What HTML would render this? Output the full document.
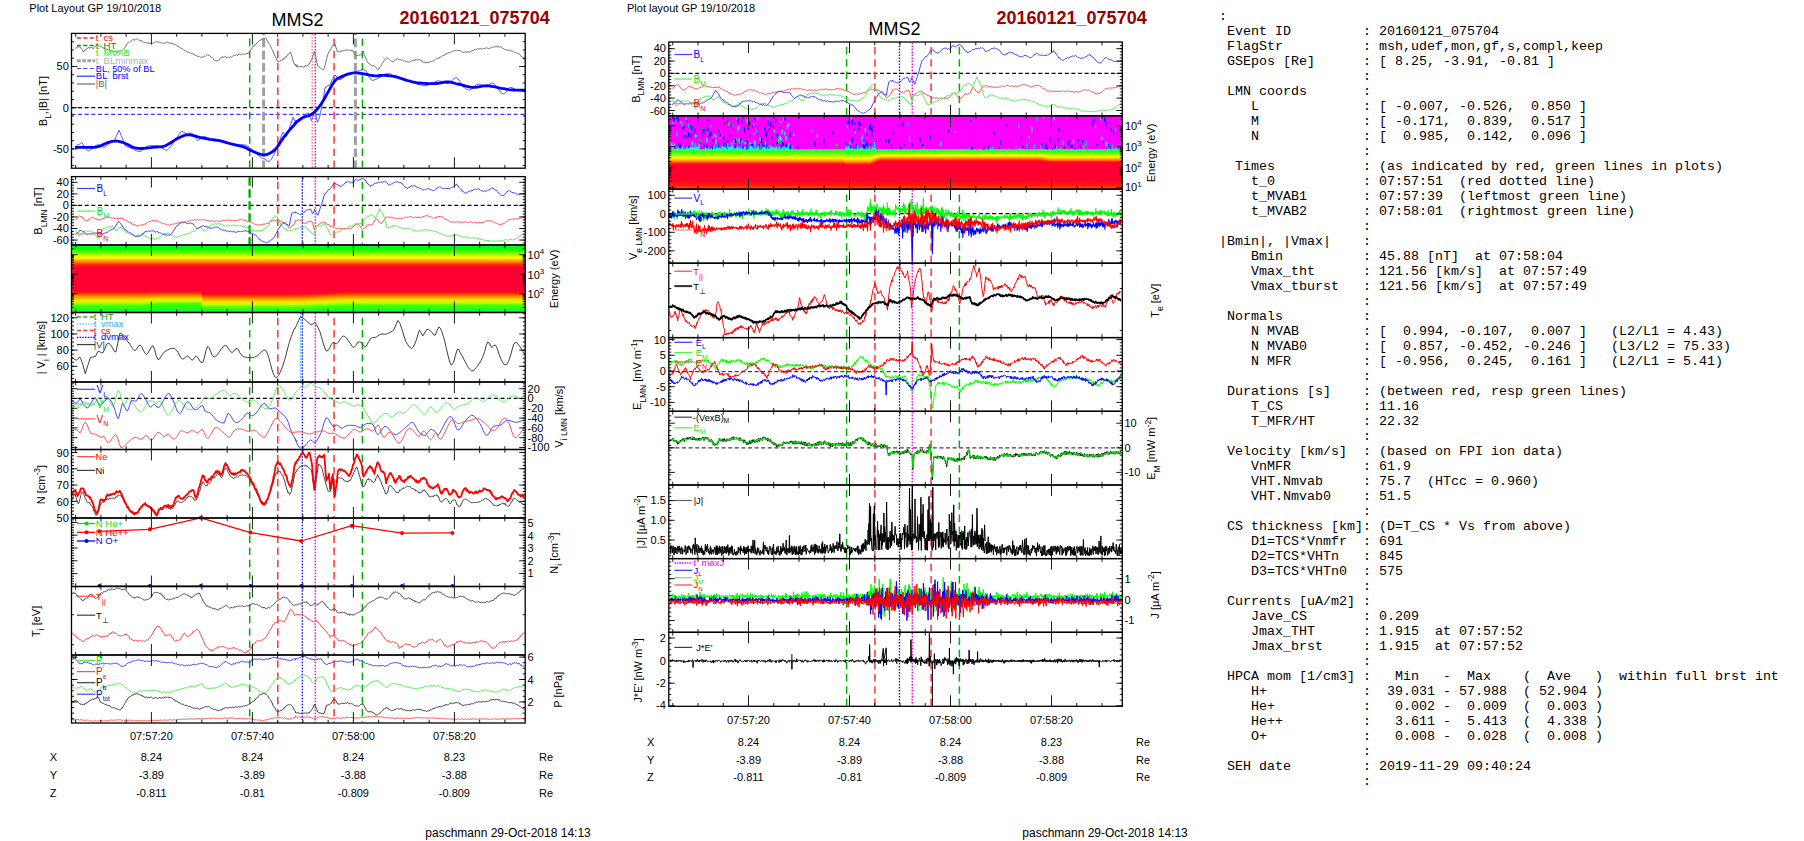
<!DOCTYPE html><html><head><meta charset="utf-8"><style>html,body{margin:0;padding:0;background:#fff;overflow:hidden}svg{display:block}</style></head><body><svg width="1804" height="841" viewBox="0 0 1804 841" font-family='"Liberation Sans", sans-serif'>
<rect width="1804" height="841" fill="#fff"/>
<text x="29.3" y="11.8" font-size="11" text-anchor="start" fill="#000" font-weight="normal">Plot Layout GP 19/10/2018</text>
<text x="271.5" y="26.2" font-size="18" text-anchor="start" fill="#000" font-weight="normal">MMS2</text>
<text x="399.5" y="24" font-size="18" text-anchor="start" fill="#990000" font-weight="bold">20160121_075704</text>
<text x="627" y="11.8" font-size="11" text-anchor="start" fill="#000" font-weight="normal">Plot layout GP 19/10/2018</text>
<text x="868.5" y="35" font-size="18" text-anchor="start" fill="#000" font-weight="normal">MMS2</text>
<text x="996.5" y="24" font-size="18" text-anchor="start" fill="#990000" font-weight="bold">20160121_075704</text>
<text x="425.3" y="837.3" font-size="12" text-anchor="start" fill="#000" font-weight="normal">paschmann 29-Oct-2018 14:13</text>
<text x="1022.3" y="837.3" font-size="12" text-anchor="start" fill="#000" font-weight="normal">paschmann 29-Oct-2018 14:13</text>
<defs>
<linearGradient id="sg0" x1="0" y1="0" x2="0" y2="1"><stop offset="0" stop-color="#00ff60"/><stop offset="0.04" stop-color="#00ff00"/><stop offset="0.10" stop-color="#40ff00"/><stop offset="0.15" stop-color="#c0ff00"/><stop offset="0.19" stop-color="#ffff00"/><stop offset="0.235" stop-color="#ffa000"/><stop offset="0.28" stop-color="#ff4000"/><stop offset="0.31" stop-color="#ff1020"/><stop offset="0.33" stop-color="#ff0033"/><stop offset="0.685" stop-color="#ff0033"/><stop offset="0.715" stop-color="#ff3000"/><stop offset="0.760" stop-color="#ff9000"/><stop offset="0.815" stop-color="#ffe000"/><stop offset="0.855" stop-color="#c0ff00"/><stop offset="0.900" stop-color="#40ff00"/><stop offset="1" stop-color="#00ff30"/></linearGradient><linearGradient id="sg1" x1="0" y1="0" x2="0" y2="1"><stop offset="0" stop-color="#00ff60"/><stop offset="0.04" stop-color="#00ff00"/><stop offset="0.10" stop-color="#40ff00"/><stop offset="0.15" stop-color="#c0ff00"/><stop offset="0.19" stop-color="#ffff00"/><stop offset="0.235" stop-color="#ffa000"/><stop offset="0.28" stop-color="#ff4000"/><stop offset="0.31" stop-color="#ff1020"/><stop offset="0.33" stop-color="#ff0033"/><stop offset="0.685" stop-color="#ff0033"/><stop offset="0.715" stop-color="#ff3000"/><stop offset="0.759" stop-color="#ff9000"/><stop offset="0.813" stop-color="#ffe000"/><stop offset="0.853" stop-color="#c0ff00"/><stop offset="0.897" stop-color="#40ff00"/><stop offset="1" stop-color="#00ff30"/></linearGradient><linearGradient id="sg2" x1="0" y1="0" x2="0" y2="1"><stop offset="0" stop-color="#00ff60"/><stop offset="0.04" stop-color="#00ff00"/><stop offset="0.10" stop-color="#40ff00"/><stop offset="0.15" stop-color="#c0ff00"/><stop offset="0.19" stop-color="#ffff00"/><stop offset="0.235" stop-color="#ffa000"/><stop offset="0.28" stop-color="#ff4000"/><stop offset="0.31" stop-color="#ff1020"/><stop offset="0.33" stop-color="#ff0033"/><stop offset="0.684" stop-color="#ff0033"/><stop offset="0.714" stop-color="#ff3000"/><stop offset="0.757" stop-color="#ff9000"/><stop offset="0.809" stop-color="#ffe000"/><stop offset="0.847" stop-color="#c0ff00"/><stop offset="0.889" stop-color="#40ff00"/><stop offset="1" stop-color="#00ff30"/></linearGradient><linearGradient id="sg3" x1="0" y1="0" x2="0" y2="1"><stop offset="0" stop-color="#00ff60"/><stop offset="0.04" stop-color="#00ff00"/><stop offset="0.10" stop-color="#40ff00"/><stop offset="0.15" stop-color="#c0ff00"/><stop offset="0.19" stop-color="#ffff00"/><stop offset="0.235" stop-color="#ffa000"/><stop offset="0.28" stop-color="#ff4000"/><stop offset="0.31" stop-color="#ff1020"/><stop offset="0.33" stop-color="#ff0033"/><stop offset="0.684" stop-color="#ff0033"/><stop offset="0.713" stop-color="#ff3000"/><stop offset="0.755" stop-color="#ff9000"/><stop offset="0.806" stop-color="#ffe000"/><stop offset="0.843" stop-color="#c0ff00"/><stop offset="0.883" stop-color="#40ff00"/><stop offset="1" stop-color="#00ff30"/></linearGradient><linearGradient id="sg4" x1="0" y1="0" x2="0" y2="1"><stop offset="0" stop-color="#00ff60"/><stop offset="0.04" stop-color="#00ff00"/><stop offset="0.10" stop-color="#40ff00"/><stop offset="0.15" stop-color="#c0ff00"/><stop offset="0.19" stop-color="#ffff00"/><stop offset="0.235" stop-color="#ffa000"/><stop offset="0.28" stop-color="#ff4000"/><stop offset="0.31" stop-color="#ff1020"/><stop offset="0.33" stop-color="#ff0033"/><stop offset="0.683" stop-color="#ff0033"/><stop offset="0.712" stop-color="#ff3000"/><stop offset="0.753" stop-color="#ff9000"/><stop offset="0.802" stop-color="#ffe000"/><stop offset="0.837" stop-color="#c0ff00"/><stop offset="0.875" stop-color="#40ff00"/><stop offset="1" stop-color="#00ff30"/></linearGradient><linearGradient id="sg5" x1="0" y1="0" x2="0" y2="1"><stop offset="0" stop-color="#00ff60"/><stop offset="0.04" stop-color="#00ff00"/><stop offset="0.10" stop-color="#40ff00"/><stop offset="0.15" stop-color="#c0ff00"/><stop offset="0.19" stop-color="#ffff00"/><stop offset="0.235" stop-color="#ffa000"/><stop offset="0.28" stop-color="#ff4000"/><stop offset="0.31" stop-color="#ff1020"/><stop offset="0.33" stop-color="#ff0033"/><stop offset="0.683" stop-color="#ff0033"/><stop offset="0.712" stop-color="#ff3000"/><stop offset="0.752" stop-color="#ff9000"/><stop offset="0.800" stop-color="#ffe000"/><stop offset="0.835" stop-color="#c0ff00"/><stop offset="0.872" stop-color="#40ff00"/><stop offset="1" stop-color="#00ff30"/></linearGradient><linearGradient id="sg6" x1="0" y1="0" x2="0" y2="1"><stop offset="0" stop-color="#00ff60"/><stop offset="0.04" stop-color="#00ff00"/><stop offset="0.10" stop-color="#40ff00"/><stop offset="0.15" stop-color="#c0ff00"/><stop offset="0.19" stop-color="#ffff00"/><stop offset="0.235" stop-color="#ffa000"/><stop offset="0.28" stop-color="#ff4000"/><stop offset="0.31" stop-color="#ff1020"/><stop offset="0.33" stop-color="#ff0033"/><stop offset="0.719" stop-color="#ff0033"/><stop offset="0.748" stop-color="#ff3000"/><stop offset="0.793" stop-color="#ff9000"/><stop offset="0.844" stop-color="#ffe000"/><stop offset="0.881" stop-color="#c0ff00"/><stop offset="0.926" stop-color="#40ff00"/><stop offset="1" stop-color="#00ff30"/></linearGradient><linearGradient id="sg7" x1="0" y1="0" x2="0" y2="1"><stop offset="0" stop-color="#00ff60"/><stop offset="0.04" stop-color="#00ff00"/><stop offset="0.10" stop-color="#40ff00"/><stop offset="0.15" stop-color="#c0ff00"/><stop offset="0.19" stop-color="#ffff00"/><stop offset="0.235" stop-color="#ffa000"/><stop offset="0.28" stop-color="#ff4000"/><stop offset="0.31" stop-color="#ff1020"/><stop offset="0.33" stop-color="#ff0033"/><stop offset="0.716" stop-color="#ff0033"/><stop offset="0.745" stop-color="#ff3000"/><stop offset="0.790" stop-color="#ff9000"/><stop offset="0.841" stop-color="#ffe000"/><stop offset="0.878" stop-color="#c0ff00"/><stop offset="0.923" stop-color="#40ff00"/><stop offset="1" stop-color="#00ff30"/></linearGradient><linearGradient id="sg8" x1="0" y1="0" x2="0" y2="1"><stop offset="0" stop-color="#00ff60"/><stop offset="0.04" stop-color="#00ff00"/><stop offset="0.10" stop-color="#40ff00"/><stop offset="0.15" stop-color="#c0ff00"/><stop offset="0.19" stop-color="#ffff00"/><stop offset="0.235" stop-color="#ffa000"/><stop offset="0.28" stop-color="#ff4000"/><stop offset="0.31" stop-color="#ff1020"/><stop offset="0.33" stop-color="#ff0033"/><stop offset="0.710" stop-color="#ff0033"/><stop offset="0.739" stop-color="#ff3000"/><stop offset="0.784" stop-color="#ff9000"/><stop offset="0.835" stop-color="#ffe000"/><stop offset="0.872" stop-color="#c0ff00"/><stop offset="0.917" stop-color="#40ff00"/><stop offset="1" stop-color="#00ff30"/></linearGradient><linearGradient id="sg9" x1="0" y1="0" x2="0" y2="1"><stop offset="0" stop-color="#00ff60"/><stop offset="0.04" stop-color="#00ff00"/><stop offset="0.10" stop-color="#40ff00"/><stop offset="0.15" stop-color="#c0ff00"/><stop offset="0.19" stop-color="#ffff00"/><stop offset="0.235" stop-color="#ffa000"/><stop offset="0.28" stop-color="#ff4000"/><stop offset="0.31" stop-color="#ff1020"/><stop offset="0.33" stop-color="#ff0033"/><stop offset="0.704" stop-color="#ff0033"/><stop offset="0.734" stop-color="#ff3000"/><stop offset="0.778" stop-color="#ff9000"/><stop offset="0.829" stop-color="#ffe000"/><stop offset="0.867" stop-color="#c0ff00"/><stop offset="0.911" stop-color="#40ff00"/><stop offset="1" stop-color="#00ff30"/></linearGradient><linearGradient id="sg10" x1="0" y1="0" x2="0" y2="1"><stop offset="0" stop-color="#00ff60"/><stop offset="0.04" stop-color="#00ff00"/><stop offset="0.10" stop-color="#40ff00"/><stop offset="0.15" stop-color="#c0ff00"/><stop offset="0.19" stop-color="#ffff00"/><stop offset="0.235" stop-color="#ffa000"/><stop offset="0.28" stop-color="#ff4000"/><stop offset="0.31" stop-color="#ff1020"/><stop offset="0.33" stop-color="#ff0033"/><stop offset="0.698" stop-color="#ff0033"/><stop offset="0.728" stop-color="#ff3000"/><stop offset="0.772" stop-color="#ff9000"/><stop offset="0.824" stop-color="#ffe000"/><stop offset="0.861" stop-color="#c0ff00"/><stop offset="0.905" stop-color="#40ff00"/><stop offset="1" stop-color="#00ff30"/></linearGradient><linearGradient id="sg11" x1="0" y1="0" x2="0" y2="1"><stop offset="0" stop-color="#00ff60"/><stop offset="0.04" stop-color="#00ff00"/><stop offset="0.10" stop-color="#40ff00"/><stop offset="0.15" stop-color="#c0ff00"/><stop offset="0.19" stop-color="#ffff00"/><stop offset="0.235" stop-color="#ffa000"/><stop offset="0.28" stop-color="#ff4000"/><stop offset="0.31" stop-color="#ff1020"/><stop offset="0.33" stop-color="#ff0033"/><stop offset="0.692" stop-color="#ff0033"/><stop offset="0.722" stop-color="#ff3000"/><stop offset="0.766" stop-color="#ff9000"/><stop offset="0.818" stop-color="#ffe000"/><stop offset="0.855" stop-color="#c0ff00"/><stop offset="0.899" stop-color="#40ff00"/><stop offset="1" stop-color="#00ff30"/></linearGradient><linearGradient id="sg12" x1="0" y1="0" x2="0" y2="1"><stop offset="0" stop-color="#00ff60"/><stop offset="0.04" stop-color="#00ff00"/><stop offset="0.10" stop-color="#40ff00"/><stop offset="0.15" stop-color="#c0ff00"/><stop offset="0.19" stop-color="#ffff00"/><stop offset="0.235" stop-color="#ffa000"/><stop offset="0.28" stop-color="#ff4000"/><stop offset="0.31" stop-color="#ff1020"/><stop offset="0.33" stop-color="#ff0033"/><stop offset="0.689" stop-color="#ff0033"/><stop offset="0.719" stop-color="#ff3000"/><stop offset="0.763" stop-color="#ff9000"/><stop offset="0.815" stop-color="#ffe000"/><stop offset="0.852" stop-color="#c0ff00"/><stop offset="0.896" stop-color="#40ff00"/><stop offset="1" stop-color="#00ff30"/></linearGradient>
<linearGradient id="specM" x1="0" y1="0" x2="0" y2="1">
<stop offset="0" stop-color="#ff00ff"/><stop offset="0.452" stop-color="#ff00ff"/>
<stop offset="0.457" stop-color="#00f0f0"/><stop offset="0.465" stop-color="#00ff80"/>
<stop offset="0.475" stop-color="#00ff40"/><stop offset="0.51" stop-color="#60ff00"/>
<stop offset="0.548" stop-color="#c0ff00"/><stop offset="0.575" stop-color="#ffff00"/>
<stop offset="0.602" stop-color="#ffc000"/><stop offset="0.629" stop-color="#ff8000"/>
<stop offset="0.663" stop-color="#ff3000"/><stop offset="0.69" stop-color="#ff0030"/>
<stop offset="0.888" stop-color="#ff0030"/><stop offset="0.943" stop-color="#ff2000"/>
<stop offset="1" stop-color="#ff4800"/></linearGradient>

</defs>
<rect x="71.5" y="245" width="69.5" height="67.5" fill="url(#sg0)"/>
<rect x="140" y="245" width="6" height="67.5" fill="url(#sg1)"/>
<rect x="145" y="245" width="6" height="67.5" fill="url(#sg2)"/>
<rect x="150" y="245" width="6" height="67.5" fill="url(#sg3)"/>
<rect x="155" y="245" width="6" height="67.5" fill="url(#sg4)"/>
<rect x="160" y="245" width="43" height="67.5" fill="url(#sg5)"/>
<rect x="202" y="245" width="99" height="67.5" fill="url(#sg6)"/>
<rect x="300" y="245" width="10" height="67.5" fill="url(#sg7)"/>
<rect x="309" y="245" width="10" height="67.5" fill="url(#sg8)"/>
<rect x="318" y="245" width="10" height="67.5" fill="url(#sg9)"/>
<rect x="327" y="245" width="10" height="67.5" fill="url(#sg10)"/>
<rect x="336" y="245" width="10" height="67.5" fill="url(#sg11)"/>
<rect x="345" y="245" width="180.2" height="67.5" fill="url(#sg12)"/>
<line x1="71.5" y1="107.7" x2="525.2" y2="107.7" stroke="#000" stroke-width="1.3" stroke-dasharray="4 2.6"/>
<line x1="71.5" y1="114.4" x2="525.2" y2="114.4" stroke="#3a3aff" stroke-width="1.2" stroke-dasharray="4 2.6"/>
<line x1="71.5" y1="205.4" x2="525.2" y2="205.4" stroke="#000" stroke-width="1.3" stroke-dasharray="4 2.6"/>
<line x1="71.5" y1="398.4" x2="525.2" y2="398.4" stroke="#000" stroke-width="1.3" stroke-dasharray="4 2.6"/>
<line x1="263.6" y1="34.1" x2="263.6" y2="167.5" stroke="#a0a0a0" stroke-width="3" stroke-dasharray="8.7 3.5" stroke-dashoffset="-4.5"/>
<line x1="355.4" y1="34.1" x2="355.4" y2="167.5" stroke="#a0a0a0" stroke-width="3" stroke-dasharray="8.7 3.5" stroke-dashoffset="-4.5"/>
<line x1="312.2" y1="34.1" x2="312.2" y2="167.5" stroke="#ff6060" stroke-width="1.2" stroke-dasharray="1.5 1.5" stroke-dashoffset="0"/>
<line x1="249.7" y1="34.1" x2="249.7" y2="167.5" stroke="#00b000" stroke-width="1.5" stroke-dasharray="7.5 4.7" stroke-dashoffset="-4.5"/>
<line x1="277.8" y1="34.1" x2="277.8" y2="167.5" stroke="#ff4040" stroke-width="1.6" stroke-dasharray="7.5 4.7" stroke-dashoffset="-4.5"/>
<line x1="315.3" y1="34.1" x2="315.3" y2="167.5" stroke="#ff00ff" stroke-width="1.5" stroke-dasharray="1.5 1.5" stroke-dashoffset="0"/>
<line x1="334.1" y1="34.1" x2="334.1" y2="167.5" stroke="#ff4040" stroke-width="1.6" stroke-dasharray="7.5 4.7" stroke-dashoffset="-4.5"/>
<line x1="362.4" y1="34.1" x2="362.4" y2="167.5" stroke="#00b000" stroke-width="1.5" stroke-dasharray="7.5 4.7" stroke-dashoffset="-4.5"/>
<line x1="249.6" y1="177.3" x2="249.6" y2="244.3" stroke="#00b000" stroke-width="2.4" stroke-dasharray="8.5 3.5" stroke-dashoffset="0"/>
<line x1="277.8" y1="177.3" x2="277.8" y2="244.3" stroke="#ff4040" stroke-width="1.6" stroke-dasharray="7.5 4.7" stroke-dashoffset="-4.5"/>
<line x1="302.3" y1="177.3" x2="302.3" y2="244.3" stroke="#0000ff" stroke-width="1.3" stroke-dasharray="1.5 1.5" stroke-dashoffset="0"/>
<line x1="315.3" y1="177.3" x2="315.3" y2="244.3" stroke="#ff00ff" stroke-width="1.5" stroke-dasharray="1.5 1.5" stroke-dashoffset="0"/>
<line x1="334.1" y1="177.3" x2="334.1" y2="244.3" stroke="#ff4040" stroke-width="1.6" stroke-dasharray="7.5 4.7" stroke-dashoffset="-4.5"/>
<line x1="362.4" y1="177.3" x2="362.4" y2="244.3" stroke="#00b000" stroke-width="1.5" stroke-dasharray="7.5 4.7" stroke-dashoffset="-4.5"/>
<line x1="249.7" y1="313.2" x2="249.7" y2="381.3" stroke="#00b000" stroke-width="1.5" stroke-dasharray="7.5 4.7" stroke-dashoffset="-4.5"/>
<line x1="277.8" y1="313.2" x2="277.8" y2="381.3" stroke="#ff4040" stroke-width="1.6" stroke-dasharray="7.5 4.7" stroke-dashoffset="-4.5"/>
<line x1="302.3" y1="313.2" x2="302.3" y2="381.3" stroke="#0000ff" stroke-width="1.3" stroke-dasharray="1.5 1.5" stroke-dashoffset="0"/>
<line x1="300.5" y1="313.2" x2="300.5" y2="381.3" stroke="#20c0ff" stroke-width="1.3" stroke-dasharray="1.5 1.5" stroke-dashoffset="0"/>
<line x1="315.3" y1="313.2" x2="315.3" y2="381.3" stroke="#ff00ff" stroke-width="1.5" stroke-dasharray="1.5 1.5" stroke-dashoffset="0"/>
<line x1="334.1" y1="313.2" x2="334.1" y2="381.3" stroke="#ff4040" stroke-width="1.6" stroke-dasharray="7.5 4.7" stroke-dashoffset="-4.5"/>
<line x1="362.4" y1="313.2" x2="362.4" y2="381.3" stroke="#00b000" stroke-width="1.5" stroke-dasharray="7.5 4.7" stroke-dashoffset="-4.5"/>
<line x1="249.7" y1="382.7" x2="249.7" y2="448.8" stroke="#00b000" stroke-width="1.5" stroke-dasharray="7.5 4.7" stroke-dashoffset="-4.5"/>
<line x1="277.8" y1="382.7" x2="277.8" y2="448.8" stroke="#ff4040" stroke-width="1.6" stroke-dasharray="7.5 4.7" stroke-dashoffset="-4.5"/>
<line x1="302.3" y1="382.7" x2="302.3" y2="448.8" stroke="#0000ff" stroke-width="1.3" stroke-dasharray="1.5 1.5" stroke-dashoffset="0"/>
<line x1="315.3" y1="382.7" x2="315.3" y2="448.8" stroke="#ff00ff" stroke-width="1.5" stroke-dasharray="1.5 1.5" stroke-dashoffset="0"/>
<line x1="334.1" y1="382.7" x2="334.1" y2="448.8" stroke="#ff4040" stroke-width="1.6" stroke-dasharray="7.5 4.7" stroke-dashoffset="-4.5"/>
<line x1="362.4" y1="382.7" x2="362.4" y2="448.8" stroke="#00b000" stroke-width="1.5" stroke-dasharray="7.5 4.7" stroke-dashoffset="-4.5"/>
<line x1="249.7" y1="450.2" x2="249.7" y2="517.3" stroke="#00b000" stroke-width="1.5" stroke-dasharray="7.5 4.7" stroke-dashoffset="-4.5"/>
<line x1="277.8" y1="450.2" x2="277.8" y2="517.3" stroke="#ff4040" stroke-width="1.6" stroke-dasharray="7.5 4.7" stroke-dashoffset="-4.5"/>
<line x1="302.3" y1="450.2" x2="302.3" y2="517.3" stroke="#0000ff" stroke-width="1.3" stroke-dasharray="1.5 1.5" stroke-dashoffset="0"/>
<line x1="315.3" y1="450.2" x2="315.3" y2="517.3" stroke="#ff00ff" stroke-width="1.5" stroke-dasharray="1.5 1.5" stroke-dashoffset="0"/>
<line x1="334.1" y1="450.2" x2="334.1" y2="517.3" stroke="#ff4040" stroke-width="1.6" stroke-dasharray="7.5 4.7" stroke-dashoffset="-4.5"/>
<line x1="362.4" y1="450.2" x2="362.4" y2="517.3" stroke="#00b000" stroke-width="1.5" stroke-dasharray="7.5 4.7" stroke-dashoffset="-4.5"/>
<line x1="249.7" y1="518.7" x2="249.7" y2="585.8" stroke="#00b000" stroke-width="1.5" stroke-dasharray="7.5 4.7" stroke-dashoffset="-4.5"/>
<line x1="277.8" y1="518.7" x2="277.8" y2="585.8" stroke="#ff4040" stroke-width="1.6" stroke-dasharray="7.5 4.7" stroke-dashoffset="-4.5"/>
<line x1="302.3" y1="518.7" x2="302.3" y2="585.8" stroke="#0000ff" stroke-width="1.3" stroke-dasharray="1.5 1.5" stroke-dashoffset="0"/>
<line x1="315.3" y1="518.7" x2="315.3" y2="585.8" stroke="#ff00ff" stroke-width="1.5" stroke-dasharray="1.5 1.5" stroke-dashoffset="0"/>
<line x1="334.1" y1="518.7" x2="334.1" y2="585.8" stroke="#ff4040" stroke-width="1.6" stroke-dasharray="7.5 4.7" stroke-dashoffset="-4.5"/>
<line x1="362.4" y1="518.7" x2="362.4" y2="585.8" stroke="#00b000" stroke-width="1.5" stroke-dasharray="7.5 4.7" stroke-dashoffset="-4.5"/>
<line x1="249.7" y1="587.2" x2="249.7" y2="654.3" stroke="#00b000" stroke-width="1.5" stroke-dasharray="7.5 4.7" stroke-dashoffset="-4.5"/>
<line x1="277.8" y1="587.2" x2="277.8" y2="654.3" stroke="#ff4040" stroke-width="1.6" stroke-dasharray="7.5 4.7" stroke-dashoffset="-4.5"/>
<line x1="302.3" y1="587.2" x2="302.3" y2="654.3" stroke="#0000ff" stroke-width="1.3" stroke-dasharray="1.5 1.5" stroke-dashoffset="0"/>
<line x1="315.3" y1="587.2" x2="315.3" y2="654.3" stroke="#ff00ff" stroke-width="1.5" stroke-dasharray="1.5 1.5" stroke-dashoffset="0"/>
<line x1="334.1" y1="587.2" x2="334.1" y2="654.3" stroke="#ff4040" stroke-width="1.6" stroke-dasharray="7.5 4.7" stroke-dashoffset="-4.5"/>
<line x1="362.4" y1="587.2" x2="362.4" y2="654.3" stroke="#00b000" stroke-width="1.5" stroke-dasharray="7.5 4.7" stroke-dashoffset="-4.5"/>
<line x1="249.7" y1="655.7" x2="249.7" y2="722.3" stroke="#00b000" stroke-width="1.5" stroke-dasharray="7.5 4.7" stroke-dashoffset="-4.5"/>
<line x1="277.8" y1="655.7" x2="277.8" y2="722.3" stroke="#ff4040" stroke-width="1.6" stroke-dasharray="7.5 4.7" stroke-dashoffset="-4.5"/>
<line x1="302.3" y1="655.7" x2="302.3" y2="722.3" stroke="#0000ff" stroke-width="1.3" stroke-dasharray="1.5 1.5" stroke-dashoffset="0"/>
<line x1="315.3" y1="655.7" x2="315.3" y2="722.3" stroke="#ff00ff" stroke-width="1.5" stroke-dasharray="1.5 1.5" stroke-dashoffset="0"/>
<line x1="334.1" y1="655.7" x2="334.1" y2="722.3" stroke="#ff4040" stroke-width="1.6" stroke-dasharray="7.5 4.7" stroke-dashoffset="-4.5"/>
<line x1="362.4" y1="655.7" x2="362.4" y2="722.3" stroke="#00b000" stroke-width="1.5" stroke-dasharray="7.5 4.7" stroke-dashoffset="-4.5"/>
<path transform="scale(.1)" d="M750 478l8 6 7-5 8-11 9 2 9-3 9 2 8 14 9 3 8 11 8 24 8-12 8-1 8-17 9-1 8-4 9-15 9 11 8 1 9-11 8 1 8 9 8 7 10-17 10-11 7-2 8-11 7-2 9 7 9 6 9 1 8 5 8 4 7 9 8 2 7-1 7 13 8-1 7 3 8-5 7 13 8 0 7-9 8 4 7 8 7 2 8 6 7-5 8 8 7 0 7-4 8 5 7 5 8-1 8-5 7 0 8-9 8 1 7 6 11-10 10-9 9-10 10-14 7-12 8-16 7-11 10-6 10-3 8-8 8-6 7-3 9-10 8-3 8 6 8 2 8-7 8-4 7-2 7 6 8 8 7 0 7 0 7 8 10-3 11 10 9 10 10-1 8 0 8-1 8 6 8 7 7-13 7 12 11 1 10 1 8-5 8-2 9-7 8-2 8-5 9-8 10 14 11-2 7-3 8 7 7 2 8 0 8 1 7 5 7 0 8-1 7-3 7-8 7 1 7-3 8 6 8 4 8-1 10 3 9 4 11-3 10 14 8 2 7-5 7 4 7 4 7 14 7-3 10 4 11 14 10 2 11 3 10 8 10 11 11 1 10 7 7 10 7-1 7 2 8 5 7-4 7 8 10 4 11 1 10 3 10 14 7-2 8 0 8 9 7 6 7-8 8 4 7 3 7 9 7-6 7 5 7-3 8-4 7-9 7 6 7-7 8-5 8-6 8 5 10 2 10 8 7 3 7 10 7-1 8 9 7 16 7 5 10-3 10 12 8-10 8 6 7-6 8-11 7-9 7-10 7 8 7-16 8 6 7 2 7-5 8-6 7 12 8 3 7-2 7-2 8-1 7 1 7-5 8 5 7-6 8-6 7-5 7 4 8-8 7 0 8-5 7 7 8-1 7-14 8 2 7 1 8 9 7-4 7-7 7-3 8 6 8 1 7 0 8-10 9 4 9-7 10-6 9-6 9-23 8-4 7-20 8-10 8 3 7-17 7 0 9-10 9-6 10-15 9-8 9-8 9 1 8-9 7 1 8-5 7-10 7 8 7-5 7 0 7 10 8 20 7 9 8 16 9 8 8 19 9 21 8 12 8 20 10 22 11 24 10 22 11 28 8-3 8 6 9-5 8-6 8 3 8-4 8-16 7 4 7-13 10-9 10 2 7-22 7-7 7 1 11-14 10-11 8 28 8 28 9 34 8 18 8 20 9 1 8 16 8 4 9-5-8-4-8-1-7-10-8 4 9-4 9 5 8 16 8-7 8 6 8 1 10-3 10-4 7 10 8 0 8-1 7-15 8 0 7 3 9 1 9-10 8-10 9-13 8-18 8-9 8-24 7-22 8-23 7-18 8 43 7 26 7 36 7 34 10 17 10 6 9 5 8 6 8 6 7 6 7 0 7-10 9-34 8-33 8-35 9-35 8-19 8-18 9-12 8-17 7-4 7-18 7-11 10 0 11-13 8 32 8 20 8 30 8-9 7 5 7 4 9-13 9 8 9-14 9 6 8 1 9-5 9-7 9-3 9 6 9 6 9-8 8 9 8-8 7 13 7-10 9 14 8 19 8 9 9 11 7 1 8-1 7 1 8-6 7 2 7-5 7 7 7-2 8-22 9-20 7 31 7 16 7 14 7 16 7 20 7 10 7 14 8 5 7 5 8 3 8 11 8-1 8 5 10-3 10 8 8 8 9 11 8 13 10-1 9-15 8-11 7-7 8-16 8-18 8-7 8-15 9-8 8-14 9-7 8 7 8-1 8 9 8 8 9 4 9 11 9 0 10 2 7-4 8-14 7 1 8-10 9-2 8 3 8 7 7-9 8 10 8 4 9-5 8 8 9 5 8-4 9 8 9 2 8-1 9 5 8 0 9 0 8-7 9-8 8-1 9-3 8 3 9 0 8-12 8 8 8-1 8-6 7 4 7-3 7 10 10-5 9 19 10 2 10 2 8-4 8 10 7 2 7-13 7 8 8 0 7-5 8-2 8-6 8 3 8-3 9-11 8 2 8-8 8-8 7-1 8-6 8 8 8-4 9-16 9 3 8-7 8-8 9-2 8-5 8 2 8-14 8-2 8 0 9-10 8 5 9-4 8 0 9-12 9-3 9 0 8-6 8 2 9-8 7 5 8 0 7-1 8 4 7-3 8 1 9 11 9 5 9 0 8-1 9 1 9-4 10 9 7-12 7 7 8-4 8 3 8-5 7 1 9-14 8 2 8-1 8-6 7 0 8-4 7 1 7-9 7 5 9-1 10-4 9 0 8 5 9-2 8-3 8 2 8-4 8-3 8-3 7 3 8 3 7 3 8-3 7-6 10 3 11-11 10 3 10-9 10 4 10 2 7-8 7-1 7 8 8 1 7 0 7-2 10 10 11 5 10 3 10 10 7-1 8 4 8 4 7 0 7-2 8 5 7 0 7 2 7 2 7-1 8 5 7 2 8 7 7 0 7 3 8 3 7 5 8 1 8 3 9 6 8 14 9 11 9 4 8 3 9 19 10 5" fill="none" stroke="#707070" stroke-width="10.0" stroke-linejoin="round"/>
<path transform="scale(.1)" d="M750 1468l11-5 11-12 11-5 11-3 11-9 12-9 11 14 11 19 11 16 11 13 11 10 11 14 12-7 12-6 13-9 13-12 13-11 12-9 13-6 12-6 12 7 12 10 13 5 13 6 11-1 11-7 11-9 12-10 11-9 11-6 13-8 13-4 12-7 11-12 11-32 11-24 20-43 11 27 11 29 11 27 13 33 12 31 17 17 11 5 11 0 12 9 12 4 10 3 11 4 11 6 12 10 11 2 11 7 10-2 11 5 11-6 11-10 11-9 12-8 11-10 11-10 11-5 11-2 11 1 11-4 11 5 11-5 11 5 12-4 11 6 11-1 11 2 11 2 11 8 11 7 11 7 11 7 11 5 12 6 10-9 11-11 11-7 11-14 11-14 12-20 10-11 11-19 11-14 11-20 11-16 10-12 19-25 14 5 13 6 12 5 11 9 12 1 12-6 13 1 13-5 11 14 11 10 12 20 11 12 11 15 11 4 11-4 12-15 13-10 14-7 10-3 11 2 13 8 13 3 13 3 13 12 14-1 13 3 12 5 13 4 12 3 13-3 12 4 13-1 12 6 13 4 12 4 12 5 12 4 12 6 13 3 12 3 13 2 13 6 12-2 11-1 12 2 12 2 13-6 12 2 12-2 11 1 11-1 11 7 12 0 11 8 11 6 11 5 19 20 19 13 12 10 12 10 11 12 11 9 11 13 10 7 13 11 13 7 12 5 12 0 10 11 10 9 11 5 10 3 14-12 13-14 10-22 11-18 11-18 10-28 10-24 11-29 12-34 11-25 11-33 18-38 11 14 11 15 11 13 11-25 11-28 12-41 13-38 20-59 19 38 17-5 11-7 12-8 11-6 12-6 20-16 14-9 14-11 11-7 11-6 11 30 11 22 11 26 12-33 11-38 11-38 12 67 13 58 10-28 10-20 11-50 10-44 11-63 12-68 11-71 12-8 12-12 13-5 13-7 12-25 13-31 12-21 13-21 11 14 12 5 13 19 13 10 20-7 11-12 11-10 12-7 13-12 12-7 11-5 13-5 13 1 13-5 13-2 13-5 12-8 11 0 11-3 11-5 11-5 10-4 10-1 19 7 12 10 12 17 10 20 11 25 11 13 11 15 11 2 10-2 11-5 11-2 12-8 11-5 20-9 10-6 11-9 11-5 10-12 11-2 11 1 10-6 10 2 11 0 10 3 11 9 10 5 10 2 11 0 10 6 11 4 10 9 10 6 11 4 10 6 11 2 10 8 20 8 19 2 10-4 10 5 12 4 12-1 20 11 10 2 11 6 11 3 12 8 11 3 12 3 12 0 12 5 11-2 11 5 12 0 11-6 12-3 11-4 12-6 11-4 11-4 12-7 11-7 10-1 10-7 11 0 13 1 14 2 13 6 13 1 12 7 11 4 12 3 12 3 11-8 11-11 11-7 10-9 10-8 10-12 20-4 11 5 12 17 11 18 11 18 11 18 10 16 11 4 11 14 11 6 10 2 12 5 12 0 20-13 10-5 10-14 11-6 11-11 11-6 10-4 11 1 10-1 11 10 11-2 10 4 11 9 19 6 11-7 12-5 10-11 10-8 12-4 12-2 12 12 11 8 14 17 13 23 13 13 13 21 12 9 12 6 12-4 12-6 10-16 10-21 11-10 11-10 20 3 11 4 11 3 10 10 11 10 10 0 11 5 14 0 14 2 14 2 13-4 20 0" fill="none" stroke="#5050ff" stroke-width="10.0" stroke-linejoin="round"/>
<path transform="scale(.1)" d="M750 1474l16 0 23 0 26 0 27 0 24 0 27 0 27-1 24 0 22-3 25-6 21-9 21-10 22-9 22-10 23-7 24-5 25-2 25 0 25 4 25 7 25 9 21 10 21 11 22 12 20 9 22 6 21 4 23 1 20 0 21-2 21-2 21-2 22-2 21-3 21-2 20-2 23-1 22 0 21-4 22-8 23-12 22-13 21-13 22-15 23-14 20-10 22-11 22-10 20-7 22-4 21 1 23 3 19 4 21 6 21 6 22 6 24 5 25 5 26 5 25 5 25 3 25 3 25 3 25 4 26 6 26 8 25 8 23 6 24 7 20 4 23 6 19 5 21 4 22 6 21 7 20 9 20 11 21 11 22 10 25 10 26 11 26 8 23 5 25-1 21-6 21-10 22-12 22-16 22-22 22-30 23-36 22-34 22-29 22-28 22-26 26-29 25-28 16-18-14 8 14-11 23-16 24-17 22-14 24-9 22-6 21-7 25-14 25-22 21-23 23-29 22-32 23-36 22-41 22-39 22-39 22-38 23-31 21-20 22-11 23-11 20-9 22-8 21-7 20-6 23-4 21-3 23 0 19 2 20 3 22 3 22 4 24 4 25 6 26 4 25 3 25 0 25-3 25-2 25 0 25 2 26 3 25 4 24 4 21 5 19 6 20 7 23 7 21 7 22 7 24 7 25 7 25 5 21 4 23 2 23 2 23 2 22 1 21 1 27 0 25 0 23-1 25-2 25-4 25-5 25-4 25-1 24 3 25 6 25 7 25 6 26 6 26 7 26 7 22 5 24 5 19 3 24 0 23-3 27-5 26-5 24-3 23-1 20 2 23 4 23 4 25 5 26 6 26 5 24 4 24 5 24 4 28 3 19 1 23 1 23 1 24 0 21 0 18 0 14 1" fill="none" stroke="#0000ff" stroke-width="28.0" stroke-linejoin="round"/>
<path transform="scale(.1)" d="M751 2201l7-4 7-11 8-6 7-4 7-12 8-5 7 5 10 0 11 6 7 17 8 2 7 12 10 3 11 9 8-12 9 0 8-3 9-11 8-5 9-7 9-5 10 11 10 5 11 3 8-1 8 12 7-2 11 1 10 0 8-5 8 0 7-9 8 2 8-7 8 3 7-3 7-11 8-1 9 2 9 10 9-6 8 4 9-1 8 4 8 0 8 1 8 4 8 0 7 3 7-4 11 1 10-3 11 2 10-4 10-2 10 12 10 7 11 5 7 0 8 6 8-2 10 14 11 2 7 1 8 2 8 14 7 6 8-7 8 13 7-3 8 0 7 4 8 6 9 2 8-10 8 5 9-9 8 7 9-8 8 4 9-2 10-9 10 3 7-12 7-6 7 3 7-10 7-1 7-1 7 0 7-8 7-4 10 8 9-9 10 9 9 1 9-5 8 5 8 4 8 5 9 3 8 3 8 4 8 7 9-2 8 1 9 6 8-3 9 3 8 10 9-5 8 2 9-8 8 4 8 0 8-9 8 4 9-2 9-9 9 4 9-4 10 1 10-6 7 4 7-1 7-9 8-1 7 7 8 3 10-10 10 1 9 1 9-5 8-2 9-3 8-3 9 1 8-6 9-2 9 4 8-10 11 6 10 2 8-6 7-1 8 7 7-7 7-1 7 3 10 3 10-7 9 4 9 1 9 8 9-3 8 6 8-6 8 3 8 5 8 4 9-4 8-3 8 0 8 4 8-4 9 8 9 0 9-9 9 1 10 6 9-3 7 1 7-6 7-3 7 1 8 5 7-7 7 1 7 0 7-1 9-1 10 6 7-9 7-2 7 11 7 0 9 2 8-6 9 6 7 0 8-8 7 6 9 0 8-3 9-3 8-4 9 0 8-2 9-1 8 7 8-3 9 8 9-8 9 12 9-1 8 5 8 2 9 4 9 0 9-2 8 13 8-3 8 6 8 7 8 1 8 2 9 8 9-3 9-2 8-1 8 6 8-5 10 2 9-7 9-3 8 2 8 1 8-10 9 3 9-2 10-6 7-4 8-14 8 3 8 1 8-12 8 1 9 0 9 3 9-1 8 2 8 5 8-7 9 3 9 4 9 3 9 3 8 15 9 2 7-2 8 11 8 4 7 8 7 8 7 11 10 4 10 1 7-10 8-6 7-11 8-2 7-11 7-17 7-16-7 5 8-1 8-2 7-1 8-9 8 1 10 3 10 4 7 5 8 7 8 9 7 0 8 6 7 1 8-5 8 1 7-1 8-13 8 0 8-5 9 4 9-1 9 21 9 35 8 27 8-17 8-8 8-15 8-2 7-12 9-2 8-6 9-7 9-1 9-3 9-7 8 10 8-2 8 6 9 14 9-3 10 7 7 4 8 12 8-5 9 1 8 13 9-5 7 10 7 0 8 3 7 4 10-4 10 4 7-8 8 9 7-2 8 3 7-7 8 8 7 2 7-10 7 3 9 3 9 4 7-7 8-1 7 1 7 4 8 0 8-7 7-2 9-9 9-10 8-8 9-10 9-1 8-1 9 3 9 14 8 3 9 16 9 10 8 9 9-8 9-7 8-4 9-6 9-18 8-9 10 7 9 1 9-6 8-2 8 2 9-8 8-18 9-21 9-15 8 6 8 8 8 14 9 12 10 0 9 14 8-12 9-4 9-11 8-15 9-12 9-13 8 4 8-2 8-4 10 4 9 0 9 7 8-7 7 11 8-5 9 3 8-1 9 5 7 1 8-3 7-1 7 3 10 1 9-6 11 2 10 1 7-7 7-4 7-1 8 5 7-2 7 3 7-2 7-8 7-1 7 1 8-1 7 6 7 3 7 1 7-7 7 8 8-6 7 2 10 5 10-7 10 0 10 9 7-8 7-1 7 1 8 0 8-11 9 1 9-2 7-1 8-5 8 3 8 9 9-2 9 6 8-1 9 6 9 9 8-8 8 7 7-1 9-14 9 7 9-11 9 4 10-1 9-7 7 8 8 3 7 5 7-2 8 11 8 8 8 2 7 4 8 0 8 8 7 2 8 9 8 1 7 0 8-3 7 6 8 1 7-5 8 8 7-3 8-6 8 10 7-10 8 3 10 4 10-1 11-1 10 1 7-2 7-2 7-2 7-1 7 8 8 0 7-2 7 2 7-4 10-1 10 2 11 7 10-9 11 7 10-2 11 7 10-4 10-1 11 1 10 0 11 1 10-8 10 3 11-11 10-1 11-5 10-2 11 8 10-1 7-4 7 1 7 5 7 7 8 5 7 2 7 2 7-1 7 6 11 3 10 8 10 2 9-3 10-4 9 3 9-13 9 1 8-6 8-7 9-12 8-4 8-6 9-1 9 3 8-6 9-4 9 6 8-4 9 1 9 1 9-9 7 8 7-2 7-3 7-1 8-2 7-5 7 3 7-7 11 4 10-2" fill="none" stroke="#ff5050" stroke-width="10.0" stroke-linejoin="round"/>
<path transform="scale(.1)" d="M751 2303l8 9 7 14 8 7 8 9 7 14 10 2 9-7 7-7 8-13 7-3 8-8 7-6 8-6 8 0 9 7 8-2 9 0 9 1 9-7 8 4 8 7 8 4 10 14 9 13 9 4 8 14 8 10 7 6 8-18 7-11 8-19 7-3 7-14 7-17 7-16 10 2 9-8 7 1 8-2 7-6 8-3 8 1 8-3 7-3 7 1 7 6 8-9 8 1 9 19 8 9 9 16 8-6 8-8 8 3 9-15 9-2 9-8 7 12 8 3 7 8 7 12 8 3 7 10 7 11 9-5 9 4 7 4 7 9 7 1 7-2 8 3 7 1 8 5 7-3 7 10 10 4 9 2 8-4 8 2 8-12 10-1 10 4 10-3 10-5 10 11 10 1 11 11 10 1 8 3 7 7 7 1 8 5 8 9 8-5 8-3 9 2 8 2 9 6 10-6 9-2 9-7 10 6 10-14 11-9 7-7 7-5 7-4 7 2 7-11 7-5 10 2 10-6 8 10 7-9 8 7 8 7 7 0 7 11 8-2 7 2 7 7 8-2 7 7 7 0 8 7 7-1 7-4 7-8 8 0 7-2 7-3 8-3 7 5 8-12 8-4 7 8 11-8 10 2 7-10 7 4 8-6 7-1 7-3 8-6 10-9 10-2 9 4 8-4 8-6 7-13 7-2 7-4 8-7 7-2 7-8 9 9 8 8 9 3 8 15 9 7 8-3 8 2 8-8 8-12 9-18 9-1 9-20 8 7 8-8 8-10 9-1 9 3 8-3 9 2 9 1 9-9 8-1 8 12 8-9 9 13 8-6 8 11 9 2 9 3 9-2 10 5 9-8 10 5 10-4 7 7 7-2 7-4 7 1 8-7 7 0 10 7 10-1 7 5 8-2 7-5 7 3 7 5 8-2 7-5 7 10 7 1 10-7 10 7 9 0 8 7 9-1 8 5 9 8 8 11 9-5 8 5 9 8 9 5 7-3 7 0 7 6 8 0 7-8 8 10 7-8 7 1 8 7 9-6 9 3 9-10 8 5 8-11 11-7 10-2 9-10 9-6 8-10 7-16 8-23 8-10 7-11 9-11 8-7 8-13 9-7 9-1 8 4 9 8 8 20 9 17 8 13 9 18 8 17 9 4 8 16 9 2 8 10 9-2 8 11 9 2 9 2 9 1 8-3 8 9 8-4 8 0 8-11 7-4 8-3 8 4-7-2 10 6 11-9 7 0 8-5 7 1 8-8 9 2 9 5 9-11 7 6 7-3 8 0 7-3 8 4 7 15 8 2 8 8 8 10 8 10 8 0 7 14 9 4 9 5 8 9 13-87 9 1 8-11 8 5 9 1 9 2 10 0 7-3 8-11 8 2 8-11 8-3 8 21 9 16 9 13 8 18 9 20 9 23 8 3 7-3 8-7 8-1 8 4 8-11 8-2 7-8 8-2 7 1 7-2 7-5 8-6 9 3 8-7 9-10 10-5 9 7 8-3 9-4 8-8 9-8 10-7 9-3 8-4 8 4 8-4 9-5 9-11 8-3 9-2 9 5 8-12 9 7 9-2 9-2 9 3 8-10 8 1 8-14 8-12 8-11 8-7 7-13 9-8 9 4 9-15 8 3 9-6 9-3 7 6 8 10 8 5 8 5 8 5 7-16 8-16 8-19 8-18 8-21 8 21 7 9 8 8 8 14 8 22 8 17 7 27 8 28 8 27 8 18 10 1 9 1 8-10 7 4 7-15 8 8 8-14 8-3 8 10 9 2 8-6 9 8 9 3 9 7 8-4 9 11 9 5 9-2 9 3 8 1 9-6 9 6 8 0 9-2 9-5 8 7 9 7 9-5 8 7 9 7 9 0 8-3 9 9 9-2 9 9 8-4 8-6 9 6 8-7 8-7 9 3 9-1 9-2 10-1 9-2 9 2 10 1 10 1 11 8 10-5 7-1 8 10 7 0 8 3 7 3 8-2 10 3 11 2 7 12 8 4 8 1 8-4 8 13 7 2 8-1 8-3 8 13 7 0 7 2 7-5 9 11 9-7 9 4 8-5 9 2 9 1 9-7 7-1 7-8 7-1 10 4 10-5 7 7 8 10 7-1 8 4 7-4 8 8 9 3 9 2 8-1 10-2 11-1 7 12 7 1 8-7 8 6 8-3 7 3 8 3 8-6 8 4 7-3 7 3 8-5 9 4 10 2 7 9 7-8 7 9 8-6 7 13 8-7 8 1 9 4 8 10 9-1 9 4 10-4 10-3 9 3 11 3 10 7 8-10 7 1 7 8 8-9 7 10 8-8 11 3 10 0 7 3 8-11 8 9 7-9 8 6 8-10 8 8 7-7 8-1 7-3 7 3 7-1 10 6 9-5 8-4 7 7 8-11 7 0 8 8 8-1 8-4 8 1 8-14 9 8 7-6 7-5 7-2 7-13 8-4 7-6 7-1 7-4 11-8 10-8" fill="none" stroke="#50f050" stroke-width="10.0" stroke-linejoin="round"/>
<path transform="scale(.1)" d="M751 2346l8-6 9-7 8-4 8-9 8-5 8-14 7 2 8 2 8 4 9 9 8-2 9 12 8 6 9 11 9 0 10-7 10-1 11-3 8 6 8-3 7-9 8 8 7-8 7 6 7-5 8 0 8 11 8-7 8 1 8 10 7-1 7-7 7 8 7-7 8 0 8-8 10 4 10-8 10-1 10-6 8-10 7-3 8-5 7-3 7-4 8-1 10-3 9-14 8-6 8-18 7-14 8-8 7-18 8 7 8 11 8 11 9 7 9 25 9 3 8 16 8 8 8-3 9 16 9 2 9 9 8-1 9 5 9 8 8 13 9-4 8 11 9 6 8 3 9-4 8 1 9 3 8 3 9-12 8 3 8-4 8-7 8-17 9 4 9-16 9-2 9-2 9 2 9-8 10 7 10-4 10-2 10 1 7-1 7 0 8 2 7 8 7 5 8-9 10 1 10 14 8-2 7 1 7 1 8 7 8 5 7-1 8 2 7-2 8 13 7-9 7 6 7 6 9-9 9 6 8-4 8-10 7-4 8-14 8-9 8-17 8-5 7-17 8-8 7-5 8-9 9-6 8-14 9-2 8-1 9-6 8-1 9 2 8-3 8 4 7 9 7 2 7-3 7 0 8 0 7-2 9 0 8 4 9-1 8 4 8 16 8 10 9 8 9 8 9 10 8-9 8 0 8-10 9-4 9-2 9-7 8-3 8 10 8-2 9 3 9-3 9 11 8-1 9 7 8 1 8 3 7-3 8 0 10-9 10 0 11 0 10 0 11-2 10 10 10 7 11 4 7 8 8 3 7-2 8 2 9-2 8 10 9 3 9-5 9 4 8 1 8 2 8-6 8 9 8-1 8 2 9-2 9 3 9 3 9-3 9 1 8-9 7 1 7 3 8 1 7-5 8 4 7-1 7-7 7 4 9-3 9-2 8 3 7 4 7 1 7 2 8 2 7 9 7 3 9 6 8 3 9 0 8 12 9-5 8 9 9 8 8 10 8 5 9 17 9 3 8 4 11 12 10-2 7 7 7-1 7 5 8 4 7-2 7-6 7 1 8-5 7-7 7-9 7 0 8-7 10-6 10-11 9-19 8-18 9-8 8-26 9-14 8-9 8-12 9-18 8-6 9-4 8-13 9-6 9 4 9 8 9 15 8-4 8 11 8 3 8-46 9-46 8-34 8-7 8-3 7-2 8 7 8-7-7-1 9 6 8-1 9 9 8 1 9 2 7 7 8 1 7-8 8-1 8-9 8 1 7-8 8-13 9-5 9-6 9 5 9-10 8 2 8-3 10 25 10 22 10-18 9-27 9 23 8 9 8 17 8 12 8-24 8-22 8-25 9-26 7-20 8-27 8-31 8-22 8-23 8-3 9-9 9-13 8-13 9 3 9-11 8-9 7-11 8-12 8-14 8-6 10-3 10 3 7 12 8-3 7 7 8 10 7-7 8 12 7-5 8-7 7-6 8-1 7-5 7-16 11-3 10-6 7 1 7 0 7-1 8 6 7 6 8-7 8 4 9-3 9-11 8-13 9-8 9 8 8 3 9 1 9-4 8-7 9 3 9-14 8-2 8 12 8 6 8 1 7 11 7 17 7 0 7 14 9 6 9 4 9 14 8-11 8-2 8 0 9-11 9-8 10-1 9-1 9 0 8-11 8 3 7-3 8 2 8-2 8 4 8-7 7-5 7 7 9-6 8 6 9 10 8 15 9 7 8-2 7-7 8 1 7-7 8 2 7-7 7-8 9-2 8-2 9 2 9-6 10 9 9 0 8-2 8 12 8-2 9 9 8 14 8 5 9 14 9 2 9 5 10 2 10-12 10 2 10-16 9 0 8 7 8-5 10-3 10 2 7 14 8-1 7 6 8-4 8 10 8 1 7 2 7 5 7 7 9 0 9 3 7-7 8 5 8-7 8-2 8-8 10 9 10 0 8 5 8 4 8 6 10-1 11-1 8-9 7-5 8-10 8 2 8-12 8 4 7-8 8 7 9 8 9 1 10 1 9 2 9-2 9 2 9-1 10 2 9-1 9 3 10-11 9-2 7-2 8-4 7-2 9-9 9-6 8-14 8 19 8 1 7 15 8 6 7 8 7 7 7 15 9-2 9 15 8 4 9 5 9 0 9-6 8-4 9-7 9-2 8-5 8 1 8 3 9-11 9-4 9-2 9-4 9 4 9-2 8-4 9 3 9 7 8 8 9 1 9 1 9 9 8-10 9 3 8 5 9-8 8-8 9 1 9-1 8-11 9-4 9-4 9-2 8 15 7 0 8 10 8-2 7 11 8 6 8 12 8 4 8 11 7 6 7 3 7 2 8-4 8 7 7-13 11-8 10-14 7-4 7-11 7-2 9-1 8 7 8 7 9 1 9 8 9-2 9 1 9 10 9 3 7 1 7-2 7 3 7 2 8 1 7-8 7 0 7 4 11-9 10 2" fill="none" stroke="#4040ff" stroke-width="10.0" stroke-linejoin="round"/>
<path transform="scale(.1)" d="M719 3571l20 18 25 14 16-19 16-13 16 27 15 43 26 96 25-83 26-77 16-7 19-1 16-5 25-51 16 4 18 10 17-1 20-44 19-45 18-4 20 17 17 28 17 35 17 7 19-91 19-94 16-3 18 23 17 25 17 19 17 22 17 22 17 26 17 26 17 12 17-16 16-29 18-12 15 17 16 33 17 31 16 14 16-14 17-33 16-31 15-11 17 38 16 63 18 39 14-5 14-22 17-28 18-21 16-10 17-10 18-9 18-6 17-2 16 2 18 15 16 24 15 27 15 25 13 14 19-3 16-19 16-10 17 13 18 21 16 11 18-24 20-21 15 15 16 28 17 24 16 3 17-48 16-74 18-44 14 14 15 37 16 40 19 18 15-8 18-19 19-25 19-27 17-22 14-14 23 3 15 23 18 26 20 18 16-13 18-22 17-9 16 18 15 32 20 26 16 8 18 6 20 3 19 2 16 0 18-1 16-4 15-6 15-8 17-14 17-18 16-17 14-8 18 1 20 37 13 40 15 57 16 61 17 50 16 28 15 0 16-18 15-30 16-36 14-37 17-52 17-62 15-62 15-54 20-58 18-49 13-33 6 4 15-34 20-48 17-35 26 7 16 13 19 17 17 15 21 18 18 8 26-26 15 18 18 31 20 42 15 49 16 60 17 55 17 32 17-4 17-27 16-33 15-21 19 6 20 7 15-16 17-25 17-24 16-13 18 5 17 19 17 22 18 26 18 30 16 15 21-21 18-31 20-6 19 6 19 28 20 18 17-21 18-36 18-28 17-9 17-1 18-3 17-11 17-12 18-9 16-1 17 3 19-2 14-6 17-7 17-9 16-11 14-13 22-54 17-37 20 29 19 55 19 63 20 61 19 33 21 28 19 11 17-14 15-31 13-33 18-61 15-44 16 27 17 32 19-30 20-35 19 0 20 13 15 18 15 21 15 7 20-46 19-39 14 12 14 32 18 54 14 52 16 70 17 72 16 60 15 32 22-26 20-76 17-54 14-4 18 36 13 22 15 29 17 33 17 32 16 28 14 19 19 17 15-2 18-15 14-15 16-21 17-26 16-27 15-28 20-57 16-62 16-37 20 21 19 37 19-18 20-8 17 37 18 54 17 46 21 40 18 19 19-2 20-31 18-54 19-70 15-52 27-17 13 17 18 25 19 29 16 26 12 18" fill="none" stroke="#404040" stroke-width="10.0" stroke-linejoin="round"/>
<path transform="scale(.1)" d="M719 4137l14-54 18-48 19 20 19 25 19-31 19-33 17 0 17 10 17 9 17 10 17 9 17 0 17-21 17-30 17-19 17 7 17 20 17 11 17-9 17-17 17-6 17 27 17 38 17 12 17-49 17-76 17-41 17 34 17 68 17 45 17-11 17-33 17-20 17 12 16 25 18 27 14 16 15 20 16 18 16 13 16 3 15-13 16-24 15-29 15-27 15-16 16-2 17 5 16 10 15 9 13 4 19-20 19-6 13 23 14 35 15 39 17 31 18 13 15-11 17-26 18-33 18-35 17-28 17-14 18 5 18 19 17 27 17 24 19 14 17 4 17-1 18-4 17-6 17-9 16-9 17-17 17-22 15-23 14-20 13-14 19-1 15 10 17 4 15-7 16-12 16-14 17-12 15-9 16-11 16-10 16-6 14-2 19 15 16 26 16 16 17-4 17-14 17-7 16 5 16 12 19 15 14 11 15 14 16 14 16 12 15 6 17-2 17-10 15-10 15-3 16 9 16 18 19 17 16 12 18 14 19 14 19 7 17-2 18-20 17-35 15-38 14-35 20-61 18-41 16 0 17 16 18 23 15 26 17 34 17 31 15 17 20-6 18-24 13-21 6-22 14-17 19-20 19-15 17-5 18 1 17-3 18-13 17-17 17-9 18 8 17 17 17 14 17 4 16 0 20 9 14 14 16 20 17 22 16 20 15 15 19 14 15 6 18 6 16 9 17 11 17 8 15 5 18-11 21-9 13 5 15 8 17 10 17 10 16 8 13 5 21-1 16-8 15-4 20 7 19 19 17 24 18 31 17 30 18 31 17 31 18 16 16-8 16-22 20-22 14-12 16-13 17-13 16-10 15-4 18 9 16 20 18 10 14-6 17-12 16-14 17-13 14-7 18 3 15 10 19 0 13-10 16-17 16-18 17-19 15-14 14-7 19 5 16 17 16 20 15 17 18 18 17 17 17 4 17-23 16-35 19-20 15 8 17 20 17 21 16 9 18-14 17-27 17-24 17-17 17-13 18-2 16 11 17 21 17 21 15 12 17-4 16-15 19-14 13-4 15-4 16-3 17-4 16-5 15-6 16-11 16-15 15-15 15-12 16-6 15 4 15 10 16 13 15 10 17 2 14-6 15-13 15-15 15-15 16-12 16-4 17 6 18 13 18 17 18 17 17 13 16 6 18-5 15-13 15-16 15-15 15-10 16-2 17 1 16 3 16 6 14 5 21 15 18 18 13 13" fill="none" stroke="#60ee60" stroke-width="10.0" stroke-linejoin="round"/>
<path transform="scale(.1)" d="M719 3997l20 22 25 16 19-24 19-21 19 28 19 36 19 21 19 5 23-32 22-39 16-25 16-6 18 38 20 38 17-4 18-17 16-17 19-26 19-12 17 14 17 28 17 34 18 51 17 57 16 26 20-73 19-80 16 15 18 41 17 20 19-46 19-56 16-4 17 6 18-2 17-25 17-34 17-17 17 15 18 31 16 30 20 39 18 25 19-14 19-18 15 13 16 19 20 0 16-20 19-34 20-37 19-32 16-17 19 8 15 31 17 37 14 35 16 42 16 35 17 16 15-12 15-28 16-35 15-31 16-15 15 5 16 19 15 25 15 22 15 12 17-3 16-11 17-14 15-12 12-5 25 57 15 8 18 3 18 9 15 15 16 19 16 20 17 16 15 10 17 9 16 7 16 3 13-4 19-52 19-43 13 9 15 22 16 27 17 24 15 13 16-1 17-9 16-14 15-15 13-12 20-27 18-17 13 4 15 13 17 10 19-2 15-14 18-22 19-26 18-26 17-21 15-12 20 6 15 26 16 19 16 2 17-4 16-4 15 0 18 10 20 21 13 12 16 13 17 15 16 17 14 20 19 44 16 51 16 45 20 38 20 33 11 18-19-31 16 40 23 44 20 11 19-4 20-17 19-22 19-24 20-15 15 8 15 16 16 2 19-22 20-35 20-41 17-55 17-60 18-35 16 7 17 27 17 31 15 20 20-3 19-10 16 10 18 14 18 9 16-6 17-12 19-9 14-2 17 0 17 0 16 1 14 1 19 8 16 9 17 3 16-7 16-12 17-13 16-7 17-2 17 0 17 5 15 10 15 33 14 42 16 23 16-12 19-28 19-30 18-15 17 5 17 17 16 21 15 16 16 15 15 11 21 0 15-9 18-13 19-17 19-17 18-16 15-13 23-21 18-17 18-1 19 25 20 40 20 33 16 14 17 12 16 6 16 0 18-16 17-26 17-16 18 2 18 11 16 13 26 32 12-18 16-29 18-35 19-37 19-33 18-25 15-12 19 10 16 32 15 40 14 36 14 19 18-5 17-22 15-28 15-23 19-23 18-21 16-15 18-12 21 6 14 12 17 19 17 23 17 24 16 31 16 38 17 32 16 16 16-8 16-26 16-29 17-22 15-7 16-4 16-1 16-3 15-4 17-11 15-14 16-13 17-8 14 0 15 4 16 5 16 5 16 5 15 1 17-3 18-5 18-7 14-7 11-4" fill="none" stroke="#4848ff" stroke-width="10.0" stroke-linejoin="round"/>
<path transform="scale(.1)" d="M719 4315l20-15 25-10 18 24 20 14 16-33 18-50 17-25 17 23 17 48 17 37 17 11 17 0 17 2 17 11 18 12 16 9 20-5 18-2 17 37 21 27 14-10 16-22 16-26 17-19 14-6 18 34 15 57 18 37 14 0 15-10 17-17 16-17 14-14 17-13 16-14 16-11 15-6 16 1 17 8 16 8 15 2 18-12 16-18 17-8 16 15 17 25 18 11 15-15 16-26 16-27 17-15 16 4 17 15 16 16 14 9 20-13 19-12 14 10 16 19 17 17 16 5 16-14 16-25 16-27 16-17 16-1 17 7 16 9 15 4 18-7 16-12 17-6 17 7 17 12 17 6 17-11 17-17 17-4 16 28 16 42 19 20 14-12 15-25 16-30 16-27 15-15 16-1 16 8 15 12 15 14 15 12 17 15 16 18 16 13 15 5 17-17 16-30 18-23 14-8 16-5 16-1 17 1 15 3 16 6 16 7 15 6 15 3 16-2 15-7 15-5 18 2 16 11 19 18 20 19 18 15 16 7 19-11 15-27 17-32 15-29 17-35 16-31 16-20 17-4 16 12 18 17 15 17 17 21 16 21 15 18 19 17 17 13 15 8 15-1 17-6 13-1 16-1 18 0 16 0 15 2 19 6 16 8 17 5 15-1 16-3 17-4 17-5 15-4 16-5 17-6 16-3 15-1 17 3 17 8 16 9 15 6 16 0 15-3 21 3 14 6 17 10 18 12 19 10 19 7 17 0 16-8 16-14 16-19 15-19 15-15 13-9 18 0 16 9 16 12 15 5 17-6 16-10 16-11 16-6 17 3 17 8 16 8 16 1 18-21 17-29 17-9 17 34 16 55 19 35 15-5 15-21 17-21 18-5 14 11 15 22 16 27 16 25 15 19 15 6 17-12 17-28 16-35 15-33 13-22 19-14 16-1 17 9 16 15 17 24 17 22 16 10 17-15 17-30 18-13 15 16 17 30 17 30 16 15 18-17 17-35 17-20 15 21 16 36 21 8 15-19 17-33 19-40 19-41 18-34 16-22 19-6 16 12 15 17 15 10 17-1 16-6 16-7 16-6 17-3 16-3 16-3 17-4 16-5 16-8 16-5 17-1 15 4 15 9 16 12 19 14 15 14 17 18 18 20 19 18 18 12 17 3 16-11 17-21 16-27 15-28 14-24 13-13 20-4 15 15 17 28 15 37 15 50 17 46 18 23 15-3 17-16 18-23 17-25 14-23 11-14" fill="none" stroke="#ff5050" stroke-width="10.0" stroke-linejoin="round"/>
<path transform="scale(.1)" d="M719 5000l7-15 7-21 9-14 9-14 8 37 8 23 8 27 8 15 6-10 6-24 6-19 7-30 6-21 7-14 7 10 8 0 7 26 8 23 7 9 8 25 7 5 7 10 7-4 8 0 7 19 8 8 7 8 7 8 8 20 7 25 8 11 7 26 7 1 7 0 6-5 7-17 11-40 7-21 7-27 11-12 6-4 6-3 7-2 6-19 7 2 7 1 7-8 7 2 6-10 6 11 7-7 6-8 7 9 7-7 6-2 7 4 6-6 7 0 11 8 8-7 7-16 7 7 6-18 12-4 11 6 7 0 6 0 12 20 7 12 6 7 12 34 12 9 6 18 7 18 7 4 7 20 12 1 6 18 6 5 7 2 6 10 7-3 7 11 6 2 7-2 6-1 7 3 6-9 7-11 6 2 6-17 7-8 6-7 7-21 6-14 6-7 7-2 6-8 6-7 7 3 7 8 6-7 7 6 7 13 6 2 7 1 6 10 7 7 6 1 11 16 8 7 7 16 7 2 7 14 12 21 10 6 11-29 7-12 7-20 11-5 6-1 6 2 7 0 7-13 7-6 7 5 7-8 7-2 12 10 7-10 8 10 6-3 6 11 12 2 6-14 6 1 6 5 7-13 6-13 6-5 7-10 6-16 7-7 6-13 6 4 6-4 12 15 6 3 6-4 8 8 7-9 11-8 7 2 6-9 7-1 6-12 7-7 7-16 7 5 6-18 6 5 6 2 7 2 7 2 6-1 7 11 6 9 6-3 6 18 7 4 6-9 6 3 7-17 6-15 7-13 7-30 7-10 6-20 7-31 6-9 11-38 12 13 9 14 8 15 9-5 10 1 6-20 6-5 7 4 7-10 7-9 7-17 8-6 7-5 7-13 8 7 6-11 7-4 6-10 6-11 10-11 6 12 6-7 6 9 10 22 10 9 12-36 12-44 7-4 7-19 11 16 11 16 6 16 6 11 7 19 7 9 8 4 8 7 11 7 6 5 6-8 7-6 7 0 7-4 7 3 7 0 8-6 7-9 7-1 6-2 7-2 12-4 10 8 9-6 8 3 6 4 6 2 11 12 11 7 12 21 11 24 6-1 6 20 8 10 8 10 11 22 6 25 7 3 7 25 6 5 8 19 7 10 6 21 7 18 7 2 6 16 11 20 8-7 8 6 6 0 6-2 11-30 12-16 7-24 6-16 7-6 6-35 6-7 7-25 6-20 6-19 8-26 7-31 7-22 7-28 8-4 8-16 7-2 7-11 7 9 8-2 7 17 8 7 7 14 6 6 7 21 7 23 6 16 6 35 6 13 6 26 7 10 6 28 7-7 6 23 6-3 7-11 7-16 7-36 7-32 7-36 10-52 6-33 11-4 7-21 7-2 7-13 7-10 6-2 7-10 6 8 6-14 7 1 7-3 6 1 7-2 6-3 7-1 7 14 7-9 6 8 6 9 8 2 7 12 6 6 7 4 11 24 7 63 6 54 7 42 6 30 6-30 6-31 7-63 7-52 7-39 6-52 7 8 7-6 6 12 7 5 6 17 7 16 6 28 7 31 6 22 7 24 6 30 7 21 6 26 7 20 7 15 7 0 6 6 6-2 7-21 7-35 12-61 6 61 7 48 6 58 12-88 7-35 7-23 7-35 10-10 6 6 7-2 7 7 7-8 7 7 8 5 7 13 7 8 7-5 7 10 11-4 8 6 8-1 6-17 7 8 12-21 11-27 8-15 7-22 8-12 7-18 8-18 8-5 7 24 7 20 7 28 8 25 7 25 8 38 7 15 7 24 7-5 7 2 6-9 6-17 6-10 7-25 7-12 6 5 7-13 6 17 7-5 7-1 7 9 7 13 7-1 6 8 12-7 7-10 8-30 8-6 9-25 10 24 12 23 7 15 6 11 7 26 7 22 7 5 6 22 7 6 6 28 10 14 8-12 7-10 11-51 6-12 7-4 12 8 6 11 7 6 7 4 7 7 7 14 6 6 7 8 6 11 7-8 6 8 12-14 6-17 7 5 7-6 7-5 11-15 12 9 7-9 6-2 7-8 6-4 7-1 8 2 7 2 7-1 6 0 7 13 6 3 7 7 7-7 7 13 8 3 7-4 7 18 7-4 7 2 6 4 12 19 11-8 8 0 8 0 10-18 6 2 7-12 11 14 6 10 7 8 7 9 6 3 7 14 7 13 7-4 7 7 6 3 7-9 7-3 7 8 7-14 7-2 6-4 7 7 11-7 7 16 7-1 12 33 6 16 7 4 6 4 6-3 7-13 7-6 7-1 7-5 6-8 6-1 7 2 7 10 6 12 7 12 6 9 6 10 6-8 7-5 6-17 6-7 7 0 7-2 6-3 6 3 7 13 6 19 7 18 7 0 7 15 6 3 7-2 6-4 7-24 6-1 7-22 6-13 7-2 6-6 7-7 6 4 6 2 6 3 6 5 7 4 7 7 8 5 11 5 6 5 7 0 6-1 7-1 7 5 7-6 7-1 6-1 7 8 7-9 6-1 7 0 7-1 7-2 7-5 6-5 7-10 7 7 6-6 6-9 12-3 7 4 8-7 6 11 7 8 6-4 6 6 6 1 6 15 6-2 6 5 6 13 6 2 7 15 6-2 8 6 7-1 12 4 7-4 6-8 7 9 7-15 7 3 7-2 7-6 6-4 12-1 8 12 7-13 7 19 6 1 6 2 6 8 6 0 6 4 7-5 6-14 7-14 6-11 7-2 6-18 7-14 6 2 7-8 6 4 7 8 7 3 6 4 7 10 6 1 7 10 7 2 7-5 7 13 8-2 7 14 6-1 10 4" fill="none" stroke="#404040" stroke-width="10.0" stroke-linejoin="round"/>
<path transform="scale(.1)" d="M719 4953l7-20 7-5 6-21 6 2 6-12 6 10 6 27 7 4 6 24 7-20 7-12 5-7 5-5 6-29 5-6 5 2 5-1 8 0 7 5 7 31 8-3 7 33 8 3 7 1 7 5 7 6 8 14 5-8 5 14 5 7 7 12 7 21 5 6 5 16 5 20 8 32 7 16 7 7 7 16 7-19 7-19 6-20 6-34 6-33 6-16 7-3 6 5 7 3 6-4 6 18 6-16 7-6 6-4 6-27 7-6 6-13 6 10 6 1 7-6 6 5 7-14 6 7 6-4 6-3 7-5 6 7 7 0 6-14 6 1 7-18 7 10 6-4 7 4 6-2 6-11 7 12 6 16 6 2 6 25 7 9 6 15 6 10 6 27 6-2 6 15 6 14 7 22 7-7 7 18 6 8 6 14 6 5 6 7 7-7 6 9 7 3 7 16 6 5 7-16 6 1 7 1 6-5 7 1 6-6 6-16 7-16 6-2 7-12 6-6 6 0 7-15 6-8 6-2 7 1 7-14 6 22 7 0 7 7 6 4 7-3 6 6 7 0 6 17 5-7 6 6 5 8 5 5 5 9 7 3 7 8 6 11 6 7 5 9 5-4 6 9 5-16 7-26 7-13 6-2 5-3 6-9 6 12 7-1 7-15 7-3 7-12 7-2 7 2 6-3 6 10 7-14 8-2 6 23 6-6 6-6 6 11 6-14 6 8 6 0 7-13 6-19 6-25 7-13 6-20 7 3 6-15 6 4 7-11 7 1 6 17 7 9 6 2 6 1 6 3 7-3 7-12 6 3 6-7 6-12 6-6 7-4 6-9 6-2 7-6 6-19 6 3 7-1 7-3 6-12 7-2 6 4 6 4 5 21 6 31 7 13 7 6 6-22 5-11 7-21 6-40 7-15 7-22 7-27 7-25 6-20 6-21 7 15 7-9 6 27 5 20 7-2 6 11 6 10 6-7 6-17 6-7 7-7 6 9 7-9 7-22 6 8 7-3 6-15 7-15 7-3 7-17 6-9 7 15 5-11 6-6 7 14 8-5 5 20 6 10 6-10 6 3 6-15 6-18 6-17 6-32 7-9 7-20 6 22 6-8 6 13 7 14 7 21 6 4 7 24 7 4 6 9 6 8 7-8 7 13 6-7 6-4 6 14 6-16 7 3 6 3 6-7 6-8 7 0 6-4 7 1 7-19 6 6 7-10 6 0 6 10 7-3 7 5 6 10 6 9 6-2 6 11 7 7 6 9 6 12 6 3 5 12 6 8 6 21 6 6 6 15 5 11 5-5 5 19 6 20 6 13 7 0 7 16 6 24 8 8 7 21 6 11 7 28 7 15 6 15 6-9 5 20 5 2 5-9 6 18 6-3 6-22 6 6 5-23 6-11 6-2 7-20 6-31 7-15 6-19 6-27 7-26 6-20 6-14 8-51 7-24 7-40 7-46 5-8 6-9 5-18 7-11 7 19 5 1 5 10 5-13 7 16 8 8 7 28 6 0 7 10 7 20 6 24 6 12 6 2 6 13 7 38 6 13 7 25 6 8 6 4 7 19 7-32 7-34 7-24 7-49 5-30 5-48 6-5 5-26 5 10 8-20 7-14 5-3 5 1 5-22 6-11 6 0 7-17 7-13 6-1 6-6 6 9 7 8 7 9 7 20 6-6 6 9 7-20 7-10 6-17 6-4 7 14 6 34 7 33 6 29 7 81 6 84 7 31 6 65 7-75 7-64 6-77 6-93 7-11 6-9 7-6 5-10 6 14 5 2 6 3 5-1 6 4 6-13 7-5 6-8 7 100 6 74 7 82 6-18 7-1 6-21 7-27 6 76 7 84 6-39 6-37 7-44 7-32 6 66 7 85 6 69 6-43 5-41 5-19 6-58 5-43 6-51 5-5 6-11 5 2 5-4 5 9 6-9 5 7 7 0 7 10 7-4 8 3 7 11 7 2 5 11 6 2 5 11 5 4 5 7 6 5 5-10 5-15 5 0 6-32 5-6 6-21 6-32 6-3 6-20 6-27 7-19 7-8 7-25 6 14 7 5 7 21 7 13 7 18 7 11 6 23 5 11 6 59 7 49 6-14 7-7 5-8 6-20 6 3 5-17 5-9 5-11 7-4 7-10 7-11 7 17 6 2 6-3 6 19 7 21 6-2 7 26 5-31 5-24 5-16 6-9 6-30 5-7 5 16 6 0 5 8 6 20 5 22 6 19 7 5 6 9 7-7 7 8 6 11 6 19 6 33 7 48 5-26 5-13 7-20 7-16 7-13 8-14 6-2 6 11 7 14 7 15 7 8 7 33 6-7 6 26 7-8 7-26 6-5 7-7 6-5 6-20 6 4 6 6 6 30 6-2 8 16 7-2 6 6 5 7 7-24 6 8 6-14 7 0 7-10 7-17 7 12 7-12 7-8 6 1 6 15 7 4 7 3 6 2 7 11 7 6 7 16 6-13 6 18 7 5 6-18 7 15 7-10 6-2 7-20 6-4 7-5 6 9 6-10 7-5 6 8 6 3 7 6 6 13 6 29 7 0 6 26 7-3 7 7 7 12 6-6 7 5 7 10 7-4 7-6 7-8 7 1 7-3 7-12 6 1 5-14 5 15 7 16 8 28 5 18 6 13 6-9 5 17 7-28 7-1 7-13 7-11 7 6 6 2 7-6 7 18 6 9 7 22 6 6 6 5 6-8 7-7 6 1 6-24 7-13 7 8 6 10 6-4 7 7 6 16 7 12 7 19 7 1 6 9 7-6 6 0 7-7 6-18 7-23 6-15 7-6 6-13 7-1 6-6 6 10 6 21 6-12 7 15 7 7 8 9 5-13 6 3 6 0 7 4 6 1 7 12 7-3 7 0 7-19 6-1 7 14 7 3 6-11 7 0 7-16 7 5 7 9 6-6 7-3 7-1 6-19 6-5 6-1 6 7 7 5 8 6 6-2 7 1 6 6 6-2 6 8 6-6 6 25 6-4 6 26 6 5 7 2 6 7 8 9 7 15 6 2 6-13 7-2 6 8 7-1 7-8 7-6 7 5 7-15 6 4 6 3 6 10 8-2 7 9 7-1 6 3 6 6 6 23 6-5 6-8 7-15 6 1 7-11 6-21 7-19 6-7 7-3 6-25 7-3 6 7 7 7 7 12 6-3 7 21 6 4 7 1 7-4 7 19 5-13 5 12 5-11 7 0 6 14 10-4" fill="none" stroke="#ff0000" stroke-width="18.0" stroke-linejoin="round"/>
<path transform="scale(.1)" d="M719 5930l10 9 9-17 9 16 8-4 7 9 7 19 7-6 9 15 8 5 9 9 9 9 8 1 8 15 10-14 10 1 9-11 10-4 7-6 7-1 8-17 7-11 8-4 7 6 8-8 8 17 7 3 7 12 8 3 7 13 9-10 9-5 10-8 10-17 14-17 8-7 8 9 8-12 9-9 8 7 9-9 7-1 7 0 8-12 8-1 7 6 8-13 8 8 8-12 8 8 7-1 8 4 8-3 8-6 8-5 8-1 8 6 8 0 7-6 14 15 9-5 9 5 8-5 8 3 8 1 9 11 7 6 8 9 8 9 8 17 8 10 8-3 9 10 8 3 8 9 7 7 8-13 8 8 8-9 8-6 8 13 8-7 8 1 7 7 8 1 7 8 8 5 8 5 8 6 7-2 8-3 8 0 8-4 8 3 8-11 8 0 8-14 8-6 7-4 8-23 13-12 9-3 9-1 8 2 8 2 8-4 9 13 14-6 8 20 7-2 8 18 8-5 8 22 8 4 8 8 8-2 7-4 8 14 7-8 7-5 8 7 7-3 8-2 8-7 8-3 8 5 8-5 8-8 9 0 9 0 9-5 9-8 9-6 9-5 9-6 8-4 8 2 7-7 10 12 9 2 8 4 9-4 7 11 7 7 7-3 7 16 9-6 10-8 8-4 9-15 7-5 8 0 10-1 9-6 10-6 9 14 8 19 8 12 9 24 9 21 9 4 8 17 8 11 8 14 9-7 8 12 9 1 9-2 14 8 8 9 7 0 8-4 8 12 8-8 8 5 8 10 8-1 8-11 8-3 8 1 8-1 8-8 8-1 7-8 8-3 13-8 9-2 9 4 8 7 7 7 9 9 9-5 14-5 7 9 7-9 8-1 7-7 8 9 9-12 8-1 9 6 8-5 8-5 9 9 9-8 9-1 10 10 9-3 9-1 8-9 9 9 7-5 7 3 10-12 11 2 7-5 8-12 7 2 8-1 8 6 8 1 7 3 8-5 10 12 10 7 8-7 8 9 9 11 9 4 10 4 9-10 10 10 9 7 9-3 8-6 9-7 9 11 8-7 8-10 8-11 7 0 8-6 7-8 9-9 8-11 8-7 8-5 9-6 9-3 7-11 8 5 8-11 8-8 8-2 8-1 9 1 8 6 8-5 8 8 9 11 9 9 8 20 8 1 13 14 9 12 8 7 7 0 8-6 8-5 7 7 9-5 9-6 10-2 9 4 8-1 8-3 9-16 8 1 9-1 8-5 8 9 7-11 7 19 7 1 7 6 9 4 9 16 10-11 11-1 9-7 9-11 9 12 9-2 8 5 8 3 8-10 10-11 9-2 9-7 9-10 10 19 10 2 9 20 10 5 9 19 10 3 10 9 10 14 9 1 10-2 10-6 10-12 9 14 9 3 7 12 7 16 7-2 7 6 8 0 8-8 9 8 8-10 9 1 8 6 8-7 9 17 8-6 8 8 8 9 10-11 9 17 7-16 7 9 9 0 8 5 8-12 9 8 8-6 8-5 7-7 7-2 10-3 10-5 8-7 8 0 8-14 8-3 9-18 8-7 8 1 8-6 10-19 9-13 8-2 7-4 8-5 8-3 9-10 8 0 8-3 8-5 7-5 8-6 9-11 9 4 8-12 8 6 9-8 9 2 7 0 8 5 8-1 8 8 8 6 8-2 9 3 9-2 7-5 7-7 8-7 8-6 7-18 8-11 8 3 8-20 9 8 8-4 7-7 8 9 8-1 8 15 8-4 8 6 8 6 8 18 8-1 7 8 13 19 10-2 10 2 7-5 7 0 9-10 9 13 14-1 8 13 8-2 8 13 8-9 8 19 8-9 8 8 9 2 8 7 8-5 8 1 8-4 8-11 8-9 8-4 8 4 14-4 9-12 9-13 8-4 7-8 10-13 9 0 7-12 7-6 8-3 8 3 9 1 8-11 8 1 9 2 7-7 7 3 9 4 9-1 8 2 8 13 9 5 9-2 14 16 7 2 7 7 8 3 8-1 8 7 8-3 9 7 9-7 8 4 8 2 9 5 9-5 9 2 9-3 9 0 10-8 8-1 9-4 8-3 8 9 9-1 8-4 8 5 7 4 7 12 8 3 7-1 8 12 8 2 9-1 8 5 8 11 9-12 8 4 10 8 9 5 9 3 9-7 9 8 9-10 8 5 8 9 9-3 8-3 9 2 8-3 8 0 8 5 7 0 7-13 14 6 9 3 9-7 7-3 8-3 9-3 10-2 13-8 7-14 8 8 7-18 8-2 8-12 8 0 8-14 9-2 7-3 8-5 8 1 8-7 8 4 9 5 8-3 8 6 8 0 8-6 7 0 7 6 12 3 10 1 10 7 10 2 9-3 14-8 8-9 8-6 9-7 10-3 8-19 9-8 8 5 7-13 11-10" fill="none" stroke="#505050" stroke-width="10.0" stroke-linejoin="round"/>
<path transform="scale(.1)" d="M719 6329l9 7 9 5 9 18 9-6 9 15 7 13 8-7 8 15 8 8 9-3 8 11 8 8 7-1 9 2 8-12 8-5 8-9 9 0 9 0 14-12 8 0 7-9 8 2 8-13 8 1 8 4 8-1 8-6 8-5 8 3 8 1 8 3 8 10 8-8 7 13 8 2 13-12 10 4 10 1 8-9 8 4 8 4 7-16 9-2 8-17 7 3 8 1 7-15 7-1 8 3 9 12 10-4 10 6 10 12 9 12 10-4 8 3 8 6 10-11 9 5 8-12 7 1 9 4 8-15 7 13 8 6 8 1 8 10 8 21 8 9 9-8 8 15 8 7 7-9 8 7 8-8 8 5 8 4 8-1 8 3 8-11 7 5 8 9 8-3 8-2 9 0 7 9 8-7 14-12 9 6 9-13 8-7 8-12 8-7 9-13 7-17 8-4 7-24 8-5 8-26 9-1 8-5 9-11 7 8 8-4 8 19 8 5 8 10 9 25 7 3 8 12 13 23 10-10 9 2 10-12 9 7 13 2 8 6 7 23 8-3 9 23 8 8 8 2 8-7 8 4 8-2 8-1 9-5 8-3 8-20 9-15 7-2 7-17 12-11 9 18 8 13 9 0 7 2 8-1 9-7 10-14 10-2 10-21 10 1 10-7 7-3 8-11 7-5 8 1 7 9 8 8 8 21 8 10 8 29 9 14 8 20 9 22 9 23 8 12 8 7 8 4 8 12 9 13 8-1 8 9 7-11 9 13 9-3 8-11 8-7 8-5 9 1 8-16 8 7 8-4 8-6 8 5 9-1 7-10 8 9 9 0 9 4 8 8 8-4 9 12 8 0 8 7 8-12 8 6 8-5 9-3 10 3 7-12 7 11 8 3 8 5 8-1 8-1 8 5 8 11 7-4 7 2 10 9 9 7 8 5 8-4 8 13 8-7 9 1 8-18 9 6 8-16 9-4 8-10 8-12 8-21 8-6 8-12 10 0 9-19 8-3 8-6 9-3 10 11 9-3 10-12 9 2 10-8 8-5 9-8 9-7 9-17 8-14 9-10 7-19 8-11 13-15 10-30 10-14 9 1 10-22 7-1 8 6 9-7 8-9 9-4 9 2 13-2 9 10 8 5 9-1 14-24 8-18 9-20 9-18 9-18 7-24 8-7 7 6 8 13 7 5 8 16 8 26 6-6 12-6 9 0 9 1 9 2 9-2 9-2 8-3 9 7 9 3 8 3 8 12 9 1 9 15 8 4 9-3 9 14 9 1 8 7 9 8 13 8 10-7 10-12 8-2 9 12 7 4 7 3 7 16 10 10 11 17 9 1 9 19 9 4 8 4 9 19 8 3 10 19 10 7 9 10 10 26 9-16 9 1 11-2 10-3 8 18 8 9 9 4 9 5 9 15 9 1 8-4 9 11 8-5 9-2 9 2 9 3 8 1 7 11 9 10 8 1 8-3 9 16 8-7 8 11 8 8 9-2 8 3 9-3 8-9 8-4 8 3 7 1 9-11 10-2 8 2 8-12 9-3 8-9 9-5 9-25 8-11 9-4 9-13 8-20 10-8 9-6 9-1 10 0 7-17 8-6 9-8 10-21 12 15 8 10 7 8 9 7 10 7 13 9 8 22 7 4 8 12 8 13 9 15 8 3 8 13 9 8 7-11 8 8 8 10 9 0 8 4 9-12 8 6 8 7 7-5 7 3 12 9 9 5 8 15 9 31 13-8 7-11 8 6 9-15 8-8 9-3 9-9 7 4 8 3 9-3 8 11 9-9 8 8 8 5 7 13 8-4 8 10 9-5 8-2 8-1 9-7 8-4 8-19 8-1 8 5 9-11 9-4 8 3 9-4 8 9 9-5 8-14 9 8 9-14 8-11 9 2 9 1 8-6 9-3 9 10 9 4 8 11 9 0 9 6 8-14 9-8 9 1 8-6 9 2 8 8 8 8 9 21 8 19 9 0 10 14 7-4 7 10 9-7 8-10 8 9 9-12 8-6 8-3 7 10 7-5 9-12 9-3 7-4 7-17 10 7 10-4 8 4 7-14 8 10 8 1 9 8 9-6 10 8 9 6 9-7 10 5 9 7 9-13 8 14 9-11 9 0 9-4 9 6 9-7 9 2 9-13 8 10 9-2 8-3 8-9 9 1 9 3 8-6 9 15 8-8 8 10 7-10 7 9 13 9 9 14 10 13 10 6 10 19 12-4 8 4 7-4 8-6 8-6 9-19 8-9 8-2 8-11 8-2 7 3 8-9 9 4 8-5 7-3 8 10 8-13 7 10 8-6 8 1 7-9 8 9 8 1 8-11 8 4 7 3 8-4 8 3 8-3 8-9 8 3 8-5 8-12 9-6 10-8 8-13 9-15 8-4 7-2 11-16" fill="none" stroke="#ff4040" stroke-width="10.0" stroke-linejoin="round"/>
<path transform="scale(.1)" d="M719 6596l13-11 9 0 10-6 8 16 8 9 9 10 9 6 9 12 8 6 9-4 9 5 10-6 10-17 7 10 8-3 8-1 8 1 9 7 8-1 8 5 8 2 8-4 9 10 8 5 8 3 9-3 9-6 7-1 7 1 8 8 8-9 8-1 8 5 8-9 8 1 7-2 7-5 9 6 9 4 8-6 8 2 9 3 8-3 14 4 8 3 7-3 8-3 8 3 8-10 8 5 8-2 8 3 8-3 8 10 8-4 8 5 8 12 8 7 7-3 8 3 13 1 9-4 8 0 8-13 7-9 10-3 9-11 8 4 7-1 8-3 9-7 9-4 9-1 9-8 9 7 9-6 9-2 8-4 8 3 9 2 8-2 8 7 8-1 7-3 8 5 7 7 7-3 8 2 7-6 8 5 7 0 8-2 8 0 7 1 8-2 8-2 7-4 8 3 7 6 8-6 7-4 8 1 7 8 7-4 8 2 7 1 8 6 8 8 9-5 8 0 8 1 8 1 9 0 9 3 9 3 9-2 9-3 9 3 8 4 8-9 8 2 8 7 8 2 8 1 7 2 7 5 7-2 8 6 7 4 8-5 8 7 8-1 8 3 9-9 9 11 8-1 9 3 9 1 9-8 9 5 9-6 8 5 7 4 9-9 9 1 8-5 8 0 8-1 7-3 8 9 7-3 13-7 8 1 9-3 7-4 7-2 10 3 10 0 7-2 7 4 9 6 9 3 9-1 9 9 10 8 9 3 9 1 9-3 7 6 8-2 9 1 10 4 7 2 8 4 7-3 8-6 7 2 8-5 8-6 8-8 8-6 8-10 8-3 8-10 8-5 7-4 9 3 8 4 8 7 8 7 9 0 9 9 7 2 8 0 7-4 8-9 9 7 8-2 8-11 8 2 7-2 7 3 9-4 9-6 8-4 8-2 8-3 9 7 8 3 8-8 8 7 9 5 8-8 8 6 7-2 8 6 8-9 8-19 8-3 7 3 7-9 13-1 8 4 8 0 9 3 9-6 9-3 10 9 9-7 9 7 9 4 9-6 9 2 8-6 9-2 9 3 9 1 9 0 8-14 9 9 8-7 8-4 8 0 8 1 8-2 9-2 8 10 7-1 8 0 7 3 7 5 8-8 7 10 7 1 8-4 8 4 8 0 8-1 7 4 8-1 8 10 7-8 8 6 7 0 9 4 9-3 10-8 9-2 8-6 8-2 11 1-7 16 11-15 8-3 7 2 10-8 9-6 9 5 9-14 7 4 8-4 10 0 9-2 8 3 8 6 9 7 8 0 8 6 8 4 8-6 8 12 8-1 9 1 8 2 8 6 9-6 8-4 8 8 9-12 8-2 8 6 8-4 8 1 8 12 9 11 8 4 8 18 9 4 10 7 14-2 7-9 8-1 8 3 8-4 9-11 8 3 8-4 8-2 8-3 7-4 8 1 8 6 8-10 8 7 8-4 7-6 8 9 8-9 8 11 8-5 8 9 8-1 8-2 8 5 8 6 7-9 8 1 7 1 9 4 8-9 8-4 8 0 8-5 8-6 8-1 8-8 8 0 8 1 7 3 7 11 8 5 8-7 10 7 9-1 8 8 7 6 8 3 8 7 9 0 8-2 9 7 9 5 10 2 9-1 10 10 10 0 7 4 8-3 9-3 8 3 9-1 9 4 9-4 9-1 9 5 9-4 8-1 8 0 8 6 7 1 13-2 7-5 8-2 7-1 14-15 8-3 8-1 7-2 7-2 8 0 9-2 8-4 8 1 9 6 8-3 7 6 7-4 9 8 9-2 8 9 8 13 9-3 9 10 14-5 8 7 8-2 8 5 8-2 8-1 8-5 8 4 8-6 8 5 8 0 7 2 8-1 8 1 7 6 8 3 8 0 8 6 9-4 7-5 7 6 8-4 8 7 8-10 8 3 8 2 8 3 7-6 8-3 14 3 9-3 9-1 8-5 9-11 7 8 8-4 7-7 8 2 9 5 9 3 9 3 8-3 9 2 8 6 9-4 8-6 9-2 9-7 8-9 9-1 8-4 8 11 7-4 8 4 7 5 7 8 7-2 8 2 7 1 8-6 9 7 9-1 10-7 9 2 10 0 9-4 9-6 8 7 8-3 9 7 8-7 8 0 7 5 7 3 8 5 7 0 8 4 8 4 9-5 7 3 8-2 9-6 8 6 9-5 9 1 9-2 9-13 9 6 9-6 9 3 9-11 8 7 9-7 9-5 9 3 8 4 9-11 9 3 8-4 9-2 9 9 8-4 9-1 9 3 9-10 9 9 9-3 9 0 9-1 9-6 8-5 9 11 8-4 8 1 8 0 9-3 9 5 7 0 8 0 8 6 7 2 8 0 7 8 8 3 7-3 8-7 8 5 8 0 8 0 7-9 8-3 8 0 8-4 8 8 8-9 8 9 8 5 9-5 10 6 8 15 9-3 8 10 7-4 11 11" fill="none" stroke="#4040ff" stroke-width="10.0" stroke-linejoin="round"/>
<path transform="scale(.1)" d="M719 6869l9 5 9 8 9-4 9 3 9 3 7-7 8 3 8-1 9-1 8-11 9 1 7-3 7 8 11 9 10 2 9 20 9 10 9-9 9-5 10-10 10-7 8 12 8 0 9 11 9 9 8 2 9 10 8-5 8 0 8-13 8-8 10-10 9-7 14-9 8-5 7 6 8-2 9-5 8-3 8-7 7-3 7-2 9-4 9 6 8-6 8 4 8-7 7 6 8-3 7-12 9 0 9 5 8-8 9 3 8-8 8-4 8 11 8 6 8 1 7 4 10 11 10 16 8 4 8-1 9 9 9 6 9 7 10 17 9-1 10 11 9 2 8 1 8 6 8-7 14 1 13-14 8 0 8-7 9-1 9 6 14-4 8-6 7 7 9-9 8 2 9 6 9-3 8-6 9 11 9-9 8 1 8 6 8-5 13 1 10-2 9 1 8 7 8-2 7 6 7-2 13 4 8 7 7-4 7 1 8 4 7-7 7 0 8 9 7-1 8-7 8-1 8 6 8 1 8-10 8 7 8-2 9-6 8-4 9-6 9-3 9 8 8-11 9 3 9-7 8 4 9-5 9-6 9-4 9 4 9-10 10 0 8 1 9 2 8-5 8-6 7 6 7-10 11-2 10 2 7 3 7-3 8 1 8 1 8-1 8-9 8-3 8 1 9-4 8-9 8-1 7-3 8 0 8 5 7 9 7 21 7 2 7 8 7-7 14 9 8-2 7 3 9-6 9 7 9-12 9 5 9 0 9 1 9-4 8-2 7-1 8 0 9-11 9 1 8-3 9-5 7-10 8-1 13-7 13-7 8 6 8 2 14 20 7 4 7-3 7 10 13 4 8-2 8-4 8-6 9 2 9-4 9-4 9 2 9-11 9 6 9-11 7 5 8-3 13-4 7 8 8-1 8 3 7 10 7-3 7 2 7 7 8 5 8-6 8-2 8 8 9-2 10-1 7 9 7-3 8 10 8 0 8 9 8 11 8 7 8 6 7-3 7 7 9 0 9 2 8 5 7 5 9-4 9-7 8-4 7-16 8-12 8-7 8-14 9-13 8-9 8-9 13-20 10-17 11-9 8-6 9-13 8-5 8 0 8 14 9-6 9 13 9 4 8 3 7 13 8-1 8 10 8 11 9 2 8 13 8-4 9-5 8-4 10-1 9-10 8-7 9-8 11-9-7 8 11-10 8-11 7-2 10-9 9-8 9 0 9-2 7-10 8-2 10 0 9 3 8 0 8 4 9 7 8 1 8 13 9 10 9 2 8 22 9 8 9 3 13 14 9-17 9-16 8-26 14-6 9 1 8-4 9 2 9-6 8 6 9-2 9 21 9 15 8 19 9 21 8 11 9 26 8 11 9 10 9 2 8 10 9-4 9 10 8-6 8-10 8-13 8-4 10-5 10-3 13-3 7-3 7 11 8-6 8 12 8-5 8 4 8 8 8-6 8 0 8 5 8 0 8-1 8-6 8-1 8-11 8 0 8-15 8-3 7-1 7-7 13 1 10 2 10 2 8 11 7 3 9 0 8 4 8 3 7-2 8-13 8 2 9-5 8-11 9-5 9-10 7 0 7-5 8-3 7-12 8 7 8-10 8-4 8 2 8-3 9-1 7 6 8-5 8 12 8 4 8 14 8 7 8-1 8 10 7 2 8 9 13 11 10-1 9-8 8-10 7-9 9-1 9-2 7-10 7 7 8-9 9 2 8 2 8 6 9-3 8 2 7 4 7-5 8 11 9-5 13 12 7-1 8 2 7 6 13 2 8 1 8 2 8 3 9-3 9 2 9 7 9 1 9 0 9 5 9-2 8 4 8-6 7 6 8 1 9 0 9-8 7-2 7 6 13-14 7 7 8-4 9-11 9 0 7 5 7-7 8-3 8 8 9-5 9 3 9-8 9 2 9 3 10-8 8 2 9 5 7 3 8 1 13-9 7 7 8 5 7-1 14 13 8-2 8 3 14 3 8-1 7 7 9 0 8 1 8-5 8 1 8 1 8 9 8 4 8 2 8-7 9 3 8 14 8-2 8 6 7-2 14 3 9-2 8-5 13-10 8-10 7 6 7 0 13-7 8 5 8 5 8-2 9-1 9 2 9 7 9-4 9 13 9 1 9 1 8 3 8-1 8-2 7 3 9-2 9 5 8-5 7-9 14 2 7-5 7-2 9 0 8-6 8 7 8 1 9 1 9 3 9 3 9-1 9 7 9-5 9 6 9 4 8-5 8 5 9 1 9-2 8-8 8 5 8-8 7-9 8 0 7-5 7-3 7-4 9 8 8-3 9 3 8 3 8 6 7-9 8 8 8 2 8-9 8-1 8-9 8-2 8-3 8-9 9-2 9 4 8-6 8-3 9 4 9-6 9 4 8-6 8 1 8-9 11 3" fill="none" stroke="#50ee50" stroke-width="10.0" stroke-linejoin="round"/>
<path transform="scale(.1)" d="M719 7016l9-1 9-2 9-7 9-2 9 4 7 3 7 11 8 5 8 6 8 5 8 7 9-3 8 6 8-6 7 7 8-15 8 5 9-15 8 2 7-10 8-5 14-3 10-14 10-4 8 7 9-7 7-8 7 8 8-4 9-15 8 0 9 13 8 19 9 21 12 2 8 10 8-4 8 4 8 11 9-2 8 3 8 5 7 1 9 3 8-1 8 12 8 6 8 3 8 0 7-1 8 2 8 8 8 3 8-2 7 5 8 3 8 4 9 1 8-7 7-14 7 2 8-17 7-11 8-18 7-11 8-14 8-9 8-18 8-4 9-12 9 0 9-13 9-3 9-3 9 0 9-9 9 2 9-4 9 0 8 4 8 7 7-3 8 9 7-5 7 14 8-3 7 2 8 10 8 5 9-10 8 5 10 7 9-4 9-1 9-3 9 1 9 7 9 5 8 0 9-6 8-5 7 4 8 5 7 1 8-2 7-6 8 4 7-1 8 2 8-6 7 8 8-2 8-10 7 0 8 5 8-7 7 7 8-4 7 3 8 3 8-3 7 5 8 5 8 10 7 5 8-1 8 14 7-1 8 2 8 6 7 10 8-1 8 4 7 6 8 4 8 1 7-2 8 5 7 7 8 2 8 0 7 0 8 3 8 7 7 1 8-5 8 11 7 4 8 1 8 3 7 3 8-3 8 5 7-4 8-2 7 4 8 1 8 8 7-3 8-3 7-1 8-8 7 2 7-1 8-7 7-4 8 0 8-1 9 4 8-5 8 1 8 6 9 9 9 5 9 3 9 7 9-2 8-1 9 9 8 1 8-1 8 5 9-5 8-3 7-2 8 4 7-15 7 1 8-5 7-3 7 0 8-3 7 7 8-6 7 2 7-7 7 3 8 2 8 2 8-8 9 2 8 4 8-1 9-8 9 2 9 2 10-6 9 3 9-2 8 3 9-6 7 0 7-5 10 3 11-6 7 0 8-3 7-4 8-5 8-4 8-1 8-10 8-8 9 1 10-15 14-5 8-13 7-10 8-3 9-8 8-14 8-10 7 2 7-2 9-5 8 0 7-4 7 2 8 0 8 5 8 8 9 8 9 12 8 16 9 9 10 17 10 19 9 26 9 11 10 11 8 20 7 11 10 5 10-1 8 1 8-8 8-7 7 4 9-6 9-14 9 1 8-18 8-2 8-10 10-5 10-6 9 7 10-5 9 8 9 10 10 16 9 21 14 19-7 1 10 8 8-1 8 0 9 2 9 2 9 2 9-3 8 2 8-2 9 2 9-3 9 0 9 1 8 2 8-7 13 4 9-16 9-6 8-13 9-14 9-21 8-20 14 34 10 24 9 24 7 6 8-2 9 3 9 5 9 1 9 1 14-4 10-36 10-40 7-1 8-7 10-1 10-4 8-8 9-2 8-24 9-10 8 2 7-13 13 21 10 21 10 10 12 2 13-5 8-3 8-4 8 4 9 2 8-1 8-4 9 2 8-7 9 1 8 9 10-1 9 4 9-4 10 6 9 7 9 6 8 4 9 2 7-3 7 2 8 4 7-1 7-8 8-9 8-1 7-2 7-3 10 13 9 17 10 21 10 11 8 9 8 9 8 0 9-4 9 3 9-2 7 10 8 1 9 4 9 14 7 3 7 2 7 0 12-8 8-6 8 1 8-16 8-5 9-9 8-11 8-4 8-8 14-6 10 2 9 1 8 14 7-1 9 5 9 9 14-5 8-1 7-1 8-10 9 4 8-9 8-1 8 6 8 1 8-3 7-5 14 8 7 1 7 9 8-4 8 2 10 6 9 1 7 0 8-2 8 5 8-6 9 4 9-7 9-1 9-2 9 3 9-1 9-8 8 3 8 1 8-3 13 2 10 2 10 5 11 5 11 1 10-1 12 8 7-3 8-7 8 5 8-3 8-12 9 5 9-8 9-4 9-4 9-1 8-7 9-3 9-2 8 0 8-4 9-3 8 5 9-8 9-1 9-2 8 2 9-13 9-1 8 5 8-2 8-2 8-7 7-4 13-6 11 7 10-4 8-4 8 1 14-7 7 4 7 5 8-6 7 9 14 3 8 12 8 5 10-1 10-1 14-7 8 5 8-4 8-1 9-7 9 8 9-7 9-3 9 1 9-2 8-7 8-2 8 1 8-7 7 5 9-12 9 8 7-4 8 1 13 4 7-10 8 2 8 4 9-1 7-4 8 1 9-2 8 0 9-4 9-6 9-2 9-5 9-1 9-2 9 10 8-11 7 5 7-6 10 11 9-4 7-2 8 10 13 7 9 4 9-6 8 4 7 4 9-3 8 4 9 3 9 2 9 2 9 1 9-4 10 8 9-1 8-1 10 2 9 12 10 2 10 2 10 11 10 5 9 4 10 9 8 4 7 5 12 7" fill="none" stroke="#404040" stroke-width="10.0" stroke-linejoin="round"/>
<path transform="scale(.1)" d="M719 7192l9 5 11 1 12 2 14-5 7 1 8-1 8 2 8 5 8-5 8 4 9-2 9 1 9 2 9 5 9-2 9-6 9 4 10-1 9 7 9 0 9 0 9 1 8-1 9 3 9-2 8-5 8 6 7-3 8 2 8-2 8-1 8-1 8 1 7-2 8-2 8 7 8-1 8 2 8-3 8-2 8 2 8-7 8 5 8-2 8-3 9 0 8 2 8-3 8 2 8 1 8-2 8-3 8 4 8-3 8 0 8-1 8 2 8-3 8 6 8 3 8-6 8 4 8 2 8-9 8 1 8 7 8 1 8-2 8-4 8 2 8 5 8 1 8-1 7-5 8 6 8-4 8 4 8-6 8 9 8-4 8 2 8-5 8 4 8 0 8 0 8-2 8 4 8-4 8 0 8-2 8 5 8-5 8 1 8-2 8 5 8-1 8 0 8-5 8 4 8-2 8-2 8-2 8 10 8-9 7 2 8-1 8 3 8-6 8 4 8-2 8 5 8-9 8 3 8 1 8 5 8-5 8-1 8 2 8-4 8-3 8 4 8 4 8-2 8-5 8 4 8 1 8-6 8 3 8-3 8-1 8 0 8-2 8 2 8-4 8 3 8-3 7 6 8-2 8-6 8 7 8-6 8 3 8 0 8-2 8-1 8 1 8-3 8 7 8-8 8 7 8-7 8 1 8 1 8-4 8 0 8 3 8 0 8 4 8 1 8-10 8 5 8-4 8 6 8-5 8 5 8-3 8-5 8-1 7 2 8 6 8-7 8 3 8-2 8 0 8 4 8-6 8 5 8-1 8 3 8-4 8 4 8-5 8 1 8 0 8 3 8 0 8-8 8 0 8 5 9 2 8-2 8-3 9 7 8-6 9-2 8-1 9 0 8 7 9-6 8 7 8 1 9 2 8-2 8-3 9 2 8 2 8-1 8-4 8 5 7-6 8 2 7 8 8-5 7-2 14 6 13-3 10-4 9 1 9 3 9 2 9 7 8-6 8 7 8 2 7-4 7 7 7-1 7-2 14 0 14 3 13 5 14-4 8-4 9 1 8-1 9-4 8 1 8-7 7 5 8-8 8-3 8 2 7-5 8 4 8-6 8-1 8 2 7-7 9 5 8-1 8-2 9 6 8-8 9 10 9-6 8 8 8-6 9 1 8 5 8 6 7-6 7 3 13 2 7-5 8 2 7-6 9 1 9 0 14-10 10-5-7-1 10 7 7-3 7 5 9-2 9-7 9 8 10 0 9-1 10 0 10-1 9 0 9 0 8-1 7-3 7-1 11 8 10 0 8-3 8 8 14 4 7-1 7 4 9-1 8-7 8 1 8-6 8-2 8-5 8 3 9-6 8 5 8-5 8 5 8 4 8 0 8 0 9-2 8 6 7 1 7 5 14 2 8 2 8-4 10 0 11 2 13 1 7-7 8 1 8-1 8 1 8 0 9 6 9-8 8 6 9-7 9-1 9 7 8-9 9 0 8 0 8-1 8 3 8-2 9 0 8-1 8 6 8-6 8 2 8 4 8 3 9-2 8 0 8 0 8 1 8 0 8-7 8-2 9 5 8-1 8-1 8 1 8-7 8 4 8-4 9-1 8-3 8 0 8 2 8-1 8 3 8-7 9 5 8-6 8 5 8-4 8 8 8 1 8-6 9 7 8-5 8 2 8-1 8 4 8-2 8 7 9 0 8-1 8 3 8-4 7 2 7 1 7-3 14 10 14-7 7 0 8 8 8 0 8-3 10 0 10-3 7-1 8 5 7-3 12-1 13 8 13-10 7 4 7 3 8 0 7-7 8 6 7-2 8 1 8 3 8-2 8-2 8 1 8-3 9 0 8 2 8-2 8-2 9-4 8 7 8-5 9 1 8-1 8 2 8-2 8 5 8-3 8 0 8 2 8-3 7 1 8 2 8 0 7 1 8 1 8-3 7 1 8-4 8 1 7 3 8 1 8 4 7-8 8 4 8 4 7-2 8 4 8-6 7 6 8-3 8 2 7-4 8 3 8 5 7 0 8-2 8-1 7-3 8 7 8-2 7 3 8-1 8-2 7 5 8-7 8 8 7-8 8 9 8-4 7-1 8 5 7-5 8 0 8-4 7 7 8-1 8-4 7-2 8 4 8 5 7-1 8-4 8-5 7 8 8-6 8 5 7-2 8 4 8-8 7 7 8-1 8-7 7 5 8-3 8 4 7 3 8-3 8-2 7 1 8-3 8 2 8-3 8 6 7-7 8 5 8-4 8 4 8-5 8 0 8 6 8 1 8 2 7-2 8 3 8-9 8 5 8 0 8-4 7-1 8 1 8 3 7 3 8-1 8-1 7-5 7 6 8-2 7-4 7 5 7-4 14 0 9 2 10 3 9-7 9 3 10-2 9 4 10 1 9-6 9 5 10-3 9-3 9 0 9 3 8 2 9-2 8-7 8 8 8-3 7-1 7-3 13 2 11 2 9-2" fill="none" stroke="#ff5050" stroke-width="10.0" stroke-linejoin="round"/>
<path transform="scale(.1)" d="M993 5313l505-20 510-115 497 148 508 84 505-153 502 74 505-2" fill="none" stroke="#ff0000" stroke-width="13.0" stroke-linejoin="round"/>
<circle cx="99.3" cy="531.3" r="2" fill="#ff0000"/>
<circle cx="149.8" cy="529.3" r="2" fill="#ff0000"/>
<circle cx="200.8" cy="517.8" r="2" fill="#ff0000"/>
<circle cx="250.5" cy="532.6" r="2" fill="#ff0000"/>
<circle cx="301.3" cy="541" r="2" fill="#ff0000"/>
<circle cx="351.8" cy="525.7" r="2" fill="#ff0000"/>
<circle cx="402" cy="533.1" r="2" fill="#ff0000"/>
<circle cx="452.5" cy="532.9" r="2" fill="#ff0000"/>
<line x1="99.3" y1="586.0" x2="452.5" y2="586.0" stroke="#0000ff" stroke-width="1.0"/>
<circle cx="99.3" cy="585.8" r="1.8" fill="#0000ff"/>
<circle cx="149.8" cy="585.8" r="1.8" fill="#0000ff"/>
<circle cx="200.8" cy="585.8" r="1.8" fill="#0000ff"/>
<circle cx="250.5" cy="585.8" r="1.8" fill="#0000ff"/>
<circle cx="301.3" cy="585.8" r="1.8" fill="#0000ff"/>
<circle cx="351.8" cy="585.8" r="1.8" fill="#0000ff"/>
<circle cx="402" cy="585.8" r="1.8" fill="#0000ff"/>
<circle cx="452.5" cy="585.8" r="1.8" fill="#0000ff"/>
<text x="68.8" y="70.1" font-size="11" text-anchor="end" fill="#000">50</text>
<text x="68.8" y="111.6" font-size="11" text-anchor="end" fill="#000">0</text>
<text x="68.8" y="152.7" font-size="11" text-anchor="end" fill="#000">-50</text>
<text x="68.8" y="186.2" font-size="11" text-anchor="end" fill="#000">40</text>
<text x="68.8" y="197.7" font-size="11" text-anchor="end" fill="#000">20</text>
<text x="68.8" y="209.3" font-size="11" text-anchor="end" fill="#000">0</text>
<text x="68.8" y="220.8" font-size="11" text-anchor="end" fill="#000">-20</text>
<text x="68.8" y="232.3" font-size="11" text-anchor="end" fill="#000">-40</text>
<text x="68.8" y="243.9" font-size="11" text-anchor="end" fill="#000">-60</text>
<text x="68.8" y="321.7" font-size="11" text-anchor="end" fill="#000">120</text>
<text x="68.8" y="337.9" font-size="11" text-anchor="end" fill="#000">100</text>
<text x="68.8" y="354.1" font-size="11" text-anchor="end" fill="#000">80</text>
<text x="68.8" y="370.2" font-size="11" text-anchor="end" fill="#000">60</text>
<text x="68.8" y="456.6" font-size="11" text-anchor="end" fill="#000">90</text>
<text x="68.8" y="472.9" font-size="11" text-anchor="end" fill="#000">80</text>
<text x="68.8" y="489.2" font-size="11" text-anchor="end" fill="#000">70</text>
<text x="68.8" y="505.5" font-size="11" text-anchor="end" fill="#000">60</text>
<text x="68.8" y="521.5" font-size="11" text-anchor="end" fill="#000">50</text>
<text x="527.6" y="392.5" font-size="11" text-anchor="start" fill="#000">20</text>
<text x="527.6" y="402.4" font-size="11" text-anchor="start" fill="#000">0</text>
<text x="527.6" y="412.3" font-size="11" text-anchor="start" fill="#000">-20</text>
<text x="527.6" y="421.9" font-size="11" text-anchor="start" fill="#000">-40</text>
<text x="527.6" y="431.9" font-size="11" text-anchor="start" fill="#000">-60</text>
<text x="527.6" y="441.8" font-size="11" text-anchor="start" fill="#000">-80</text>
<text x="527.6" y="451.4" font-size="11" text-anchor="start" fill="#000">-100</text>
<text x="527.6" y="526.9" font-size="11" text-anchor="start" fill="#000">5</text>
<text x="527.6" y="539.7" font-size="11" text-anchor="start" fill="#000">4</text>
<text x="527.6" y="551.6" font-size="11" text-anchor="start" fill="#000">3</text>
<text x="527.6" y="564.5" font-size="11" text-anchor="start" fill="#000">2</text>
<text x="527.6" y="577.3" font-size="11" text-anchor="start" fill="#000">1</text>
<text x="527.6" y="660.7" font-size="11" text-anchor="start" fill="#000">6</text>
<text x="527.6" y="683.8" font-size="11" text-anchor="start" fill="#000">4</text>
<text x="527.6" y="705.7" font-size="11" text-anchor="start" fill="#000">2</text>
<text x="527.6" y="258.6" font-size="11" text-anchor="start" fill="#000">10<tspan font-size="8" dy="-4.5">4</tspan></text>
<text x="527.6" y="278.5" font-size="11" text-anchor="start" fill="#000">10<tspan font-size="8" dy="-4.5">3</tspan></text>
<text x="527.6" y="297.6" font-size="11" text-anchor="start" fill="#000">10<tspan font-size="8" dy="-4.5">2</tspan></text>
<text x="46.9" y="101.1" font-size="11" text-anchor="middle" fill="#000" transform="rotate(-90 46.9 101.1)">B<tspan font-size="8.5" dy="4.3">L</tspan><tspan font-size="11" dy="-4.3">,|B| [nT]</tspan></text>
<text x="42.3" y="211" font-size="11" text-anchor="middle" fill="#000" transform="rotate(-90 42.3 211)">B<tspan font-size="8.5" dy="4.3">LMN</tspan><tspan font-size="11" dy="-4.3"> [nT]</tspan></text>
<text x="44.6" y="347.6" font-size="11" text-anchor="middle" fill="#000" transform="rotate(-90 44.6 347.6)">| V<tspan font-size="8.5" dy="4.3">i</tspan><tspan font-size="11" dy="-4.3"> | [km/s]</tspan></text>
<text x="44.6" y="484.5" font-size="11" text-anchor="middle" fill="#000" transform="rotate(-90 44.6 484.5)">N [cm<tspan font-size="8.5" dy="-4.5">-3</tspan><tspan font-size="11" dy="4.5">]</tspan></text>
<text x="40" y="621.4" font-size="11" text-anchor="middle" fill="#000" transform="rotate(-90 40 621.4)">T<tspan font-size="8.5" dy="4.3">i</tspan><tspan font-size="11" dy="-4.3"> [eV]</tspan></text>
<text x="558.5" y="278.8" font-size="11" text-anchor="middle" fill="#000" transform="rotate(-90 558.5 278.8)">Energy (eV)</text>
<text x="562.8" y="416.7" font-size="11" text-anchor="middle" fill="#000" transform="rotate(-90 562.8 416.7)">V<tspan font-size="8.5" dy="4.3">i LMN</tspan><tspan font-size="11" dy="-4.3"> [km/s]</tspan></text>
<text x="558" y="553" font-size="11" text-anchor="middle" fill="#000" transform="rotate(-90 558 553)">N<tspan font-size="8.5" dy="4.3">i</tspan><tspan font-size="11" dy="-4.3"> [cm<tspan font-size="8.5" dy="-4.5">-3</tspan><tspan font-size="11" dy="4.5">]</tspan></tspan></text>
<text x="561.9" y="689.7" font-size="11" text-anchor="middle" fill="#000" transform="rotate(-90 561.9 689.7)">P [nPa]</text>
<line x1="76.9" y1="37.9" x2="95.2" y2="37.9" stroke="#ff2020" stroke-width="1.5" stroke-dasharray="4 2.4"/>
<text x="95.8" y="40.9" font-size="9.5" text-anchor="start" fill="#ff0000">t</text>
<text x="103.6" y="40.9" font-size="9.5" text-anchor="start" fill="#ff0000">cs</text>
<line x1="76.9" y1="45.5" x2="95.2" y2="45.5" stroke="#00a000" stroke-width="1.5" stroke-dasharray="4 2.4"/>
<text x="95.8" y="48.5" font-size="9.5" text-anchor="start" fill="#008800">t</text>
<text x="103.6" y="48.5" font-size="9.5" text-anchor="start" fill="#008800">HT</text>
<text x="95.8" y="56.2" font-size="9.5" text-anchor="start" fill="#00ff00">t</text>
<text x="103.6" y="56.2" font-size="9.5" text-anchor="start" fill="#00ff00">MVAB</text>
<line x1="76.9" y1="60.8" x2="95.2" y2="60.8" stroke="#a8a8a8" stroke-width="3" stroke-dasharray="4 1.2"/>
<text x="95.8" y="63.8" font-size="9.5" text-anchor="start" fill="#b0b0b0">t</text>
<text x="103.6" y="63.8" font-size="9.5" text-anchor="start" fill="#b0b0b0">BLminmax</text>
<line x1="76.9" y1="68.5" x2="95.2" y2="68.5" stroke="#4040ff" stroke-width="1.2" stroke-dasharray="4 2.4"/>
<text x="95.8" y="71.5" font-size="9.2" text-anchor="start" fill="#0000ff">BL, 50% of BL</text>
<line x1="76.9" y1="76.2" x2="95.2" y2="76.2" stroke="#3030ff" stroke-width="1.2"/>
<text x="95.8" y="79.2" font-size="9.5" text-anchor="start" fill="#0000ff">BL</text>
<text x="112.5" y="79.2" font-size="9.5" text-anchor="start" fill="#0000ff">brst</text>
<line x1="76.9" y1="84" x2="95.2" y2="84" stroke="#a8a8a8" stroke-width="2"/>
<text x="95.8" y="87" font-size="9.5" text-anchor="start" fill="#606060">|B|</text>
<line x1="76.9" y1="188.5" x2="95.2" y2="188.5" stroke="#4040ff" stroke-width="1.2"/>
<text x="96.5" y="192" font-size="10" text-anchor="start" fill="#0000ff">B<tspan font-size="7" dy="3.8">L</tspan></text>
<line x1="76.9" y1="211.1" x2="95.2" y2="211.1" stroke="#50f050" stroke-width="1.2"/>
<text x="96.5" y="214.6" font-size="10" text-anchor="start" fill="#00ee00">B<tspan font-size="7" dy="3.8">M</tspan></text>
<line x1="76.9" y1="233.9" x2="95.2" y2="233.9" stroke="#ff8080" stroke-width="1.2"/>
<text x="96.5" y="237.4" font-size="10" text-anchor="start" fill="#ff0000">B<tspan font-size="7" dy="3.8">N</tspan></text>
<line x1="76.9" y1="317" x2="95.2" y2="317" stroke="#30b030" stroke-width="1.5" stroke-dasharray="4 2.4"/>
<text x="93.8" y="320" font-size="9.5" text-anchor="start" fill="#10a010">t</text>
<text x="100.9" y="320" font-size="9.5" text-anchor="start" fill="#10a010">HT</text>
<line x1="76.9" y1="323.9" x2="95.2" y2="323.9" stroke="#60d0ff" stroke-width="1.5" stroke-dasharray="1.5 1.2"/>
<text x="93.8" y="326.9" font-size="9.5" text-anchor="start" fill="#20b0ff">t</text>
<text x="100.9" y="326.9" font-size="9.5" text-anchor="start" fill="#20b0ff">vmax</text>
<line x1="76.9" y1="330.5" x2="95.2" y2="330.5" stroke="#ff3030" stroke-width="1.5" stroke-dasharray="4 2.4"/>
<text x="93.8" y="333.5" font-size="9.5" text-anchor="start" fill="#ff0000">t</text>
<text x="100.9" y="333.5" font-size="9.5" text-anchor="start" fill="#ff0000">cs</text>
<line x1="76.9" y1="337.4" x2="95.2" y2="337.4" stroke="#0000ff" stroke-width="1.3" stroke-dasharray="1.5 1.2"/>
<text x="93.8" y="340.4" font-size="9.5" text-anchor="start" fill="#0000ff">t</text>
<text x="100.9" y="340.4" font-size="9.5" text-anchor="start" fill="#0000ff">dvmax</text>
<line x1="76.9" y1="344.6" x2="95.2" y2="344.6" stroke="#404040" stroke-width="1.2"/>
<text x="93.8" y="347.6" font-size="9.5" text-anchor="start" fill="#404040">|V|</text>
<line x1="76.9" y1="389.3" x2="95.2" y2="389.3" stroke="#4040ff" stroke-width="1.2"/>
<text x="96.5" y="393" font-size="10" text-anchor="start" fill="#0000ff">V<tspan font-size="7" dy="3.8">L</tspan></text>
<line x1="76.9" y1="404" x2="95.2" y2="404" stroke="#60ee60" stroke-width="1.2"/>
<text x="96.5" y="407.7" font-size="10" text-anchor="start" fill="#00ee00">V<tspan font-size="7" dy="3.8">M</tspan></text>
<line x1="76.9" y1="418.8" x2="95.2" y2="418.8" stroke="#ff6060" stroke-width="1.2"/>
<text x="96.5" y="422.5" font-size="10" text-anchor="start" fill="#ff0000">V<tspan font-size="7" dy="3.8">N</tspan></text>
<line x1="76.9" y1="456.6" x2="95.2" y2="456.6" stroke="#ff5050" stroke-width="1.2"/>
<text x="95.6" y="460.2" font-size="9.3" text-anchor="start" fill="#ff0000">Ne</text>
<line x1="76.9" y1="470.4" x2="95.2" y2="470.4" stroke="#404040" stroke-width="1.2"/>
<text x="95.6" y="474" font-size="9.3" text-anchor="start" fill="#000">Ni</text>
<line x1="76.9" y1="523.5" x2="95.2" y2="523.5" stroke="#00e000" stroke-width="1.3"/>
<circle cx="86.5" cy="523.5" r="2" fill="#00e000"/>
<text x="95.8" y="526.8" font-size="9.5" text-anchor="start" fill="#00ee00">N  He+</text>
<line x1="76.9" y1="532.3" x2="95.2" y2="532.3" stroke="#ff0000" stroke-width="1.3"/>
<circle cx="86.5" cy="532.3" r="2" fill="#ff0000"/>
<text x="95.8" y="535.6" font-size="9.5" text-anchor="start" fill="#ff0000">N  He++</text>
<line x1="76.9" y1="541" x2="95.2" y2="541" stroke="#0000ff" stroke-width="1.3"/>
<circle cx="86.5" cy="541" r="2" fill="#0000ff"/>
<text x="95.8" y="544.3" font-size="9.5" text-anchor="start" fill="#0000ff">N  O+</text>
<line x1="76.9" y1="596.2" x2="95.2" y2="596.2" stroke="#ff4040" stroke-width="1.2"/>
<text x="96" y="599.8" font-size="9.3" text-anchor="start" fill="#ff0000">T<tspan font-size="7.5" dy="4">||</tspan></text>
<line x1="76.9" y1="615.2" x2="95.2" y2="615.2" stroke="#404040" stroke-width="1.2"/>
<text x="96" y="618.8" font-size="9.3" text-anchor="start" fill="#000">T<tspan font-size="7.5" dy="4">&#x22a5;</tspan></text>
<line x1="76.9" y1="660.4" x2="95.2" y2="660.4" stroke="#50ee50" stroke-width="1.2"/>
<text x="96" y="664" font-size="10" text-anchor="start" fill="#00ee00">P<tspan font-size="6.5" dy="3.5">i</tspan></text>
<line x1="76.9" y1="671.6" x2="95.2" y2="671.6" stroke="#ff5050" stroke-width="1.2"/>
<text x="96" y="675.2" font-size="10" text-anchor="start" fill="#ff0000">P<tspan font-size="6.5" dy="3.5">e</tspan></text>
<line x1="76.9" y1="682.7" x2="95.2" y2="682.7" stroke="#404040" stroke-width="1.2"/>
<text x="96" y="686.3" font-size="10" text-anchor="start" fill="#000">P<tspan font-size="6.5" dy="3.5">b</tspan></text>
<line x1="76.9" y1="694.2" x2="95.2" y2="694.2" stroke="#4040ff" stroke-width="1.2"/>
<text x="96" y="697.8" font-size="10" text-anchor="start" fill="#0000ff">P<tspan font-size="6.5" dy="3.5">tot</tspan></text>
<defs><linearGradient id="mg0" x1="0" y1="0" x2="0" y2="1"><stop offset="0" stop-color="#ff00ff"/><stop offset="0.4550" stop-color="#ff00ff"/><stop offset="0.4605" stop-color="#00f0f0"/><stop offset="0.4700" stop-color="#00ff40"/><stop offset="0.5136" stop-color="#60ff00"/><stop offset="0.5477" stop-color="#c0ff00"/><stop offset="0.5749" stop-color="#ffff00"/><stop offset="0.5995" stop-color="#ffc000"/><stop offset="0.6226" stop-color="#ff8000"/><stop offset="0.6431" stop-color="#ff3000"/><stop offset="0.6635" stop-color="#ff0030"/><stop offset="0.888" stop-color="#ff0030"/><stop offset="0.943" stop-color="#ff2000"/><stop offset="1" stop-color="#ff4800"/></linearGradient><linearGradient id="mg1" x1="0" y1="0" x2="0" y2="1"><stop offset="0" stop-color="#ff00ff"/><stop offset="0.4550" stop-color="#ff00ff"/><stop offset="0.4605" stop-color="#00f0f0"/><stop offset="0.4700" stop-color="#00ff40"/><stop offset="0.5204" stop-color="#60ff00"/><stop offset="0.5559" stop-color="#c0ff00"/><stop offset="0.5831" stop-color="#ffff00"/><stop offset="0.6076" stop-color="#ffc000"/><stop offset="0.6322" stop-color="#ff8000"/><stop offset="0.6526" stop-color="#ff3000"/><stop offset="0.6730" stop-color="#ff0030"/><stop offset="0.888" stop-color="#ff0030"/><stop offset="0.943" stop-color="#ff2000"/><stop offset="1" stop-color="#ff4800"/></linearGradient><linearGradient id="mg2" x1="0" y1="0" x2="0" y2="1"><stop offset="0" stop-color="#ff00ff"/><stop offset="0.4550" stop-color="#ff00ff"/><stop offset="0.4605" stop-color="#00f0f0"/><stop offset="0.4704" stop-color="#00ff40"/><stop offset="0.5184" stop-color="#60ff00"/><stop offset="0.5523" stop-color="#c0ff00"/><stop offset="0.5789" stop-color="#ffff00"/><stop offset="0.6030" stop-color="#ffc000"/><stop offset="0.6271" stop-color="#ff8000"/><stop offset="0.6475" stop-color="#ff3000"/><stop offset="0.6676" stop-color="#ff0030"/><stop offset="0.888" stop-color="#ff0030"/><stop offset="0.943" stop-color="#ff2000"/><stop offset="1" stop-color="#ff4800"/></linearGradient><linearGradient id="mg3" x1="0" y1="0" x2="0" y2="1"><stop offset="0" stop-color="#ff00ff"/><stop offset="0.4550" stop-color="#ff00ff"/><stop offset="0.4605" stop-color="#00f0f0"/><stop offset="0.4713" stop-color="#00ff40"/><stop offset="0.5143" stop-color="#60ff00"/><stop offset="0.5452" stop-color="#c0ff00"/><stop offset="0.5704" stop-color="#ffff00"/><stop offset="0.5937" stop-color="#ffc000"/><stop offset="0.6170" stop-color="#ff8000"/><stop offset="0.6375" stop-color="#ff3000"/><stop offset="0.6567" stop-color="#ff0030"/><stop offset="0.888" stop-color="#ff0030"/><stop offset="0.943" stop-color="#ff2000"/><stop offset="1" stop-color="#ff4800"/></linearGradient><linearGradient id="mg4" x1="0" y1="0" x2="0" y2="1"><stop offset="0" stop-color="#ff00ff"/><stop offset="0.4550" stop-color="#ff00ff"/><stop offset="0.4605" stop-color="#00f0f0"/><stop offset="0.4721" stop-color="#00ff40"/><stop offset="0.5102" stop-color="#60ff00"/><stop offset="0.5381" stop-color="#c0ff00"/><stop offset="0.5620" stop-color="#ffff00"/><stop offset="0.5845" stop-color="#ffc000"/><stop offset="0.6069" stop-color="#ff8000"/><stop offset="0.6274" stop-color="#ff3000"/><stop offset="0.6458" stop-color="#ff0030"/><stop offset="0.888" stop-color="#ff0030"/><stop offset="0.943" stop-color="#ff2000"/><stop offset="1" stop-color="#ff4800"/></linearGradient><linearGradient id="mg5" x1="0" y1="0" x2="0" y2="1"><stop offset="0" stop-color="#ff00ff"/><stop offset="0.4550" stop-color="#ff00ff"/><stop offset="0.4605" stop-color="#00f0f0"/><stop offset="0.4729" stop-color="#00ff40"/><stop offset="0.5061" stop-color="#60ff00"/><stop offset="0.5311" stop-color="#c0ff00"/><stop offset="0.5535" stop-color="#ffff00"/><stop offset="0.5752" stop-color="#ffc000"/><stop offset="0.5969" stop-color="#ff8000"/><stop offset="0.6173" stop-color="#ff3000"/><stop offset="0.6349" stop-color="#ff0030"/><stop offset="0.888" stop-color="#ff0030"/><stop offset="0.943" stop-color="#ff2000"/><stop offset="1" stop-color="#ff4800"/></linearGradient><linearGradient id="mg6" x1="0" y1="0" x2="0" y2="1"><stop offset="0" stop-color="#ff00ff"/><stop offset="0.4550" stop-color="#ff00ff"/><stop offset="0.4605" stop-color="#00f0f0"/><stop offset="0.4737" stop-color="#00ff40"/><stop offset="0.5020" stop-color="#60ff00"/><stop offset="0.5240" stop-color="#c0ff00"/><stop offset="0.5451" stop-color="#ffff00"/><stop offset="0.5659" stop-color="#ffc000"/><stop offset="0.5868" stop-color="#ff8000"/><stop offset="0.6072" stop-color="#ff3000"/><stop offset="0.6240" stop-color="#ff0030"/><stop offset="0.888" stop-color="#ff0030"/><stop offset="0.943" stop-color="#ff2000"/><stop offset="1" stop-color="#ff4800"/></linearGradient><linearGradient id="mg7" x1="0" y1="0" x2="0" y2="1"><stop offset="0" stop-color="#ff00ff"/><stop offset="0.4550" stop-color="#ff00ff"/><stop offset="0.4605" stop-color="#00f0f0"/><stop offset="0.4741" stop-color="#00ff40"/><stop offset="0.5000" stop-color="#60ff00"/><stop offset="0.5204" stop-color="#c0ff00"/><stop offset="0.5409" stop-color="#ffff00"/><stop offset="0.5613" stop-color="#ffc000"/><stop offset="0.5817" stop-color="#ff8000"/><stop offset="0.6022" stop-color="#ff3000"/><stop offset="0.6185" stop-color="#ff0030"/><stop offset="0.888" stop-color="#ff0030"/><stop offset="0.943" stop-color="#ff2000"/><stop offset="1" stop-color="#ff4800"/></linearGradient><linearGradient id="mg8" x1="0" y1="0" x2="0" y2="1"><stop offset="0" stop-color="#ff00ff"/><stop offset="0.4550" stop-color="#ff00ff"/><stop offset="0.4605" stop-color="#00f0f0"/><stop offset="0.4740" stop-color="#00ff40"/><stop offset="0.5011" stop-color="#60ff00"/><stop offset="0.5221" stop-color="#c0ff00"/><stop offset="0.5429" stop-color="#ffff00"/><stop offset="0.5634" stop-color="#ffc000"/><stop offset="0.5838" stop-color="#ff8000"/><stop offset="0.6041" stop-color="#ff3000"/><stop offset="0.6204" stop-color="#ff0030"/><stop offset="0.888" stop-color="#ff0030"/><stop offset="0.943" stop-color="#ff2000"/><stop offset="1" stop-color="#ff4800"/></linearGradient><linearGradient id="mg9" x1="0" y1="0" x2="0" y2="1"><stop offset="0" stop-color="#ff00ff"/><stop offset="0.4550" stop-color="#ff00ff"/><stop offset="0.4605" stop-color="#00f0f0"/><stop offset="0.4737" stop-color="#00ff40"/><stop offset="0.5033" stop-color="#60ff00"/><stop offset="0.5253" stop-color="#c0ff00"/><stop offset="0.5470" stop-color="#ffff00"/><stop offset="0.5674" stop-color="#ffc000"/><stop offset="0.5879" stop-color="#ff8000"/><stop offset="0.6079" stop-color="#ff3000"/><stop offset="0.6243" stop-color="#ff0030"/><stop offset="0.888" stop-color="#ff0030"/><stop offset="0.943" stop-color="#ff2000"/><stop offset="1" stop-color="#ff4800"/></linearGradient><linearGradient id="mg10" x1="0" y1="0" x2="0" y2="1"><stop offset="0" stop-color="#ff00ff"/><stop offset="0.4550" stop-color="#ff00ff"/><stop offset="0.4605" stop-color="#00f0f0"/><stop offset="0.4734" stop-color="#00ff40"/><stop offset="0.5054" stop-color="#60ff00"/><stop offset="0.5286" stop-color="#c0ff00"/><stop offset="0.5511" stop-color="#ffff00"/><stop offset="0.5715" stop-color="#ffc000"/><stop offset="0.5920" stop-color="#ff8000"/><stop offset="0.6117" stop-color="#ff3000"/><stop offset="0.6281" stop-color="#ff0030"/><stop offset="0.888" stop-color="#ff0030"/><stop offset="0.943" stop-color="#ff2000"/><stop offset="1" stop-color="#ff4800"/></linearGradient><linearGradient id="mg11" x1="0" y1="0" x2="0" y2="1"><stop offset="0" stop-color="#ff00ff"/><stop offset="0.4550" stop-color="#ff00ff"/><stop offset="0.4605" stop-color="#00f0f0"/><stop offset="0.4732" stop-color="#00ff40"/><stop offset="0.5076" stop-color="#60ff00"/><stop offset="0.5319" stop-color="#c0ff00"/><stop offset="0.5552" stop-color="#ffff00"/><stop offset="0.5756" stop-color="#ffc000"/><stop offset="0.5960" stop-color="#ff8000"/><stop offset="0.6155" stop-color="#ff3000"/><stop offset="0.6319" stop-color="#ff0030"/><stop offset="0.888" stop-color="#ff0030"/><stop offset="0.943" stop-color="#ff2000"/><stop offset="1" stop-color="#ff4800"/></linearGradient><linearGradient id="mg12" x1="0" y1="0" x2="0" y2="1"><stop offset="0" stop-color="#ff00ff"/><stop offset="0.4550" stop-color="#ff00ff"/><stop offset="0.4605" stop-color="#00f0f0"/><stop offset="0.4729" stop-color="#00ff40"/><stop offset="0.5098" stop-color="#60ff00"/><stop offset="0.5351" stop-color="#c0ff00"/><stop offset="0.5593" stop-color="#ffff00"/><stop offset="0.5797" stop-color="#ffc000"/><stop offset="0.6001" stop-color="#ff8000"/><stop offset="0.6193" stop-color="#ff3000"/><stop offset="0.6357" stop-color="#ff0030"/><stop offset="0.888" stop-color="#ff0030"/><stop offset="0.943" stop-color="#ff2000"/><stop offset="1" stop-color="#ff4800"/></linearGradient><linearGradient id="mg13" x1="0" y1="0" x2="0" y2="1"><stop offset="0" stop-color="#ff00ff"/><stop offset="0.4550" stop-color="#ff00ff"/><stop offset="0.4605" stop-color="#00f0f0"/><stop offset="0.4728" stop-color="#00ff40"/><stop offset="0.5109" stop-color="#60ff00"/><stop offset="0.5368" stop-color="#c0ff00"/><stop offset="0.5613" stop-color="#ffff00"/><stop offset="0.5817" stop-color="#ffc000"/><stop offset="0.6022" stop-color="#ff8000"/><stop offset="0.6213" stop-color="#ff3000"/><stop offset="0.6376" stop-color="#ff0030"/><stop offset="0.888" stop-color="#ff0030"/><stop offset="0.943" stop-color="#ff2000"/><stop offset="1" stop-color="#ff4800"/></linearGradient></defs>
<rect x="668.8" y="115.8" width="177.2" height="73.4" fill="url(#mg0)" shape-rendering="crispEdges"/>
<rect x="845" y="115.8" width="26" height="73.4" fill="url(#mg1)" shape-rendering="crispEdges"/>
<rect x="870" y="115.8" width="3" height="73.4" fill="url(#mg2)" shape-rendering="crispEdges"/>
<rect x="872" y="115.8" width="3" height="73.4" fill="url(#mg3)" shape-rendering="crispEdges"/>
<rect x="874" y="115.8" width="3" height="73.4" fill="url(#mg4)" shape-rendering="crispEdges"/>
<rect x="876" y="115.8" width="3" height="73.4" fill="url(#mg5)" shape-rendering="crispEdges"/>
<rect x="878" y="115.8" width="3" height="73.4" fill="url(#mg6)" shape-rendering="crispEdges"/>
<rect x="880" y="115.8" width="161" height="73.4" fill="url(#mg7)" shape-rendering="crispEdges"/>
<rect x="1040" y="115.8" width="3" height="73.4" fill="url(#mg8)" shape-rendering="crispEdges"/>
<rect x="1042" y="115.8" width="3" height="73.4" fill="url(#mg9)" shape-rendering="crispEdges"/>
<rect x="1044" y="115.8" width="3" height="73.4" fill="url(#mg10)" shape-rendering="crispEdges"/>
<rect x="1046" y="115.8" width="3" height="73.4" fill="url(#mg11)" shape-rendering="crispEdges"/>
<rect x="1048" y="115.8" width="3" height="73.4" fill="url(#mg12)" shape-rendering="crispEdges"/>
<rect x="1050" y="115.8" width="72.3" height="73.4" fill="url(#mg13)" shape-rendering="crispEdges"/>
<path d="M672.4 121.8h1.3v3h-1.3zM676.3 131.7h1.3v4.5h-1.3zM677.6 145.4h1.3v4.2h-1.3zM681.5 123.5h1.3v2.8h-1.3zM682.8 144.5h1.3v2.8h-1.3zM684.1 132.8h1.3v3.1h-1.3zM685.4 117.2h1.3v3.2h-1.3zM688 123.5h1.3v4h-1.3zM689.3 129.6h1.3v2.5h-1.3zM694.5 143.2h1.3v5h-1.3zM695.8 134.7h1.3v2.2h-1.3zM710.1 124.8h1.3v2.7h-1.3zM712.7 136h1.3v3.5h-1.3zM716.6 145h1.3v4.3h-1.3zM721.8 144.7h1.3v5.3h-1.3zM724.4 144.3h1.3v3.2h-1.3zM725.7 144.2h1.3v4.6h-1.3zM728.3 147.9h1.3v2h-1.3zM732.2 124.1h1.3v3.5h-1.3zM733.5 141.7h1.3v2.4h-1.3zM733.5 139.4h1.3v2.9h-1.3zM733.5 146.8h1.3v3.2h-1.3zM736.1 117.5h1.3v2.4h-1.3zM743.9 141.4h1.3v2.1h-1.3zM743.9 147.1h1.3v2.7h-1.3zM745.2 146.5h1.3v3.5h-1.3zM750.4 142.6h1.3v4.9h-1.3zM750.4 145.4h1.3v3.5h-1.3zM753 139.8h1.3v3.4h-1.3zM754.3 144.2h1.3v2.8h-1.3zM755.6 129.2h1.3v4.7h-1.3zM756.9 133.9h1.3v1.8h-1.3zM756.9 117.2h1.3v3.4h-1.3zM758.2 117.2h1.3v0.5h-1.3zM759.5 148.3h1.3v1.6h-1.3zM759.5 146.4h1.3v1.5h-1.3zM767.3 118.4h1.3v1.8h-1.3zM768.6 145.4h1.3v3h-1.3zM780.3 142h1.3v2h-1.3zM782.9 117.2h1.3v4h-1.3zM785.5 147h1.3v3h-1.3zM786.8 147h1.3v1.9h-1.3zM788.1 117.2h1.3v0.3h-1.3zM792 145.4h1.3v3h-1.3zM811.5 129.1h1.3v2.8h-1.3zM846.6 123.7h1.3v4.5h-1.3zM850.5 147.4h1.3v2.6h-1.3zM860.9 136.7h1.3v5.1h-1.3zM862.2 135h1.3v4.8h-1.3zM862.2 141.8h1.3v2.8h-1.3zM872.6 148.2h1.3v1.7h-1.3zM907.7 122.8h1.3v2.3h-1.3zM909 136.4h1.3v5.5h-1.3zM967.5 147.9h1.3v2h-1.3zM992.2 146.3h1.3v3.1h-1.3zM1015.6 146.6h1.3v1.6h-1.3zM1018.2 124.6h1.3v3.3h-1.3zM1026 143.5h1.3v3.2h-1.3zM1033.8 144.3h1.3v4.1h-1.3zM1036.4 117.2h1.3v4h-1.3zM1040.3 145.4h1.3v3h-1.3zM1062.4 140.8h1.3v4.8h-1.3zM1066.3 117.2h1.3v0.7h-1.3zM1085.8 141.5h1.3v4.5h-1.3zM1094.9 125.3h1.3v3h-1.3zM1106.6 142.1h1.3v4.7h-1.3zM1111.8 144.4h1.3v5.2h-1.3zM1114.4 128.4h1.3v3.8h-1.3z" fill="#00c8ff"/>
<path d="M677.6 144.6h1.3v1.8h-1.3zM681.5 126.7h1.3v2h-1.3zM684.1 125.7h1.3v2.4h-1.3zM685.4 145.5h1.3v3.5h-1.3zM686.7 120.2h1.3v2.5h-1.3zM686.7 134.9h1.3v3.9h-1.3zM689.3 124.9h1.3v2.4h-1.3zM690.6 125.9h1.3v5.2h-1.3zM691.9 125.7h1.3v3.9h-1.3zM691.9 148.1h1.3v1.9h-1.3zM698.4 147.3h1.3v1.5h-1.3zM699.7 140.5h1.3v3.7h-1.3zM701 147.1h1.3v2.6h-1.3zM702.3 130.8h1.3v2.2h-1.3zM703.6 129.9h1.3v3.9h-1.3zM704.9 127.7h1.3v3.2h-1.3zM708.8 147.8h1.3v2.2h-1.3zM711.4 144.5h1.3v5.3h-1.3zM717.9 143.2h1.3v5.2h-1.3zM719.2 133.7h1.3v2h-1.3zM724.4 122h1.3v2.6h-1.3zM724.4 146.3h1.3v1.9h-1.3zM727 118.3h1.3v5h-1.3zM727 145.6h1.3v3.9h-1.3zM729.6 146.8h1.3v3.2h-1.3zM729.6 145.2h1.3v4.6h-1.3zM729.6 145.3h1.3v1.9h-1.3zM730.9 124h1.3v4.4h-1.3zM732.2 146.8h1.3v2.2h-1.3zM734.8 145.5h1.3v4.4h-1.3zM736.1 145.9h1.3v4.1h-1.3zM737.4 143.1h1.3v2.2h-1.3zM740 144.4h1.3v4.2h-1.3zM742.6 117.2h1.3v1.8h-1.3zM745.2 140.6h1.3v2h-1.3zM749.1 133.8h1.3v3.8h-1.3zM750.4 144h1.3v3.1h-1.3zM751.7 124.9h1.3v2.7h-1.3zM756.9 132.9h1.3v2.5h-1.3zM763.4 126.9h1.3v2.9h-1.3zM764.7 127.1h1.3v4.6h-1.3zM764.7 133.2h1.3v3.4h-1.3zM766 143.8h1.3v3.9h-1.3zM767.3 120.1h1.3v5.2h-1.3zM767.3 138.7h1.3v2.4h-1.3zM767.3 147.6h1.3v2.3h-1.3zM769.9 147h1.3v2.7h-1.3zM769.9 147.3h1.3v2.7h-1.3zM771.2 121.2h1.3v1.7h-1.3zM771.2 135.5h1.3v4.2h-1.3zM772.5 142.8h1.3v3.5h-1.3zM773.8 147.6h1.3v2.4h-1.3zM775.1 118.7h1.3v4.7h-1.3zM776.4 133.3h1.3v4.1h-1.3zM782.9 146h1.3v3.5h-1.3zM797.2 146h1.3v3.8h-1.3zM846.6 121.6h1.3v2.8h-1.3zM849.2 145.1h1.3v4.6h-1.3zM853.1 146.3h1.3v3.6h-1.3zM854.4 122.5h1.3v3h-1.3zM855.7 144.1h1.3v2.8h-1.3zM857 145.8h1.3v4.1h-1.3zM863.5 138.8h1.3v2.9h-1.3zM867.4 144.3h1.3v4.9h-1.3zM867.4 144.4h1.3v4.8h-1.3zM870 122.7h1.3v3.1h-1.3zM870 142.9h1.3v3h-1.3zM871.3 133.3h1.3v3.7h-1.3zM871.3 131.7h1.3v3.7h-1.3zM872.6 125.2h1.3v2.9h-1.3zM892.1 132h1.3v1.6h-1.3zM898.6 124.4h1.3v2.3h-1.3zM929.8 135.5h1.3v4.1h-1.3zM968.8 135.5h1.3v2.3h-1.3zM988.3 145.3h1.3v4.7h-1.3zM1000 140.2h1.3v4.6h-1.3zM1013 126.4h1.3v2.3h-1.3zM1020.8 136.3h1.3v4.5h-1.3zM1041.6 143.2h1.3v3.4h-1.3zM1049.4 137.1h1.3v4.9h-1.3zM1079.3 144h1.3v4.7h-1.3zM1081.9 138.9h1.3v4.2h-1.3zM1092.3 120.8h1.3v5.3h-1.3zM1102.7 140.8h1.3v2.1h-1.3zM1105.3 121.8h1.3v5.2h-1.3zM1107.9 144h1.3v2.4h-1.3zM1109.2 146.1h1.3v3.5h-1.3zM1113.1 130.1h1.3v3.6h-1.3z" fill="#0040ff"/>
<path d="M689.3 146.5h1.3v3.5h-1.3zM699.7 140h1.3v1.7h-1.3zM702.3 127.9h1.3v2.1h-1.3zM712.7 145h1.3v4.6h-1.3zM728.3 122h1.3v4.1h-1.3zM736.1 138.2h1.3v2.4h-1.3zM738.7 125.1h1.3v3.6h-1.3zM738.7 139.4h1.3v2.1h-1.3zM753 123h1.3v3h-1.3zM764.7 141.6h1.3v3.5h-1.3zM777.7 138.4h1.3v4.5h-1.3zM836.2 143.6h1.3v3.1h-1.3zM860.9 148.3h1.3v1.6h-1.3zM868.7 146h1.3v3.9h-1.3zM923.3 147.5h1.3v2.5h-1.3zM1028.6 136.1h1.3v2.7h-1.3zM1059.8 147.5h1.3v2.5h-1.3zM1083.2 144.6h1.3v4.7h-1.3z" fill="#00ff00"/>
<path d="M671.1 147.1h1.3v2.5h-1.3zM673.7 117.8h1.3v3.6h-1.3zM675 147.4h1.3v1.5h-1.3zM676.3 117.2h1.3v1.8h-1.3zM677.6 117.5h1.3v4.1h-1.3zM678.9 146.7h1.3v3.1h-1.3zM678.9 142.3h1.3v3.7h-1.3zM680.2 144.5h1.3v5.3h-1.3zM680.2 147.6h1.3v2.2h-1.3zM682.8 127.1h1.3v3.6h-1.3zM684.1 134.8h1.3v2.8h-1.3zM688 145.8h1.3v2.3h-1.3zM688 131.9h1.3v5.4h-1.3zM690.6 133.8h1.3v4.5h-1.3zM693.2 132.6h1.3v3.8h-1.3zM694.5 128.8h1.3v3.1h-1.3zM697.1 119.6h1.3v4.2h-1.3zM697.1 117.2h1.3v0h-1.3zM701 134h1.3v3.2h-1.3zM702.3 128.8h1.3v1.8h-1.3zM703.6 144.4h1.3v2.9h-1.3zM704.9 147h1.3v3h-1.3zM706.2 145.2h1.3v4.8h-1.3zM706.2 144.7h1.3v2.8h-1.3zM707.5 119.2h1.3v2h-1.3zM707.5 128.3h1.3v2.7h-1.3zM708.8 133.9h1.3v4.7h-1.3zM708.8 146.5h1.3v2.4h-1.3zM710.1 131.6h1.3v4.6h-1.3zM711.4 145.3h1.3v4.1h-1.3zM711.4 148.4h1.3v1.5h-1.3zM712.7 138.8h1.3v2.9h-1.3zM715.3 145.4h1.3v4.5h-1.3zM717.9 130.3h1.3v1.6h-1.3zM719.2 133.5h1.3v3.6h-1.3zM723.1 148.3h1.3v1.6h-1.3zM723.1 135.9h1.3v4.5h-1.3zM723.1 142.1h1.3v4.1h-1.3zM724.4 146.4h1.3v2.5h-1.3zM725.7 142.8h1.3v3.3h-1.3zM725.7 144.4h1.3v4.6h-1.3zM727 139.3h1.3v5.5h-1.3zM728.3 147.1h1.3v2.8h-1.3zM729.6 134.8h1.3v1.9h-1.3zM730.9 146.1h1.3v3.9h-1.3zM734.8 144.3h1.3v5.2h-1.3zM734.8 138.8h1.3v4.1h-1.3zM737.4 118.7h1.3v5.3h-1.3zM740 138.6h1.3v4.3h-1.3zM740 138.2h1.3v1.7h-1.3zM741.3 120.7h1.3v2.5h-1.3zM741.3 146.1h1.3v1.8h-1.3zM742.6 145.9h1.3v2.4h-1.3zM742.6 145.7h1.3v4.2h-1.3zM743.9 127.6h1.3v4.9h-1.3zM745.2 145.1h1.3v4.7h-1.3zM746.5 148.4h1.3v1.6h-1.3zM746.5 140.3h1.3v4.4h-1.3zM747.8 145.7h1.3v4.1h-1.3zM747.8 127.8h1.3v1.6h-1.3zM749.1 121.3h1.3v4.3h-1.3zM751.7 147.8h1.3v2.2h-1.3zM751.7 144.1h1.3v5.1h-1.3zM754.3 118.2h1.3v2.3h-1.3zM755.6 147.6h1.3v1.8h-1.3zM755.6 146h1.3v3.1h-1.3zM758.2 143.9h1.3v4.4h-1.3zM758.2 146h1.3v3.8h-1.3zM760.8 147.7h1.3v2.3h-1.3zM760.8 137.8h1.3v5.3h-1.3zM760.8 139.4h1.3v2.3h-1.3zM762.1 142.5h1.3v5.4h-1.3zM762.1 144.9h1.3v4.5h-1.3zM763.4 146.7h1.3v3.3h-1.3zM763.4 145h1.3v5h-1.3zM766 148h1.3v1.9h-1.3zM766 131.2h1.3v5.2h-1.3zM768.6 146.9h1.3v2.5h-1.3zM768.6 128.3h1.3v3.1h-1.3zM769.9 122.7h1.3v3.8h-1.3zM772.5 117.2h1.3v0.1h-1.3zM772.5 125.2h1.3v2.3h-1.3zM773.8 148.4h1.3v1.6h-1.3zM775.1 148.2h1.3v1.8h-1.3zM775.1 148.1h1.3v1.8h-1.3zM776.4 145.5h1.3v1.7h-1.3zM776.4 141.4h1.3v2.8h-1.3zM777.7 135.2h1.3v3.9h-1.3zM779 145.4h1.3v4.5h-1.3zM779 126.2h1.3v1.8h-1.3zM781.6 147.9h1.3v2h-1.3zM781.6 144.2h1.3v5h-1.3zM781.6 142.4h1.3v4.1h-1.3zM782.9 142.5h1.3v5.1h-1.3zM784.2 117.7h1.3v2.9h-1.3zM785.5 143.8h1.3v5.3h-1.3zM789.4 144.7h1.3v2.9h-1.3zM789.4 144.7h1.3v5.3h-1.3zM789.4 131.6h1.3v5.1h-1.3zM814.1 141.4h1.3v4.5h-1.3zM823.2 139.4h1.3v4.2h-1.3zM824.5 145.2h1.3v1.6h-1.3zM832.3 131.6h1.3v2.9h-1.3zM845.3 142.5h1.3v4.6h-1.3zM847.9 120.4h1.3v3h-1.3zM847.9 144.7h1.3v2.3h-1.3zM850.5 146.9h1.3v2.4h-1.3zM851.8 137.6h1.3v4.9h-1.3zM851.8 119.5h1.3v5.2h-1.3zM853.1 128h1.3v2.8h-1.3zM855.7 147.9h1.3v1.9h-1.3zM858.3 121.3h1.3v3.3h-1.3zM858.3 127.5h1.3v2.9h-1.3zM859.6 122.8h1.3v3.2h-1.3zM859.6 117.2h1.3v0.3h-1.3zM862.2 144.6h1.3v3.3h-1.3zM863.5 144.2h1.3v4.4h-1.3zM864.8 145.3h1.3v4.4h-1.3zM866.1 134.1h1.3v1.5h-1.3zM866.1 141.6h1.3v4.3h-1.3zM868.7 126h1.3v3.1h-1.3zM870 125.8h1.3v4.4h-1.3zM871.3 128.3h1.3v3.9h-1.3zM873.9 141h1.3v4.9h-1.3zM879.1 139.4h1.3v1.6h-1.3zM885.6 138.9h1.3v3.1h-1.3zM888.2 138.8h1.3v4.1h-1.3zM890.8 143.9h1.3v5.5h-1.3zM899.9 146.8h1.3v3.1h-1.3zM902.5 121.7h1.3v4.8h-1.3zM903.8 143.7h1.3v1.8h-1.3zM911.6 143h1.3v3h-1.3zM919.4 137.3h1.3v4.1h-1.3zM922 144h1.3v2.4h-1.3zM948 129.3h1.3v3.3h-1.3zM970.1 119.7h1.3v2h-1.3zM971.4 146.3h1.3v3.7h-1.3zM983.1 147.5h1.3v2.4h-1.3zM993.5 131.6h1.3v3.2h-1.3zM998.7 147.1h1.3v2.1h-1.3zM1006.5 124.3h1.3v2.5h-1.3zM1009.1 141.6h1.3v2.1h-1.3zM1022.1 145.8h1.3v2.1h-1.3zM1044.2 147.9h1.3v1.6h-1.3zM1045.5 143.3h1.3v4.9h-1.3zM1046.8 147.4h1.3v2.6h-1.3zM1050.7 122.5h1.3v4.3h-1.3zM1052 148.2h1.3v1.7h-1.3zM1054.6 143.6h1.3v4.8h-1.3zM1057.2 137.7h1.3v4.4h-1.3zM1058.5 127.8h1.3v3.6h-1.3zM1061.1 130.9h1.3v1.6h-1.3zM1063.7 146.5h1.3v2.9h-1.3zM1067.6 141.2h1.3v4.1h-1.3zM1068.9 139.5h1.3v2.9h-1.3zM1070.2 144.7h1.3v3.2h-1.3zM1071.5 144.7h1.3v2.8h-1.3zM1074.1 148h1.3v1.7h-1.3zM1078 139.3h1.3v1.9h-1.3zM1093.6 118.9h1.3v2.3h-1.3zM1096.2 143.9h1.3v2h-1.3zM1104 117.2h1.3v4.9h-1.3zM1110.5 127.6h1.3v3.7h-1.3z" fill="#0000ff"/>
<path d="M671.1 143h1.3v4.2h-1.3zM672.4 145.1h1.3v4.4h-1.3zM673.7 143.4h1.3v2.2h-1.3zM675 120.6h1.3v1.8h-1.3zM680.2 121.2h1.3v2h-1.3zM681.5 147.3h1.3v2.7h-1.3zM691.9 141.8h1.3v3.6h-1.3zM693.2 147.3h1.3v2.7h-1.3zM694.5 134.1h1.3v3.1h-1.3zM695.8 146.5h1.3v2.6h-1.3zM698.4 143.6h1.3v4.4h-1.3zM704.9 146.4h1.3v3.5h-1.3zM706.2 138h1.3v4.4h-1.3zM714 145.4h1.3v2.1h-1.3zM714 134.3h1.3v1.9h-1.3zM715.3 135.4h1.3v2.2h-1.3zM715.3 139.4h1.3v5h-1.3zM716.6 147.5h1.3v2.5h-1.3zM719.2 136.7h1.3v1.5h-1.3zM720.5 147.6h1.3v2.4h-1.3zM727 142.8h1.3v5.5h-1.3zM730.9 142.1h1.3v5.1h-1.3zM732.2 146.2h1.3v2h-1.3zM737.4 126.8h1.3v4h-1.3zM738.7 138.2h1.3v5.3h-1.3zM741.3 140.2h1.3v3h-1.3zM745.2 141.9h1.3v2.7h-1.3zM746.5 119.2h1.3v3.3h-1.3zM747.8 117.2h1.3v2.3h-1.3zM749.1 142.6h1.3v2h-1.3zM753 133.2h1.3v2.2h-1.3zM754.3 140.7h1.3v3.7h-1.3zM759.5 137.8h1.3v3.6h-1.3zM762.1 147.6h1.3v2.4h-1.3zM771.2 146h1.3v3.9h-1.3zM773.8 130.1h1.3v2.3h-1.3zM777.7 136.6h1.3v1.7h-1.3zM779 135.4h1.3v4.9h-1.3zM780.3 121.2h1.3v1.6h-1.3zM780.3 137h1.3v4h-1.3zM781.6 129.8h1.3v4.5h-1.3zM784.2 146.4h1.3v2.4h-1.3zM784.2 131.9h1.3v3.4h-1.3zM785.5 135.9h1.3v4.5h-1.3zM786.8 124.7h1.3v3.9h-1.3zM786.8 148.1h1.3v1.6h-1.3zM788.1 123.6h1.3v2.7h-1.3zM788.1 143.1h1.3v3.8h-1.3zM793.3 133.7h1.3v2.2h-1.3zM816.7 134.3h1.3v2.9h-1.3zM845.3 145.2h1.3v4.8h-1.3zM847.9 145.5h1.3v3.4h-1.3zM849.2 141.2h1.3v3.3h-1.3zM850.5 117.8h1.3v1.7h-1.3zM854.4 131.6h1.3v1.8h-1.3zM857 145h1.3v5h-1.3zM864.8 128h1.3v3.8h-1.3zM873.9 141.7h1.3v5.4h-1.3zM940.2 142.1h1.3v3.8h-1.3zM954.5 130.9h1.3v1.7h-1.3zM989.6 147.7h1.3v2.2h-1.3zM1019.5 148.2h1.3v1.8h-1.3zM1031.2 126.5h1.3v5h-1.3zM1042.9 117.2h1.3v1.1h-1.3zM1048.1 117.2h1.3v-0.1h-1.3zM1053.3 117.2h1.3v3.1h-1.3zM1055.9 146.4h1.3v2.2h-1.3zM1072.8 138.9h1.3v4.5h-1.3zM1100.1 117.2h1.3v3h-1.3zM1101.4 136.7h1.3v3.4h-1.3zM1105.3 142.2h1.3v3.8h-1.3zM1115.7 147.4h1.3v2.1h-1.3z" fill="#00ffff"/>
<path d="M669.3 149.7h1.3v0.6h-1.3zM670.6 146.6h1.3v3.7h-1.3zM671.9 147.5h1.3v2.8h-1.3zM673.2 149.3h1.3v1h-1.3zM674.5 149.1h1.3v1.2h-1.3zM675.8 147.4h1.3v2.9h-1.3zM677.1 148.1h1.3v2.2h-1.3zM678.4 148.3h1.3v2h-1.3zM679.7 148.8h1.3v1.5h-1.3zM681 146.8h1.3v3.5h-1.3zM682.3 149.1h1.3v1.2h-1.3zM683.6 148.6h1.3v1.7h-1.3zM684.9 149.6h1.3v0.7h-1.3zM686.2 146.8h1.3v3.5h-1.3zM687.5 147.7h1.3v2.6h-1.3zM688.8 149.4h1.3v0.9h-1.3zM690.1 147.3h1.3v3h-1.3zM691.4 146.7h1.3v3.6h-1.3zM692.7 148.4h1.3v1.9h-1.3zM694 147.6h1.3v2.7h-1.3zM695.3 148.1h1.3v2.2h-1.3zM696.6 147.2h1.3v3.1h-1.3zM697.9 146.8h1.3v3.5h-1.3zM699.2 149.8h1.3v0.5h-1.3zM700.5 149.2h1.3v1.1h-1.3zM701.8 149.6h1.3v0.7h-1.3zM703.1 149.4h1.3v0.9h-1.3zM704.4 149.5h1.3v0.8h-1.3zM705.7 147.9h1.3v2.4h-1.3zM707 149.5h1.3v0.8h-1.3zM708.3 146.7h1.3v3.6h-1.3zM709.6 148.9h1.3v1.4h-1.3zM710.9 147.8h1.3v2.5h-1.3zM712.2 149.7h1.3v0.6h-1.3zM713.5 148h1.3v2.3h-1.3zM714.8 148.8h1.3v1.5h-1.3zM716.1 146.7h1.3v3.6h-1.3zM717.4 147.7h1.3v2.6h-1.3zM718.7 147.7h1.3v2.6h-1.3zM720 149.4h1.3v0.9h-1.3zM722.6 146.2h1.3v4.1h-1.3zM723.9 147.2h1.3v3.1h-1.3zM725.2 146.4h1.3v3.9h-1.3zM726.5 149.4h1.3v0.9h-1.3zM727.8 146.8h1.3v3.5h-1.3zM729.1 147h1.3v3.3h-1.3zM730.4 146.3h1.3v4h-1.3zM731.7 146.7h1.3v3.6h-1.3zM733 148.7h1.3v1.6h-1.3zM734.3 148.5h1.3v1.8h-1.3zM735.6 147.4h1.3v2.9h-1.3zM736.9 145.6h1.3v4.7h-1.3zM738.2 147.3h1.3v3h-1.3zM739.5 148.7h1.3v1.6h-1.3zM740.8 145.6h1.3v4.7h-1.3zM742.1 149.6h1.3v0.7h-1.3zM743.4 146.7h1.3v3.6h-1.3zM744.7 146.4h1.3v3.9h-1.3zM746 149.7h1.3v0.6h-1.3zM747.3 148.7h1.3v1.6h-1.3zM748.6 146.1h1.3v4.2h-1.3zM749.9 146h1.3v4.3h-1.3zM751.2 146.1h1.3v4.2h-1.3zM752.5 147.8h1.3v2.5h-1.3zM753.8 148.9h1.3v1.4h-1.3zM755.1 145.9h1.3v4.4h-1.3zM756.4 147.8h1.3v2.5h-1.3zM757.7 145.4h1.3v4.9h-1.3zM759 149.5h1.3v0.8h-1.3zM760.3 149.3h1.3v1h-1.3zM761.6 147.8h1.3v2.5h-1.3zM762.9 146h1.3v4.3h-1.3zM764.2 147.4h1.3v2.9h-1.3zM765.5 148.6h1.3v1.7h-1.3zM766.8 147.6h1.3v2.7h-1.3zM768.1 148.4h1.3v1.9h-1.3zM769.4 145.5h1.3v4.8h-1.3zM770.7 148h1.3v2.3h-1.3zM772 148.7h1.3v1.6h-1.3zM773.3 147h1.3v3.3h-1.3zM774.6 147.8h1.3v2.5h-1.3zM775.9 145.9h1.3v4.4h-1.3zM777.2 149.5h1.3v0.8h-1.3zM778.5 145.7h1.3v4.6h-1.3zM779.8 148.5h1.3v1.8h-1.3zM781.1 148h1.3v2.3h-1.3zM782.4 146h1.3v4.3h-1.3zM783.7 149.4h1.3v0.9h-1.3zM785 147.7h1.3v2.6h-1.3zM786.3 147.2h1.3v3.1h-1.3zM787.6 147.3h1.3v3h-1.3zM788.9 149.2h1.3v1.1h-1.3zM790.2 149.9h1.3v0.4h-1.3zM792.8 149.9h1.3v0.4h-1.3zM795.4 149.7h1.3v0.6h-1.3zM796.7 149.9h1.3v0.4h-1.3zM804.5 149.8h1.3v0.5h-1.3zM808.4 149.8h1.3v0.5h-1.3zM809.7 149.8h1.3v0.5h-1.3zM816.2 149.9h1.3v0.4h-1.3zM820.1 149.7h1.3v0.6h-1.3zM821.4 149.9h1.3v0.4h-1.3zM824 149.9h1.3v0.4h-1.3zM830.5 149.9h1.3v0.4h-1.3zM831.8 149.8h1.3v0.5h-1.3zM834.4 149.8h1.3v0.5h-1.3zM840.9 149.9h1.3v0.4h-1.3zM844.8 149.8h1.3v0.5h-1.3zM846.1 147.4h1.3v2.9h-1.3zM847.4 147.8h1.3v2.5h-1.3zM848.7 147.7h1.3v2.6h-1.3zM850 148.7h1.3v1.6h-1.3zM851.3 147.4h1.3v2.9h-1.3zM852.6 148.8h1.3v1.5h-1.3zM853.9 148.8h1.3v1.5h-1.3zM855.2 149.3h1.3v1h-1.3zM856.5 148.3h1.3v2h-1.3zM857.8 148.8h1.3v1.5h-1.3zM859.1 148.8h1.3v1.5h-1.3zM860.4 147.7h1.3v2.6h-1.3zM861.7 147.2h1.3v3.1h-1.3zM863 149h1.3v1.3h-1.3zM864.3 149.4h1.3v0.9h-1.3zM865.6 146.9h1.3v3.4h-1.3zM866.9 149.4h1.3v0.9h-1.3zM868.2 148h1.3v2.3h-1.3zM869.5 149.5h1.3v0.8h-1.3zM870.8 148.6h1.3v1.7h-1.3zM872.1 146.8h1.3v3.5h-1.3zM873.4 147.9h1.3v2.4h-1.3zM874.7 147.6h1.3v2.7h-1.3zM876 149.8h1.3v0.5h-1.3zM877.3 149.9h1.3v0.4h-1.3zM878.6 149.9h1.3v0.4h-1.3zM879.9 149.8h1.3v0.5h-1.3zM881.2 149.8h1.3v0.5h-1.3zM891.6 149.7h1.3v0.6h-1.3zM895.5 149.8h1.3v0.5h-1.3zM904.6 149.7h1.3v0.6h-1.3zM909.8 149.9h1.3v0.4h-1.3zM917.6 149.9h1.3v0.4h-1.3zM920.2 149.7h1.3v0.6h-1.3zM921.5 149.7h1.3v0.6h-1.3zM922.8 149.8h1.3v0.5h-1.3zM926.7 149.9h1.3v0.4h-1.3zM929.3 149.8h1.3v0.5h-1.3zM930.6 149.8h1.3v0.5h-1.3zM934.5 149.9h1.3v0.4h-1.3zM935.8 149.9h1.3v0.4h-1.3zM942.3 149.7h1.3v0.6h-1.3zM944.9 149.7h1.3v0.6h-1.3zM948.8 149.8h1.3v0.5h-1.3zM950.1 149.9h1.3v0.4h-1.3zM955.3 149.7h1.3v0.6h-1.3zM957.9 149.9h1.3v0.4h-1.3zM959.2 149.9h1.3v0.4h-1.3zM961.8 149.9h1.3v0.4h-1.3zM963.1 149.8h1.3v0.5h-1.3zM965.7 149.8h1.3v0.5h-1.3zM970.9 149.8h1.3v0.5h-1.3zM972.2 149.7h1.3v0.6h-1.3zM973.5 149.7h1.3v0.6h-1.3zM978.7 149.9h1.3v0.4h-1.3zM981.3 149.8h1.3v0.5h-1.3zM982.6 149.8h1.3v0.5h-1.3zM991.7 149.8h1.3v0.5h-1.3zM994.3 149.7h1.3v0.6h-1.3zM995.6 149.9h1.3v0.4h-1.3zM996.9 149.9h1.3v0.4h-1.3zM998.2 149.8h1.3v0.5h-1.3zM1002.1 149.9h1.3v0.4h-1.3zM1003.4 149.8h1.3v0.5h-1.3zM1004.7 149.8h1.3v0.5h-1.3zM1009.9 149.8h1.3v0.5h-1.3zM1015.1 149.9h1.3v0.4h-1.3zM1022.9 149.7h1.3v0.6h-1.3zM1029.4 149.7h1.3v0.6h-1.3zM1033.3 149.7h1.3v0.6h-1.3zM1034.6 149.9h1.3v0.4h-1.3zM1037.2 149.7h1.3v0.6h-1.3zM1039.8 149.8h1.3v0.5h-1.3zM1041.1 148.9h1.3v1.4h-1.3zM1042.4 149.4h1.3v0.9h-1.3zM1043.7 149h1.3v1.3h-1.3zM1045 149.2h1.3v1.1h-1.3zM1048.9 149.7h1.3v0.6h-1.3zM1050.2 149h1.3v1.3h-1.3zM1052.8 149h1.3v1.3h-1.3zM1054.1 149.7h1.3v0.6h-1.3zM1055.4 149.2h1.3v1.1h-1.3zM1056.7 149.2h1.3v1.1h-1.3zM1058 149.7h1.3v0.6h-1.3zM1059.3 149.1h1.3v1.2h-1.3zM1060.6 149.4h1.3v0.9h-1.3zM1061.9 149.5h1.3v0.8h-1.3zM1063.2 149h1.3v1.3h-1.3zM1064.5 149.2h1.3v1.1h-1.3zM1065.8 149h1.3v1.3h-1.3zM1067.1 149.8h1.3v0.5h-1.3zM1069.7 149.6h1.3v0.7h-1.3zM1071 149.2h1.3v1.1h-1.3zM1072.3 149.4h1.3v0.9h-1.3zM1074.9 149h1.3v1.3h-1.3zM1076.2 149.8h1.3v0.5h-1.3zM1077.5 149.7h1.3v0.6h-1.3zM1085.3 149.8h1.3v0.5h-1.3zM1090.5 149.7h1.3v0.6h-1.3zM1091.8 149.9h1.3v0.4h-1.3zM1094.4 149.7h1.3v0.6h-1.3zM1095.7 149.9h1.3v0.4h-1.3zM1097 149.7h1.3v0.6h-1.3zM1098.3 149.7h1.3v0.6h-1.3zM1099.6 149.8h1.3v0.5h-1.3zM1102.2 149.5h1.3v0.8h-1.3zM1103.5 149h1.3v1.3h-1.3zM1104.8 149.8h1.3v0.5h-1.3zM1107.4 148.7h1.3v1.6h-1.3zM1108.7 148.6h1.3v1.7h-1.3zM1110 149.9h1.3v0.4h-1.3zM1112.6 148.8h1.3v1.5h-1.3zM1113.9 149.3h1.3v1h-1.3zM1115.2 149.8h1.3v0.5h-1.3zM1116.5 149.8h1.3v0.5h-1.3zM1117.8 149.8h1.3v0.5h-1.3zM1120.4 149.7h1.3v0.6h-1.3zM1121.7 149.8h1.3v0.5h-1.3z" fill="#00ffff"/>
<path d="M669.3 149.8h1.3v1.5h-1.3zM670.6 150.6h1.3v0.7h-1.3zM671.9 149.2h1.3v2.1h-1.3zM673.2 149.2h1.3v2.1h-1.3zM674.5 148.9h1.3v2.4h-1.3zM675.8 149.5h1.3v1.8h-1.3zM677.1 149.9h1.3v1.4h-1.3zM678.4 150.3h1.3v1h-1.3zM679.7 149.8h1.3v1.5h-1.3zM681 150h1.3v1.3h-1.3zM682.3 149h1.3v2.3h-1.3zM683.6 150.3h1.3v1h-1.3zM684.9 149.8h1.3v1.5h-1.3zM686.2 149.4h1.3v1.9h-1.3zM687.5 148.9h1.3v2.4h-1.3zM688.8 150h1.3v1.3h-1.3zM690.1 150.8h1.3v0.5h-1.3zM691.4 148.8h1.3v2.5h-1.3zM692.7 149.8h1.3v1.5h-1.3zM694 150.9h1.3v0.4h-1.3zM695.3 149.9h1.3v1.4h-1.3zM696.6 149.4h1.3v1.9h-1.3zM697.9 149.5h1.3v1.8h-1.3zM699.2 150.1h1.3v1.2h-1.3zM700.5 150.9h1.3v0.4h-1.3zM701.8 149.7h1.3v1.6h-1.3zM703.1 150.7h1.3v0.6h-1.3zM704.4 150.4h1.3v0.9h-1.3zM705.7 149.1h1.3v2.2h-1.3zM707 149.1h1.3v2.2h-1.3zM708.3 149.1h1.3v2.2h-1.3zM709.6 150.2h1.3v1.1h-1.3zM710.9 149.1h1.3v2.2h-1.3zM712.2 150.2h1.3v1.1h-1.3zM713.5 149.8h1.3v1.5h-1.3zM714.8 149.6h1.3v1.7h-1.3zM716.1 150.3h1.3v1h-1.3zM717.4 150.5h1.3v0.8h-1.3zM718.7 149.2h1.3v2.1h-1.3zM720 149.3h1.3v2h-1.3zM721.3 150.3h1.3v1h-1.3zM722.6 150.4h1.3v0.9h-1.3zM723.9 148.8h1.3v2.5h-1.3zM725.2 150h1.3v1.3h-1.3zM726.5 149.2h1.3v2.1h-1.3zM727.8 150.2h1.3v1.1h-1.3zM729.1 150.3h1.3v1h-1.3zM730.4 150.6h1.3v0.7h-1.3zM731.7 148.9h1.3v2.4h-1.3zM733 149.3h1.3v2h-1.3zM734.3 150.2h1.3v1.1h-1.3zM735.6 149.7h1.3v1.6h-1.3zM736.9 150.9h1.3v0.4h-1.3zM738.2 150.1h1.3v1.2h-1.3zM739.5 150.1h1.3v1.2h-1.3zM740.8 150.3h1.3v1h-1.3zM742.1 149.1h1.3v2.2h-1.3zM743.4 149.4h1.3v1.9h-1.3zM744.7 149.7h1.3v1.6h-1.3zM746 150.4h1.3v0.9h-1.3zM747.3 149.5h1.3v1.8h-1.3zM748.6 150.7h1.3v0.6h-1.3zM749.9 150.7h1.3v0.6h-1.3zM751.2 150.5h1.3v0.8h-1.3zM752.5 149.3h1.3v2h-1.3zM753.8 149.7h1.3v1.6h-1.3zM755.1 150.1h1.3v1.2h-1.3zM756.4 149.3h1.3v2h-1.3zM757.7 150h1.3v1.3h-1.3zM759 150h1.3v1.3h-1.3zM760.3 150.2h1.3v1.1h-1.3zM761.6 149.9h1.3v1.4h-1.3zM762.9 149.9h1.3v1.4h-1.3zM764.2 150.5h1.3v0.8h-1.3zM765.5 149.5h1.3v1.8h-1.3zM766.8 149h1.3v2.3h-1.3zM768.1 151h1.3v0.3h-1.3zM769.4 148.8h1.3v2.5h-1.3zM770.7 149.2h1.3v2.1h-1.3zM772 148.9h1.3v2.4h-1.3zM773.3 150.1h1.3v1.2h-1.3zM774.6 150.6h1.3v0.7h-1.3zM775.9 149.9h1.3v1.4h-1.3zM777.2 149h1.3v2.3h-1.3zM778.5 150.6h1.3v0.7h-1.3zM779.8 149.2h1.3v2.1h-1.3zM781.1 149.3h1.3v2h-1.3zM782.4 149.7h1.3v1.6h-1.3zM783.7 149.5h1.3v1.8h-1.3zM785 148.9h1.3v2.4h-1.3zM786.3 149.7h1.3v1.6h-1.3zM787.6 149.1h1.3v2.2h-1.3zM788.9 149h1.3v2.3h-1.3zM790.2 149.5h1.3v1.8h-1.3zM791.5 149.8h1.3v1.5h-1.3zM792.8 149h1.3v2.3h-1.3zM794.1 150.6h1.3v0.7h-1.3zM795.4 149.5h1.3v1.8h-1.3zM796.7 150h1.3v1.3h-1.3zM798 149.3h1.3v2h-1.3zM799.3 150.5h1.3v0.8h-1.3zM800.6 150.5h1.3v0.8h-1.3zM801.9 150.1h1.3v1.2h-1.3zM803.2 150.8h1.3v0.5h-1.3zM804.5 148.9h1.3v2.4h-1.3zM805.8 150.8h1.3v0.5h-1.3zM807.1 149.5h1.3v1.8h-1.3zM808.4 149.6h1.3v1.7h-1.3zM809.7 150.1h1.3v1.2h-1.3zM811 148.8h1.3v2.5h-1.3zM812.3 148.9h1.3v2.4h-1.3zM813.6 149.7h1.3v1.6h-1.3zM814.9 150.2h1.3v1.1h-1.3zM816.2 150.4h1.3v0.9h-1.3zM817.5 150.4h1.3v0.9h-1.3zM818.8 149.2h1.3v2.1h-1.3zM820.1 149.1h1.3v2.2h-1.3zM821.4 149.4h1.3v1.9h-1.3zM822.7 150.3h1.3v1h-1.3zM824 149.4h1.3v1.9h-1.3zM825.3 149.8h1.3v1.5h-1.3zM826.6 150.6h1.3v0.7h-1.3zM827.9 150.4h1.3v0.9h-1.3zM829.2 149.3h1.3v2h-1.3zM830.5 150.1h1.3v1.2h-1.3zM831.8 149.4h1.3v1.9h-1.3zM833.1 149.6h1.3v1.7h-1.3zM834.4 149h1.3v2.3h-1.3zM835.7 149.8h1.3v1.5h-1.3zM837 149.8h1.3v1.5h-1.3zM838.3 149.7h1.3v1.6h-1.3zM839.6 149.4h1.3v1.9h-1.3zM840.9 150.6h1.3v0.7h-1.3zM842.2 148.9h1.3v2.4h-1.3zM843.5 149.7h1.3v1.6h-1.3zM844.8 149.9h1.3v1.4h-1.3zM846.1 150.5h1.3v0.8h-1.3zM847.4 150.4h1.3v0.9h-1.3zM848.7 149.5h1.3v1.8h-1.3zM850 151h1.3v0.3h-1.3zM851.3 150h1.3v1.3h-1.3zM852.6 150h1.3v1.3h-1.3zM853.9 148.8h1.3v2.5h-1.3zM855.2 150.2h1.3v1.1h-1.3zM856.5 148.8h1.3v2.5h-1.3zM857.8 150.2h1.3v1.1h-1.3zM859.1 150.6h1.3v0.7h-1.3zM860.4 149.7h1.3v1.6h-1.3zM861.7 150.5h1.3v0.8h-1.3zM863 150.3h1.3v1h-1.3zM864.3 149.5h1.3v1.8h-1.3zM865.6 149.5h1.3v1.8h-1.3zM866.9 149.6h1.3v1.7h-1.3zM868.2 150.4h1.3v0.9h-1.3zM869.5 150.6h1.3v0.7h-1.3zM870.8 150.7h1.3v0.6h-1.3zM872.1 150.8h1.3v0.5h-1.3zM873.4 148.9h1.3v2.4h-1.3zM874.7 150.2h1.3v1.1h-1.3zM876 150.1h1.3v1.2h-1.3zM877.3 150.7h1.3v0.6h-1.3zM878.6 149.1h1.3v2.2h-1.3zM879.9 150.7h1.3v0.6h-1.3zM881.2 149.6h1.3v1.7h-1.3zM882.5 150.7h1.3v0.6h-1.3zM883.8 149.3h1.3v2h-1.3zM885.1 148.9h1.3v2.4h-1.3zM886.4 149.6h1.3v1.7h-1.3zM887.7 150.7h1.3v0.6h-1.3zM889 150.4h1.3v0.9h-1.3zM890.3 148.9h1.3v2.4h-1.3zM891.6 150.4h1.3v0.9h-1.3zM892.9 150.8h1.3v0.5h-1.3zM894.2 149.6h1.3v1.7h-1.3zM895.5 150.4h1.3v0.9h-1.3zM896.8 148.9h1.3v2.4h-1.3zM898.1 149.5h1.3v1.8h-1.3zM899.4 148.9h1.3v2.4h-1.3zM900.7 150h1.3v1.3h-1.3zM902 148.9h1.3v2.4h-1.3zM903.3 150.3h1.3v1h-1.3zM904.6 150.4h1.3v0.9h-1.3zM905.9 149.9h1.3v1.4h-1.3zM907.2 149h1.3v2.3h-1.3zM908.5 149h1.3v2.3h-1.3zM909.8 150.4h1.3v0.9h-1.3zM911.1 149h1.3v2.3h-1.3zM912.4 150.7h1.3v0.6h-1.3zM913.7 150.2h1.3v1.1h-1.3zM915 149.8h1.3v1.5h-1.3zM916.3 151h1.3v0.3h-1.3zM917.6 149.2h1.3v2.1h-1.3zM918.9 149.3h1.3v2h-1.3zM920.2 149.3h1.3v2h-1.3zM921.5 149.3h1.3v2h-1.3zM922.8 149.3h1.3v2h-1.3zM924.1 149.8h1.3v1.5h-1.3zM925.4 148.9h1.3v2.4h-1.3zM926.7 149.2h1.3v2.1h-1.3zM928 150.4h1.3v0.9h-1.3zM929.3 150.3h1.3v1h-1.3zM930.6 150.8h1.3v0.5h-1.3zM931.9 149.1h1.3v2.2h-1.3zM933.2 150.7h1.3v0.6h-1.3zM934.5 150.7h1.3v0.6h-1.3zM935.8 149.6h1.3v1.7h-1.3zM937.1 149.6h1.3v1.7h-1.3zM938.4 149.9h1.3v1.4h-1.3zM939.7 150.2h1.3v1.1h-1.3zM941 150.6h1.3v0.7h-1.3zM942.3 150.6h1.3v0.7h-1.3zM943.6 149.7h1.3v1.6h-1.3zM944.9 149.7h1.3v1.6h-1.3zM946.2 150.1h1.3v1.2h-1.3zM947.5 150.8h1.3v0.5h-1.3zM948.8 149.8h1.3v1.5h-1.3zM950.1 149.7h1.3v1.6h-1.3zM951.4 149.7h1.3v1.6h-1.3zM952.7 149h1.3v2.3h-1.3zM954 149.7h1.3v1.6h-1.3zM955.3 150.2h1.3v1.1h-1.3zM956.6 149.7h1.3v1.6h-1.3zM957.9 149.4h1.3v1.9h-1.3zM959.2 150.1h1.3v1.2h-1.3zM960.5 149.2h1.3v2.1h-1.3zM961.8 149.4h1.3v1.9h-1.3zM963.1 149.3h1.3v2h-1.3zM964.4 150.9h1.3v0.4h-1.3zM965.7 149.6h1.3v1.7h-1.3zM967 150.2h1.3v1.1h-1.3zM968.3 149.7h1.3v1.6h-1.3zM969.6 150.9h1.3v0.4h-1.3zM970.9 150.1h1.3v1.2h-1.3zM972.2 149.9h1.3v1.4h-1.3zM973.5 149.7h1.3v1.6h-1.3zM974.8 150.3h1.3v1h-1.3zM976.1 150.9h1.3v0.4h-1.3zM977.4 150.9h1.3v0.4h-1.3zM978.7 149.4h1.3v1.9h-1.3zM980 149.2h1.3v2.1h-1.3zM981.3 149.2h1.3v2.1h-1.3zM982.6 150h1.3v1.3h-1.3zM983.9 150.2h1.3v1.1h-1.3zM985.2 149.1h1.3v2.2h-1.3zM986.5 150.1h1.3v1.2h-1.3zM987.8 149.5h1.3v1.8h-1.3zM989.1 149.6h1.3v1.7h-1.3zM990.4 149h1.3v2.3h-1.3zM991.7 149h1.3v2.3h-1.3zM993 149.2h1.3v2.1h-1.3zM994.3 149.8h1.3v1.5h-1.3zM995.6 150.2h1.3v1.1h-1.3zM996.9 150.1h1.3v1.2h-1.3zM998.2 150.7h1.3v0.6h-1.3zM999.5 149.2h1.3v2.1h-1.3zM1000.8 150.8h1.3v0.5h-1.3zM1002.1 149.7h1.3v1.6h-1.3zM1003.4 150.9h1.3v0.4h-1.3zM1004.7 148.9h1.3v2.4h-1.3zM1006 150h1.3v1.3h-1.3zM1007.3 150.3h1.3v1h-1.3zM1008.6 149.4h1.3v1.9h-1.3zM1009.9 150.2h1.3v1.1h-1.3zM1011.2 150.9h1.3v0.4h-1.3zM1012.5 150.5h1.3v0.8h-1.3zM1013.8 150.5h1.3v0.8h-1.3zM1015.1 150.9h1.3v0.4h-1.3zM1016.4 148.9h1.3v2.4h-1.3zM1017.7 149.2h1.3v2.1h-1.3zM1019 149h1.3v2.3h-1.3zM1020.3 149.1h1.3v2.2h-1.3zM1021.6 150h1.3v1.3h-1.3zM1022.9 150h1.3v1.3h-1.3zM1024.2 150.5h1.3v0.8h-1.3zM1025.5 149.2h1.3v2.1h-1.3zM1026.8 150.1h1.3v1.2h-1.3zM1028.1 150.4h1.3v0.9h-1.3zM1029.4 150h1.3v1.3h-1.3zM1030.7 149.2h1.3v2.1h-1.3zM1032 150.5h1.3v0.8h-1.3zM1033.3 148.9h1.3v2.4h-1.3zM1034.6 150.1h1.3v1.2h-1.3zM1035.9 149.9h1.3v1.4h-1.3zM1037.2 149.2h1.3v2.1h-1.3zM1038.5 150.8h1.3v0.5h-1.3zM1039.8 149.6h1.3v1.7h-1.3zM1041.1 150h1.3v1.3h-1.3zM1042.4 150.2h1.3v1.1h-1.3zM1043.7 150.4h1.3v0.9h-1.3zM1045 150.5h1.3v0.8h-1.3zM1046.3 149.6h1.3v1.7h-1.3zM1047.6 149.4h1.3v1.9h-1.3zM1048.9 150.5h1.3v0.8h-1.3zM1050.2 149.4h1.3v1.9h-1.3zM1051.5 150.1h1.3v1.2h-1.3zM1052.8 150.9h1.3v0.4h-1.3zM1054.1 150.1h1.3v1.2h-1.3zM1055.4 150.9h1.3v0.4h-1.3zM1056.7 150.6h1.3v0.7h-1.3zM1058 150.5h1.3v0.8h-1.3zM1059.3 150.2h1.3v1.1h-1.3zM1060.6 149.3h1.3v2h-1.3zM1061.9 150.1h1.3v1.2h-1.3zM1063.2 149.2h1.3v2.1h-1.3zM1064.5 149h1.3v2.3h-1.3zM1065.8 149.1h1.3v2.2h-1.3zM1067.1 149.2h1.3v2.1h-1.3zM1068.4 149.9h1.3v1.4h-1.3zM1069.7 150.1h1.3v1.2h-1.3zM1071 149.3h1.3v2h-1.3zM1072.3 150.9h1.3v0.4h-1.3zM1073.6 149.4h1.3v1.9h-1.3zM1074.9 149.1h1.3v2.2h-1.3zM1076.2 150.9h1.3v0.4h-1.3zM1077.5 150.7h1.3v0.6h-1.3zM1078.8 148.8h1.3v2.5h-1.3zM1080.1 149.7h1.3v1.6h-1.3zM1081.4 149.3h1.3v2h-1.3zM1082.7 150.3h1.3v1h-1.3zM1084 149h1.3v2.3h-1.3zM1085.3 150.9h1.3v0.4h-1.3zM1086.6 150.1h1.3v1.2h-1.3zM1087.9 150.5h1.3v0.8h-1.3zM1089.2 149h1.3v2.3h-1.3zM1090.5 149.7h1.3v1.6h-1.3zM1091.8 149.1h1.3v2.2h-1.3zM1093.1 150.9h1.3v0.4h-1.3zM1094.4 150.3h1.3v1h-1.3zM1095.7 150.5h1.3v0.8h-1.3zM1097 150.8h1.3v0.5h-1.3zM1098.3 150.7h1.3v0.6h-1.3zM1099.6 150.2h1.3v1.1h-1.3zM1100.9 150.4h1.3v0.9h-1.3zM1102.2 149.9h1.3v1.4h-1.3zM1103.5 150.4h1.3v0.9h-1.3zM1104.8 150.8h1.3v0.5h-1.3zM1106.1 149.5h1.3v1.8h-1.3zM1107.4 149.9h1.3v1.4h-1.3zM1108.7 148.8h1.3v2.5h-1.3zM1110 150.7h1.3v0.6h-1.3zM1111.3 149.3h1.3v2h-1.3zM1112.6 151h1.3v0.3h-1.3zM1113.9 149.5h1.3v1.8h-1.3zM1115.2 150.1h1.3v1.2h-1.3zM1116.5 150.6h1.3v0.7h-1.3zM1117.8 150.7h1.3v0.6h-1.3zM1119.1 150.8h1.3v0.5h-1.3zM1120.4 149.9h1.3v1.4h-1.3zM1121.7 149.6h1.3v1.7h-1.3z" fill="#30ff30"/>
<line x1="668.8" y1="73.4" x2="1122.3" y2="73.4" stroke="#000" stroke-width="1.3" stroke-dasharray="4 2.6"/>
<line x1="668.8" y1="213.6" x2="1122.3" y2="213.6" stroke="#000" stroke-width="1.3" stroke-dasharray="4 2.6"/>
<line x1="668.8" y1="371.6" x2="1122.3" y2="371.6" stroke="#404040" stroke-width="1.3" stroke-dasharray="4 2.6"/>
<line x1="668.8" y1="447.9" x2="1122.3" y2="447.9" stroke="#404040" stroke-width="1.3" stroke-dasharray="4 2.6"/>
<line x1="668.8" y1="600.3" x2="1122.3" y2="600.3" stroke="#000" stroke-width="1.3" stroke-dasharray="4 2.6"/>
<line x1="846.6" y1="42.5" x2="846.6" y2="115.1" stroke="#00b000" stroke-width="1.5" stroke-dasharray="7.5 4.7" stroke-dashoffset="-4.5"/>
<line x1="874.9" y1="42.5" x2="874.9" y2="115.1" stroke="#ff4040" stroke-width="1.6" stroke-dasharray="7.5 4.7" stroke-dashoffset="-4.5"/>
<line x1="899.5" y1="42.5" x2="899.5" y2="115.1" stroke="#0000ff" stroke-width="1.3" stroke-dasharray="1.5 1.5" stroke-dashoffset="0"/>
<line x1="912.3" y1="42.5" x2="912.3" y2="115.1" stroke="#ff00ff" stroke-width="1.5" stroke-dasharray="1.5 1.5" stroke-dashoffset="0"/>
<line x1="931.1" y1="42.5" x2="931.1" y2="115.1" stroke="#ff4040" stroke-width="1.6" stroke-dasharray="7.5 4.7" stroke-dashoffset="-4.5"/>
<line x1="959.4" y1="42.5" x2="959.4" y2="115.1" stroke="#00b000" stroke-width="1.5" stroke-dasharray="7.5 4.7" stroke-dashoffset="-4.5"/>
<line x1="846.6" y1="189.9" x2="846.6" y2="262.5" stroke="#00b000" stroke-width="1.5" stroke-dasharray="7.5 4.7" stroke-dashoffset="-4.5"/>
<line x1="874.9" y1="189.9" x2="874.9" y2="262.5" stroke="#ff4040" stroke-width="1.6" stroke-dasharray="7.5 4.7" stroke-dashoffset="-4.5"/>
<line x1="899.5" y1="189.9" x2="899.5" y2="262.5" stroke="#0000ff" stroke-width="1.3" stroke-dasharray="1.5 1.5" stroke-dashoffset="0"/>
<line x1="912.3" y1="189.9" x2="912.3" y2="262.5" stroke="#ff00ff" stroke-width="1.5" stroke-dasharray="1.5 1.5" stroke-dashoffset="0"/>
<line x1="931.1" y1="189.9" x2="931.1" y2="262.5" stroke="#ff4040" stroke-width="1.6" stroke-dasharray="7.5 4.7" stroke-dashoffset="-4.5"/>
<line x1="959.4" y1="189.9" x2="959.4" y2="262.5" stroke="#00b000" stroke-width="1.5" stroke-dasharray="7.5 4.7" stroke-dashoffset="-4.5"/>
<line x1="846.6" y1="263.9" x2="846.6" y2="336.8" stroke="#00b000" stroke-width="1.5" stroke-dasharray="7.5 4.7" stroke-dashoffset="-4.5"/>
<line x1="874.9" y1="263.9" x2="874.9" y2="336.8" stroke="#ff4040" stroke-width="1.6" stroke-dasharray="7.5 4.7" stroke-dashoffset="-4.5"/>
<line x1="899.5" y1="263.9" x2="899.5" y2="336.8" stroke="#0000ff" stroke-width="1.3" stroke-dasharray="1.5 1.5" stroke-dashoffset="0"/>
<line x1="912.3" y1="263.9" x2="912.3" y2="336.8" stroke="#ff00ff" stroke-width="1.5" stroke-dasharray="1.5 1.5" stroke-dashoffset="0"/>
<line x1="931.1" y1="263.9" x2="931.1" y2="336.8" stroke="#ff4040" stroke-width="1.6" stroke-dasharray="7.5 4.7" stroke-dashoffset="-4.5"/>
<line x1="959.4" y1="263.9" x2="959.4" y2="336.8" stroke="#00b000" stroke-width="1.5" stroke-dasharray="7.5 4.7" stroke-dashoffset="-4.5"/>
<line x1="846.6" y1="338.2" x2="846.6" y2="410.3" stroke="#00b000" stroke-width="1.5" stroke-dasharray="7.5 4.7" stroke-dashoffset="-4.5"/>
<line x1="874.9" y1="338.2" x2="874.9" y2="410.3" stroke="#ff4040" stroke-width="1.6" stroke-dasharray="7.5 4.7" stroke-dashoffset="-4.5"/>
<line x1="899.5" y1="338.2" x2="899.5" y2="410.3" stroke="#0000ff" stroke-width="1.3" stroke-dasharray="1.5 1.5" stroke-dashoffset="0"/>
<line x1="912.3" y1="338.2" x2="912.3" y2="410.3" stroke="#ff00ff" stroke-width="1.5" stroke-dasharray="1.5 1.5" stroke-dashoffset="0"/>
<line x1="931.1" y1="338.2" x2="931.1" y2="410.3" stroke="#ff4040" stroke-width="1.6" stroke-dasharray="7.5 4.7" stroke-dashoffset="-4.5"/>
<line x1="959.4" y1="338.2" x2="959.4" y2="410.3" stroke="#00b000" stroke-width="1.5" stroke-dasharray="7.5 4.7" stroke-dashoffset="-4.5"/>
<line x1="846.6" y1="411.7" x2="846.6" y2="484.1" stroke="#00b000" stroke-width="1.5" stroke-dasharray="7.5 4.7" stroke-dashoffset="-4.5"/>
<line x1="874.9" y1="411.7" x2="874.9" y2="484.1" stroke="#ff4040" stroke-width="1.6" stroke-dasharray="7.5 4.7" stroke-dashoffset="-4.5"/>
<line x1="899.5" y1="411.7" x2="899.5" y2="484.1" stroke="#0000ff" stroke-width="1.3" stroke-dasharray="1.5 1.5" stroke-dashoffset="0"/>
<line x1="912.3" y1="411.7" x2="912.3" y2="484.1" stroke="#ff00ff" stroke-width="1.5" stroke-dasharray="1.5 1.5" stroke-dashoffset="0"/>
<line x1="931.1" y1="411.7" x2="931.1" y2="484.1" stroke="#ff4040" stroke-width="1.6" stroke-dasharray="7.5 4.7" stroke-dashoffset="-4.5"/>
<line x1="959.4" y1="411.7" x2="959.4" y2="484.1" stroke="#00b000" stroke-width="1.5" stroke-dasharray="7.5 4.7" stroke-dashoffset="-4.5"/>
<line x1="846.6" y1="485.5" x2="846.6" y2="557.8" stroke="#00b000" stroke-width="1.5" stroke-dasharray="7.5 4.7" stroke-dashoffset="-4.5"/>
<line x1="874.9" y1="485.5" x2="874.9" y2="557.8" stroke="#ff4040" stroke-width="1.6" stroke-dasharray="7.5 4.7" stroke-dashoffset="-4.5"/>
<line x1="899.5" y1="485.5" x2="899.5" y2="557.8" stroke="#0000ff" stroke-width="1.3" stroke-dasharray="1.5 1.5" stroke-dashoffset="0"/>
<line x1="912.3" y1="485.5" x2="912.3" y2="557.8" stroke="#ff00ff" stroke-width="1.5" stroke-dasharray="1.5 1.5" stroke-dashoffset="0"/>
<line x1="931.1" y1="485.5" x2="931.1" y2="557.8" stroke="#ff4040" stroke-width="1.6" stroke-dasharray="7.5 4.7" stroke-dashoffset="-4.5"/>
<line x1="959.4" y1="485.5" x2="959.4" y2="557.8" stroke="#00b000" stroke-width="1.5" stroke-dasharray="7.5 4.7" stroke-dashoffset="-4.5"/>
<line x1="846.6" y1="559.2" x2="846.6" y2="631.6" stroke="#00b000" stroke-width="1.5" stroke-dasharray="7.5 4.7" stroke-dashoffset="-4.5"/>
<line x1="874.9" y1="559.2" x2="874.9" y2="631.6" stroke="#ff4040" stroke-width="1.6" stroke-dasharray="7.5 4.7" stroke-dashoffset="-4.5"/>
<line x1="899.5" y1="559.2" x2="899.5" y2="631.6" stroke="#0000ff" stroke-width="1.3" stroke-dasharray="1.5 1.5" stroke-dashoffset="0"/>
<line x1="912.3" y1="559.2" x2="912.3" y2="631.6" stroke="#ff00ff" stroke-width="1.5" stroke-dasharray="1.5 1.5" stroke-dashoffset="0"/>
<line x1="931.1" y1="559.2" x2="931.1" y2="631.6" stroke="#ff4040" stroke-width="1.6" stroke-dasharray="7.5 4.7" stroke-dashoffset="-4.5"/>
<line x1="959.4" y1="559.2" x2="959.4" y2="631.6" stroke="#00b000" stroke-width="1.5" stroke-dasharray="7.5 4.7" stroke-dashoffset="-4.5"/>
<line x1="846.6" y1="633" x2="846.6" y2="705.5" stroke="#00b000" stroke-width="1.5" stroke-dasharray="7.5 4.7" stroke-dashoffset="-4.5"/>
<line x1="874.9" y1="633" x2="874.9" y2="705.5" stroke="#ff4040" stroke-width="1.6" stroke-dasharray="7.5 4.7" stroke-dashoffset="-4.5"/>
<line x1="899.5" y1="633" x2="899.5" y2="705.5" stroke="#0000ff" stroke-width="1.3" stroke-dasharray="1.5 1.5" stroke-dashoffset="0"/>
<line x1="912.3" y1="633" x2="912.3" y2="705.5" stroke="#ff00ff" stroke-width="1.5" stroke-dasharray="1.5 1.5" stroke-dashoffset="0"/>
<line x1="931.1" y1="633" x2="931.1" y2="705.5" stroke="#ff4040" stroke-width="1.6" stroke-dasharray="7.5 4.7" stroke-dashoffset="-4.5"/>
<line x1="959.4" y1="633" x2="959.4" y2="705.5" stroke="#00b000" stroke-width="1.5" stroke-dasharray="7.5 4.7" stroke-dashoffset="-4.5"/>
<path transform="scale(.1)" d="M6722 892l7-6 7-11 8-6 7-5 7-12 8-5 7 4 10 0 11 7 7 18 8 2 7 13 10 3 11 10 8-13 9 0 8-4 9-11 8-5 9-8 9-4 10 11 10 5 11 3 8 0 8 12 7-2 11 1 10 0 8-5 8-1 7-9 8 2 8-7 8 2 7-2 7-11 8-1 9 1 9 10 9-6 8 5 9-2 8 5 8 0 8 1 8 5 8-1 7 3 7-4 11 1 10-3 11 2 10-4 10-2 10 12 10 7 11 6 7 0 8 7 8-2 10 14 11 3 7 1 8 3 8 14 7 6 8-7 8 13 7-2 8 0 7 4 8 6 9 2 8-10 8 5 9-9 8 6 9-7 8 3 9-1 10-10 10 2 7-11 7-6 7 2 7-10 7-1 7-1 7-1 7-8 7-4 10 8 9-9 10 9 9 1 9-5 8 5 8 4 8 6 9 3 8 3 8 5 8 7 9-3 8 2 9 6 8-3 9 4 8 9 9-4 8 1 9-7 8 3 8 1 8-10 8 4 9-2 9-10 9 4 9-4 10 1 10-6 7 4 7-1 7-9 8-1 7 7 8 3 10-10 10 1 9 0 9-5 8-2 9-3 8-3 9 0 8-6 9-1 9 4 8-10 11 5 10 2 8-6 7-1 8 7 7-7 7-1 7 3 10 3 10-7 9 4 9 2 9 7 9-3 8 7 8-6 8 3 8 5 8 4 9-4 8-3 8 0 8 5 8-5 9 8 9 0 9-9 9 1 10 6 9-3 7 1 7-6 7-3 7 1 8 5 7-7 7 0 7 0 7 0 9-1 10 5 7-9 7-1 7 11 7-1 9 2 8-6 9 7 7 0 8-9 7 7 9 0 8-4 9-3 8-4 9 0 8-2 9-1 8 7 8-3 9 8 9-8 9 12 9 0 8 5 8 2 9 4 9 1 9-2 8 13 8-2 8 6 8 7 8 2 8 1 9 8 9-2 9-2 8-2 8 7 8-6 10 2 9-6 9-4 8 2 8 1 8-10 9 3 9-3 10-6 7-4 8-15 8 3 8 1 8-12 8 0 9 0 9 3 9-1 8 3 8 5 8-7 9 3 9 4 9 3 9 4 8 15 9 3 7-3 8 12 8 5 7 8 7 8 7 12 10 4 10 2 7-10 8-7 7-11 8-4 7-11 7-18 7-17-7 5 8-1 8-2 7-2 8-9 8 1 10 4 10 3 7 6 8 8 8 9 7 0 8 7 7 1 8-6 8 1 7-1 8-13 8-1 8-5 9 3 9 0 9 23 9 36 8 29 8-17 8-9 8-15 8-3 7-13 9-3 8-6 9-7 9-1 9-3 9-8 8 11 8-2 8 6 9 15 9-2 10 7 7 4 8 13 8-5 9 1 8 13 9-5 7 10 7 0 8 4 7 3 10-3 10 5 7-9 8 9 7-2 8 3 7-7 8 8 7 3 7-11 7 4 9 3 9 3 7-7 8-1 7 1 7 4 8 0 8-7 7-3 9-9 9-10 8-9 9-10 9-2 8-1 9 4 9 14 8 3 9 17 9 12 8 9 9-9 9-7 8-4 9-7 9-18 8-11 10 7 9 1 9-5 8-3 8 2 9-8 8-20 9-21 9-17 8 7 8 8 8 15 9 12 10 1 9 15 8-13 9-4 9-13 8-15 9-12 9-14 8 4 8-3 8-4 10 4 9 1 9 7 8-7 7 11 8-5 9 2 8 0 9 5 7 1 8-3 7-1 7 3 10 1 9-7 11 3 10 1 7-7 7-4 7-2 8 5 7-2 7 3 7-2 7-8 7-1 7 1 8-1 7 6 7 3 7 1 7-7 7 8 8-5 7 2 10 4 10-6 10 0 10 8 7-8 7-1 7 1 8 0 8-11 9 0 9-2 7-1 8-4 8 3 8 9 9-2 9 6 8 0 9 6 9 9 8-8 8 7 7-2 9-13 9 6 9-11 9 4 10-1 9-7 7 8 8 3 7 5 7-1 8 11 8 8 8 3 7 4 8 0 8 9 7 2 8 9 8 1 7 1 8-3 7 6 8 0 7-5 8 9 7-3 8-6 8 9 7-9 8 2 10 5 10-1 11-1 10 1 7-2 7-2 7-2 7-1 7 8 8 0 7-2 7 2 7-4 10-1 10 2 11 7 10-9 11 7 10-2 11 7 10-4 10-1 11 1 10 0 11 1 10-8 10 3 11-12 10-1 11-5 10-2 11 8 10-1 7-4 7 2 7 4 7 8 8 4 7 3 7 2 7-1 7 7 11 3 10 8 10 2 9-2 10-4 9 2 9-14 9 2 8-7 8-8 9-13 8-4 8-6 9-1 9 2 8-5 9-5 9 7 8-5 9 1 9 1 9-9 7 8 7-2 7-3 7-1 8-2 7-5 7 3 7-7 11 3 10-2" fill="none" stroke="#ff5050" stroke-width="10.0" stroke-linejoin="round"/>
<path transform="scale(.1)" d="M6722 1001l8 9 7 15 8 8 8 10 7 15 10 1 9-7 7-8 8-13 7-4 8-8 7-7 8-6 8 0 9 7 8-2 9 0 9 1 9-7 8 5 8 6 8 5 10 15 9 14 9 4 8 15 8 10 7 7 8-19 7-12 8-20 7-4 7-15 7-18 7-17 10 2 9-9 7 2 8-3 7-6 8-3 8 1 8-3 7-3 7 1 7 6 8-9 8 1 9 20 8 10 9 17 8-7 8-8 8 2 9-15 9-3 9-8 7 13 8 4 7 8 7 13 8 3 7 10 7 12 9-5 9 4 7 5 7 9 7 1 7-2 8 4 7 1 8 5 7-3 7 10 10 4 9 2 8-3 8 1 8-12 10-1 10 4 10-3 10-6 10 12 10 1 11 11 10 2 8 4 7 7 7 1 8 5 8 9 8-5 8-2 9 1 8 3 9 6 10-6 9-3 9-7 10 6 10-14 11-10 7-7 7-6 7-4 7 1 7-10 7-6 10 2 10-7 8 11 7-9 8 6 8 8 7 0 7 12 8-2 7 3 7 6 8-1 7 7 7 0 8 7 7-1 7-4 7-8 8 0 7-2 7-4 8-3 7 5 8-12 8-4 7 7 11-8 10 2 7-10 7 3 8-5 7-2 7-3 8-6 10-9 10-3 9 4 8-4 8-6 7-14 7-2 7-5 8-7 7-3 7-8 9 9 8 9 9 4 8 15 9 8 8-3 8 2 8-9 8-12 9-20 9-1 9-21 8 6 8-7 8-11 9-1 9 3 8-3 9 2 9 1 9-9 8-1 8 12 8-9 9 13 8-6 8 11 9 2 9 4 9-2 10 5 9-8 10 6 10-5 7 7 7-2 7-4 7 1 8-6 7-1 10 7 10-1 7 5 8-2 7-5 7 3 7 6 8-3 7-5 7 11 7 1 10-8 10 7 9 1 8 7 9 0 8 5 9 9 8 11 9-5 8 6 9 8 9 5 7-4 7 0 7 7 8-1 7-8 8 11 7-8 7 1 8 6 9-6 9 4 9-11 8 6 8-12 11-7 10-3 9-11 9-6 8-11 7-17 8-24 8-11 7-12 9-11 8-8 8-14 9-8 9-1 8 4 9 10 8 20 9 18 8 15 9 19 8 18 9 5 8 16 9 3 8 10 9-2 8 12 9 3 9 1 9 1 8-2 8 8 8-4 8 0 8-10 7-5 8-3 8 3-7-1 10 6 11-10 7 0 8-5 7 1 8-8 9 1 9 5 9-11 7 7 7-4 8 1 7-3 8 4 7 15 8 2 8 9 8 10 8 12 8 0 7 15 9 3 9 6 8 9 13-93 9 1 8-11 8 5 9 2 9 2 10-1 7-3 8-11 8 1 8-11 8-4 8 23 9 17 9 15 8 19 9 21 9 24 8 3 7-2 8-8 8-1 8 4 8-11 8-2 7-9 8-2 7 0 7-2 7-5 8-7 9 4 8-8 9-10 10-5 9 7 8-4 9-4 8-8 9-8 10-8 9-3 8-5 8 5 8-5 9-5 9-12 8-3 9-2 9 5 8-13 9 7 9-2 9-2 9 4 8-11 8 2 8-16 8-12 8-12 8-8 7-13 9-8 9 3 9-16 8 3 9-6 9-4 7 6 8 11 8 6 8 5 8 5 7-16 8-18 8-20 8-19 8-22 8 22 7 10 8 8 8 16 8 22 8 19 7 28 8 30 8 29 8 20 10 1 9 1 8-11 7 4 7-16 8 8 8-13 8-4 8 10 9 2 8-5 9 8 9 3 9 7 8-3 9 11 9 5 9-3 9 4 8 1 9-6 9 6 8 0 9-2 9-5 8 7 9 7 9-4 8 7 9 7 9 1 8-3 9 9 9-2 9 9 8-4 8-6 9 5 8-6 8-7 9 2 9-1 9-2 10-1 9-2 9 1 10 2 10 1 11 9 10-5 7-1 8 10 7 0 8 3 7 3 8-1 10 3 11 2 7 12 8 5 8 0 8-3 8 14 7 1 8-1 8-2 8 13 7 0 7 2 7-5 9 11 9-6 9 4 8-5 9 1 9 1 9-7 7-2 7-8 7-1 10 5 10-5 7 7 8 9 7 0 8 5 7-4 8 8 9 3 9 2 8-1 10-2 11 0 7 11 7 1 8-7 8 7 8-4 7 3 8 4 8-6 8 4 7-3 7 3 8-5 9 4 10 2 7 9 7-7 7 9 8-7 7 14 8-7 8 1 9 4 8 11 9-2 9 4 10-3 10-4 9 4 11 2 10 8 8-10 7 1 7 8 8-9 7 10 8-8 11 3 10 0 7 2 8-10 8 8 7-8 8 5 8-9 8 8 7-8 8-1 7-3 7 3 7-1 10 6 9-5 8-4 7 7 8-11 7 0 8 8 8-1 8-5 8 1 8-13 9 7 7-6 7-5 7-3 7-13 8-4 7-7 7-1 7-5 11-8 10-8" fill="none" stroke="#50f050" stroke-width="10.0" stroke-linejoin="round"/>
<path transform="scale(.1)" d="M6722 1047l8-7 9-7 8-6 8-9 8-5 8-14 7 1 8 3 8 3 9 11 8-3 9 13 8 6 9 13 9 0 10-8 10-1 11-3 8 6 8-4 7-9 8 8 7-7 7 6 7-5 8 0 8 11 8-7 8 1 8 10 7-1 7-7 7 8 7-7 8-1 8-8 10 4 10-8 10-2 10-6 8-11 7-2 8-5 7-4 7-4 8-1 10-4 9-14 8-7 8-19 7-15 8-9 7-19 8 7 8 12 8 12 9 8 9 26 9 4 8 16 8 9 8-2 9 16 9 2 9 10 8-1 9 6 9 7 8 15 9-5 8 12 9 6 8 3 9-3 8 1 9 2 8 4 9-13 8 3 8-4 8-7 8-18 9 3 9-16 9-2 9-3 9 2 9-8 10 7 10-4 10-2 10 1 7-1 7 0 8 2 7 8 7 5 8-8 10 1 10 14 8-2 7 1 7 1 8 7 8 6 7-1 8 2 7-1 8 13 7-10 7 7 7 6 9-10 9 7 8-4 8-11 7-5 8-14 8-10 8-18 8-5 7-18 8-10 7-4 8-10 9-7 8-14 9-3 8-1 9-6 8-1 9 1 8-2 8 5 7 9 7 1 7-2 7 0 8 0 7-2 9 0 8 4 9-1 8 4 8 16 8 11 9 9 9 9 9 11 8-10 8-1 8-10 9-4 9-3 9-7 8-3 8 10 8-2 9 4 9-3 9 11 8-1 9 8 8 0 8 4 7-4 8 1 10-9 10-1 11 0 10 0 11-1 10 10 10 7 11 5 7 7 8 4 7-1 8 2 9-2 8 10 9 2 9-4 9 4 8 1 8 2 8-6 8 9 8-1 8 3 9-3 9 4 9 2 9-2 9 1 8-10 7 1 7 3 8 2 7-6 8 5 7-2 7-7 7 4 9-2 9-2 8 3 7 4 7 0 7 2 8 3 7 9 7 3 9 7 8 3 9 0 8 13 9-6 8 11 9 7 8 11 8 6 9 18 9 3 8 5 11 12 10-1 7 7 7-1 7 5 8 4 7-3 7-5 7 1 8-6 7-7 7-9 7-1 8-7 10-7 10-12 9-20 8-19 9-9 8-27 9-15 8-10 8-13 9-18 8-7 9-5 8-13 9-7 9 4 9 8 9 16 8-3 8 11 8 4 8-50 9-49 8-37 8-7 8-3 7-2 8 7 8-8-7 0 9 6 8 0 9 9 8 1 9 2 7 7 8 1 7-8 8-1 8-10 8 1 7-9 8-13 9-5 9-7 9 5 9-10 8 2 8-3 10 26 10 24 10-19 9-29 9 24 8 10 8 18 8 14 8-27 8-23 8-27 9-28 7-22 8-28 8-33 8-24 8-24 8-4 9-10 9-14 8-13 9 3 9-11 8-11 7-11 8-13 8-15 8-7 10-3 10 4 7 12 8-2 7 7 8 10 7-6 8 12 7-6 8-7 7-6 8-1 7-6 7-16 11-4 10-6 7 1 7-1 7 0 8 6 7 6 8-7 8 5 9-5 9-12 8-13 9-8 9 8 8 3 9 1 9-4 8-7 9 2 9-14 8-2 8 13 8 6 8 2 7 11 7 17 7 1 7 15 9 6 9 6 9 13 8-10 8-3 8 0 9-12 9-8 10-2 9 0 9-1 8-11 8 2 7-3 8 3 8-3 8 4 8-7 7-4 7 7 9-6 8 6 9 10 8 16 9 8 8-2 7-8 8 1 7-8 8 2 7-7 7-8 9-2 8-2 9 1 9-5 10 8 9 1 8-1 8 12 8-2 9 10 8 14 8 5 9 15 9 3 9 5 10 2 10-12 10 1 10-16 9-1 8 8 8-6 10-2 10 1 7 14 8 1 7 5 8-4 8 11 8 1 7 2 7 5 7 8 9 0 9 3 7-7 8 4 8-6 8-2 8-9 10 9 10 0 8 6 8 4 8 7 10-1 11-1 8-9 7-7 8-10 8 2 8-13 8 4 7-8 8 7 9 9 9 0 10 2 9 2 9-2 9 3 9-1 10 1 9-1 9 3 10-11 9-2 7-3 8-4 7-2 9-10 9-6 8-15 8 20 8 1 7 16 8 6 7 10 7 7 7 15 9-1 9 16 8 4 9 5 9 1 9-7 8-4 9-7 9-3 8-5 8 1 8 3 9-11 9-5 9-2 9-4 9 4 9-3 8-4 9 4 9 7 8 8 9 1 9 2 9 9 8-9 9 2 8 5 9-8 8-8 9 0 9-1 8-12 9-4 9-4 9-2 8 15 7 0 8 11 8-2 7 12 8 7 8 13 8 4 8 12 7 6 7 4 7 1 8-4 8 7 7-13 11-10 10-14 7-5 7-11 7-3 9 0 8 8 8 6 9 2 9 8 9-2 9 2 9 10 9 3 7 2 7-3 7 3 7 2 8 1 7-8 7 0 7 4 11-9 10 2" fill="none" stroke="#4040ff" stroke-width="10.0" stroke-linejoin="round"/>
<path transform="scale(.1)" d="M6688 2166l4-6 3 3 4 1 3 8 4 5 3-34 4 11 3 6 4-2 3 3 4 7 3-10 4 7 3 17 4-35 3 34 4-64 3 31 4-3 3 16 4-26 3 10 4 20 3 26 4-49 3 6 4 12 3-12 4-3 3-6 4-3 3-14 4-10 3 42 4-21 3 21 4-1 3 0 4 7 3-30 4 20 3-18 4-31 3 61 4 3 3-18 4-14 3 10 4 3 3 0 4 2 3 16 4-14 3-1 4-18 3 5 4-12 3-7 4 21 3-5 4 10 3-4 4-36 3 53 4 12 3-17 4 2 3-17 4-14 3 33 4-43 3 29 4 11 3-34 4 40 3-13 4 11 3-13 4-7 3-12 4 20 3 0 4 2 3-18 4 15 3-11 4 43 3-30 4-13 3 20 4-12 3-10 4 27 3-43 4 26 3-5 4-9 3 23 4 46 3-56 4-7 3 22 4-6 3-1 4-13 3-5 4 49 3-49 4 22 3 16 4-38 3 19 4 5 3 3 4-18 3 28 4 5 3-40 4 19 3 16 4-33 3-11 4 15 3-16 4 10 3 8 4 14 3-18 4 17 3-12 4-5 3 10 4 32 3-11 4-4 3 17 4-30 3-16 4 15 3 16 4-11 3-30 4 15 3-13 4 3 3-3 4 7 3 18 4-23 3 30 4-14 3 18 4-19 3 8 4-11 3-2 4 9 3-25 4 43 3-41 4 21 3 5 4-12 3-5 4 4 3 35 4-14 3-11 4 3 3-16 4 17 3 4 4-22 3-37 4 46 3 30 4-34 3 0 4 15 3 2 4-19 3 13 4 0 3 10 4-26 3 5 4-2 3-8 4 14 3-8 4 15 3 30 4-49 3 0 4 22 3 5 4-12 3 6 4-16 3-6 4-13 3 24 4-4 3 40 4-41 3 2 4 19 3-35 4 33 3-26 4 62 3-58 4-14 3 7 4 24 3 6 4-22 3 14 4-13 3-8 4 3 3 9 4 5 3-11 4 21 3-15 4 7 3-4 4-55 3 61 4 1 3 8 4-1 3-10 4-6 3-35 4 24 3 3 4-6 3 20 4-32 3 13 4 60 3-70 4 10 3-21 4 43 3-6 4-29 3 5 4 30 3-8 4-16 3 16 4 9 3-11 4-5 3-8 4 18 3 8 4-2 3-24 4 33 3-13 4-42 3 8 4-7 3 30 4-13 3 30 4-22 3 15 4-27 3 12 4 4 3 16 4-21 3-43 4 66 3-22 4 21 3-35 4 3 3 30 4-50 3 55 4-7 3-12 4 11 3-7 4 32 3-47 4 50 3-50 4 35 3-48 4 23 3 19 4-5 3-9 4-20 3 29 4-28 3 18 4 4 3-41 4 33 3-5 4-31 3 37 4-17 3 21 4-16 3 10 4 26 3-22 4-24 3 18 4 43 3-25 4 2 3-14 4 24 3-32 4 41 3-61 4-11 3 25 4 43 3-47 4 33 3-12 4-8 3 12 4 8 3-25 4 10 3 1 4-23 3 77 4-71 3 12 4 26 3-28 4 5 3 14 4-19 3-5 4 40 3 4 4-59 3 45 4-40 3-1 4-6 3 15 4 27 3 2 4-19 3 4 4-6 3 7 4 24 3-20 4 1 3-8 4 40 3-72 4 24 3-5 4 2 3 33 4-16 3-17 4 39 3-32 4 9 3 6 4-28 3 20 4 14 3-36 4-23 3 56 4-1 3-1 4-9 3 7 4-11 3-17 4 7 3 16 4-4 3 9 4-16 3-8 4 26 3 0 4 12 3-12 4-23 3 0 4 20 3-21 4 26 3-60 4 71 3-24 4-13 3 23 4-27 3 8 4 20 3 4 4-10 3 16 4-28 3 11 4 6 3-38 4 22 3-28 4 43 3-14 4 25 3-14 4-10 3 9 4 32 3-32 4-3 3 3 4 0 3 39 4-25 3-11 4 7 3-28 4 15 3-4 4 18 3-10 4-4 3-23 4 46 3-21 4 21 3-9 4-30 3 17 4 6 3-9 4-2 3-4 4 1 3-6 4 15 3 4 4 7 3-27 4-9 3 17 4-16 3 41 4-52 3 38 4-8 3 5 4-7 3 10 4-4 3 0 4-1 3 4 4 6 3-6 4-32 3 38 4-12 3-18 4 17 3-4 4-10 3 25 4 7 3 2 4 2 3-37 4 32 3 5 4-37 3 22 4-7 3 52 4-60 3 18 4-11 3-7 4 15 3-8 4 33 3-22 4 14 3-17 4-7 3 3 4 11 3-59 4 59 3 15 4-28 3-1 4-34 3 63 4-21 3 23 4-32 3 16 4 11 3-65 4 48 3-16 4 7 3-2 4 4 3 4 4 9 3 0 4-7 3 17 4-17 3 12 4-10 3 22 4-25 3-11 4 12 3-1 4-4 3-17 4 24 3-7 4-16 3 6 4 29 3-25 4 0 3 9 4 6 3 30 4-60 3 9 4 11 3 19 4 13 3-21 4-13 3-1 4 70 3-48 4-5 3-9 4 22 3-41 4 8 3 18 4-61 3 10 4-37 3 23 4 32 3-29 4 13 3-20 4-52 3 74 4-111 3 137 4-69 3 38 4 28 3-52 4-9 3 8 4 10 3 37 4-48 3 19 4-42 3 70 4-10 3 7 4-38 3-6 4-37 3 30 4 5 3 84 4-58 3 58 4-9 3-65 4 27 3-34 4 34 3 10 4-26 3 50 4-48 3-12 4 71 3-20 4-80 3 64 4-42 3 26 4 40 3-27 4-22 3-2 4 59 3-14 4 23 3-129 4 84 3 35 4-64 3 1 4 15 3 53 4-71 3 48 4-20 3 37 4-12 3-11 4 9 3-8 4 25 3-2 4-47 3 37 4 5 3-29 4 5 3 49 4-58 3-62 4 14 3 14 4 5 3 19 4-11 3 1 4 1 3-16 4 20 3 29 4 9 3-45 4 42 3-7 4-31 3 27 4-24 3 15 4-19 3 20 4-58 3 60 4-81 3 52 4 43 3 6 4-80 3 95 4-51 3 4 4 12 3-2 4-21 3-2 4 10 3-28 4 2 3-23 4-2 3-16 4 113 3-41 4-9 3-97 4 53 3 8 4-15 3 22 4 22 3 12 4-33 3 48 4 77 3-97 4 38 3-61 4-26 3 149 4-52 3-40 4 68 3-145 4 73 3-10 4 47 3 19 4-44 3 30 4-47 3-1 4 54 3-60 4-30 3 20 4 52 3-54 4 66 3-11 4-147 3 129 4 19 3-37 4 47 3-58 4 42 3-4 4-43 3 50 4-51 3 10 4 37 3-32 4 55 3-37 4 4 3-27 4-10 3 22 4-6 3 52 4-52 3-20 4 56 3-71 4 16 3 7 4 41 3 1 4-20 3-31 4 40 3 1 4 15 3-9 4 87 3-88 4-15 3-15 4 38 3-37 4 58 3-51 4 14 3-2 4 43 3-17 4-21 3 61 4-45 3 41 4-82 3 58 4-68 3 74 4-31 3-20 4 43 3 4 4 39 3-51 4 12 3-9 4-19 3-23 4 69 3-32 4 18 3 1 4-28 3-21 4 15 3 4 4-1 3 39 4-36 3 19 4 23 3-30 4 26 3-38 4 38 3-12 4 21 3-17 4-19 3 35 4-10 3 22 4-38 3 38 4-2 3-47 4 36 3-27 4 66 3-60 4-27 3 46 4-21 3 23 4-22 3 10 4 5 3 12 4-15 3 36 4-23 3-7 4 14 3-26 4-49 3 55 4 55 3-53 4-26 3 11 4 33 3-35 4 83 3-49 4-41 3 45 4-30 3-3 4 8 3-12 4 20 3-2 4 16 3-36 4 25 3-19 4 14 3 4 4 29 3-29 4 1 3-6 4 15 3-10 4 15 3-27 4 0 3 11 4 4 3-3 4 11 3 3 4-10 3 2 4 19 3-3 4-21 3 14 4-5 3 1 4-16 3 17 4-46 3 26 4 33 3-14 4 13 3-11 4 8 3-2 4 8 3-5 4-24 3-3 4-3 3 5 4 8 3 29 4-52 3 34 4-10 3 10 4-25 3 1 4 24 3 9 4-21 3 5 4 21 3 3 4-40 3 18 4 0 3-23 4 32 3-19 4 22 3-11 4 13 3-14 4-12 3 30 4-9 3-5 4-6 3 7 4 18 3-15 4-6 3 17 4-21 3 52 4-62 3 1 4 49 3-33 4-22 3 39 4-29 3 12 4-8 3 4 4-6 3 9 4-6 3 1 4-3 3-14 4 17 3 1 4 4 3-1 4 4 3-5 4-26 3 2 4 28 3-1 4-23 3 19 4-2 3-19 4 18 3-12 4 20 3-9 4 1 3 24 4-43 3 47 4-15 3-52 4 58 3-25 4 4 3-10 4 12 3 14 4-25 3 1 4 13 3-11 4-20 3 18 4-7 3 22 4-19 3 29 4-15 3-24 4 12 3-21 4 30 3-4 4-6 3-4 4-29 3 28 4 27 3-29 4-8 3 21 4 17 3-14 4-15 3 49 4-40 3 5 4-27 3 49 4-10 3-11 4 2 3-6 4-6 3 35 4-34 3 6 4-1 3 19 4-23 3-34 4 19 3 11 4 16 3-12 4-6 3 0 4-22 3 13 4 26 3-33 4 34 3-12 4-9 3 8 4-16 3 1 4 13 3-2 4-6 3 1 4 1 3 12 4-16 3 0 4 4 3-26 4 46 3-16 4-7 3 1 4-10 3-21 4 36 3-11 4-2 3-8 4 6 3 26 4-7 3-6 4-11 3-9 4-35 3 35 4 35 3-29 4-15 3 52 4-30 3-13 4-5 3 23 4-22 3-4 4 30 3-9 4-10 3 7 4-6 3 8 4-5 3 17 4-1 3-35 4 6 3 21 4 33 3-50 4 5 3-22 4 24 3 17 4-2 3-43 4 17 3 6 4-3 3 7 4 5 3 10 4-29 3 2 4 11 3-19 4-7 3-34 4 31 3 0 4 2 3 28 4-16 3-28 4 44 3-6 4-12 3 10 4-22 3 23 4-26 3 21 4-9 3 18 4-32 3 26 4-17 3 21 4-18 3 1 4 29 3-9 4-1 3-17 4 28 3-1 4-15 3-11 4-3 3 11 4-18 3 36 4-24 3 1 4-39 3 40 4 16 3 8 4-30 3 37 4-29 3-14 4 26 3-1 4-11 3 21 4-38 3 4 4-2 3-7 4 22 3 2 4-27 3 9 4 31 3 15 4-59 3 29 4-21 3 20 4-25 3 47 4-25 3-7 4 4 3 13 4 3 3 16 4-23 3 11 4 8 3-18 4-13 3 22 4 7 3-11 4-14 3 12 4 13 3-32 4 5 3-1 4 14 3-15 4 21 3-11 4 11 3-3 4 5 3 9 4-22 3 21 4-1 3-27 4 7 3 27 4-1 3-31 4 13 3-3 4-1 3 0 4 16 3-4 4-6 3-48 4 43 3-15 4 10 3 24 4-10 3-19 4 4 3 18 4 2 3-30 4 17 3-12 4-18 3 43 4 10 3-33 4-9 3 21 4-5 3-8 4 12 3-2 4-5 3-15 4 28 3-10 4 19 3-13 4 0 3-13 4 29 3-21 4 27 3-26 4-27 3 55 4-8 3-16 4 17 3-1 4 6 3-27 4-2 3-8 4-26 3 56 4-2 3-12 4 38 3-22 4-7 3-12 4-10 3 5 4 47 3-28 4 0 3 17 4-31 3 8 4 14 3-1 4-14 3-14 4 12 3 3 4-28 3 27 4-20 3 32 4-29 3 60" fill="none" stroke="#00ff00" stroke-width="11.0" stroke-linejoin="round"/>
<path transform="scale(.1)" d="M6688 2174l4-5 3-25 4 20 3 8 4-23 3 12 4 0 3 20 4-20 3-39 4 33 3-41 4 28 3 19 4 3 3-1 4-29 3 21 4-20 3 17 4 12 3-1 4-8 3 9 4-35 3-30 4 53 3-18 4-18 3 40 4-26 3 15 4 9 3-4 4-22 3 8 4-43 3 62 4-23 3-9 4 44 3-22 4-5 3 12 4-7 3-6 4-20 3 65 4-29 3 11 4-26 3 1 4-14 3 51 4-47 3 46 4-24 3 32 4-42 3 30 4-17 3-43 4 34 3 12 4-12 3-7 4 10 3-1 4 5 3 1 4 4 3-17 4 25 3-3 4 1 3 5 4-4 3-26 4 55 3-24 4 6 3-3 4 0 3-15 4 36 3-34 4-1 3 53 4-66 3 69 4-66 3-4 4 60 3-57 4 15 3-7 4-23 3 19 4 26 3-27 4-1 3 30 4-5 3-5 4-15 3-1 4 22 3-19 4 19 3 23 4-54 3-10 4 43 3-17 4 1 3-29 4 24 3-3 4 19 3 4 4-24 3 15 4-21 3 7 4 10 3 10 4-1 3 2 4 0 3-4 4 16 3-6 4-4 3-5 4 1 3 6 4 3 3 2 4-19 3 26 4-31 3 23 4-22 3-9 4 15 3 1 4-2 3 3 4-3 3-14 4 23 3-29 4-9 3 27 4 3 3-6 4 0 3 12 4-19 3 8 4 5 3-5 4 9 3-17 4 0 3-19 4 5 3 44 4-23 3-6 4-6 3 3 4-2 3 9 4-18 3-3 4 17 3-18 4 7 3 20 4-15 3-1 4 6 3-2 4-2 3-9 4 2 3 0 4-12 3 17 4 6 3-11 4-14 3 10 4-13 3 10 4 17 3-10 4-8 3 8 4-20 3 41 4-21 3 10 4-33 3 6 4 15 3-11 4 32 3-36 4-2 3-3 4-6 3 12 4-2 3 11 4-9 3 20 4-25 3 23 4-33 3 8 4 0 3 18 4 2 3-19 4 2 3 3 4-1 3 9 4-7 3 5 4 5 3 4 4-8 3 18 4-30 3 2 4 0 3 9 4-30 3 44 4-16 3 11 4-13 3 8 4 9 3-22 4-7 3 12 4 8 3-1 4-3 3-3 4 2 3 9 4-7 3-7 4 14 3-10 4-8 3 8 4 3 3-15 4 16 3 1 4-2 3 6 4-18 3 8 4 2 3-4 4-6 3 2 4 15 3-20 4-4 3 7 4 6 3-9 4 10 3-20 4 14 3 14 4-4 3 21 4-6 3-29 4 17 3 15 4 5 3 19 4-27 3 34 4-3 3-4 4 19 3 1 4-6 3-16 4 23 3-12 4 16 3 5 4-31 3 11 4 0 3 2 4 3 3-14 4 18 3-12 4 5 3-3 4 1 3 8 4-9 3 7 4 1 3 0 4-18 3-2 4 27 3-14 4 10 3-14 4-8 3 4 4-8 3 6 4-3 3-30 4 44 3-11 4 2 3-4 4 9 3-20 4 13 3-4 4 12 3 7 4-37 3 27 4-13 3-5 4 7 3 11 4-17 3 10 4 6 3-3 4 11 3-18 4 18 3-4 4-18 3 10 4 14 3-18 4 24 3-26 4 16 3 8 4-9 3 2 4 1 3 20 4-21 3 0 4 25 3-23 4-15 3 26 4-14 3-7 4 18 3-1 4 12 3-20 4 9 3-8 4 24 3-16 4-13 3 42 4-22 3 18 4-17 3 9 4-16 3 17 4-19 3 3 4 12 3 17 4-23 3 9 4-19 3 13 4 9 3-9 4-25 3 21 4-29 3 24 4 18 3-17 4 2 3 2 4 2 3 0 4-7 3-4 4 9 3-25 4 37 3-10 4 0 3 0 4-9 3 8 4 14 3-29 4 24 3-9 4 4 3 4 4-1 3-4 4 10 3-5 4-11 3 22 4-20 3-12 4 15 3-2 4 7 3 25 4-23 3-6 4-2 3-1 4 16 3-1 4-13 3 3 4 7 3-6 4-20 3 12 4 9 3-7 4 5 3 7 4-10 3-9 4-9 3 21 4 19 3-35 4 23 3-7 4-5 3 8 4-25 3 23 4 6 3 8 4-32 3 19 4-14 3 14 4-15 3 18 4-24 3 8 4 7 3 10 4-8 3-3 4-3 3 0 4 38 3-32 4 0 3-9 4 20 3-14 4 4 3 8 4-5 3-5 4 14 3-6 4-8 3 2 4 2 3-13 4-1 3 4 4 17 3-6 4-10 3 18 4-32 3 28 4-7 3-4 4-3 3 17 4-17 3-10 4 6 3 29 4-4 3-30 4 20 3-10 4 8 3-30 4 56 3-28 4-4 3-6 4-7 3 17 4-12 3-16 4 36 3-19 4 9 3-7 4 20 3-20 4 6 3 17 4-43 3 72 4-43 3-11 4-6 3 20 4 20 3-12 4-6 3 11 4-21 3-6 4 14 3 33 4-21 3-26 4 13 3 8 4-13 3 6 4 10 3-6 4-1 3 9 4-24 3-15 4-45 3 114 4-40 3-66 4 38 3-8 4-4 3 2 4-8 3 51 4 17 3-29 4-35 3 52 4 15 3-61 4-7 3 30 4-14 3 41 4-51 3-20 4 17 3 23 4-24 3 23 4-69 3-36 4 31 3 37 4 5 3 32 4 28 3-31 4-83 3 44 4 50 3 58 4-102 3 79 4-54 3-43 4 30 3 29 4-42 3 53 4-6 3-21 4-18 3 36 4-22 3 21 4 2 3 52 4-36 3 5 4-41 3 79 4-31 3 0 4 48 3-54 4 5 3-14 4 29 3-3 4 20 3 17 4-44 3 31 4 1 3 19 4-34 3 41 4-25 3 10 4-4 3 16 4 9 3-7 4 4 3 35 4-39 3-26 4 27 3 41 4-48 3 31 4-70 3-12 4 68 3 48 4-70 3 39 4-60 3 4 4-5 3-27 4 27 3 2 4-1 3 28 4-74 3 165 4-105 3-52 4 91 3-49 4-61 3 29 4 88 3-73 4 17 3-57 4 55 3-6 4 72 3-106 4 36 3-41 4 82 3-3 4-23 3-121 4 100 3-25 4 61 3-40 4 71 3-51 4-23 3 20 4-42 3 140 4-120 3-77 4 74 3 4 4-8 3 6 4 38 3-52 4 28 3-7 4 22 3 59 4-64 3-66 4 48 3-26 4-1 3 77 4-96 3-2 4-19 3 88 4-45 3-54 4 148 3-110 4 101 3-54 4-65 3 107 4-26 3-3 4 14 3-54 4 57 3 46 4-83 3 25 4-19 3-76 4 106 3-63 4 77 3-52 4 12 3-19 4-76 3 70 4 6 3-28 4 0 3 31 4-19 3 69 4 17 3-71 4-17 3 29 4-5 3 21 4-55 3-43 4 84 3-116 4 82 3-2 4 8 3 23 4-57 3 95 4-58 3-39 4 50 3 20 4-10 3 7 4-21 3-24 4 105 3-127 4 30 3-29 4 38 3 41 4-110 3 79 4-7 3 5 4 34 3-4 4-3 3-38 4 16 3 21 4-18 3 41 4-82 3 54 4-49 3 111 4-84 3 5 4 24 3-4 4-14 3 5 4-22 3 15 4-21 3 32 4 9 3-22 4 0 3 15 4-31 3 31 4-57 3 64 4 15 3-12 4 24 3-26 4 51 3-103 4-4 3 67 4 36 3-79 4 30 3 25 4 5 3-14 4 10 3-60 4 46 3 26 4-6 3 32 4-4 3-47 4 33 3 66 4-90 3 0 4-32 3 81 4-37 3-12 4 0 3-41 4 66 3-16 4 7 3-20 4 17 3 6 4-30 3 21 4 60 3-56 4-10 3 14 4-61 3 90 4-107 3 146 4-48 3-39 4 3 3 31 4-57 3 91 4-3 3-45 4 5 3 9 4 25 3-33 4 30 3-34 4-21 3-3 4 16 3 21 4-27 3 0 4 12 3 5 4 27 3 1 4-57 3 31 4 19 3-34 4 10 3-2 4 11 3-18 4-30 3 25 4 10 3 18 4-17 3-23 4-27 3 10 4 51 3-14 4 37 3-9 4-28 3 15 4-74 3 24 4 35 3 2 4-22 3 6 4-1 3 1 4 18 3-17 4-21 3 10 4 40 3-7 4-33 3-7 4 41 3-45 4 21 3-29 4 17 3-3 4 15 3-8 4 2 3-4 4 7 3-17 4-22 3-6 4 17 3 21 4 0 3-2 4-21 3 20 4-10 3 13 4 2 3-5 4-7 3 7 4-19 3 19 4-24 3 18 4-19 3 13 4 2 3-12 4 15 3-25 4 11 3 23 4-5 3-10 4-1 3 17 4-43 3-6 4 29 3 8 4-28 3-20 4 35 3 1 4 12 3-34 4 17 3 15 4 8 3-13 4 13 3 0 4-18 3 24 4-8 3 37 4-33 3 3 4-5 3 9 4-17 3-3 4 48 3-20 4-28 3 36 4-9 3-19 4 19 3-34 4 32 3-18 4-5 3-6 4 30 3 1 4-5 3 3 4-10 3-21 4 17 3-3 4 26 3-7 4-11 3 14 4-58 3 65 4-1 3-28 4 6 3 42 4-29 3-1 4-28 3 7 4 4 3-12 4 11 3 15 4-17 3-14 4-1 3 35 4-17 3 4 4-32 3 31 4-13 3 3 4 4 3-13 4-3 3 36 4-24 3 8 4-16 3 15 4-32 3 39 4-23 3-15 4 7 3 14 4 1 3-8 4 5 3 4 4-8 3-23 4 15 3 19 4-46 3 13 4 40 3-47 4 13 3-20 4 26 3 7 4-5 3-19 4 14 3-8 4-13 3 23 4-7 3 4 4 7 3-26 4-13 3 9 4-6 3 25 4 14 3-19 4-12 3 23 4-16 3-1 4-6 3-1 4 44 3-18 4 3 3 11 4-29 3 14 4-9 3-43 4 77 3-24 4 14 3-7 4 2 3-3 4-14 3-7 4 51 3-40 4 23 3-16 4-20 3 2 4 65 3-57 4 17 3 22 4-29 3 16 4-14 3 9 4 8 3-10 4-18 3 31 4-12 3-1 4-16 3 1 4 17 3-14 4-4 3 8 4 18 3-15 4-9 3-19 4 45 3-6 4-20 3 21 4-30 3 29 4-19 3-10 4 16 3-7 4 15 3-1 4 6 3-32 4 11 3-12 4 36 3-1 4 9 3 1 4-18 3 4 4-8 3-8 4-9 3 3 4 24 3 0 4-22 3 16 4-26 3 11 4-30 3 63 4-46 3 30 4-14 3 29 4-9 3-9 4-13 3 32 4-20 3 19 4 1 3-24 4-2 3-2 4 6 3-31 4 47 3-23 4 0 3 9 4-1 3-18 4 56 3-52 4 31 3-32 4-3 3 12 4 17 3-24 4 3 3 10 4 29 3-11 4-21 3 22 4-15 3 0 4-27 3 16 4 19 3-1 4 9 3-24 4 9 3-27 4 54 3-56 4 34 3 20 4-34 3-17 4 24 3-51 4 48 3 20 4-23 3-19 4 10 3 19 4-35 3 25 4-23 3 12 4 13 3 22 4-47 3 17 4 24 3-16 4-1 3 45 4-50 3-6 4 8 3-13 4 11 3 3 4 15 3-22 4-8 3 24 4-64 3 59 4-25 3-12 4 36 3-3 4-4 3-1 4-54 3 48 4-46 3 45 4-5 3-6 4 7 3-11 4-5 3 57 4-57 3-12 4 11 3-10 4 12 3 20 4 2 3-25 4 24 3-16 4 22 3-33 4 34 3-26 4 22 3-37 4 33 3-26" fill="none" stroke="#0000ff" stroke-width="11.0" stroke-linejoin="round"/>
<path transform="scale(.1)" d="M6688 2239l4 8 3-7 4-7 3 12 4-5 3 1 4 11 3-1 4 14 3-12 4-12 3-5 4 64 3-48 4 10 3 0 4-1 3 8 4-15 3 35 4-30 3-12 4 3 3 1 4 6 3 2 4 11 3-28 4 23 3 0 4-7 3-2 4 12 3-27 4 35 3-64 4 40 3-3 4-12 3 12 4 28 3-13 4-12 3 5 4-1 3-10 4 22 3-11 4-19 3 27 4-31 3 26 4-25 3 23 4-3 3-3 4 39 3-39 4-19 3 46 4-29 3-47 4 45 3 14 4-8 3 24 4-29 3-36 4 37 3 28 4 6 3 4 4 40 3-9 4-6 3-18 4 16 3-36 4-38 3 57 4 26 3-15 4-4 3-5 4-45 3 69 4-21 3-27 4-8 3 50 4-10 3 1 4 12 3-13 4 6 3-5 4-19 3 4 4-1 3 15 4 27 3-75 4 50 3-19 4 11 3 5 4-3 3 38 4-52 3 23 4-25 3 22 4-56 3 37 4 22 3-45 4 36 3-16 4 32 3-1 4-35 3-11 4 29 3 11 4-38 3 29 4-9 3 5 4-21 3 6 4 20 3 0 4 3 3-7 4-6 3-14 4 14 3-1 4 0 3-7 4-2 3 2 4 8 3-1 4 0 3-7 4 10 3-5 4 9 3-20 4 25 3-22 4 8 3 3 4 4 3-11 4-1 3-7 4 21 3-13 4-9 3 7 4-2 3 17 4-22 3-1 4-1 3 9 4-22 3 22 4-9 3 19 4-27 3 13 4-7 3 18 4-13 3 11 4-9 3-14 4 11 3 12 4-4 3-17 4 15 3-1 4 0 3-3 4-2 3-1 4-2 3 13 4-11 3 0 4 10 3-4 4 4 3 16 4-19 3 3 4 4 3-23 4 6 3 13 4-22 3 5 4 21 3 3 4-28 3 11 4 0 3 5 4 4 3 10 4-10 3-8 4-2 3-5 4-1 3 10 4-21 3 29 4 7 3 0 4-22 3-14 4-17 3 16 4 27 3-1 4-4 3-4 4 23 3-28 4-13 3 24 4-6 3 9 4 5 3 3 4-18 3 22 4-28 3 7 4-4 3 3 4-5 3-23 4 37 3 3 4 2 3 4 4 1 3-36 4 20 3-5 4-8 3 7 4-1 3-6 4-10 3 16 4-7 3 8 4-1 3 6 4-4 3 4 4-12 3-6 4 33 3-17 4-1 3 1 4-1 3-17 4-10 3 8 4 5 3 22 4 0 3 3 4-13 3 27 4-48 3 4 4 23 3-22 4 17 3-20 4-16 3 30 4 1 3-13 4 8 3-14 4 8 3-5 4 11 3-4 4 9 3-8 4-8 3 6 4-13 3 7 4-6 3-26 4 60 3-16 4 9 3-30 4-3 3 15 4 5 3-3 4-1 3-18 4 28 3 10 4 11 3-10 4 27 3-25 4-13 3-7 4-15 3 38 4-32 3 6 4 10 3-2 4-4 3-2 4-25 3 31 4-11 3 11 4-36 3 64 4-15 3-21 4 20 3-16 4 3 3-13 4 62 3-56 4 11 3 26 4-5 3 9 4-34 3-18 4-2 3 34 4-23 3 38 4-28 3-1 4 13 3 5 4-34 3 13 4-4 3 6 4 1 3 36 4-23 3-25 4-7 3 3 4 21 3 8 4-6 3 14 4-49 3 21 4-10 3 40 4-73 3 49 4 20 3-33 4 19 3-11 4-11 3 35 4-30 3 23 4 7 3 7 4-36 3 11 4 16 3 15 4-10 3 2 4-31 3 10 4 16 3-6 4 12 3-2 4 37 3-49 4-21 3 3 4 25 3-16 4 6 3-2 4 9 3-23 4 7 3 6 4 25 3-15 4 2 3-8 4 12 3-20 4 18 3-9 4 12 3-18 4 33 3-37 4 16 3-15 4 9 3-36 4 39 3-29 4 0 3-25 4 56 3-34 4 15 3 14 4-9 3 6 4-9 3 26 4 0 3-21 4 7 3-21 4 6 3 8 4 21 3-18 4-14 3 22 4-8 3 4 4-12 3-14 4 32 3-1 4-7 3 7 4 30 3-13 4-23 3-10 4 13 3 4 4-3 3-16 4-20 3 31 4-40 3 49 4-8 3-12 4 0 3 1 4 44 3-81 4 61 3-23 4 15 3-40 4 21 3 15 4 11 3-25 4-3 3 12 4 3 3-9 4-3 3 2 4 9 3-8 4-5 3 25 4-39 3 21 4 14 3-2 4-11 3 0 4 13 3 3 4-19 3 2 4 7 3-4 4-3 3-15 4-2 3 18 4 3 3-8 4-4 3 15 4-25 3 7 4 16 3 9 4-11 3-9 4 20 3-11 4-19 3 25 4 0 3-27 4 30 3-15 4-8 3 20 4 0 3-10 4 9 3-14 4 10 3 7 4-22 3 7 4-7 3 15 4 13 3-18 4-3 3 28 4-41 3 39 4-21 3 6 4-7 3-33 4 40 3 39 4-53 3-3 4 16 3-47 4 58 3-37 4 16 3 5 4 8 3 5 4-39 3 74 4-88 3 14 4 0 3-16 4-1 3 32 4-13 3 65 4-60 3-28 4-10 3 22 4-30 3-4 4 17 3-19 4 10 3-61 4 28 3 4 4-6 3-9 4 26 3-16 4 25 3-16 4 70 3-133 4 66 3-47 4 71 3 31 4 28 3-94 4 56 3-8 4 54 3-36 4 9 3 22 4-65 3 29 4-12 3-68 4 175 3-115 4 58 3 5 4 3 3-7 4-8 3 5 4 43 3-67 4 4 3-11 4-5 3 29 4-56 3 22 4 78 3-10 4-1 3-30 4 33 3-7 4 0 3 1 4-26 3 0 4 2 3-6 4-3 3 9 4-36 3 34 4-15 3-18 4 27 3-46 4 15 3 6 4 31 3-14 4-14 3 16 4-23 3 3 4 25 3-46 4 12 3 34 4 12 3-35 4 11 3-38 4 14 3-25 4 15 3 6 4 1 3-45 4 125 3-131 4-6 3 59 4-36 3 98 4-64 3 13 4 5 3-55 4-3 3 71 4-22 3-20 4-97 3 44 4-114 3 171 4 44 3-83 4-1 3-35 4 174 3-69 4-26 3-74 4 34 3 24 4-17 3 27 4-97 3 34 4 89 3-99 4 89 3-59 4-4 3 6 4 55 3 0 4 5 3-23 4-43 3 9 4 68 3 14 4-7 3-42 4 23 3 30 4-171 3 162 4-66 3-44 4 19 3 24 4 72 3 64 4-155 3 36 4 11 3 20 4-101 3 60 4 30 3-121 4 191 3-161 4 59 3-12 4-69 3 48 4 11 3-36 4 125 3-7 4-107 3 107 4-50 3 5 4-31 3-59 4 73 3 50 4-110 3 85 4-41 3 33 4-55 3 14 4 31 3 35 4-20 3-37 4 18 3 42 4-15 3 78 4-98 3-32 4 43 3-36 4 23 3-2 4 7 3 33 4-6 3-18 4-44 3 126 4-44 3 21 4-41 3-39 4 50 3-16 4 19 3-9 4 33 3-20 4-36 3 31 4-46 3 43 4 78 3-46 4-70 3 70 4-53 3 12 4 33 3-12 4-11 3 7 4-8 3-16 4-5 3 28 4-16 3 32 4-6 3-52 4 5 3 33 4-23 3 38 4-32 3-31 4 69 3-51 4-33 3 69 4 44 3-66 4 27 3 15 4-43 3 58 4-91 3 47 4 17 3-12 4 12 3-20 4 4 3-17 4 16 3 42 4-36 3-7 4 36 3 33 4-49 3 12 4-30 3 99 4-98 3-18 4 28 3-28 4 3 3 30 4 6 3 10 4-76 3 12 4 30 3 66 4-103 3 93 4-102 3 53 4-9 3-55 4 67 3 17 4-40 3 3 4 27 3-19 4 23 3-36 4-10 3 28 4 32 3-24 4-32 3-15 4 37 3-8 4-15 3 13 4 30 3-35 4 33 3-33 4 3 3 4 4 14 3-17 4 24 3-10 4 26 3-11 4 30 3-77 4-12 3 32 4 6 3 51 4-16 3-37 4-6 3 54 4 52 3-85 4 7 3-9 4 16 3 26 4-20 3-17 4 51 3-24 4 10 3-13 4 11 3-7 4 6 3 0 4-36 3 19 4 19 3-16 4-33 3 51 4-19 3 25 4-35 3 22 4 5 3 6 4-6 3 30 4-40 3-5 4 21 3 43 4-62 3 37 4-3 3-11 4 4 3 5 4-47 3 39 4-22 3 16 4-6 3 3 4-3 3-5 4-15 3 3 4 22 3-6 4-11 3 0 4-9 3 43 4-31 3 11 4 8 3 4 4-36 3 10 4-11 3 32 4-9 3-16 4 15 3 23 4-43 3 24 4-4 3-2 4 45 3-40 4-47 3 43 4-39 3 14 4-11 3 34 4-17 3-36 4 70 3-20 4-31 3 25 4-30 3 19 4-8 3 18 4-16 3 16 4 10 3 6 4-45 3 14 4-44 3 104 4-52 3 18 4-24 3-4 4-15 3 32 4-16 3 52 4-30 3-44 4 36 3-1 4-23 3 15 4 33 3-55 4-1 3-1 4 29 3-13 4 42 3-54 4-8 3 35 4-28 3-10 4 19 3 1 4 5 3-39 4 48 3-6 4-12 3 2 4-19 3-10 4 19 3 5 4 9 3-11 4-5 3 42 4-35 3 0 4 1 3-37 4 34 3-22 4 12 3 31 4-38 3 28 4-27 3-14 4 11 3 8 4-17 3 35 4-23 3 18 4-18 3 3 4-17 3-10 4 15 3 21 4-9 3-9 4 11 3-13 4 38 3-24 4 12 3-16 4-11 3 3 4 1 3 13 4-18 3 11 4 23 3-37 4 7 3-9 4 23 3-10 4-7 3 14 4-14 3-4 4 2 3 21 4-24 3 25 4-26 3-9 4 26 3 1 4 2 3-1 4-12 3 9 4-20 3 21 4-19 3-9 4-26 3 35 4 15 3-8 4-10 3 24 4-30 3 24 4 16 3-32 4 3 3 31 4-26 3 4 4-23 3 3 4 8 3 19 4-3 3 15 4-12 3 13 4-26 3 5 4 9 3 4 4-10 3 3 4 3 3-10 4 9 3-23 4 15 3-10 4 3 3 9 4 24 3-30 4 10 3 8 4-14 3-9 4 5 3-8 4 9 3-2 4 15 3 7 4-20 3 6 4-4 3 21 4-32 3 4 4 29 3-21 4-22 3 30 4-32 3-25 4 80 3-22 4 0 3-19 4 40 3-61 4 27 3-4 4 8 3-6 4 2 3-2 4 14 3-18 4 13 3-13 4 13 3 5 4-15 3 14 4 16 3-24 4-8 3 10 4-5 3 1 4-20 3 31 4-14 3-23 4 26 3-6 4 0 3 6 4-9 3-8 4 14 3 16 4-14 3-1 4-12 3 11 4 17 3-19 4-7 3 4 4-33 3 35 4-7 3 3 4-10 3-8 4-20 3 32 4 26 3-2 4-7 3-14 4 7 3-14 4 32 3-26 4 13 3-16 4-3 3 9 4 20 3-5 4-22 3 15 4 8 3 6 4 8 3-3 4 11 3-25 4 20 3 4 4-6 3 16 4-31 3 17 4 19 3-10 4-18 3 24 4-24 3 28 4 12 3-15 4-29 3 46 4-17 3 9 4 17 3 13 4-15 3-19 4 18 3-20 4 34 3-13 4 7 3-21 4-12 3 28 4-6 3 1 4-3 3-1 4 8 3-33 4 31 3-1 4-34 3-5 4 7 3-10 4-28 3 47 4-5 3-41 4-4 3 18" fill="none" stroke="#ff0000" stroke-width="11.0" stroke-linejoin="round"/>
<path transform="scale(.1)" d="M9115 2251l7 371 6-371" fill="none" stroke="#0000ff" stroke-width="11.0" stroke-linejoin="round"/>
<path transform="scale(.1)" d="M9317 2251l7 286 6-286" fill="none" stroke="#0000ff" stroke-width="11.0" stroke-linejoin="round"/>
<path transform="scale(.1)" d="M9109 2199l6 221 7-221" fill="none" stroke="#ff0000" stroke-width="11.0" stroke-linejoin="round"/>
<path transform="scale(.1)" d="M6688 3106l4 6 5 9 4 34 4 0 4 14 5 6 4-11 4 6 4-11 5 1 4-9 4 0 4-19 5-15 4-5 4 31 4-5 5 28 4 12 4-6 4 36 5-43 4 8 4-20 4-39 5-3 4-19 4-9 4 27 5-7 4 35 4 3 4 19 5-19 4 18 4 20 4 10 5-4 4 33 4 2 4-13 5-2 4 21 4-5 4 12 5-2 4 1 4-8 4 7 5 14 4 13 4-8 4 12 5-4 4 13 4-5 4-9 5-3 4-1 4 2 4 28 5 3 4-2 4-34 4 5 5-29 4 11 4-20 4-10 5-12 4-13 4 6 4-4 5-30 4-1 4 2 4-10 5-16 4-6 4 9 4-29 5-4 4 14 4-14 4 18 5-20 4 18 4-19 4 15 5-6 4 7 4-10 4 6 5 3 4 11 4 23 4-12 5 12 4 18 4-12 4 7 5-1 4 15 4-16 4 29 5-11 4 5 4-4 5-26 4-9 5-27 4-27 5-50 5-7 4-13 5 6 4 11 5 20 4 0 5 33 4 18 5-8 4 40 4 28 5 18 4 36 4 33 4 25 5 6 4 21 4 48 4-8 5 6 4 1 4-19 4 9 5-9 4 15 4-4 4-15 5 8 4 3 4-12 4-2 5 9 4-14 4 10 4 11 5-8 4-28 4 21 4-7 5-4 4-26 4 20 4-22 5 16 4-19 4 0 4-8 5 20 4-22 4 19 4-13 5-13 4 15 4-6 4-18 5 24 4-19 4-6 4 25 5 1 4-10 4-4 4 12 5 4 4 5 4-5 4 5 5 6 4-15 4 1 4 12 5 10 4-3 4-2 4-18 5 5 4-24 4 5 4-15 5 21 4 1 4 2 4 15 5 1 4 26 4-10 4 22 5-17 4 1 4-38 4-17 5-18 4 8 4-4 4 32 5-6 4 29 4-8 4 36 5-10 4-14 4-18 4-5 5-11 4-10 4-24 4 17 5-4 4-15 4-8 4 22 5-15 4 0 4 10 4-15 5-9 4 13 4-7 4-11 4 12 4 5 4-23 4 16 4-4 4-10 4-12 4 13 4-14 4-3 4 17 4-21 4-8 4 23 4 2 4-24 4 1 5 6 4 8 4-23 4 21 5-12 4 24 4-16 4 18 5-15 4 8 4-19 4 7 5-3 4-3 4-11 4 2 5-16 4 10 4 8 4-9 5-13 4 7 4-14 4-8 5-9 4-15 4 24 4-3 5-6 4-6 4 1 4 1 5-2 4 4 4-15 4 40 5-2 4 6 4 9 4 5 5 2 4 29 4-10 4-26 5 17 4-10 4-11 4-20 5-14 4-7 4-13 4 9 5-11 4-10 5-37 5-26 4-20 5-38 5 15 5 45 4-4 5 20 4 15 5-4 4 22 4-3 4 30 5-15 4 26 4-14 4 20 5 3 4 8 4-21 4 12 5-41 4-7 4-25 4 2 5-27 4 10 4 6 4-10 4-10 4-23 4 23 4-25 4 13 5-31 4-1 4 15 4-11 4-24 4 3 4 11 4-2 4 6 4 4 4 21 4 4 4 6 5 11 4 4 4 8 4 20 4-28 4-9 4 3 5-13 4-2 4 4 4-5 5-12 4-5 4-30 4-4 5-15 4 18 4 12 4 12 5 16 4 32 4-1 4 25 5 1 4 20 4-2 4-1 5 12 4-9 4-2 4-7 5-3 4 12 4 0 4-7 5 27 4-28 4 14 4-5 5 7 4 15 4 6 4-17 4 11 4 8 4-18 4 5 4 2 4 15 4-16 4 20 4-21 4 17 4 0 5-17 4 11 4 17 4-12 4-10 4 15 4 4 4-1 4-1 4 18 5-8 4-6 4 1 4 12 5-16 4 9 4 10 4-21 5 3 4-2 4 24 4 8 4-1 4 3 4-15 5 14 4 7 4 0 4 1 4 8 4-1 4-1 4 20 4-14 4 17 4 3 5 17 4 1 4-4 4-11 4 27 4 4 4 1 4 15 4-12 4 1 5 8 4-10 4 12 4-21 4 12 5-6 4-3 4-21 4 12 5 2 4-3 4-18 4-31 5 9 4-30 4 14 4-41 5-12 4 2 4-22 4 17 5-12 4-32 4 8 4-27 5 4 4-41 4 7 4-34 4-25 4-12 4-33 4-17 4-5 4-14 4-6 4-34 5 9 4 12 5 7 4 43 5 8 5 0 4 31 4-7 5-6 4-10 4 9 4-2 5-10 4-8 4 18 4 16 5 20 4-4 4 9 4-3 5 9 4 17 4 27 5-2 5 31 4 10 5 3 4 21 5 24 5-76 4-30 5-45 5-43 4-37 4-7 5-12 4-33 4-2 4-18 1 24 4-30 5-23 4 0 4-8 5-5 4-19 4-19 5-3 4-14 4-9 5-13 4-11 4 16 5-20 4 8 4 19 5-26 4 12 4 9 4-6 4 16 4 17 4 2 4-5 4 29 4-3 4-6 4 26 4 6 4 11 4 6 5-10 4-22 4 3 5-8 4-7 4-28 5 49 4 10 4 35 5 11 4 33 4 18 5 59 4 76 4 80 5-52 4-14 4-41 5-33 4-43 4-29 5-22 4-26 4-33 5-2 4-15 5-24 4-12 4-3 5-21 4 10 4-26 5-5 4-9 4 21 5-9 4 39 4 58 5 24 4 62 4 42 5 36 4 26 4-4 5 16 4 7 4 14 5 32 4-33 4-18 5-32 4-19 4-21 5-1 4 21 4 29 4 20 4 13 4 30 4 23 4 42 4 18 5-26 5-35 5-19 5-36 4-22 4 4 4 1 4 29 4-19 4 10 4 6 4-10 4 4 4 21 4-20 4 22 4-9 4 8 4-8 4 11 4 2 4-7 4-3 4 6 4 12 4-22 4 8 4 6 4 12 4-4 4-13 4 17 4-13 4 7 4-20 4 15 4-16 4-11 4-9 4 17 4-24 4 18 4-4 5-36 4 4 4-15 5-34 4 7 4-9 5-34 4-8 4-18 5 1 4 5 4 23 5 17 4-19 4 4 5 23 4-1 4 26 5 2 4 10 4 29 5 23 4 20 4 19 5-24 4 1 4-50 5-14 4-1 4-40 5-20 4-15 4-12 5 2 4-5 4-24 4 20 4-28 4 16 4-2 4-28 4 4 4-9 4 4 4 6 4-4 4-5 5-28 4 5 4 4 4-22 5-15 4-35 4-16 5-5 4-13 4-31 5 8 4 8 4 29 5 16 4 1 4 14 5 35 4-24 4-10 5-9 4-4 4-28 5-15 4 46 4 8 5 45 4 26 4 46 5 40 4 21 5 26 4 31 4-9 5-44 4-22 4-55 5-33 4-37 4 17 4 0 4 12 4-6 4-6 4-5 4 25 4 7 4-17 4 2 4 9 4-2 4 14 4 5 5 13 4 10 4 9 5 34 4 14 4-25 4 5 4 10 4-12 4 2 5 3 4-10 4 2 4 10 4 6 4-28 4 25 4-26 4 17 4-20 4 15 4-13 4 16 4-27 4 13 4 12 4-16 4-6 4 4 4 2 4-6 4-11 4-9 4 16 4-4 4 19 5-16 4 4 4 9 4 21 4-2 4-11 4 17 4 9 4-20 4 27 4-5 4 18 4 0 4-8 5-17 4 2 4-9 4-14 4 8 4-3 4-22 4-18 4 5 5-15 4-17 4-7 4 1 4-19 4-6 4 18 4-21 4-20 5-12 4 8 4 3 4 20 4-23 4 25 4-13 4 11 4-7 4 14 4 1 4-10 4-8 4 0 4 9 4 15 5 25 4 7 4 17 5 26 4-5 4 9 4-4 4-14 4-5 4 23 5-15 4 18 4-16 4 18 4 0 4 0 4 13 4-1 4-14 5 11 4 0 4 1 4-3 4 15 5 28 4-3 4 27 5 17 4 15 4 5 4 2 4-11 4-14 4-2 4 23 4-17 4-2 4-10 4 11 4-10 4 4 4-3 4 28 5 12 4 21 4 15 5-9 4 33 4-14 4-2 4 2 4-3 4-2 4-8 4-14 4 25 4-34 4 26 4-3 4-13 4-18 5 23 4-4 4 8 5 23 4 4 4-15 4 25 5-22 4-7 4-2 4-10 4 2 4 9 4 0 4-9 4-11 5-11 4-3 4-15 4-1 4-11 4 19 4-26 4-2 4 3 4 17 4-20 4 26 4-11 4 8 5 5 4 21 4 5 4-20 4 15 4-5 4 4 4 20 4-4 4-2 4-6 4 3 4 5 4 12 4-16 4 11 5 9 4-23 4 7 4 19 4-21 4 29 4-15 4 8 4-15 5 12 4 2 4 8 4-7 4-15 4-4 4 4 4 9 5-16 4 0 4 5 4-5 4 10 4-13 4-2 4 16 4-6 5 3 4-21 4 14 4-9 4 5 4-6 4 22 4 2 4-9 4-1 4-1 4 10 4-4 4 6 4 8 4 10 4 2 4-23 4 26 4-11 4-6 4 13 4 16 4-13 4-1 4 10 4 3 4 13 4 2 4 5 4-30 4 20 4-9 5 2 4 7 4-18 4-11 4 7 4 22 4-2 4-16 4-12 5 19 4-15 4 17 4-13 4-8 4-8 4 5 4 3 4-1 4 15 4 4 4-6 4-6 4 8 4-20 4 16 4 1 4 3 4-10 4 19 4-25 4-5 4-19 4 4 4-25 4 8 4-19 4 16 4-25 4-15 4 5 4-25 4 3 5 11 4 29 4 6 5 17 4 17 5 1 4-9 4-10 5-6 4-10 4-10 5-10 4-10 4-36 5 9 4-3 4 5 5-17 4 12 4-25 5 11 4-6 4 0 5 8" fill="none" stroke="#ff0000" stroke-width="10.0" stroke-linejoin="round"/>
<path transform="scale(.1)" d="M6688 3081l6-14 5 2 6-4 5 6 6-3 5 1 5-17 6 8 5-4 5 6 5 7 5-6 5 6 5 11 5 0 5-3 5 9 6 6 5-12 5 16 6 1 5-5 5-1 6 17 5-9 5-3 6 2 5 16 5-2 5 5 5 0 6-3 5 10 5-10 5 5 5 6 5-3 5 6 5-4 5 8 5-6 6 9 5 7 5 2 5 8 5 4 5 9 5 12 5 1 6-6 5-8 6-4 5 6 6-11 5-6 5-13 6 8 5-12 5 2 5 9 5-8 5-4 5 1 5 1 5-3 5-12 6-3 5 7 5 0 6 0 5 14 5 0 6-9 5 7 5-4 6 11 5-7 5-3 6 2 5 7 6-3 5 7 6 8 5-7 5-2 6 19 5-5 5-3 5 4 5 6 5 13 5 8 5-2 5-2 5 10 6 8 5-12 5 5 5-5 5-19 5 10 5-4 5-6 5-8 5 4 6-8 5 8 5 3 5 11 5 0 5-9 5 7 5-4 5 16 5 1 6-8 5 8 5 2 5-7 5 14 5-7 5 3 5-7 5-12 5 4 6-8 5 15 5-3 5-3 5-12 5-6 5 12 5-1 5-17 5 5 6-6 5 14 5 2 5-10 5 8 5 3 5-3 5 12 5-6 5-2 6 7 5 6 5-8 5 3 5 14 5-3 5-2 5 4 5-4 5 4 6 5 5 7 5-4 5 2 5 0 5 13 5-5 5 15 5 2 5-12 6 2 5 7 5-8 5-2 5 13 5-7 5-2 5 5 5 0 5-12 6-3 5 6 5-1 5 0 5 4 5-1 5 5 5-17 5 5 5-2 6 6 5-14 5-5 5 1 5-3 5-6 5-4 5 8 5-12 5 4 6-9 5-12 5 14 5-7 5-1 5-7 6-7 5-19 6-1 5-11 6-3 5-13 6 6 5 11 5-13 5 9 6-5 5-1 5 10 6 0 5-8 5 3 6-10 5 3 5 11 5-8 5-1 5 2 5-13 6 9 5-3 5 6 5-13 5 13 5-17 5 1 5 7 5 1 5-9 6-3 5 14 5-13 6 6 5 0 5-4 6 2 5-1 5 7 6-14 5 9 5-9 5 1 5 4 5-8 6-1 5 6 5-13 5 6 5 8 5-1 5-18 5 2 5 1 5 11 6-1 5 0 5-10 5-4 5 12 5-3 5-2 5 7 5-7 5-12 6 15 5-10 5 6 5 5 5-15 5 0 5-1 5 7 6-6 5 5 5 1 5-11 6 7 5-8 5 3 5 6 6-2 5-15 5 5 5-4 6-6 5 13 5-3 5-8 6 8 5-3 5-2 5-8 5 1 5 15 5 0 5-6 5 5 5-5 6-7 5-1 5 4 5 10 5-2 5 1 5 1 5-12 5 0 5-2 6 10 5 0 5-10 5 2 5-11 5 12 5-3 5 0 5-5 5 0 6-18 5 11 5-9 5 9 5-4 5-1 5-3 5-12 5 8 5-14 6 17 5 4 5-8 5 15 5-3 5 1 5 13 5-7 5 1 5 6 6 11 5 17 5 9 5-4 5 14 5-1 5 15 6-4 5 11 5-10 5 19 5-10 6 18 5-8 5 1 5 10 6 9 5-3 5 9 5 2 5 2 6 8 5-2 5 12 5-9 5 21 6-3 5-3 5-7 5-8 6-12 5-12 5 4 5-13 6-7 5 3 5-9 5-14 6-7 5-5 5-7 5-8 6-10 5-2 5 6 5-9 5 1 5-9 5-10 6 1 5-14 5 1 5-1 5-1 5 0 5-4 5-1 5-5 5 4 6 7 5-3 5-12 5-3 5 7 5 2 5-7 5 8 5-2 5-2 6-6 5 3 5-1 6 7 5 7 5 9 6-11 5 8 5 7 6-5 5 11 5 0 7-31 6-18 5-9 5 16 5 3 5-9 5 8 1-2 5 15 5-8 6-7 5 4 5 11 5-6 5 7 6-2 5 6 5-6 5 5 6-3 5-7 5-1 5-5 5 4 6-7 5 4 5-5 5-7 5-6 6-3 5 4 5 0 5-7 5-1 6-8 5-7 5 2 5-3 6 2 5 6 6-5 6 3 5 11 6 2 5-10 5 5 5 2 5-4 5-4 5 2 5 8 5-7 5 1 5 2 6-2 5-8 5-8 5 5 5 10 5 4 5 5 5-7 6 8 5-1 5 4 5-4 5 2 6 7 5-2 6 11 5 12 6 0 6 2 5 11 6-1 5 12 6-8 5 9 6 6 6-7 5 14 6-6 5-9 5-21 5-9 6-17 5-12 5 7 5-7 5 6 6 1 5-11 5-3 5-2 6 9 5 8 5-12 5 5 5 2 6-3 5 1 5 3 5-14 5-4 6 2 5-1 5 9 5-2 5-7 6 8 5 0 5-11 5 2 6-2 5-17 5 8 5-3 5-15 6-2 5 5 5 7 5 5 5-10 6 6 5-12 5 11 5-1 5-9 6 12 5 1 5-4 5-9 6 19 5-1 5-4 5 4 5 3 6 5 5 1 5 12 5 3 5-10 6 15 5-7 5 3 5-3 5-6 6 4 5 4 5-14 5 9 6-6 5-2 5-1 5 4 5-9 6 10 6 29 7 15 5 16 5-10 5 6 5 4 5-3 5-5 5 17 5-11 5 2 5 12 5-6 5 11 5-2 5-12 5-8 5 13 6-20 5 8 5-8 5 1 5-5 6-5 5-7 5 2 5-17 5-1 6 4 5-11 5 3 5-4 6-1 5-5 5 4 5-10 5 4 6-10 5-2 5-5 5-1 5-3 6 5 5 2 5-13 5-2 5 3 6 2 5 2 5-10 5-4 5-2 5 3 5 1 5 0 5-2 5 11 5-4 5 14 5-7 5 4 5-9 5 14 5-7 5 6 5-6 5-2 5-1 5-5 5-3 5 15 5-9 5 6 5-8 5-6 5 9 6-10 5 3 5 8 5-4 5 13 6-15 5 12 5-2 5 4 6-10 5 6 5 0 5 0 5 8 6 3 5-11 5 6 5 0 5 3 6 5 5-11 5 4 5 11 5-6 5 3 5 1 5 2 5 11 5 5 5-2 5 2 5 12 5 2 5-6 5 2 5 2 5-4 5-5 5-1 5 3 5-12 5 1 5-1 5 3 5-3 5-16 5 2 5 4 6 8 5-2 5-5 5-2 5 11 6 1 5 5 5-8 5-1 5-8 6-2 5 6 5-3 5-2 5-4 6 15 5-3 5-6 5 6 6 0 5-7 5-9 5-5 5 12 6-6 5 2 5 4 5-14 5 10 6 3 5 0 5-4 5 7 5 2 6 9 5 6 5-7 5 9 6-4 5 14 5 0 5-2 5 1 6-5 5-3 5 9 5-12 5-1 6 6 5-9 5-4 5-5 5-7 5 4 5 8 5-2 5 3 6-9 5 7 5 8 5-8 5 5 5-10 5 17 5-6 5-6 5-1 5 8 5 1 5-8 5 17 5-1 5-7 5-5 5 13 5-5 5 5 5-3 5-4 5 10 5 2 5-13 5 5 5-3 5 9 5-7 5 6 5 0 5-11 5 9 5-7 5 9 5-8 5 5 5-10 5 0 5 5 5 8 5-10 5-6 5 6 5-3 5 3 5 0 5-2 5 0 5 0 6 11 5 0 5-4 5 12 5-11 6 15 5 1 5 4 5-5 6 7 5 5 5 5 5-7 5-8 6 9 5 2 5 6 5 0 5-7 6 2 5-1 5 5 5-5 5 5 6-9 5 6 5 10 5-11 5 2 5-4 6-1 5-4 5-4 5-12 5-5 5 3 5-3 5-2 5-19 5-4 5 6 5 2 5-3 5-8 5-10 5-10 6 12 5 7 5-5 5 7 5 6 5-13 5 16 5-6 5 4 5-2 5 10 5 3 5 6 5-8 5 1 6 16 5-2 5 1" fill="none" stroke="#000000" stroke-width="17.5" stroke-linejoin="round"/>
<path transform="scale(.1)" d="M6688 3613l4 7 5-11 4 19 4-19 4 9 5 10 4-17 4 17 4-8 5-7 4 2 4-2 4-8 5 18 4-18 4 20 4 0 5-22 4 10 4 10 4 13 5-16 4 17 4-5 4 16 5 8 4-2 4-19 4 15 4-12 4 10 4-13 4 11 5 0 4-7 4-2 4-2 4-9 4-14 4 22 4-18 4-15 4 10 4-2 4-9 5 21 4-27 4 21 4-12 4-14 4 4 4 0 4-7 4 21 4-1 4 12 4-3 4 1 4 8 4 0 4-7 4-1 4 2 4 11 4 5 4-1 4 2 4-22 4 14 4-8 4 17 5-3 4-3 4 6 4-22 5 13 4-7 4-14 4 20 5-30 4 10 4-1 4-1 5 13 4-12 4 11 4-17 5 6 4-9 4 16 4-6 5 12 4-20 4 12 4 15 5-27 4 20 4 1 4 7 5-1 4 3 4 19 4-16 5 17 4 4 4 6 4-2 5-10 4 28 4-10 4 19 5 11 4-1 4-19 4 7 5-21 4-9 4 1 4-5 5-6 4-10 4-12 4 3 5-19 4 2 4-17 4 4 4 23 4-18 4 7 4-10 4 22 4-12 4-7 4 8 4 20 4-4 4-21 4 29 4-25 4 13 4 3 4 8 4-18 5 19 4-17 4 13 4 5 4-11 4-18 4 19 4-8 4 9 4 0 4-21 4 13 5 2 4 8 4-11 4 0 4 4 4-19 4 20 4-9 4 1 4-16 4 11 4-5 4-6 4 24 5-1 4-10 4-9 4 29 4-24 4 14 4 3 4 11 4-4 4 1 4-1 4 16 4-3 4-12 4 15 4 7 4-12 4-10 4 0 4 27 4-23 4 18 4-19 4 1 4-2 4 20 4-22 4 12 4 10 4-9 4-15 4 0 4 25 4-16 4-7 4 13 4 8 5-17 4-7 4-1 4 7 4 6 4-23 4 18 4-4 4-7 4-7 4-13 4 12 4-5 4 6 4-21 4 0 4-6 4 11 5-15 4 12 4-5 4-5 4-3 4 24 4-12 5-10 4 16 4 8 4-7 5 14 4 0 4-3 4-18 5 13 4 5 4-9 4 12 5 9 4 7 4 5 4 4 5-10 4 14 4 1 4 12 5-15 4 6 4 20 4 5 5-15 4 16 4 0 4-3 5-6 4-12 4 5 4 16 5 5 4-23 4-4 4 10 4 17 5-23 4 21 4-5 4 1 4 4 4-10 4-15 4 6 4-2 4 8 4-10 4 10 4-21 4 5 4-1 4-2 4 17 4 3 4-24 4 12 4-14 4 7 4-3 4 16 5 4 4 1 4-17 4 4 4-6 4 13 4-13 4 16 4-9 4 3 4 10 4 1 4-20 5 14 4-13 4-8 4 25 4-20 4 3 4 13 4 5 4-13 4 10 4-9 4-11 5 17 4-11 4 1 4 7 4 7 4-12 4 1 4 11 4-9 4 9 4 4 4-10 4 18 5 3 4-28 4 2 4 1 4 12 4-5 4 15 4 9 5-15 4-3 4 0 4 22 5-1 4 3 4 5 4-14 5 10 4-11 4-8 4 14 5-13 4 3 4-2 4-12 5-10 4 19 4-2 4-2 5-16 4-3 4 10 4-8 4 12 4-6 4 0 5 10 4-21 4 3 4 10 4 10 4 2 4 0 4-20 5 4 4-2 4 0 4-1 4-1 4 21 4-9 4 14 4-10 5 5 4 5 4-11 4-9 4 6 4 1 4-8 4 12 4 7 5-13 4-8 4 2 4 9 4-5 4 9 4 15 4-22 4 4 5 8 4-12 4 21 4 4 4-29 4 12 4 13 4-23 4 16 5 8 4 5 4-23 4 23 4-10 4 5 4-15 4-5 4 14 5 15 4-21 4 22 4 0 4-15 4-1 4 14 4-28 4 17 4-13 4 17 4-8 4 3 4-7 4 14 4-1 4-25 4 16 4-11 4 21 4 0 4-4 4-4 4 2 5-23 4-3 4 14 4-11 4-15 4 12 4-9 4-24 4 24 4-10 4-5 4-23 5-6 4-2 4 16 4-26 4 4 4-3 4-2 4-8 4-9 4 8 4-17 4 6 5-1 4-3 4 4 4 22 5-16 4 16 4 6 4 12 5-6 4 9 4 6 4-20 5 3 4 27 4-12 4 10 5 0 4-1 4 11 4 7 5 15 4-14 4 1 4 19 4 9 5-12 4-3 4 19 4 0 4-23 4 4 4 16 4-5 4 4 4-1 4-7 4 20 5 5 4-7 4-8 4 13 4-11 4-4 4 16 4 1 4 11 4-13 4-8 4 15 5-9 4 14 4 28 4-12 5 7 4 25 4-19 4 27 5 6 4 12 4-17 4 17 5-2 4-11 4 4 4 0 5-2 4 19 4 0 4-10 5 13 4 0 4 1 4-19 1 1 4-7 4-3 4 29 4-13 5 3 4-4 4-8 4-8 4 9 4 3 4-10 4 6 4 19 5-25 4 16 4-6 4 9 4-3 4-6 4 18 4-7 4-10 4 12 4-2 4 6 4-16 4-7 4 9 4 4 4-6 4-10 4 12 4-5 5 8 4 28 4-5 4 28 5 8 4 5 4-11 4 12 4 16 5 11 4 5 4-6 4 14 4 31 5-7 4 12 4 1 4-32 4-6 5-4 4-23 4-6 4-1 4-10 5-13 4-10 4-34 4-10 4 5 5-7 4-20 4 11 4 5 4-6 4-9 4 16 4 2 4 0 4-11 4 4 4-8 4 16 4-9 4 9 4 12 4-12 4-6 4 14 4 2 4-14 4 9 4 7 4-18 4 17 4-12 4 4 4 40 4 47 5 12 4 36 4 56 5 8 4 39 4 48 5 29 4-18 5-46 4-9 4-43 5-31 4-16 4-36 5-24 4-13 4-1 4-5 4-3 4-17 4 10 5 13 4 0 4-23 4 13 4 8 4-3 4-5 4-4 4 6 5-14 4 26 4-25 4 4 4 23 4-11 4-12 4 5 4 7 4-9 4-1 5 2 4 2 4 7 4 11 4-11 4 10 4-3 4 5 4 2 4-5 4 12 4 10 4-8 4 11 5-12 4 2 4-4 4 3 4 3 4 17 4-14 4 6 4 4 4-19 4 0 4 12 5 1 4 13 4 0 5 17 4 3 4 0 4 11 4 3 4-24 4 3 4-9 4 13 4-25 4-10 4 22 4-9 4-12 4-17 4 5 4 3 5 1 4-13 4 2 4-8 4 0 4-2 4 5 4 3 4 6 4-22 4 20 4-20 4-8 4 16 4 6 4 0 4-16 4 13 4-4 4-15 4 4 4 1 4 0 4-24 4 8 4-11 4 1 4 13 4-9 4-3 4 29 4-26 5 22 4-10 4-1 4 3 4 4 4-15 4 24 4 0 5-4 4-10 4 6 4-17 4 11 4 9 4 0 4 8 4-19 4 23 4-26 4 3 4 22 5-23 4 30 4-9 4-11 4 5 4-9 4 12 4-9 4 19 4 7 4-11 4-3 4 12 4 4 5-17 4 12 4 9 4-8 4-16 4 24 4-21 4 7 4-2 4 2 4 12 4-20 4 7 4-1 5 11 4-13 4-2 4-6 4 9 4 5 4-16 4 13 4-16 4-3 4-4 4 3 4 4 4-4 5 5 4 4 4 0 4-21 4 5 4 12 4 7 4-25 4 13 4-14 4 23 4 0 4-8 4-6 5 8 4 1 4-15 4 18 4-12 4-10 4-2 4 11 4-13 4 23 4-14 4 17 4-1 4-11 5 16 4-17 4-4 4 12 4 9 4-4 4-13 4-5 4 10 4 14 4-19 4-2 4 22 4-5 5-10 4 4 4-15 4 14 4-3 4-10 4 0 4-3 4-3 4 12 4-6 4 5 4 7 4-22 5 19 4-15 4 15 4-22 4 24 4-13 4 4 4-8 4 0 4-15 4 4 4 21 4-13 4-8 5 18 4-1 4-3 4-13 4-2 4 10 4-11 4 8 4-19 4 0 5 4 4 14 4-21 4 6 4-15 4 14 4-15 5 7 4 1 4 5 4-2 4-10 4 13 4-19 5-2 4 12 4-4 4-21 4 5 4 21 4 8 5-12 4-6 4 30 4-10 4 10 4 14 4-11 5 24 4-11 4 8 4-1 4 18 4-8 4 30 5-3 4-15 4 5 4 10 4 22 4 1 4 0 5-9 4-7 4-1 4 2 4-15 4 9 4 1 4-10 4-16 5 3 4-6 4-3 4-17 4-3 4 13 4-12 4-3 4 8 4-16 4 3 4-12 4 0 4 24 5-4 4-11 4 5 4-8 4-2 4 13 4-28 4 16 4-7 4 6 4-16 4 0 4-5 4 19 4-24 4 3 4 4 4 14 4-7 4 1 4-16 4 6 4 13 4-17 4 3 4-1 4 4 4-11 4 3 4 0 4 11 4 8 4 6 4 2 4-20 4 9 4 2 4 7 4 1 4-9 4 12 4-4 4 1 4 10 4-3 4-21 4 19 4-21 4 14 4-2 4 10 4 1 4-10 4-3 4-5 4 26 4-1 4-14 4-1 4-3 4 23 4-10 4-7 4 7 4 11 4-13 4 14 4-10 4 3 4 14 4 6 5 2 4 9 4-19 4 4 4-2 4 20 4-15 4 3 4 18 4 2 4-12 4 7 4 16 4-10 4 7 4-6 4 17 4-8 4 5 4-11 4-18 5-7 4 16 4-1 4-19 4 13 4-8 4-2 4-10 4-2 4-16 4 15 4-8 4-5 4-11 5 25 4-14 4 10 4-20 4 5 4 2 4 12 4-8 5 22 4-9 4 4 4-21 4 13 4 9 4-9 4 8 4-5 5 11 4-4 4 3 4-22 4 7 4-4 4 11 4-3 4-1 5-6 4-12 4 8 4-3 4-5 4-2 4 0 4 7 4-29 5 6 4 3" fill="none" stroke="#00ff00" stroke-width="10.0" stroke-linejoin="round"/>
<path transform="scale(.1)" d="M6688 3788l4-23 5 25 4-2 4 19 4-11 5 21 4-18 4 30 4-12 5-2 4 10 4 14 4-13 5 15 4-6 4-3 4-2 5-3 4-4 4 10 4-16 5 8 4-4 4-5 4-4 5-16 4-2 4 1 4-15 5-17 4 13 4 2 4-9 5-1 4 5 4 17 4 5 5-3 4-5 4-11 4 1 5 22 4-3 4 0 4-7 5 2 4 5 4 2 4 18 5-6 4 11 4 0 4 7 5 9 4 4 4-15 4 28 5 0 4 2 4-7 4 11 5-7 4-21 4 10 4 1 5-6 4 1 4-14 4 1 5-22 4 14 4-18 4 14 5 1 4-19 4-9 4 0 4 14 4-10 4 18 4-4 4-3 4 5 4-15 5 10 4-12 4 15 4 8 4-19 4 16 4 9 4-19 4-4 4 2 4 18 4-23 4 22 4-14 5 17 4 6 4 1 4-17 5 13 4-5 4 19 4-16 5-1 4 9 4-8 4 7 5 16 4-9 4-6 4 21 4-22 4 14 4-5 4-5 4 1 4-4 4 6 4-6 4-14 4 10 4-6 4 10 4-25 4 8 4 14 4-29 4 18 5 4 4-9 4-18 4 21 4-17 4 7 4 8 4-16 4-3 4-5 4 6 4-9 4 17 4 3 4-24 4 13 4 7 4-1 4-17 4 9 4 6 4-4 4 15 4-1 4 2 5-24 4-2 4 18 4 1 4-9 4 1 4 17 4 1 4-22 4 4 4 19 4-8 4-7 5 25 4-17 4-7 4 11 4 1 4 8 4 5 4-18 5 13 4 15 4-11 4 14 5 2 4-2 4-2 4-15 5 28 4-19 4 2 4 8 5 2 4 8 4-6 4 12 4-4 4-3 4-11 4 11 4-3 4 8 4-14 4 16 4-1 4-16 5 23 4-13 4 0 4-3 4 2 4 13 4 4 4-13 4 3 4-5 4-13 4 21 4-17 4-14 4 3 4 0 4 12 4-21 5-3 4 19 4-20 4 16 4-30 4 0 4 1 4 2 4 2 4-9 4 17 4-3 4-14 4 16 5-1 4 7 4-8 4-11 5 17 4-12 4 14 4 21 5-15 4 13 4 11 4-4 5-6 4 7 4-14 4 18 4-6 4-12 4 2 4 10 4-26 4 3 4 10 4 3 4-9 4 0 4-20 4 15 4-3 4-16 4 11 4-10 4 1 4 12 5 1 4-25 4 1 4 16 4 8 4-9 4-10 4 12 4 4 4-26 4-2 4 12 4 7 4-6 4-2 4-10 4-1 4-4 4 10 4-9 5 7 4-6 4-7 4 11 5-16 4 1 4-3 4 5 5 6 4-10 4-21 4 25 5-5 4 5 4-17 4 1 5 2 4 5 4 1 4 20 5 3 4-9 4-4 4 9 5-8 4 5 4 8 4 15 5-3 4-17 4 22 4 8 5-2 4-19 4 14 4 12 5-19 4 12 4 3 4 12 4-7 4-13 5 1 4-14 4 17 4-20 4 10 4-18 4 15 4 0 4-23 4 7 4-10 4 9 4-11 4 18 4-5 4-26 4 3 4 3 4-2 4 14 4 7 4-5 4 2 4-9 4 11 4 13 5-21 4 6 4 11 4 1 4-8 4 19 4 8 4-13 4 17 4 0 4-4 4-11 4 9 4 10 4-4 4-12 4-8 4-1 5 3 4 11 4-13 4 2 4-10 4 6 4-10 4-4 4 3 4 9 4 2 4 2 4-12 4 8 4 6 4-28 4 14 4-10 4 22 5-25 4 5 4 0 4 11 4-2 4-20 4 13 4-5 4-6 4-4 4 12 4 10 4 5 4-24 4 2 4 10 4-2 4-7 4-7 4 20 4-14 4-3 4 6 4-13 4 11 4-12 4 6 4 9 4 2 4 7 4-9 4-18 4 15 4-11 4-2 4 13 5-9 4 18 4-10 4-9 4 0 4-1 4 28 4 1 4-13 4 15 4-4 4 1 4-1 5 4 4-19 4 18 4-4 4-1 4-4 4 14 4 6 4-2 4-17 4 1 4 19 4 0 4-17 4-2 5 25 4 3 4-4 4-8 4-17 4 7 4-1 4 4 4 14 4 0 4-23 4 11 4 10 4 3 4-14 4-11 4 14 4-20 4 19 4 2 4-1 4-5 4-18 4 8 4-10 4-7 4 22 4-24 4 15 4-10 4 7 4-9 4 8 4 7 4-26 4 19 5-5 4 14 4-17 4 21 4-10 4-16 4 6 4 12 4 3 4 11 4-11 4 12 5-7 4-4 4 16 4-7 4-11 4 7 4-7 4 23 4 4 4 3 4-13 4-7 5 15 4 0 4 13 4-16 5 17 4-10 4 5 4 8 5-5 6 139 6-149 5 14 4 0 4-10 4 0 5 12 4-16 4-4 4 0 5 11 4-4 4-1 4 16 1-25 4 20 4-14 4 0 4-4 5 1 4-9 4 1 4 9 4 14 4-28 4 17 4-12 4 3 5-7 4 11 4-11 4-1 4-5 4 8 4 11 4-14 4 11 4-8 4 7 4-4 4 17 4-18 4 21 4-20 4 20 4-10 4 5 4-2 5 10 4 13 4 4 4 6 5-9 4 14 4 15 4-7 4 15 5 3 4-16 4 18 4 0 4 14 5-15 4 24 4 1 4-9 4-3 5-32 4 2 4-9 4 5 4-25 5 20 4-24 4-10 4 4 4-7 5-1 4-16 4 9 4-6 4-1 4 5 4 9 5-27 4 27 4-21 4 6 4 3 4-1 4 7 5-19 4 7 4 4 4-16 4 7 4 8 4-20 5 1 4 7 4 11 4 1 5 10 4 1 4 8 5 12 4 0 4-14 5 4 4 7 4-12 4 4 4-12 4 8 4-9 4 1 4 10 4 0 4-28 4 12 4 3 4-20 4 18 4-18 4 16 4-20 4 5 4 0 4-10 4 11 4-23 4 16 4-1 4 2 4-11 4 4 4-21 4 16 4-22 5 23 4-2 4-30 4 25 4-10 4 1 4 5 4-17 4 4 5 0 4-9 4 5 4 3 4-6 4 0 4-7 4-16 5 2 4 22 4-2 4 5 4-17 4 11 4-13 4 25 4-4 5 0 4 4 4 1 4-24 4 18 4-7 4 6 4-14 4 7 4 13 4-13 4-1 4-1 4-4 4-22 4 9 4 2 4 1 4-15 4-13 4 4 5 16 4-13 4-5 4 29 4-2 4-16 4 19 4-4 4 9 5-19 4 22 4 6 4-3 4 10 4-19 4 13 4-14 4 0 5 6 4 18 4 4 4-1 4-7 4-21 4 21 4 0 5-20 4 0 4 0 4 21 4-22 4 11 4-17 4 5 4 20 5-9 4-9 4 18 4-14 4 19 4-19 4 3 4 25 4-7 4 8 4 16 4-16 4 27 4 0 4-10 4 25 4-15 4-14 4 0 4 8 4 19 5-3 4-19 4 13 4 4 4-7 4-21 4 26 4-14 4-10 5-6 4 22 4-19 4 3 4-3 4 24 4-22 4 15 4-16 4 16 4 1 4 15 4-5 4-4 4-7 4-1 4 11 4-2 4-4 4-2 4 2 5-6 4-6 4 4 4 22 4-2 4-17 4-10 4 9 4 3 5-16 4 9 4-1 4-6 4 6 4-9 4-5 4 2 4 1 5 1 4 3 4 6 4 12 4-11 4-2 4 8 4-1 4-5 4 6 4-2 4 5 4 1 4-14 4 27 5-21 4 21 4-18 4 9 4 0 4 14 4-12 4-16 4 22 4-9 4-10 4 2 4 24 4-11 5-12 4 22 4-7 4 0 4 6 4 6 4-3 4 5 4-20 4 12 4-16 4 4 4 15 4-12 4-9 4 27 4 1 4-6 4-8 4 12 4-1 4 5 4-26 4 9 4-8 4 7 4-1 4-1 4-7 4 19 4-26 4 4 4-3 4 22 4-23 4 3 4 1 4 0 4 12 4-6 4-19 4 31 4-10 4 21 4-11 4 16 4 8 4-12 4 0 4 24 4-16 4 8 4 1 4-4 4-3 4-9 4 11 4 6 4-7 4-10 4-26 4-4 4 20 4-29 4 9 4-1 4 10 4-19 4 8 5-15 4 25 4-11 4 9 4-20 4 24 4-14 4 0 4 11 5-22 4 21 4-8 4-2 4-2 4 2 4-2 4-6 4 2 4-1 4 19 4-2 4 10 4 2 4 12 4-20 4 14 4-12 4 13 4 11 4-11 5-4 4 18 4-16 4 10 4-24 4 20 4-15 4-6 4 16 5-18 4 5 4-10 4 16 4-21 4 18 4-14 4-11 5 4 4-4 4 22 4-2 4-7 4 0 4 1 4 7 4-3 4-5 4-16 4 9 4 4 4 5 5-5 4-6 4-2 4-5 4 20 4-12 4 18 4 0 4-16 4 9 4-20 4 3 4 21 4-14 4 14 5-1 4-1 4-26 4 8 4 15 4-9 4 7 4 12 4-9 4-14 4 17 4 9 4-8 4 10 4 8 4-23 4 8 4 18 4-8 4-13 4 22 4-15 4 4 4-7 4 29 4-13 4-13 4 18 4-8 4 10 4-9 4 14 4 15 4 1 4-11 4 1 4 20 4-7 4-7 4 15 4-1 4 20 4-18 4 13 4-1 4-22 5 9 4-11 4 16 4-30 4-2 4 19 4-12 4-3 4-12 5-11 4 12 4 0 4-6 4-12 4-2 4-1 4 17 4-1 4-23 5 4 4 14 4-16 4 20 4-11 4 14 4-1 4-5 4 6 4-1 4 4 4-20 4 8 4 18 5-19 4 8 4 9 4-2 4 11 4-1 4 14 4 1 4-17 4 11 4 16 4-19 4 25 4-10 5 3 4-2 4-4 4 4 4-8 4-27 4 12 4-14 4-13 5 24 4-10 4-28 4-2 4 7 4 4 4 0 4-25 4-7 5-5 4 7" fill="none" stroke="#0000ff" stroke-width="10.0" stroke-linejoin="round"/>
<path transform="scale(.1)" d="M6688 3751l4 7 5-14 4 6 4 5 4-13 5 4 4-1 4 2 4-26 5-6 4 15 4-17 4-25 5 5 4-27 4-4 4-8 5-16 4 8 4 23 4 15 5 2 4 21 4 21 4-16 5 18 4 6 4 12 4-13 5-5 4-11 4 11 4-6 5-15 4 6 4-23 4-2 5 13 4-27 4 6 4 5 5 28 4 13 4-15 4 22 5 6 4 6 4 6 4 13 5 1 4 32 4-35 4-2 5-10 4-12 4-18 4-12 5 9 4-28 4-3 4-1 5 9 4-14 4-5 4-14 5-3 4 20 4-8 4 11 5-2 4 6 4 1 4 25 5-4 4 0 4-3 4 22 5-4 4-14 4 0 4 21 5-21 4 1 4-11 4 22 5-21 4 8 4 3 4-7 5-7 4-5 4 11 4-14 5 5 4 5 4-7 4-13 5-8 4-18 4 14 4-3 5-22 4-14 4 8 4-8 5 7 4-9 4-15 4 14 5 10 4 16 4 11 4 12 5-2 4 28 4-11 4 17 5 20 4-4 4 28 4-9 5-1 4-8 4 8 4 5 5-17 4 23 4 4 4-15 5 0 4 7 4-6 4 0 5-7 4 1 4-2 4-4 5 23 4 0 4-17 4 27 5 9 4-14 4 18 4-17 5 15 4 8 4-13 4-4 4-6 4 10 4-8 4 4 4 3 4-13 4 4 4-13 4 18 4 0 4-14 4-4 4 11 4-6 4 9 4-3 4-10 5-4 4 1 4-3 4-6 5-2 4-8 4 6 4-9 5-14 4 12 4-12 4-3 5 3 4 4 4-18 4-4 5 3 4 2 4-6 4 1 5-32 4 10 4-9 4-4 5-3 4 7 4 4 4-4 5-18 4 10 4 10 4-14 5-4 4 1 4 6 4-10 5 0 4 0 4 8 4 20 5-14 4 12 4 3 4 20 4 4 4-19 4 7 4 7 4 1 4 14 4 18 4-12 4 12 4-1 4 16 4-11 4 12 4-13 4 12 4-6 4 18 5 8 4-9 4 13 4 10 5-6 4 22 4-35 4 0 5 9 4-10 4-23 4-19 5-5 4-7 4-11 4-7 5-12 4 7 4-35 4 15 5-23 4 20 4 1 4 3 5-9 4 13 4-19 4 9 5-3 4 0 4 35 4-8 5 4 4 28 4 6 4 3 5-9 4-4 4 1 4 15 5 10 4-7 4-11 4-2 5 22 4-2 4-7 4 4 5-16 4 4 4 26 4-31 5 21 4-22 4 14 4-20 5-4 4 15 4 5 4-15 5 9 4-9 4 3 4-12 5 7 4-9 4-7 4 2 5 14 4-23 4 14 4-10 5 23 4-8 4 10 4-13 5 3 4 4 4 1 4-13 4-6 4 12 4-14 4 11 4-12 4 13 4-4 4-13 4 18 4-11 4 13 4-21 4 5 4-5 4 8 4-12 4 6 5-3 4-8 4 22 4-19 5 17 4-9 4-4 4-2 5-4 4-4 4 6 4 19 5-24 4 10 4 0 4-6 4-10 4 20 4-8 4 2 5-6 4 13 4-13 4 4 4-15 4 4 4 5 4 8 4-6 4 1 4-12 4 8 4 0 4-2 4-20 4 17 4 5 5-2 4 0 4-15 4 13 5-5 4 23 4 1 4 13 5-21 4 17 4 17 4 0 5-23 4 6 4 17 4-22 5 5 4-14 4 22 4-2 5-16 4-11 4 6 4 7 5 8 4-12 4-3 4-7 4 6 4 0 4 15 4-12 4 11 5-18 4-3 4 3 4 0 4 24 4-14 4-5 4-7 4 5 5 14 4 0 4-3 4-8 4 16 4-14 4 14 4-24 4 28 5-12 4 10 4 4 4-26 4-2 4 8 5-2 4 16 4-5 4 2 5 11 4-18 4 10 4-11 5 11 4 12 4-27 4 16 5 11 4-1 4-16 4 17 5-8 4 7 4-12 4 22 5-1 4-6 4 1 4-1 5 25 4-11 4-2 4 24 4-24 4 5 4-10 5 4 4 7 4-8 4 19 4-21 4 17 4-10 4 7 4 2 4 2 4-1 4-7 4-18 4 4 4 5 4 15 4-15 4 4 5-29 4 23 4-6 4-5 5-20 4-5 4 2 4 2 5-27 4 12 4 12 4 4 5-11 4-12 4 25 4-5 5 4 4-8 4 16 4-1 5-16 4 23 4 6 4-19 4 3 4-9 4-7 4 25 4-8 4-18 4 23 4-12 4 2 4-12 4-2 4-6 4 4 4 10 4-20 4-4 4 5 5-3 4 13 4-2 4-9 5-20 4-11 4 23 4-15 5 7 4-11 4-25 4 13 5-19 4-1 4 12 4 3 5-10 4 12 4-10 4-16 5-3 4 24 4-9 4 3 1-15 4 6 4 0 4 16 4-20 4-3 4 4 4 8 5 14 4-9 4 4 4-14 4 24 4-1 4-12 4 10 4 2 4-18 4 24 4-6 4-21 4 15 5 1 4 5 4 0 4-15 4 6 4 13 4-6 4-12 4 12 4-20 4 10 5 2 4-18 4-1 5 1 4-23 4 19 5-8 4-22 4 8 5-3 4-16 4-8 5 18 4-3 4-12 7-115 6 136 4 10 4-9 4 23 4-8 4 14 4-17 4 15 4-2 4 11 5-2 4-8 4 29 4-1 4 15 4 11 4 5 4 5 4 29 4-13 4 26 4 14 4 18 4 14 4-15 4 37 4-9 4-2 4-25 5 4 4 1 4-27 5-8 4-26 4 10 5-21 4 19 4 17 5 23 4 30 4 14 5 1 4-58 4-50 5-61 6-147 5 49 5 51 5 41 5 27 4-3 4 18 4-18 4 6 4 8 5-2 4 2 4-6 4 8 4 0 4 8 4 2 4 2 4-21 5 26 4-6 4 0 4 2 4 11 4-9 4-1 4 5 4-4 5 0 4 5 4 6 4-19 4 0 4 1 4 18 4-6 4 12 5 2 4-19 4 18 4-9 4 18 4-3 4-9 4-2 5 2 4 0 4-7 4 5 4-17 4 12 4-2 4-11 4 4 5 6 4 10 4-5 4-15 4 15 4-24 4 18 4-16 5-9 4 14 4-17 5-5 4 17 4-22 5 3 4 6 4-11 5-10 4 3 4-4 4 11 4-13 4 9 4-6 5-7 4 10 4-12 4 20 4-20 4-2 4 18 5-10 4 5 4 6 4 0 4-4 4-14 4 25 5-1 4-17 4-1 5-20 4 20 4-8 5-21 4 14 4 4 4-2 4 22 4-8 4 11 4 30 4 4 4-12 4 35 4-2 4 4 4 16 4-26 4 13 4-8 4 9 4-19 4-7 4 15 4-8 4-22 4-7 4-5 4 19 4-22 4-13 5 9 4-7 4 2 5-23 4-13 4 2 4 14 4 6 4-15 4 23 4-7 4 4 4 2 4 6 4-23 4 7 4 18 4 1 4-7 4 9 4 3 4-13 4 13 4-22 4 26 4-24 4 25 4-10 4 5 4-5 4 6 4-9 4 20 4 4 4-16 4 12 5-12 4 17 4-13 4-1 4-2 4 25 4-17 4 14 4 7 4-2 4 6 4 0 4-21 4 7 5 17 4-3 4 3 4 7 4-13 4 15 4-5 4-1 4 15 4 1 4-24 4 2 4 25 5-5 4-24 4 22 4-22 4-5 4-1 4 5 4-5 4 3 5 1 4-5 4-6 4-16 4 21 4-7 4-8 4 3 4-10 5 1 4-12 4 20 4-28 4 25 4-18 4 16 4-3 4-12 4-2 4-3 4-7 4 12 4-18 4 1 4 14 4 10 4-14 4-12 4 1 4 22 4-20 4-2 4 25 4-2 5-12 4 3 4 8 4-6 4-8 4 10 4 8 4-11 4-2 4-4 4 22 4-15 4-1 4-7 5-2 4 1 4 14 4-11 4 3 4-7 4 11 4 20 4-16 4 14 5 8 4-4 4-9 4 2 4 32 4-17 4 4 5 13 4 2 4 15 4-3 4-14 4 2 4 9 5 17 4-8 4 25 4-13 4 20 4-10 4-10 4-8 4 10 4-25 5-2 4 15 4-3 4-8 4-3 4-11 4 1 4-6 4 10 4-7 4-4 4-20 5 4 4-5 4 6 4 12 4-21 4 18 4-18 5 5 4-23 4 17 4 1 4 3 4-5 4-19 5-5 4 4 4-13 4 5 4 14 4-14 4 1 4-5 4 26 4-8 4 0 4 8 4 9 4 14 4-16 5 29 4-11 4 6 4 10 4 4 4 12 4-17 4 15 4-1 4-24 4-3 5 20 4-16 4 10 4-7 4-3 4-2 4 13 5-11 4 3 4 1 4 2 4-24 4 15 4-9 5 3 4-5 4-3 4-3 4 5 4 0 4-10 4-16 5-3 4 15 4-20 4 3 4 7 4-8 4-8 4-2 4 12 5-26 4 5 4-4 4-10 4 26 4-6 4-4 4 21 4-21 5 19 4-9 4 6 4-4 4 10 4 1 4 21 4-5 4-15 5 22 4-18 4 16 4-4 4 7 4 9 4-13 4-10 5 25 4-5 4-12 4 16 4-7 4-6 4 0 5 8 4-5 4 0 4-9 4 1 4-15 5 15 4 8 4-21 4 20 4-1 4-12 4 6 4-15 4 26 5 2 4 6 4 6 4-13 4 3 4 15 4-1 4 9 4-7 4 11 4 0 4 8 4 2 4 7 5-21 4-6 4 1 4-9 4 0 4 15 4-5 4 4 5-24 4 10 4-3 4-6 4-3 4-19 4 9 4-1 4 12 5-20 4-5 4 15 4 2 4 6 4-5 4-12 4 19 4-4 5 3 4 6 4-3 4 1 4 9 4-18 4 6 4 22 4-13 5 8 4-1" fill="none" stroke="#ff0000" stroke-width="10.0" stroke-linejoin="round"/>
<path transform="scale(.1)" d="M6688 4411l4 1 5 7 4-21 4-2 4 12 5-10 4-7 4 0 4-5 5-4 4 21 4 12 4-5 5 1 4-9 4 6 4-8 5 25 4-14 4 3 4 29 5-27 4 23 4-15 4 3 5-6 4-19 4 18 4-19 5 4 4-12 4-4 4 10 5-15 4 12 4 16 4 5 4-23 4-13 4 8 5-11 4 5 4 14 4-1 4-23 4 17 4-4 4-2 4-10 4 9 4-12 4 21 4-2 4-2 4-9 4 20 4-24 4-7 5 8 4 21 4-27 4 24 5 8 4-3 4-13 4 0 5 17 4-5 4 5 4-23 5 16 4 5 4-20 4-1 4 24 4-11 4-6 4 2 4-9 4-1 4-5 4 11 4-10 4 28 4 2 4-15 4-19 4 19 4-17 4 10 4-8 5 16 4-15 4 10 4-1 5 11 4 19 4-12 4 10 5-1 4-6 4-13 4 5 4 7 4 19 4-2 4 27 4-23 4 2 4 24 5 4 4-17 4 5 4-2 4 9 4-7 4-3 4-18 4 9 4-23 4-13 4-12 4 21 4-6 5-1 4 15 4-12 4-12 5 16 4 9 4-27 4 30 5-19 4-11 4 16 4 11 5-10 4-8 4 18 4-26 4 20 4-13 4 9 4-6 4-9 4-4 4 22 5-15 4-8 4 11 4 5 4-27 4 13 4-13 4 23 4-29 4 29 4-12 4-3 4 0 4-9 5 8 4-9 4 8 4 11 5 1 4-9 4 12 4 8 5 1 4-28 4 20 4-11 5 26 4-8 4-3 4 9 5-1 4-9 4 30 4-30 5 2 4 12 4-3 4 11 5 12 4-6 4 21 4-25 4 22 4 1 4-18 4 9 5-29 4 32 4-20 4-5 4 21 4-20 4-13 4-4 4 29 4-25 4 16 4-21 4 26 5 5 4-24 4 15 4 3 4-26 4 8 4 19 4-3 4-16 4-1 4-21 4 30 4 3 4-16 4-13 4-5 4 18 4 1 4-4 4 8 4-32 4-2 4 3 4 7 4-11 5 8 4 0 4 24 4-10 5-11 4 13 4-13 4 33 5-33 4 7 4 13 4 14 4-6 5-16 4 21 4 8 4 11 4-8 4-11 4 25 4-2 4 11 4-23 4 28 4-10 4-7 4 5 4-3 4 34 4-25 4 22 4-17 4-1 4 2 4 17 4-31 4 10 4-4 4 5 4 3 4 8 4-11 4 7 4-1 4-4 4-32 4 0 4 16 4-14 4 4 4 6 5 0 4 9 4 0 4-22 4 13 4-4 4-1 4 10 4-1 4 0 4-13 4-12 4 19 4-13 4 2 4-8 4-2 4 14 4 20 4-13 4-14 4 26 4-28 4 18 4-23 4 34 4-2 4-3 4-17 4 2 4 2 4 16 4-13 4-12 4 25 4-19 4 12 5 9 4-5 4-24 4 28 5-13 4 22 4-23 4-7 5-1 4 35 4-21 4-14 4 19 4 18 5-27 4 28 4 4 4-29 4 1 4-1 4-1 4-3 4 9 4 23 4-12 4 0 4 9 4-18 4 26 4-19 4 11 4-13 4 0 5-6 4 8 4 0 4-15 5 27 4-21 4 11 4-20 5-7 4 34 4-29 4-9 4 34 4-20 4-16 4 23 4-12 4 23 4-6 4-7 4 1 4-15 4 22 4 0 4-27 4-8 4 0 4 17 4 3 5 9 4 6 4-18 4 5 5 0 4 21 4-24 4-1 5 5 4 30 4-27 4 34 5-29 4 4 4-7 4 30 4-34 4 3 4 20 4-8 4-4 5 2 4 16 4-28 4 15 4-13 4 11 4-5 4 1 4-4 5-12 4 7 4 20 4-13 4-10 4-1 4 23 4-20 4 28 5-16 4-18 4 10 4 11 4 14 4-3 4-26 4 15 4-2 4 12 4-27 4 13 4 2 4-3 4-1 4-17 4 6 4 30 4-25 4 25 4-36 4 0 4 32 4-25 5 18 4-35 4 20 4 5 4-25 4 20 4-9 4 1 4-20 4-11 4 5 4-6 4-6 4 22 4-31 4 14 4-9 4-3 5-2 4-4 4 14 4-7 4 9 4-18 5 13 4 12 4 2 4 8 5-26 4 6 4 30 4-12 5-4 4 12 4-7 4 25 5-10 4 18 4-12 4 23 5-35 4 34 4-27 4 17 5-8 4 9 4 21 4-24 4 7 5 5 4-16 4 16 4-7 4 25 4-2 4-15 4 16 4-31 4-3 4 15 4 19 5 1 4 3 4-6 4-16 4 15 4-1 4-9 4 12 4-3 4-20 4-5 4 7 5 22 4-14 4-3 4 16 5-20 4 3 4-4 4 30 5-25 4 6 4 7 4-14 5 57 4 26 4 4 4-2 5 23 4-28 4 3 4 14 5-24 4 5 4-8 4 8 1 4 4 3 4-22 4 16 4-17 5 30 4-25 4 10 4-11 4 12 4-9 4-9 4-2 4 27 5-17 4-4 4 22 4 5 4-21 4 12 4 12 4-3 5-16 4 8 4-5 4 5 4 6 4-29 4 6 4 20 4-27 5 0 4 19 4-20 4 9 4-20 4 33 4-16 4-20 4 6 5 2 4 20 4 10 4-1 4 10 4 7 4-9 5 3 4 9 4 6 6 137 5-58 4-56 4-38 5 4 4-10 4-12 4 6 4-1 4-14 4 24 4-33 4 29 4-25 4 1 4 21 4-20 4 5 5-23 4 15 4 4 4 0 4-7 4-11 4 1 4 4 4 24 4-12 5 19 4-5 4-9 4 6 4 4 4 6 4-29 4 14 5-12 4 25 4-9 4-17 4-58 5-2 4 11 4 38 5 46 4 80 4 70 5 106 4-66 5-84 4-78 4-3 4-4 4 8 4 2 4 9 4-13 4 1 4 17 4-4 4-23 4 15 4-5 4-2 4 11 4-11 4 12 4-14 4 5 4-3 4 19 4-17 4 24 4-22 4-4 4-1 4 29 4 2 5 7 4-1 4 35 5-7 4 38 4-31 5-28 4-33 4 19 4-11 4-7 4 13 4 3 5 7 4-7 4 2 4-18 4 26 4-10 4-11 4 25 4-27 4 16 4 16 4 1 4-18 4 19 4 0 4-19 4-9 4 0 4 32 4-33 4 19 4-2 4-9 4 6 4-11 4 6 4 11 4-18 4 6 4-14 4 20 4-10 4 7 4-20 4-10 4 29 4-35 5 9 4-2 5-15 4-30 4 28 5-13 4-36 4 4 5 2 4-1 4 30 5 48 4-16 4 12 4-6 4 3 4-17 4 17 4-26 4 11 4 25 4-3 4-29 4 22 5 12 4-4 4 1 4-27 4 23 4-5 4-21 4 8 4 23 4-28 4 16 4-11 4 28 4-9 5-9 4-5 4 18 4 4 4-4 4-3 4-9 4 3 4-11 4-1 4 10 4 5 4-20 4 15 4-1 5 20 4-23 4 17 4 5 4 2 4-10 4 13 4 2 4-34 4 7 4 19 4-6 4-7 4-2 5 21 4-29 4 35 4-34 4 17 4 2 4 16 4-21 4 7 4-17 4 8 4-16 4-8 4 20 4 3 4-13 4 12 4-32 4 18 4-12 4 3 4-7 4-3 4 11 5 2 4-8 4-14 4 28 4-31 4 1 4 16 4-5 4 10 5-22 4 20 4-21 4 14 4 15 4-18 4 2 4 11 4-16 5 15 4-16 4 20 4-12 4 8 4 11 4-12 4 1 4 4 4 10 4-32 4 3 4 16 4 5 5-30 4 15 4-5 4-6 4 16 4-10 4 0 4 23 4-21 4 7 4 15 4-6 4-19 4-5 5 0 4 21 4-23 4 23 4 0 4-28 4 30 4-6 4-23 4 2 4 19 4 1 4-17 4 21 5 3 4-23 4 8 4-7 4-5 4 20 4-17 4 12 4-3 4-11 4-6 4 24 4 7 4-4 5 3 4-14 4 0 4 3 4-4 4 15 4-10 4-23 4-2 4-1 5 6 4 4 4 8 4-4 4 1 4 5 4-16 5-9 4 0 4-7 4 4 4-6 4 11 4 5 5 6 4-21 4 19 4 0 4-24 4 27 4-9 4 9 4 9 4-23 4 3 4 0 4 25 4-11 5-11 4 1 4 2 4 11 4 25 4 1 4-10 4-10 4 12 4 1 4-14 4 18 4-6 4 1 4 15 4 7 4-16 4-1 4 12 4 16 4-10 5 9 4-31 4-1 4-9 4 10 4 0 4 1 4-3 4 4 5 8 4-36 4 27 4-18 4 10 4-18 4-8 4 13 5 8 4-31 4 0 4 32 4-17 4-17 4 20 4 16 4-17 4 5 4-19 4 22 4-5 4 6 4-25 4 5 4 13 4 1 4 8 4-19 4 7 4 21 4-4 4-20 4 12 4-18 4 18 4 5 4 8 4-7 4-15 4 19 4-26 4 32 4 1 4-1 4-24 5 19 4-18 4 2 4 27 4-34 4 4 4 27 4-4 4 3 4-17 4 5 4 20 4-9 4 9 4-29 5 3 4 10 4 11 4 7 4-3 4-23 4 2 4 26 4-1 4-3 4 2 4-20 4-5 4-1 5 14 4 0 4-8 4 12 4 6 4 5 4-31 4 10 4 5 4 20 4-11 4-7 4 1 4-10 5-6 4 14 4 13 4-29 4 34 4-36 4 3 4 2 4 23 4-20 4 20 4 5 4-31 5 12 4-17 4 24 4 6 4-31 4-1 4 14 4-16 5-7 4 21 4-25 4 4 4 7 4-14 4 12 4-11 4 27 4-6 5 1 4 4 4-16 4-7 4-10 4 23 4 6 4-17 4 19 4-21 4 14 4 4 4-22 4 27 5-24 4 16 4-11 4 4 4-5 4-10 4 25 4-16 4 15 4-16 4 16 4-8 4 5 4 8 5-28 4 15 4-6" fill="none" stroke="#000000" stroke-width="10.0" stroke-linejoin="round"/>
<path transform="scale(.1)" d="M6688 4423l4-22 5 18 4-21 4 4 4 9 5-16 4 2 4-11 4 18 5 4 4-19 4 2 4 11 5 4 4 9 4-8 4 9 5-9 4 4 4 0 4 14 5-1 4 0 4 6 4-18 5 0 4 1 4 11 4-18 5-3 4 2 4 5 4-12 5-4 4 12 4-5 4-1 4-16 4 6 4-5 5 6 4 13 4 1 4-4 4-13 4 4 4 7 4-15 4 1 4 7 4-10 4 2 4-4 4 11 4-8 4-12 4-3 4 15 5-12 4 15 4-10 4 9 5-4 4 9 4-12 4 8 5 7 4-9 4 20 4 1 5-1 4-1 4 0 4-10 4 6 4-11 4-9 4 22 4-1 4-17 4 2 4-4 4 13 4-15 4 16 4-20 4 9 4 10 4-8 4-8 4-1 5 18 4-14 4 7 4 10 5-6 4-5 4 21 4 0 5-2 4-11 4 14 4 17 4-7 4-2 4 23 4-11 4 9 4-5 4 23 5 0 4 1 4-7 4-10 4-2 4-5 4-18 4 12 4-5 4-25 4-3 4 10 4-16 4-4 5 15 4 8 4-15 4 7 5 0 4 1 4 2 4 9 5-1 4 2 4-5 4 3 5 1 4 0 4-2 4 1 4-20 4 2 4 11 4-7 4-6 4 10 4-13 5 13 4-12 4 14 4-17 4 16 4-18 4 11 4-18 4 8 4-5 4 12 4-5 4-5 4-10 5 12 4-6 4-3 4 17 5-3 4 14 4-3 4-20 5 25 4-10 4 14 4-17 5 6 4 7 4-9 4 7 5 0 4 3 4 8 4 2 5 12 4-14 4 3 4 4 5-5 4 11 4 0 4-8 4 10 4-12 4 17 4 3 5-10 4-11 4-3 4-3 4 2 4 16 4-3 4 2 4-14 4 4 4 3 4-3 4-1 5-17 4 24 4-12 4-9 4 1 4 10 4 3 4-24 4 4 4-6 4 15 4-2 4-1 4-12 4 5 4 11 4-16 4-4 4 0 4 14 4-16 4 11 4-3 4 4 4-20 5 7 4 18 4-11 4-10 5 2 4 3 4 14 4-8 5-5 4 5 4 15 4-1 4-2 5-3 4-1 4 4 4 23 4-3 4-12 4 23 4 7 4-10 4 16 4-11 4 3 4 5 4 6 4 0 4 0 4-1 4 9 4 6 4 6 4-6 4-7 4-4 4-8 4 12 4 1 4-13 4 8 4 1 4-14 4-11 4 20 4-10 4-13 4 12 4-1 4-2 4 0 5-3 4-13 4 22 4-7 4 5 4-9 4 4 4-6 4 7 4-18 4 6 4 11 4-11 4 4 4-5 4 11 4-17 4 4 4-6 4 0 4 9 4 14 4-20 4 11 4 4 4-1 4-18 4 0 4 18 4-13 4 15 4-4 4 8 4-15 4 11 4-17 4 3 5 4 4 1 4 6 4-6 5-3 4 10 4 1 4 10 5-5 4-2 4-5 4 14 4 5 4-20 5 6 4 13 4-12 4-3 4 5 4 20 4-20 4 0 4 16 4-13 4 18 4-13 4 6 4 2 4 11 4 2 4-17 4 0 4-7 5 0 4 17 4-17 4 5 5-1 4-8 4-8 4-3 5 5 4 15 4-18 4 1 4 16 4-1 4-22 4 17 4-9 4-1 4 9 4-22 4 13 4 9 4 1 4-5 4-8 4-7 4 18 4-26 4 2 5 7 4 20 4-13 4 15 5-19 4 7 4 2 4-5 5 23 4 2 4-2 4-6 5 8 4 2 4-11 4 4 4-12 4 23 4-23 4 4 4 18 5-22 4 3 4 6 4 15 4-3 4-18 4 12 4-12 4 4 5 12 4-17 4 1 4 17 4-18 4-4 4 11 4-5 4 1 5-4 4 12 4 7 4-21 4 0 4-3 4 13 4-13 4 3 4 16 4 3 4-11 4 11 4-17 4 11 4 1 4-3 4-7 4-4 4 0 4 16 4-2 4-4 4 2 5-22 4 17 4-8 4-2 4-15 4 15 4-19 4-2 4 13 4-15 4 1 4 0 4-2 4-12 4-12 4 7 4-13 4 5 5-13 4 19 4-18 4 12 4 1 4-3 5 2 4-6 4 26 4-17 5 7 4 11 4-3 4 16 5 7 4-7 4 16 4-17 5 15 4 10 4-22 4 19 5 0 4 6 4-1 4 8 5-13 4 9 4-12 4 2 4 19 5-10 4 10 4-15 4 14 4 9 4-1 4-7 4-16 4 11 4 6 4-4 4 7 5-10 4 11 4-1 4-2 4-8 4 6 4 0 4-10 4 2 4 12 4-11 4 19 5-23 4 3 4 4 4-5 5 2 4 5 4 17 4-14 5 5 4-11 4 7 4 15 5 30 4 18 4 38 4-2 5-15 4-5 4 11 4-21 5 11 4-17 4 15 4-4 1-13 4-6 4 24 4-11 4 7 5-12 4 8 4-12 4 2 4 14 4-14 4 1 4 12 4-12 5 19 4 1 4-9 4 6 4 1 4-18 4 5 4 2 5 8 4-20 4 19 4-12 4 8 4-15 4-2 4-2 4-1 5 15 4-17 4 0 4 4 4-10 4 8 4 4 4 0 4 5 5-12 4 4 4 10 4 3 4 17 4-14 4 12 5-8 4 17 4 1 6 132 5-55 4-33 4-55 5 4 4-11 4 4 4-9 4-8 4 9 4-13 4 12 4-4 4 9 4-25 4 18 4-6 4-11 5 2 4 13 4-9 4 3 4-6 4 15 4-3 4-14 4-2 4 6 5 4 4 0 4 7 4-10 4 0 4 10 4-10 4 19 5-15 4-2 4 13 4-34 4-21 5-33 4 38 4 39 5 40 4 65 4 73 5 76 4-65 5-55 4-74 4 0 4-15 4-1 4 5 4-6 4 1 4 19 4-7 4 0 4-3 4-7 4 2 4 20 4-3 4-13 4 19 4-2 4-9 4 13 4-15 4 5 4-5 4-2 4 6 4-7 4 0 4 29 5 11 4 5 4 13 5 0 4 13 4-26 5-24 4-7 4-11 4 19 4-1 4-18 4 12 5 8 4-18 4 1 4 20 4 0 4-16 4 12 4-5 4 16 4-8 4 1 4-14 4 10 4 14 4-3 4 2 4-12 4 17 4-8 4-6 4 5 4 0 4 7 4-10 4 9 4-12 4 0 4-7 4-1 4 14 4-11 4 5 4-8 4-16 4-1 4 0 4-3 5 0 4-15 5-8 4-15 4-4 5 2 4-5 4-26 5-11 4 46 4 16 5 7 4 12 4-7 4 20 4-2 4 1 4-17 4-1 4-1 4 14 4-11 4-1 4-1 5 11 4-13 4 1 4 5 4 18 4-20 4 17 4-5 4-15 4 23 4-16 4 17 4-22 4-2 5 8 4 14 4-21 4 17 4-1 4-10 4 15 4 5 4-15 4-4 4 18 4-3 4-1 4 3 4-7 5 5 4 0 4 1 4 3 4-5 4 10 4-2 4-22 4 4 4-3 4 20 4 1 4 2 4-14 5 16 4-21 4 2 4 9 4 9 4 3 4-3 4-18 4 17 4-6 4 0 4 3 4-17 4 1 4-4 4 4 4 0 4-10 4-5 4-6 4 3 4 6 4-25 4 9 5 8 4-8 4-3 4 19 4-21 4 17 4-2 4-1 4 0 5 11 4-24 4 16 4 7 4-20 4 11 4-10 4 21 4-20 5 18 4-8 4-9 4 10 4-7 4 1 4 3 4 4 4-8 4-6 4 20 4-15 4 10 4 4 5-1 4-3 4-7 4 1 4 5 4-3 4 1 4-13 4 15 4-8 4-11 4 6 4 16 4-2 5-5 4-15 4 22 4-20 4 16 4-10 4 7 4-8 4 7 4-12 4 5 4 3 4 0 4 5 5-1 4-17 4 20 4 0 4-13 4 2 4 12 4-18 4-5 4 10 4 0 4-10 4 1 4 13 5-3 4-9 4 2 4 6 4-5 4 4 4-14 4 1 4 10 4-9 5-3 4 18 4-11 4 0 4 9 4-1 4-6 5-6 4 3 4-18 4 19 4-23 4 15 4 7 5-7 4-2 4-6 4-12 4 18 4 0 4-12 4 4 4 2 4 17 4 0 4-8 4 14 4-7 5 1 4-5 4 0 4 20 4 0 4-14 4 19 4-12 4 13 4 1 4 6 4-11 4-5 4 23 4-11 4 5 4-3 4 20 4-12 4 10 4-19 5 7 4 0 4 8 4-19 4 13 4-5 4-6 4-1 4-4 5 1 4-19 4 15 4-9 4 3 4-18 4-2 4 4 5 9 4 3 4-21 4 1 4 17 4-3 4-2 4-9 4-3 4 2 4 17 4 3 4-9 4 1 4-1 4-10 4 19 4-12 4 15 4-13 4-12 4 2 4 3 4 2 4 17 4-18 4 14 4-1 4-10 4 13 4-12 4 16 4-9 4 3 4 9 4-11 4-2 5-2 4 18 4-5 4-12 4 3 4-6 4 6 4 4 4-8 4 5 4-4 4 18 4 4 4-21 4 21 5-6 4 10 4-21 4 6 4 19 4-16 4 10 4-11 4 17 4-9 4 0 4 9 4-4 4-3 5 7 4 1 4-25 4 20 4-20 4 6 4-1 4-2 4 5 4 11 4 1 4-9 4 11 4-12 5 14 4-13 4 5 4-5 4-11 4 5 4-5 4 22 4-15 4 2 4 9 4-1 4-2 5-17 4 18 4-4 4-3 4-11 4 4 4 2 4-10 5 3 4-13 4 22 4-12 4-6 4 12 4-21 4 13 4-1 4 2 5-17 4 13 4-12 4 21 4-2 4 0 4-6 4 5 4-18 4-5 4 23 4-22 4-2 4 6 5 19 4-6 4-20 4 19 4-3 4-2 4-7 4 15 4 2 4-24 4 1 4 20 4-20 4 5 5 2 4 12 4-10" fill="none" stroke="#00ee00" stroke-width="10.0" stroke-linejoin="round"/>
<path transform="scale(.1)" d="M6700 5487l4-31 3 81 4-56 3-21 4-3 3 35 4 39 3-59 4-14 3 16 4 70 3 6 4-29 3-51 4 59 3-54 4 10 3 0 4 19 3 36 4-76 3 13 4 26 3-39 4 53 3 8 4-66 3 43 4 3 3-19 4 56 3-37 4-37 3 8 4 7 3 59 4-34 3-4 4 0 3-8 4 23 3 3 4-66 3 5 4 54 3 31 4-35 3-8 4-38 3 53 4 11 3-43 4-29 3 30 4-7 3-14 4 36 3-23 4 49 3-18 4-20 3 10 4-8 3 51 4-86 3 4 4-22 3 53 4-43 3 60 4 37 3-168 4 68 3 65 4 12 3-48 4-33 3 109 4-16 3-22 4-18 3-40 4 75 3-12 4-35 3 29 4-34 3 9 4 41 3-66 4 45 3 22 4-42 3 62 4 2 3-42 4 1 3 21 4 14 3-56 4-47 3 67 4-12 3-33 4 57 3-47 4-32 3 48 4 13 3-9 4 39 3-22 4 35 3-31 4-50 3 68 4-53 3 62 4 1 3-33 4-12 3 21 4-24 3 41 4-14 3-14 4-36 3 17 4-7 3 64 4-48 3-42 4 54 3 37 4-86 3 87 4-29 3-19 4-22 3 57 4-77 3 47 4 23 3-7 4-51 3-3 4 86 3-1 4-54 3-36 4 80 3 0 4-7 3-35 4-37 3 66 4-57 3 19 4-20 3 62 4-69 3 70 4-57 3 39 4-70 3 31 4 48 3 29 4-73 3 52 4-59 3 19 4-23 3 64 4-49 3-28 4 66 3-61 4 83 3-14 4 22 3-10 4-4 3-46 4 46 3-20 4 33 3 0 4 3 3-42 4 2 3 13 4 18 3-30 4-45 3 56 4-32 3-6 4 11 3-23 4 66 3-85 4 33 3 18 4-24 3 22 4-5 3 13 4 13 3-62 4 42 3-41 4 81 3-54 4 40 3-14 4-46 3 24 4 42 3-69 4 28 3 21 4-63 3 54 4 5 3-26 4 9 3 14 4-15 3-6 4 34 3-66 4 39 3 34 4-77 3 53 4-110 3 59 4 73 3-61 4 8 3-75 4 137 3-62 4 32 3-2 4 11 3 34 4-47 3-29 4 50 3-37 4-11 3 26 4 29 3-11 4 31 3-52 4 9 3 10 4 13 3-12 4 14 3-36 4 28 3-48 4-61 3 128 4-91 3 4 4-8 3 38 4-31 3 50 4 5 3-19 4-23 3 25 4 40 3-22 4-10 3 42 4-36 3-43 4-8 3 10 4 31 3-9 4 43 3-3 4 17 3-74 4 58 3 18 4-89 3-21 4 91 3 9 4-26 3-8 4 30 3-10 4 21 3-10 4-65 3 53 4-1 3-14 4-51 3 59 4-12 3 43 4-37 3 42 4-23 3-66 4-3 3 78 4-39 3-18 4 19 3 13 4-84 3 64 4-12 3 26 4-41 3 61 4 6 3-37 4-9 3-89 4 131 3 18 4-60 3 31 4-40 3 8 4 12 3 32 4-179 3 145 4 27 3-49 4 7 3 32 4-43 3-16 4 92 3-75 4 45 3-1 4 22 3-73 4-9 3 60 4-7 3 39 4-75 3 12 4 56 3-81 4 84 3-20 4 0 3-11 4 35 3-84 4 25 3 48 4-76 3-8 4 52 3 43 4-6 3-51 4 58 3-82 4 30 3 22 4-58 3 8 4-17 3 42 4 17 3 1 4-11 3-53 4 93 3-37 4-14 3-7 4 10 3 11 4 11 3-1 4-8 3 24 4 2 3-11 4-24 3 30 4-69 3 52 4-65 3 47 4-24 3 46 4 2 3-41 4-14 3-17 4 101 3-21 4-87 3 90 4-11 3-70 4 53 3-46 4 70 3-30 4-8 3 45 4 0 3-75 4 29 3 30 4-19 3-4 4 42 3-26 4 8 3-83 4 101 3-119 4 112 3-55 4 42 3 13 4-55 3-32 4 97 3-71 4 48 3-27 4-19 3-18 4-1 3 40 4 6 3 34 4-12 3 0 4-12 3-18 4-13 3-31 4 61 3-41 4 24 3 44 4-37 3 25 4-45 3-41 4 37 3 25 4 30 3-68 4 30 3-3 4-29 3 14 4 18 3-44 4-28 3 66 4 24 3 4 4-39 3-44 4 55 3-44 4-101 3 96 4 70 3 11 4 1 3-13 4-56 3 41 4-64 3 22 4 44 3-9 4 7 3 20 4 18 3-53 4 55 3-49 4 3 3 52 4-39 3-6 4 2 3-38 4 31 3-8 4-8 3 13 4 67 3-81 4 79 3-35 4-3 3 25 4-62 3 55 4-5 3-18 4-9 3-14 4 14 3-8 4 24 3-17 4 22 3-31 4 31 3-15 4-16 3 5 4-22 3 61 4-70 3 28 4 63 3-37 4-9 3-8 4 45 3-39 4 42 3-44 4-50 3 59 4 15 3-74 4-13 3 80 4-81 3 29 4 29 3-48 4-33 3-20 4 92 3 24 4-98 3-4 4 38 3 5 4 1 3-150 4 138 3-201 4 155 3 55 4-77 3-20 4-284 3 342 4-29 3 61 4 60 3-4 4 13 3-3 4-368 3 370 4-21 3-144 4 33 3-29 4 42 3 107 4-5 3 10 4-11 3-160 4-115 3 155 4-65 3 198 4-117 3-34 4 149 3-165 4 69 3-88 4-66 3 144 4 101 3-161 4 119 3-83 4-26 3 70 4-284 3 294 4-157 3 37 4 66 3-46 4 160 3-64 4-49 3 125 4-115 3 107 4 12 3-127 4 114 3-85 4 16 3-74 4-35 3 169 4-116 3 34 4 61 3-45 4-11 3-55 4 56 3-49 4 48 3-24 4 54 3-84 4-84 3 88 4-6 3 5 4-5 3 106 4-67 3 56 4 2 3 29 4-63 3-23 4 18 3 33 4-100 3 133 4-135 3 161 4-18 3-95 4 18 3-68 4 13 3 0 4-19 3-55 4 57 3 163 4-252 3 134 4-1 3-48 4 121 3 18 4 12 3-220 4 210 3-44 4-82 3 30 4 34 3-26 4-12 3 80 4-354 3 345 4 2 3 64 4-137 3 132 4-40 3-115 4-3 3 37 4-36 3 47 4-25 3-373 4 379 3 14 4-21 3 69 4-52 3 41 4-253 3 165 4 15 3 156 4-128 3-131 4 150 3-67 4 19 3-5 4-52 3 216 4-125 3-240 4 162 3 68 4-325 3 270 4 61 3 12 4-73 3 114 4 73 3-117 4-2 3 117 4-11 3-142 4 158 3-24 4-383 3 306 4-204 3 202 4-65 3-10 4 67 3-201 4 129 3 65 4-160 3 251 4 29 3-43 4 21 3-130 4 113 3-118 4-13 3 11 4 64 3-73 4 163 3-145 4-31 3 9 4 51 3-65 4 5 3 39 4 114 3-253 4 189 3 50 4-102 3-42 4 50 3-10 4 125 3-158 4 113 3 24 4-145 3-1 4 153 3-88 4 41 3-21 4 16 3-90 4 56 3 61 4-23 3-87 4-45 3 76 4 46 3 5 4 57 3-114 4 129 3-348 4 168 3-101 4 87 3 146 4-25 3-62 4-229 3 180 4 39 3-34 4 108 3-43 4 8 3 79 4-231 3 99 4 84 3-48 4-59 3 195 4-160 3 1 4 112 3 21 4-93 3-34 4 129 3-119 4-8 3 41 4-62 3-9 4 131 3-24 4 46 3-168 4 188 3-161 4-4 3 69 4-84 3 39 4 132 3-227 4 184 3-46 4 95 3 6 4-128 3 113 4-103 3 33 4-87 3 134 4-55 3-32 4-57 3-8 4 5 3 35 4 38 3 85 4-182 3 183 4-28 3-298 4 232 3 45 4 30 3-94 4 88 3-95 4-42 3 17 4 71 3 46 4-115 3 111 4-45 3 72 4-88 3-10 4 59 3-79 4 143 3-112 4 88 3-122 4 128 3-109 4-12 3 144 4-214 3 189 4-169 3 204 4-8 3-115 4 117 3 30 4-22 3-47 4-7 3-18 4 46 3 55 4-119 3 70 4 45 3-65 4-102 3 97 4 67 3-105 4 93 3-85 4 77 3-19 4-42 3 74 4-79 3 58 4-53 3 28 4-14 3 84 4-83 3 21 4-40 3 23 4 27 3 20 4-44 3-5 4 85 3-56 4-23 3-8 4 66 3-33 4 18 3 17 4-47 3-16 4-9 3 92 4-60 3 46 4-34 3-34 4-28 3 35 4 24 3 30 4-55 3 50 4 0 3-46 4 3 3 10 4-16 3-9 4 11 3 73 4-65 3-26 4 20 3-20 4 55 3-26 4-40 3 14 4 8 3 27 4-33 3 59 4 5 3-35 4 25 3 26 4-141 3 65 4-18 3 76 4-76 3 104 4-4 3 5 4-65 3 63 4-65 3-4 4-21 3 67 4 16 3-29 4 17 3-61 4-5 3 33 4-40 3-13 4 36 3-37 4 62 3-24 4 41 3-41 4-85 3 64 4 14 3 52 4 16 3-57 4-99 3 154 4-59 3 7 4-93 3-20 4 173 3-57 4-44 3 25 4 59 3-81 4 35 3 54 4-41 3 15 4 37 3-23 4 1 3-47 4 40 3-43 4 19 3-51 4 37 3-14 4-18 3 15 4-9 3 31 4 30 3-43 4 40 3 7 4 31 3-85 4 26 3-74 4 47 3 44 4-8 3-50 4-14 3 39 4-20 3 43 4 23 3-15 4-1 3 42 4-89 3 90 4-28 3 14 4-86 3-2 4 92 3-55 4-38 3 66 4 16 3 23 4-20 3 15 4-52 3 11 4-11 3 42 4-53 3 30 4-33 3 17 4 45 3-31 4-49 3 86 4-51 3-44 4 14 3 77 4-18 3-71 4-2 3 39 4 15 3-8 4-1 3-48 4 44 3-42 4 81 3 1 4-72 3 54 4-35 3-32 4 55 3-1 4-39 3 22 4 54 3-22 4-75 3 12 4 13 3-11 4-6 3 93 4-21 3-54 4 7 3 48 4-13 3-21 4 3 3-19 4-9 3 25 4 58 3-83 4 75 3-15 4-55 3-19 4 54 3-34 4 13 3-26 4 35 3-42 4 0 3 6 4 91 3-55 4 23 3-54 4 67 3-33 4 44 3 1 4-70 3 75 4-90 3 52 4 38 3-31 4 30 3-57 4-15 3-13 4-7 3 69 4-7 3-33 4-21 3 39 4 2 3 4 4-51 3 86 4 5 3-89 4-2 3 82 4-82 3 83 4-12 3 21 4-161 3 81 4 32 3-18 4 49 3-64 4 84 3-51 4 31 3-17 4-17 3 44 4-73 3 79 4-20 3-9 4 34 3-2 4-81 3 70 4-4 3-50 4 59 3-61 4 31 3-39 4-4 3-21 4 86 3-61 4 12 3-26 4 38 3-40 4 44 3-48 4 77 3-37 4-31 3 2 4 59 3-59 4 73 3-42 4-25 3-71 4 108 3-33 4 51 3-89 4-87 3 136 4 6 3 46 4-88 3 89 4-71 3 2 4 41 3-24 4-8 3 72 4-93 3 83 4-88 3 48 4-42 3 1 4 37 3 47 4-4 3-67 4-3 3 57 4-4 3-71 4 53 3-20 4 3 3-13 4-24 3 62 4-57 3 23 4-5 3-57 3 80 4-40 3 21 4 20 3 10 4-8 3 27 4-42 3-52 4 32 3 51 4 33 3-52 4 3 3-33 4-7 3 90 4-115 3 49 4 22 3-10 4 35 3-61 4 59" fill="none" stroke="#000000" stroke-width="10.0" stroke-linejoin="round"/>
<path transform="scale(.1)" d="M8689 5410l6-376 6 376" fill="none" stroke="#000000" stroke-width="10.0" stroke-linejoin="round"/>
<path transform="scale(.1)" d="M8737 5410l6-352 6 352" fill="none" stroke="#000000" stroke-width="10.0" stroke-linejoin="round"/>
<path transform="scale(.1)" d="M8860 5410l6-390 6 390" fill="none" stroke="#000000" stroke-width="10.0" stroke-linejoin="round"/>
<path transform="scale(.1)" d="M8913 5410l6-190 6 190" fill="none" stroke="#000000" stroke-width="10.0" stroke-linejoin="round"/>
<path transform="scale(.1)" d="M9089 5410l6-528 6 528" fill="none" stroke="#000000" stroke-width="10.0" stroke-linejoin="round"/>
<path transform="scale(.1)" d="M9117 5410l6-557 6 557" fill="none" stroke="#000000" stroke-width="10.0" stroke-linejoin="round"/>
<path transform="scale(.1)" d="M9203 5410l6-438 6 438" fill="none" stroke="#000000" stroke-width="10.0" stroke-linejoin="round"/>
<path transform="scale(.1)" d="M9284 5410l6-447 6 447" fill="none" stroke="#000000" stroke-width="10.0" stroke-linejoin="round"/>
<path transform="scale(.1)" d="M9322 5410l6-538 6 538" fill="none" stroke="#000000" stroke-width="10.0" stroke-linejoin="round"/>
<path transform="scale(.1)" d="M9531 5410l6-362 6 362" fill="none" stroke="#000000" stroke-width="10.0" stroke-linejoin="round"/>
<path transform="scale(.1)" d="M9764 5410l6-328 6 328" fill="none" stroke="#000000" stroke-width="10.0" stroke-linejoin="round"/>
<path transform="scale(.1)" d="M9840 5410l6-162 6 162" fill="none" stroke="#000000" stroke-width="10.0" stroke-linejoin="round"/>
<path transform="scale(.1)" d="M6700 5952l3 13 4 4 3-10 3-15 4 5 3 17 3 5 3-33 4 12 3 9 3 16 4-6 3-12 3 27 4-24 3-9 3 34 3-16 4-1 3-5 3 24 4-16 3-1 3-2 4 20 3-16 3-17 3 11 4-3 3-3 3 8 4 20 3-19 3-5 4-18 3 0 3 9 3-7 4 32 3 7 3-28 4 0 3-8 3 33 4-21 3 22 3-10 3-13 4 11 3 28 3-19 4-15 3-10 3-3 4-9 3-13 3 34 3 14 4-16 3 17 3-22 4 7 3 20 3-10 4 11 3-34 3 24 3-4 4-9 3-14 3 19 4-3 3 36 3-21 4-20 3 4 3-19 3 12 4 7 3 7 3-33 4 23 3 2 3-5 4 16 3-5 3 0 3 1 4 3 3 2 3-56 4 54 3 3 3-14 4-16 3 24 3-6 3-7 4-3 3 37 3-31 4 9 3-31 3 23 4 17 3-11 3-3 3 12 4-15 3 11 3-5 4-10 3 6 3-15 4 10 3-3 3 12 3 1 4-15 3 9 3 6 4 25 3-29 3 7 4-26 3 16 3-2 3 16 4-7 3 9 3-22 4-8 3 34 3 1 4-42 3 24 3-10 3 15 4-6 3 0 3-31 4 39 3 2 3-22 4 9 3-7 3-5 3 12 4-1 3-10 3 43 4-35 3 0 3 5 4 18 3-9 3-6 3-3 4 1 3-13 3 6 4 27 3-16 3 11 4-10 3 9 3 17 3 16 4-39 3-20 3 12 4 5 3-5 3-4 4 31 3-13 3 6 3 2 4-16 3-22 3 1 4-1 3 5 3 0 4 21 3-6 3-12 3 11 4-17 3 19 3 25 4-44 3 39 3-16 4 9 3-18 3 10 3-5 4-2 3-19 3-5 4 43 3-30 3-26 4 59 3-29 3 14 3-2 4 0 3-22 3 10 4 5 3-11 3-10 4 6 3 9 3 10 3-4 4-1 3-24 3 10 4 5 3 15 3 6 4-22 3 13 3 4 3-21 4 16 3 2 3-9 4 19 3 25 3-58 4-14 3 25 3 13 3-11 4 30 3-4 3-6 4-8 3 8 3-50 4 50 3-20 3-3 3 10 4-9 3 26 3-41 4 3 3 6 3 1 4 24 3 2 3-22 3 10 4-17 3 26 3-8 4-15 3 23 3-16 4 10 3-8 3 3 3 4 4 2 3 4 3-5 4-13 3 17 3-15 4 26 3-38 3 20 3-4 4 3 3 18 3-4 4-19 3 27 3-30 4-3 3 10 3 4 3 5 4 2 3-5 3-5 4-9 3 27 3-22 4 3 3 21 3-34 3 0 4 22 3-31 3 16 4 13 3-9 3-1 4 2 3 0 3 7 3-31 4 27 3 3 3-11 4 37 3-48 3 7 4 13 3 0 3 4 3-10 4-2 3-10 3 31 4-1 3-5 3 3 4-7 3 7 3 15 3-17 4-24 3 17 3 10 4-16 3 11 3-15 4 33 3-16 3-3 3 5 4 7 3-32 3 22 4 10 3-30 3 2 4 14 3 4 3-9 3 5 4-21 3-18 3 54 4-48 3 49 3-10 4-10 3-6 3 9 3 4 4 4 3-15 3-4 4 18 3-26 3 10 4-3 3-5 3 14 3 19 4-25 3 16 3-4 4 8 3-5 3-57 4 61 3-14 3-13 3 29 4-6 3 7 3-40 4 17 3 17 3-28 4 18 3-26 3 10 3 7 4-15 3 29 3-8 4 12 3-7 3-10 4 15 3-5 3-11 3 21 4-2 3-51 3 62 4-24 3-7 3 14 4-27 3 16 3 22 3-33 4-33 3 53 3-8 4-5 3 22 3-25 4-35 3 46 3 29 3-19 4-13 3-19 3 28 4-2 3 24 3-32 4 3 3-5 3-3 3 11 4 3 3 1 3-10 4 22 3-17 3-13 4 33 3-24 3 18 3 16 4-38 3 20 3-16 4-15 3 24 3 0 4 7 3 4 3-2 3 3 4-40 3 41 3-7 4-18 3 19 3 3 4-8 3-18 3-11 3 26 4 3 3 9 3-38 4 27 3-1 3-22 4 31 3 2 3-11 3-22 4 32 3-30 3 18 4 13 3-6 3 7 4-8 3-5 3 3 3-2 4-11 3 1 3 3 4 11 3-16 3 2 4 22 3-18 3-34 3 17 4 23 3-13 3 10 4 16 3-14 3 13 4-27 3 1 3 22 3-30 4 8 3 2 3-4 4 56 3-45 3-20 4 10 3 22 3 12 3-18 4 19 3-32 3 3 4 26 3-25 3-1 4-6 3-2 3 29 3-58 4 53 3 1 3-19 4 0 3 33 3-16 4-20 3-28 3 41 3 13 4-17 3 2 3-4 4 19 3 32 3-29 4-40 3 4 3 27 3-16 4 14 3 6 3 4 4-38 3 16 3-9 4 7 3 31 3-31 3 17 4-10 3 19 3-17 4 0 3-13 3-11 4 62 3-11 3-7 3-1 4-48 3 53 3-52 4 31 3-15 3 1 4 13 3-15 3 9 3 3 4 13 3-18 3-21 4 27 3 3 3-10 4 17 3-22 3-1 3-11 4 13 3 12 3 12 4-30 3 26 3-33 4 22 3-9 3-7 3 20 4-12 3 3 3 26 4-32 3 36 3-30 4 94 3-111 3 1 3 61 4-11 3-63 3-16 4 104 3-53 3-56 4 52 3-42 3 31 3-1 4-108 3 151 3 7 4-123 3 63 3 37 4-51 3 37 3 24 3 15 4-28 3-124 3 71 4 56 3 11 3 25 4-72 3 20 3 17 3 57 4-75 3-50 3 82 4-18 3 154 3-339 4 223 3 20 3-142 3 132 4-126 3 35 3 98 4 114 3-146 3 0 4-159 3 162 3-94 3-23 4 284 3-157 3 3 4-3 3-94 3 139 4-95 3-78 3 83 3 58 4-68 3-31 3 130 4 59 3-19 3-180 4 174 3-122 3-178 3 184 4-154 3 170 3-21 4-22 3-1 3 64 4-74 3 32 3 51 3-27 4-82 3 145 3-77 4 12 3 8 3 53 4-103 3-27 3 107 3-39 4-114 3 32 3 28 4-42 3 59 3 3 4 57 3 38 3-46 3-35 4-3 3 1 3-75 4 63 3-42 3 85 4-35 3 28 3 3 3-22 4 43 3-123 3 30 4-51 3-17 3 45 4 128 3-93 3 40 3 94 4-124 3-26 3 34 4-26 3-76 3 105 4 2 3-107 3 158 3-120 4 106 3 42 3-67 4 30 3-1 3 5 4-41 3 25 3-92 3 18 4 131 3-19 3-36 4-59 3-1 3 90 4-93 3-2 3 18 3 48 4-44 3-16 3 0 4 185 3-232 3 83 4-31 3 121 3-42 3 14 4-55 3 2 3-11 4 139 3-179 3-7 4 177 3-172 3 72 3-37 4-11 3 5 3-47 4 63 3-93 3 169 4-91 3 13 3 45 3-90 4 131 3-8 3-37 4-71 3-13 3 1 4 53 3 44 3-42 3-35 4 53 3-10 3 178 4-192 3 44 3-113 4 118 3-30 3 39 3-95 4 35 3 148 3-188 4-55 3 107 3-137 4 114 3 10 3-25 3 125 4-149 3 0 3-2 4 93 3-96 3 137 4 23 3-91 3 63 3-65 4-3 3 25 3-39 4 62 3-42 3-7 4 113 3-120 3-19 3-176 4 196 3 23 3-64 4-20 3 51 3-37 4-33 3 44 3-26 3 112 4-36 3-56 3-5 4 66 3-107 3 18 4 84 3-13 3-71 3 138 4-57 3 42 3-112 4-100 3 128 3 49 4-46 3-54 3 105 3-172 4 140 3 27 3 36 4-58 3-66 3 31 4 29 3-38 3 118 3 47 4-75 3 27 3-46 4-49 3 5 3 7 4-57 3 109 3-51 3 27 4 94 3-136 3 16 4 86 3-88 3 5 4 24 3 85 3-72 3 2 4-15 3-34 3-109 4 137 3-31 3-8 4 33 3 83 3-135 3 186 4-127 3-148 3 281 4-185 3 40 3 78 4-157 3 104 3 5 3-31 4 1 3-52 3 75 4 14 3-4 3-27 4 38 3-52 3-18 3-26 4 95 3-40 3 11 4-116 3 131 3-20 4 37 3 40 3-74 3-38 4 34 3-11 3 26 4-12 3-26 3-49 4 96 3-61 3-69 3 53 4 114 3-122 3 53 4 38 3-85 3 46 4 36 3-31 3-6 3-13 4-57 3 57 3 20 4-20 3 59 3-10 4-72 3 54 3-7 3-2 4 6 3-48 3 4 4 17 3 45 3 35 4-51 3-7 3 30 3-23 4-26 3-9 3 9 4 12 3 19 3 34 4-64 3 30 3-18 3 0 4 2 3-10 3 8 4-18 3-2 3 40 4-10 3-21 3 4 3 5 4-19 3-28 3 52 4 15 3-20 3 7 4 9 3-42 3 32 3-11 4-8 3 1 3 2 4 35 3-8 3-39 4 34 3-23 3 22 3-5 4-25 3 10 3 12 4-3 3-2 3 4 4 5 3 5 3-9 3-7 4-1 3 17 3-14 4-30 3 25 3 42 4-46 3 8 3 28 3 6 4-17 3-19 3 12 4-11 3 25 3-15 4 17 3-31 3 1 3-17 4 15 3 7 3-11 4 8 3-19 3 18 4 2 3 24 3-35 3 25 4-15 3 25 3 25 4-94 3 34 3 19 4-7 3 9 3 6 3-24 4-16 3-1 3 55 4-46 3 19 3-6 4 9 3-2 3 2 3 2 4 4 3-21 3 4 4 26 3-42 3 35 4-15 3 21 3-6 3-20 4 25 3-58 3 45 4-5 3-13 3 25 4-17 3 17 3 4 3-9 4-16 3 23 3-11 4 3 3-4 3-4 4-1 3 2 3-1 3 13 4 39 3-54 3-7 4 44 3-38 3 17 4-18 3 9 3 4 3-42 4 20 3 24 3-7 4-9 3 19 3-12 4 4 3-9 3-4 3 14 4-2 3 17 3-27 4 0 3-20 3 14 4-11 3 20 3 11 3-12 4 18 3-26 3 8 4 9 3 15 3-28 4 35 3-24 3-11 3 5 4 32 3-4 3-34 4-13 3 19 3-5 4 26 3-30 3 7 3 11 4-33 3 24 3-2 4 1 3 14 3-26 4-3 3 65 3-48 3 12 4 11 3-1 3-21 4 18 3-31 3 15 4 7 3-16 3 7 3 0 4 1 3 10 3-3 4-8 3 4 3-6 4 21 3-30 3 45 3-35 4 6 3-40 3 42 4 16 3-23 3 19 4 2 3-13 3-11 3 11 4 5 3-4 3-10 4-4 3 7 3 4 4-16 3 5 3 28 3-3 4-29 3 14 3-10 4 21 3-16 3 11 4 17 3-45 3 3 3 12 4-1 3-1 3 4 4 9 3 4 3-19 4-18 3 29 3 4 3 5 4-27 3 15 3-27 4 54 3-5 3-1 4-19 3-12 3 38 3-39 4 16 3-4 3 2 4-1 3-6 3 9 4 1 3-7 3 17 3-25 4 17 3-9 3 30 4-22 3-22 3 11 4-11 3 15 3 35 3-32 4-13 3 12 3-18 4 49 3-33 3 6 4-14 3 2 3 0 3 54 4-67 3 26 3-24 4 58 3-40 3 4 4-33 3 25 3 5 3 14 4-10 3 3 3-28 4 39 3-39 3 28 4-10 3-2 3 22 3-30 4 15 3-18 3 17 4 2 3 3 3-7 4 4 3-1 3 2 3 2 4-18 3 23 3-1 4-45 3 58 3-22 4-24 3 2 3 19 3 18 4-10 3-8 3 1 4-4 3-5 3 15 4-38 3 30 3-17 3 34 4-5 3-32 3 8 4-11 3 16 3 32 4-6 3-20 3-44 3 59 4 7 3-16 3-6 4 10 3-3 3 1 4-21 3 21 3-9 3-2 4 3 3-1 3-5 4-10 3-11 3 26 4 3 3-11 3 18 3-5 4-27 3 51 3-4 4-69 3 26 3 32 4 5 3-22 3 9 3 2 4-11 3-14 3 1 4 6 3 33 3-55 4 61 3-23 3-8 3 56 4-53 3 22 3-38 4 10 3 19 3-15 4 25 3-8 3-21 3 12" fill="none" stroke="#00ff00" stroke-width="10.0" stroke-linejoin="round"/>
<path transform="scale(.1)" d="M6700 6007l3 2 4-3 3-28 3 31 4-29 3 2 3 11 3-9 4 1 3 8 3 19 4-25 3 15 3-5 4-1 3 12 3-46 3 67 4-16 3 12 3-22 4-13 3 31 3-32 4-8 3 27 3-3 3-4 4-7 3-8 3 24 4-24 3 12 3-3 4-1 3 9 3 7 3 2 4-35 3 20 3 20 4-14 3-8 3-10 4 1 3 19 3-11 3-7 4 20 3-7 3-7 4-5 3 23 3-1 4-30 3 45 3-28 3-17 4-19 3 44 3 18 4-27 3-27 3 54 4-38 3 17 3-8 3-15 4 29 3 24 3-22 4-33 3 13 3 9 4-13 3 24 3-25 3 18 4 9 3-4 3-4 4-57 3 38 3 23 4-12 3-17 3 42 3 20 4-76 3 27 3-20 4 22 3-3 3-15 4-16 3 50 3 27 3-55 4 15 3 26 3-22 4 19 3-44 3 0 4 34 3-14 3-6 3 13 4 5 3-9 3 18 4 0 3-17 3 5 4 8 3-3 3 16 3-4 4-9 3-36 3 33 4 3 3-21 3-13 4-4 3 44 3-21 3 9 4-11 3-3 3-18 4-16 3 52 3-23 4 9 3-4 3-10 3 17 4-27 3 27 3-6 4 30 3-37 3 22 4-22 3 3 3 21 3-20 4 0 3-19 3 26 4-9 3-7 3 7 4-2 3 30 3-24 3 4 4 10 3 7 3-3 4-16 3 9 3-15 4 32 3-27 3-26 3 35 4 3 3-29 3 21 4 13 3-35 3 14 4-2 3 8 3 13 3 8 4-4 3-9 3 9 4-22 3 8 3-5 4-8 3 25 3-14 3-1 4 36 3-42 3 4 4-3 3 8 3-3 4 16 3-8 3-7 3-10 4 13 3-1 3 0 4 2 3-12 3 10 4 9 3-19 3 1 3 11 4-11 3 43 3-66 4 48 3-4 3-3 4 16 3-26 3 2 3 12 4-36 3 4 3 33 4-6 3 22 3-42 4 27 3-10 3-14 3 36 4-34 3-2 3 21 4-1 3-22 3-9 4 18 3-14 3 32 3-2 4-24 3-5 3 17 4 0 3-22 3 24 4 4 3-12 3 14 3-21 4 20 3-29 3-5 4 16 3 51 3-45 4 6 3-3 3 2 3-10 4 10 3-5 3-13 4 23 3-16 3 25 4-26 3 10 3-2 3-10 4-8 3 18 3-7 4 3 3-6 3 4 4 35 3-41 3 4 3 11 4-7 3-15 3 19 4 1 3-7 3 17 4-4 3-14 3 8 3-2 4-4 3 2 3-8 4 15 3 10 3-10 4-7 3 9 3-2 3-36 4 16 3 21 3-9 4-12 3 10 3 2 4 24 3-16 3 9 3-8 4 2 3-14 3 21 4-12 3-5 3 18 4 9 3-16 3 4 3-6 4 17 3-20 3 9 4-5 3 12 3-33 4 27 3-1 3-4 3 4 4-5 3-6 3 21 4-20 3-1 3-9 4 9 3 8 3-7 3 43 4-44 3-19 3 15 4 6 3-21 3 25 4-9 3 2 3-10 3 23 4-15 3-2 3 7 4 3 3 17 3-27 4 39 3-31 3-4 3 14 4 14 3-36 3 11 4-19 3 23 3-15 4 5 3-27 3 32 3 2 4-6 3-11 3 16 4 13 3-6 3 0 4-5 3 3 3 4 3-11 4-7 3 30 3-44 4 20 3 13 3-5 4-34 3 76 3-32 3-16 4-16 3 8 3-8 4 12 3 47 3-39 4-16 3 43 3-55 3-2 4 14 3 6 3-5 4 21 3-14 3 19 4-17 3-8 3 5 3-12 4 5 3 3 3-9 4 30 3-13 3 1 4 39 3-26 3-2 3 16 4-41 3 15 3-8 4-9 3 6 3-9 4 9 3 30 3-8 3-18 4 11 3 7 3-22 4 13 3-24 3 22 4 31 3-41 3 11 3-13 4 19 3-30 3 42 4 3 3-55 3 38 4 0 3 14 3-46 3 22 4 3 3-15 3 23 4-13 3 18 3-4 4 0 3-7 3-5 3-25 4-2 3 17 3 29 4-9 3 33 3-43 4 3 3 1 3-19 3 19 4 13 3-30 3 7 4 31 3-28 3 7 4 18 3-37 3 3 3-15 4 38 3-17 3 18 4-13 3 10 3 32 4-64 3 11 3 38 3-21 4 2 3 8 3 26 4-26 3-28 3 27 4-13 3-5 3 5 3 6 4 20 3-10 3 9 4-10 3-25 3 2 4 19 3-5 3-8 3 15 4-38 3 50 3-17 4 37 3-61 3 27 4-1 3-17 3-4 3 27 4-7 3-12 3 5 4 10 3-15 3 9 4-3 3 11 3-32 3 26 4 4 3-9 3-5 4-2 3 4 3 1 4-19 3 31 3-31 3 30 4-21 3-3 3 33 4-8 3 25 3-61 4 38 3 12 3-3 3-35 4-12 3 33 3-14 4 1 3 7 3-6 4 13 3-21 3 16 3 13 4-21 3 6 3 57 4-76 3 13 3 6 4-15 3-47 3 25 3 26 4 38 3-17 3-27 4 21 3-13 3 26 4-34 3 44 3-37 3 16 4-16 3 0 3-15 4 15 3-4 3 9 4-39 3 23 3 4 3 13 4 11 3-64 3 77 4 5 3-14 3-7 4 14 3-32 3 13 3-77 4 66 3-33 3 101 4-36 3 6 3-64 4 29 3 20 3 17 3 114 4-148 3 104 3-71 4-81 3 78 3-36 4-3 3-36 3 76 3-94 4 43 3 92 3-137 4 70 3-23 3-84 4 118 3 27 3 6 3-88 4 72 3-3 3-107 4 258 3-119 3-3 4-53 3 138 3-190 3 34 4 203 3-96 3 106 4-275 3-44 3 170 4-56 3 69 3-55 3 47 4-18 3-60 3 139 4-102 3-38 3-55 4 45 3-16 3 27 3-94 4 112 3 30 3-16 4 1 3-44 3 41 4-55 3 46 3 74 3-139 4 51 3 67 3-7 4-69 3 14 3-48 4 104 3-14 3 35 3-32 4-35 3 97 3-147 4 153 3-51 3-110 4 7 3-131 3 97 3 80 4 75 3-98 3 19 4 99 3-74 3 22 4 9 3-60 3 10 3-52 4 102 3-14 3 8 4-91 3 90 3-50 4 155 3-43 3-105 3-14 4 74 3-83 3 40 4 72 3-58 3-61 4-14 3-20 3 49 3 229 4-176 3-20 3-111 4 219 3-110 3-76 4 104 3-87 3 168 3-106 4-62 3 112 3-110 4-5 3-42 3 64 4 47 3 31 3-81 3 21 4 67 3-110 3 69 4 41 3-121 3 144 4-52 3-13 3 13 3-2 4 14 3 5 3-98 4 10 3 74 3-51 4 11 3 23 3 47 3-51 4 39 3-56 3-102 4 116 3-29 3 69 4-66 3 47 3 75 3-265 4 230 3-85 3-71 4 161 3-123 3 30 4 131 3-165 3 19 3 4 4 76 3-81 3 150 4 91 3-129 3-133 4 95 3-158 3 106 3 53 4 18 3 29 3-80 4 30 3 0 3-12 4-139 3 159 3-33 3 158 4-168 3 5 3-162 4 165 3-208 3 187 4 80 3-147 3 114 3-50 4 8 3-74 3-99 4 344 3 0 3-240 4 5 3-10 3 168 3-47 4-39 3 31 3-34 4-26 3 45 3 29 4 78 3-202 3 18 3 99 4-7 3-119 3 249 4-336 3 298 3-137 4 33 3-47 3 48 3-9 4-22 3-85 3 89 4 47 3 85 3-146 4 26 3 75 3-59 3 45 4-85 3-7 3-23 4-34 3 200 3-147 4-134 3 169 3-182 3 168 4-19 3-7 3 91 4-77 3 51 3 59 4-264 3 147 3 22 3-44 4 76 3 27 3-25 4-27 3-37 3 20 4 74 3-77 3-30 3 3 4 122 3 22 3 33 4-187 3 83 3-64 4 112 3-44 3-128 3 135 4-95 3 78 3-78 4 44 3 6 3 43 4 19 3-15 3-136 3 105 4 0 3-15 3 30 4 25 3 5 3-36 4-36 3 20 3-39 3 27 4 10 3 2 3-1 4 17 3-82 3 21 4 76 3 21 3-129 3 72 4-6 3-56 3 18 4 70 3-1 3-48 4-97 3 134 3 0 3-9 4-61 3 109 3-80 4 59 3-75 3 42 4-10 3 42 3-25 3-6 4-35 3 64 3-20 4 30 3-16 3-10 4-66 3 147 3-51 3-74 4 84 3-76 3 4 4 52 3-23 3 42 4-54 3 62 3-96 3 69 4-30 3-50 3 79 4-29 3 49 3-43 4 27 3-24 3 12 3-23 4 42 3-45 3-56 4 74 3 16 3-40 4-28 3 68 3-12 3-11 4-22 3 25 3-16 4 21 3 10 3-25 4 0 3-2 3 28 3 27 4-45 3-2 3 2 4 13 3-25 3 0 4-17 3 21 3 5 3-18 4 4 3 42 3-22 4-12 3-23 3 20 4 13 3-9 3-14 3 3 4-8 3 19 3 4 4 3 3-3 3 42 4-67 3 5 3 28 3 0 4-22 3-40 3 55 4 47 3-67 3 22 4 20 3-24 3 3 3 4 4-17 3-16 3 13 4 16 3 0 3 31 4-25 3-13 3 24 3-12 4 12 3-8 3-1 4-29 3 15 3-2 4 4 3-21 3 17 3-15 4 42 3-4 3-2 4-21 3 2 3-11 4 18 3 2 3 30 3-29 4 1 3-5 3-22 4 18 3-13 3 12 4 2 3-34 3 33 3-9 4 23 3 0 3-22 4-3 3 15 3-10 4 10 3-2 3 3 3 11 4-13 3-7 3 2 4-9 3 8 3 9 4 4 3-25 3 27 3-36 4 39 3-21 3 29 4-23 3-35 3 58 4-17 3-9 3 3 3-7 4-1 3 11 3-2 4 41 3-48 3 33 4-4 3 4 3-35 3-7 4 25 3-26 3 21 4-7 3 27 3-15 4-21 3 11 3-10 3 24 4-7 3-19 3-2 4 17 3 14 3-6 4-24 3 24 3-15 3 0 4 10 3 6 3-10 4-19 3 25 3-11 4 12 3 9 3-70 3 42 4-6 3 24 3-9 4 1 3-7 3-13 4 1 3 16 3-11 3-1 4 31 3-3 3 9 4-9 3-17 3 35 4-48 3 18 3 6 3 28 4-3 3-23 3-12 4 12 3-13 3-6 4-10 3 16 3 18 3-14 4-6 3 23 3 9 4-41 3-7 3 38 4-4 3-22 3 6 3 47 4-20 3-37 3 27 4-19 3 1 3-1 4 16 3-9 3-7 3 6 4-22 3 11 3 5 4 13 3-24 3 17 4 11 3-6 3-8 3 1 4 8 3-13 3-12 4-19 3 47 3 10 4-6 3 9 3-20 3 14 4-40 3 33 3 10 4-31 3 19 3-6 4 12 3-6 3-7 3-34 4 35 3 12 3-25 4 36 3-46 3 42 4-11 3-8 3 3 3-20 4 39 3 12 3-26 4-18 3-34 3 6 4 26 3 12 3 19 3 14 4-37 3-12 3-2 4-16 3 35 3 15 4-21 3-17 3 11 3 34 4-26 3-7 3 20 4-6 3 4 3 8 4-59 3 62 3 21 3-43 4 18 3-20 3 16 4-28 3 0 3 2 4 17 3-40 3 26 3 0 4 21 3-5 3 33 4-43 3 1 3-6 4 31 3-31 3 8 3 40 4-48 3 34 3-13 4 41 3-71 3-11 4 17 3 28 3-6 3 1 4-19 3 7 3-2 4 33 3-7 3-25 4-12 3 16 3 17 3-7 4-11 3 9 3 18 4-22 3-1 3 1 4-28 3 22 3-27 3 16 4 21 3-1 3 2 4-9 3 2 3-24 4 47 3-43 3 11 3 2 4 15 3-3 3 23 4-44 3 17 3 9 4-13 3-23 3 54 3 5 4-43 3 9 3-15 4 25 3 4 3-10 4-23 3 37 3-25 3-5 4-40 3 57 3-6 4 40 3-19 3-23 4 4 3-32 3 34 3 3 4-50 3 48 3 7 4-2 3-30 3-30 4 55 3 2 3-14 3 16 4-42 3 62 3-26 4 6 3-10 3-2 4-3 3 8 3-7 3-8" fill="none" stroke="#0000ff" stroke-width="10.0" stroke-linejoin="round"/>
<path transform="scale(.1)" d="M6700 6010l3 23 4-9 3-33 3 23 4 25 3-13 3-11 3 5 4-2 3-4 3 3 4-22 3 32 3-4 4 21 3-47 3 15 3 14 4-21 3 1 3 16 4-3 3 9 3-29 4 11 3 8 3 18 3-1 4-18 3-3 3 25 4-23 3-1 3 1 4 5 3 9 3-14 3 0 4 5 3-40 3 57 4-3 3-20 3 13 4 25 3-40 3 3 3-10 4-4 3 37 3-31 4 22 3 4 3-4 4-11 3-4 3-6 3 23 4-25 3 3 3-11 4 12 3 13 3 6 4-14 3-1 3-2 3-14 4 31 3 5 3-16 4-25 3 21 3 2 4 19 3-16 3-18 3 27 4-47 3 41 3 32 4-17 3-11 3-36 4 35 3-27 3 10 3 3 4-8 3 0 3 26 4-27 3 26 3 5 4-11 3-7 3-6 3 47 4-45 3 10 3-4 4 17 3-3 3-21 4-6 3 22 3-8 3-3 4 41 3-55 3 51 4-35 3 16 3 1 4-13 3-7 3-6 3 18 4-3 3-20 3 15 4 0 3-29 3 21 4 8 3-8 3 10 3-20 4 5 3 14 3-4 4 3 3 22 3-27 4 0 3-4 3 29 3-20 4-4 3 19 3-13 4-15 3 8 3-2 4 1 3-4 3 17 3 7 4-6 3-9 3 12 4-3 3 15 3-34 4 9 3 11 3-15 3 4 4-26 3 37 3 0 4 4 3-16 3 7 4 0 3 2 3-8 3-2 4-9 3 5 3 4 4 0 3-4 3 0 4-2 3 1 3 13 3-14 4-1 3 0 3-12 4 26 3 10 3-24 4 11 3 27 3 3 3-8 4-25 3-9 3 5 4-3 3 6 3 13 4-10 3-12 3-18 3 56 4-40 3 11 3 17 4-12 3-11 3 53 4-59 3-1 3 17 3 8 4-8 3-20 3 13 4-5 3 13 3 1 4 18 3-32 3 4 3 45 4-29 3-14 3-3 4 7 3 13 3 15 4-40 3 11 3 3 3-2 4 6 3 16 3-7 4 1 3-20 3-7 4 37 3-30 3 5 3 16 4-2 3-4 3-3 4-9 3-31 3 39 4 9 3-18 3 14 3-13 4-21 3 23 3 14 4-3 3-11 3 9 4-7 3 8 3 3 3-13 4 12 3-7 3-23 4 19 3-19 3 9 4 35 3-38 3 23 3-9 4-8 3-4 3 23 4-19 3 3 3 18 4 2 3 1 3-8 3-10 4 6 3 17 3-35 4 11 3 20 3-6 4-14 3 2 3 9 3-22 4-2 3 7 3 19 4-7 3-12 3 0 4 26 3 11 3-33 3 25 4-13 3-27 3-8 4 26 3 7 3 0 4 12 3-17 3 4 3 0 4-4 3 8 3-18 4 11 3-10 3 15 4 1 3 2 3-16 3-3 4 10 3-8 3 11 4-9 3 1 3 3 4 14 3-25 3 10 3 20 4-19 3-15 3 27 4-10 3 12 3 4 4-7 3-30 3 7 3 35 4-3 3-22 3-26 4 25 3 25 3-13 4-2 3 6 3-21 3-6 4 19 3 3 3-11 4 7 3-3 3-6 4-6 3 28 3-46 3 23 4 8 3 14 3 6 4-24 3 29 3-39 4 16 3-23 3 20 3 2 4 7 3-46 3 58 4-24 3 10 3-5 4-40 3 37 3 0 3-8 4 5 3 3 3 3 4 4 3-19 3 5 4-4 3 29 3-46 3 30 4-14 3 37 3-24 4 4 3 17 3-58 4 78 3-28 3-33 3 24 4 7 3-29 3 33 4-9 3 8 3-16 4 9 3-15 3 27 3-31 4-9 3-18 3 50 4-9 3-15 3 26 4-41 3 46 3-36 3 30 4-10 3 2 3-15 4 18 3-2 3-25 4 25 3-4 3-10 3 19 4-4 3-6 3 2 4-3 3 34 3-35 4 18 3-11 3-5 3-17 4 23 3-42 3 26 4 26 3-9 3-7 4-27 3 14 3 11 3-14 4 11 3 17 3 1 4-13 3-11 3 1 4 16 3 13 3-8 3-25 4 28 3-25 3-18 4 34 3 4 3 7 4-29 3 33 3-16 3 5 4-13 3 2 3-12 4 14 3 12 3-10 4-5 3-6 3 18 3 2 4-13 3 14 3-2 4 13 3-23 3-11 4 31 3-17 3-5 3 15 4-25 3 16 3 4 4-4 3 4 3-4 4-7 3 6 3 9 3-14 4-21 3 36 3-23 4 14 3 15 3-3 4-26 3 14 3-9 3-11 4 7 3 7 3 2 4 0 3 5 3 8 4-10 3-5 3-6 3-7 4 28 3-12 3-4 4-2 3 18 3-23 4 44 3-22 3 12 3-39 4 24 3-15 3 21 4 0 3-20 3-4 4 11 3 1 3-8 3 21 4-17 3 53 3-79 4 34 3-16 3 17 4 7 3-34 3 29 3-14 4-40 3 35 3-2 4 17 3 12 3-63 4 24 3 3 3-17 3 30 4 7 3 5 3-19 4-12 3-24 3 48 4 18 3 7 3-57 3 37 4 35 3-28 3-14 4-49 3 106 3-89 4 14 3 30 3-48 3 42 4-2 3 18 3-31 4 11 3 10 3 9 4 6 3-44 3-5 3 16 4 21 3-24 3 23 4-11 3-6 3 5 4 32 3-15 3-30 3 26 4 15 3-55 3 38 4 4 3 18 3-99 4 77 3 11 3 20 3-75 4 8 3 40 3-111 4 138 3-28 3-53 4 164 3-65 3 8 3-56 4-97 3 65 3-6 4 102 3-126 3 26 4 12 3 59 3-184 3 154 4-19 3-52 3 64 4 89 3-123 3-48 4-70 3 163 3-1 3-2 4-94 3 44 3 62 4-18 3-63 3 23 4 55 3-31 3 65 3-4 4-30 3 16 3-73 4 54 3-42 3-1 4 63 3-159 3 138 3 62 4-57 3-50 3 23 4-60 3 112 3-196 4 327 3-155 3-19 3-87 4 39 3-58 3 72 4 109 3-58 3-55 4 21 3 91 3-20 3-116 4 111 3-58 3 92 4-250 3 121 3 98 4-65 3 14 3-87 3 8 4 6 3-3 3-3 4 45 3-6 3 52 4-147 3 99 3-2 3 85 4-114 3 7 3 57 4-43 3 95 3-67 4 80 3-170 3 69 3 150 4-101 3 42 3 69 4-139 3 6 3 36 4 0 3-59 3 61 3 2 4-67 3-16 3 199 4-132 3-73 3-43 4 9 3 172 3-66 3 39 4 10 3-148 3 89 4-16 3 49 3 80 4-177 3 50 3 37 3-56 4-28 3 68 3-26 4-151 3 207 3-82 4 30 3-8 3 33 3-202 4 155 3 111 3-123 4 40 3 10 3-19 4 32 3-161 3 93 3 34 4 6 3-75 3 107 4-36 3 29 3-18 4 32 3-98 3 36 3-15 4 42 3 24 3-84 4 44 3 103 3-75 4-48 3-45 3-1 3 62 4 57 3-65 3 29 4-4 3 0 3 45 4-39 3-52 3 67 3 11 4 22 3 11 3 106 4-179 3 62 3-29 4-54 3 41 3-181 3 148 4-93 3 147 3-44 4 39 3-78 3 60 4 36 3-136 3-8 3 98 4 88 3-150 3 241 4-262 3 96 3-27 4-20 3-35 3 29 3-89 4 133 3-1 3 112 4-53 3-13 3-14 4-75 3 6 3 43 3-27 4 168 3-178 3 97 4-27 3 46 3-131 4-39 3 59 3 188 3-218 4 107 3 9 3-160 4 75 3-137 3 237 4-120 3 91 3-11 3 0 4-70 3 31 3-8 4 15 3 46 3-50 4 143 3-191 3 69 3 6 4 30 3-75 3 101 4-25 3-173 3 142 4-44 3 181 3-148 3-72 4 43 3-25 3-39 4 64 3-25 3 8 4-16 3 14 3 36 3 143 4-114 3 15 3-3 4-31 3-31 3-24 4 20 3 47 3-93 3 163 4 56 3-88 3-4 4-94 3 88 3-84 4 35 3 35 3-83 3 115 4-107 3 23 3 13 4 16 3-11 3 30 4-49 3 63 3-21 3-37 4 111 3-81 3-8 4-45 3 54 3-37 4 94 3-106 3-76 3 77 4 8 3 9 3 49 4-28 3-26 3-8 4-24 3 31 3-23 3 14 4 20 3-24 3 5 4 3 3 48 3-22 4 106 3-133 3 48 3-7 4 0 3 5 3 6 4-71 3 9 3 30 4-42 3 31 3-9 3-21 4 52 3-49 3 104 4-92 3 40 3-9 4-46 3 34 3-29 3 52 4-5 3-35 3 66 4-57 3 26 3-7 4 19 3-11 3-56 3 75 4-62 3 30 3-1 4 3 3 0 3-34 4 36 3-5 3 7 3 1 4 7 3-36 3 29 4 7 3 0 3 0 4-10 3-17 3 33 3-37 4 18 3-23 3 26 4 7 3 3 3-13 4-1 3 4 3-2 3-9 4 1 3 17 3-22 4-19 3 63 3-66 4 41 3-4 3-15 3 10 4 7 3-5 3-10 4 7 3-14 3 20 4 15 3-17 3-3 3-23 4 28 3-22 3 21 4 12 3-21 3 30 4-33 3 4 3 21 3-11 4-12 3 14 3-2 4-20 3 34 3-11 4-18 3 12 3 7 3-12 4 1 3 11 3-5 4 0 3 22 3-6 4-2 3-13 3-9 3 21 4-30 3 15 3-29 4 26 3 23 3-22 4 0 3-7 3 32 3-38 4 13 3 47 3-81 4 26 3 15 3 11 4-29 3 26 3-24 3 20 4-19 3 21 3-20 4 8 3 4 3-11 4 10 3 11 3-8 3-16 4 18 3 6 3-14 4-16 3 14 3 15 4-27 3 21 3-6 3 2 4 6 3-30 3 27 4-16 3 26 3-26 4 2 3 19 3 2 3 14 4-45 3 26 3 2 4-11 3-9 3 4 4 5 3-6 3 23 3-1 4-18 3-18 3 25 4 2 3-19 3-32 4 17 3-1 3 71 3-51 4 16 3 20 3-44 4 38 3-50 3 43 4-2 3-8 3-5 3 5 4 6 3-26 3 19 4 42 3-53 3 14 4-40 3 37 3-20 3 35 4-20 3 42 3-63 4-3 3 6 3 15 4 10 3-2 3 3 3-20 4 27 3-16 3-1 4-5 3 9 3-7 4 3 3 10 3 8 3-12 4-10 3 6 3-10 4 32 3-3 3-13 4-20 3 18 3-18 3 23 4 18 3-31 3 14 4-36 3 36 3-17 4-2 3 12 3-14 3 25 4-59 3 40 3-39 4 32 3 4 3-15 4 13 3 21 3-23 3 10 4 33 3-49 3 26 4-6 3-2 3 7 4 0 3-28 3 33 3-11 4-4 3 9 3 11 4-13 3 14 3-20 4 3 3 11 3 3 3-23 4 4 3 24 3-3 4-23 3-12 3 14 4 22 3 10 3-26 3-18 4 20 3 11 3-34 4 17 3-5 3 31 4-24 3-4 3 15 3 4 4-4 3-7 3-8 4 3 3-7 3 2 4 8 3-30 3 56 3-19 4-16 3 15 3 9 4-18 3 7 3-29 4 16 3 14 3 17 3-29 4 7 3 37 3-33 4-3 3 14 3-6 4 5 3-4 3-27 3 35 4-22 3 21 3 29 4-63 3 17 3 14 4-21 3-17 3 6 3 27 4 6 3-23 3 39 4-71 3 70 3-13 4-18 3 21 3-25 3 14 4-9 3 2 3-9 4 15 3-8 3-13 4-2 3 16 3-10 3 14 4-3 3-12 3 11 4-6 3 30 3-26 4-3 3 4 3 17 3-14 4 27 3-17 3-21 4 9 3 13 3-8 4 11 3-3 3-27 3 20 4-13 3-21 3 43 4 1 3-13 3-18 4 13 3-22 3 39 3-20 4 21 3-37 3 23 4 28 3-37 3 3 4 10 3-13 3 43 3-44 4 13 3-11 3-10 4 22 3-20 3 16 4-12 3 28 3-32 3 25 4 2 3-59 3 50 4-34 3 37 3-2 4-11 3 15 3 3 3-19 4-3 3-2 3 14 4 0 3-17 3 4 4 2 3 21 3 27 3-43 4-9 3 32 3-5 4 12 3-13 3-4 4-31 3 19 3 1 3-11" fill="none" stroke="#ff0000" stroke-width="10.0" stroke-linejoin="round"/>
<path transform="scale(.1)" d="M6700 6613l4-1 4 9 4-15 4 6 4-6 4-11 4 16 4-1 4-3 4-2 4 4 4-5 4 14 4-10 4-4 4-3 4 18 4-9 4-5 4 7 4 2 4-11 4-1 4 9 4-9 4 6 4-3 4 13 4-11 4 0 4 0 4 6 4-6 4 23 4-24 4 11 4-1 4 9 4-10 4-4 4 7 4-6 4 7 4-10 4 13 4-21 4 0 4 14 4-1 4-11 4 8 4-2 4 4 4-1 4-3 4-12 4 11 4 7 4-5 4 0 4-3 4 2 4-4 4 10 4-12 4 6 4 8 4-22 4-2 4 20 4 5 4-9 4-8 4 16 4-14 4 6 4-1 4 6 4-12 4-11 4 13 4 11 4 9 4-23 4 8 4 11 4-5 4-17 4 16 4 1 4-16 4 10 4 4 4-1 4 8 4-7 4-1 4 2 4-2 4-3 4 2 4-3 4 20 4-11 4-4 4-2 4 13 4-24 4 31 4-22 4 9 4 1 4-17 4 2 4 8 4-5 4 5 4-9 4 10 4-2 4-2 4-7 4 2 4 2 4 6 4 0 4 11 4-5 4-9 4-4 4 5 4-1 4 5 4 1 4-10 4 9 4-9 4-6 4 12 4 3 4 10 4-15 4 3 4-2 4-9 4 9 4 14 4-16 4 1 4-8 4 11 4 3 4-16 4 4 4 13 4 4 4-14 4 17 4-7 4-8 4 3 4-7 4-14 4 28 4-13 4 10 4-10 4 9 4-7 4 24 4-20 4 1 4-1 4-6 4-9 4 14 4-1 4 6 4-3 4 1 4-3 4 5 4-3 4 6 4-3 4-12 4 6 4-6 4 17 4-13 4-1 4 13 4-19 4 3 4-2 4 2 4 4 4-3 4 12 4-2 4-7 4 8 4-3 4-11 4 22 4-11 4 7 4-6 4-12 4-1 4 19 4-16 4 10 4-2 4 6 4-10 4 3 4 23 4-14 4-20 4 5 4 7 4-2 4-6 4 10 4 3 4 1 4-8 4-3 4-5 4 13 4 2 4-1 4-12 4 4 4-3 4 12 4 9 4-18 4 7 4 3 4-3 4-6 4 7 4-17 4 9 4-3 4 13 4 0 4-28 4 24 4 0 4-7 4 17 4-15 4 2 4-5 4 1 4 4 4 7 4-1 4-5 4 5 4-12 4 26 4-23 4 3 4-3 4 4 4-6 4 4 4 1 4 18 4-30 4 5 4 4 4 12 4-21 4 16 4-6 4-2 4-11 4 6 4 2 4 2 4 6 4-9 4 18 4-12 4 6 4 10 4 8 4-18 4-1 4-5 4-5 4 6 4 12 4-11 4-8 4 8 4-5 4 9 4 12 4-10 4-4 4-7 4 10 4-2 4-13 4 12 4-6 4-1 4 17 4-6 4-1 4-28 4 32 4-8 4 2 4-6 4-6 4 4 4-5 4 2 4-2 4 12 4-2 4 8 4-16 4 11 4-2 4 14 4-4 4-14 4-5 4-2 4 10 4-11 4 3 4 7 4 1 4 13 4-14 4-5 4 8 4 7 4-2 4-4 4 4 4-2 4 2 4-8 4-1 4 7 4-7 4-1 4-8 4 9 4-13 4 18 4-10 4 12 4-17 4 19 4-10 4 6 4-10 4 2 4-4 4 14 4 1 4-18 4 7 4 7 4-7 4-3 4 3 4 3 4 0 4-4 4 16 4-13 4 15 4-26 4 21 4-9 4-1 4 6 4-3 4-6 4-4 4 10 4-2 4 1 4 8 4-18 4 0 4 15 4 4 4-2 4-4 4-10 4 12 4 5 4-8 4 3 4-3 4-6 4-3 4 8 4 11 4-15 4 8 4-19 4 8 4 1 4 5 4 15 4-19 4 10 4-2 4-1 4-4 4 3 4-6 4 8 4-5 4 2 4-1 4-2 4 4 4-5 4-1 4 11 4-8 4 8 4-19 4 28 4-20 4-3 4 0 4 5 4-1 4 0 4 7 4-2 4 1 4 4 4-16 4 8 4-9 4 15 4 0 4-11 4-9 4 15 4-2 4 10 4-7 4 15 4-13 4-2 4 7 4-12 4 8 4-9 4 7 4 0 4-9 4-1 4 15 4-3 4 5 4-13 4 7 4-2 4-6 4 4 4 5 4-1 4-9 4-4 4 20 4-9 4 1 4 15 4 6 4 10 4-7 4-18 4-8 4 10 4-8 4 0 4-12 4-38 4 38 4 24 4-12 4-12 4 7 4 20 4-25 4 25 4 6 4-19 4 1 4-21 4 17 4 18 4-34 4 14 4-15 4 25 4-9 4 5 4 0 4 9 4-20 4 13 4 23 4-26 4-2 4-13 4 36 4-21 4-8 4-2 4-8 4 16 4-4 4-8 4 11 4 0 4 19 4-27 4 11 4 14 4-40 4 17 4 13 4-4 4-11 4-2 4-1 4-1 4 18 4-2 4-6 4 5 4-3 4-6 4-11 4 20 4-4 4 13 4-12 4-10 4 3 4-1 4-1 4-1 4 17 4-37 4 35 4 21 4-41 4 8 4-13 4 22 4-1 4-11 4 19 4-20 4 13 4-3 4-3 4 4 4 13 4 0 4-15 4-1 4 3 4 9 4 11 4 4 4-6 4-26 4 31 4-36 4 0 4 44 4-60 4 48 4-37 4 13 4-9 4-27 4 43 4-47 4 54 4 5 4-57 4-2 4 37 4-12 4 13 4-8 4 28 4-25 4-2 4-5 4 44 4-61 4 55 4-21 4-11 4 52 4-45 4-1 4-2 4-3 4-18 4 23 4 11 4 43 4-89 4 29 4 20 4-26 4 20 4 12 4 8 4-7 4-7 4 20 4-6 4-10 4 2 4-33 4 48 4-55 4 12 4-17 4 10 4 22 4 53 4-40 4-62 4 22 4 43 4 6 4 1 4-6 4-10 4-8 4 12 4 8 4-7 4-85 4 152 4-84 4-11 4 26 4-13 4 45 4-62 4 37 4 2 4 3 4-34 4 34 4-40 4 24 4-6 4 21 4 26 4-20 4-6 4-16 4-24 4 49 4-43 4 34 4-58 4 8 4 25 4-22 4 1 4 16 4 10 4-3 4 42 4-64 4 51 4-34 4 21 4-13 4 44 4-42 4 23 4-23 4 23 4 28 4-56 4 34 4-18 4-7 4 9 4-22 4 29 4-48 4 57 4-19 4-51 4 44 4-31 4 24 4-24 4 15 4 36 4 22 4-68 4 4 4-9 4 27 4 2 4-1 4-19 4 15 4-18 4 61 4-55 4 9 4 36 4-14 4-22 4 3 4-21 4 9 4 6 4 37 4-36 4 27 4-37 4 40 4-13 4-3 4-4 4 5 4-30 4 15 4 15 4 20 4-11 4-38 4 11 4 30 4 17 4-12 4-24 4-1 4 0 4 14 4-17 4-10 4 6 4 19 4-6 4-16 4 11 4 16 4-23 4-13 4-7 4-1 4 32 4-9 4 3 4-11 4-1 4 24 4-22 4 18 4-7 4 0 4-2 4-16 4 22 4 6 4-18 4 1 4 7 4 17 4-41 4 12 4 33 4-21 4 0 4 1 4-15 4 22 4-6 4 16 4-10 4-16 4 15 4-21 4 16 4-8 4 7 4-7 4 1 4 1 4 3 4 1 4-11 4 5 4 5 4-7 4 15 4-5 4-6 4 0 4 13 4-9 4 11 4-14 4-1 4-14 4 5 4 27 4-1 4 10 4-22 4 18 4-22 4-3 4 10 4-11 4 9 4-9 4 10 4 1 4-6 4 8 4 3 4-11 4 4 4-1 4-10 4-6 4 19 4-10 4 8 4 0 4-3 4-9 4 1 4 1 4 11 4-4 4 3 4 1 4-4 4 1 4 6 4-2 4-7 4-5 4 12 4-12 4 14 4-5 4-9 4-1 4 12 4-7 4 15 4-13 4-13 4 21 4-20 4 11 4 4 4-1 4-11 4 10 4-8 4 7 4 9 4-14 4 10 4 2 4-2 4-3 4-9 4 13 4 1 4 12 4-25 4 10 4 21 4-31 4 4 4 7 4-17 4 20 4-2 4 4 4-8 4 1 4 4 4-2 4-3 4 3 4-2 4-1 4-3 4-4 4 12 4-10 4-2 4 2 4 0 4-7 4 7 4 4 4-12 4-7 4 26 4-9 4 4 4-21 4 16 4-21 4 25 4 1 4-7 4 14 4-17 4 0 4 9 4 7 4-8 4-6 4 8 4-2 4-14 4 24 4-7 4-7 4 11 4 0 4-9 4 1 4 13 4-4 4-16 4 6 4-14 4 30 4-4 4-10 4-1 4-14 4 8 4 29 4-39 4 17 4-23 4 12 4 8 4-11 4 17 4 0 4-24 4 21 4 13 4-1 4-12 4 10 4-16 4 16 4-1 4-14 4-16 4 15 4 10 4 0 4-1 4-4 4 2 4-7 4 1 4-1 4-5 4 4 4 9 4 0 4 0 4 3 4-4 4-13 4 5 4 10 4 10 4-20 4 5 4-2 4 6 4-7 4 0 4 7 4-17 4 16 4-8 4 9 4 16 4-17 4-1 4 3 4 0 4-24 4 18 4 9 4-11 4-10 4 30 4-12 4-3 4-15 4 10 4 7 4-3 4 3 4-4 4-7 4-2 4 13 4-9 4 8 4 5 4-1 4-3 4 7 4-5 4-16 4 10 4-9 4 8 4 1 4 10 4-8 4-7 4-10 4 16 4 5 4 4 4-8 4-4 4 8 4-1 4-4 4 4 4-6 4-4 4 6 4 2 4 5 4 10 4-23 4 3 4 8 4-6 4 7 4 3 4 0 4-2 4-3 4-11 4 6 4 7 4-5 4 4 4-8 4-2 4 12 4-16 4 16 4 3 4-12 4-1 4-2 4 6 4 1 4-1 4-4 4 3 4 9 4-5 4 2 4-8 4 1 4-4 4 4 4-8 4 11 4-18 4 25 4-6 4-1 4-6 4 5 4 8 4-11 4 9 4 1 4 0 4-5 4 3 4 5 4-12 4-11 4 15 4-5 4-12" fill="none" stroke="#000000" stroke-width="10.0" stroke-linejoin="round"/>
<path transform="scale(.1)" d="M6930 6609l0 66 3-66" fill="none" stroke="#000000" stroke-width="10.0" stroke-linejoin="round"/>
<path transform="scale(.1)" d="M7919 6541l0 153 2-85" fill="none" stroke="#000000" stroke-width="10.0" stroke-linejoin="round"/>
<path transform="scale(.1)" d="M8696 6609l0-163 3 163 118 0 16-125 2 178 3-53 24-131 3 172 3-41" fill="none" stroke="#000000" stroke-width="10.0" stroke-linejoin="round"/>
<path transform="scale(.1)" d="M9109 6610l0-213 4 213 178 0 3-278 4 278 26 0 0 452 4 0" fill="none" stroke="#000000" stroke-width="10.0" stroke-linejoin="round"/>
<path transform="scale(.1)" d="M9493 6610l1-128 3 128 35 0 2 132 2-132 153 0 2-109 3 109 79 0 3-96 2 96 1213 0 2 61 2-61" fill="none" stroke="#000000" stroke-width="10.0" stroke-linejoin="round"/>
<text x="665.9" y="52.4" font-size="11" text-anchor="end" fill="#000">40</text>
<text x="665.9" y="64.7" font-size="11" text-anchor="end" fill="#000">20</text>
<text x="665.9" y="77.3" font-size="11" text-anchor="end" fill="#000">0</text>
<text x="665.9" y="89.9" font-size="11" text-anchor="end" fill="#000">-20</text>
<text x="665.9" y="102.3" font-size="11" text-anchor="end" fill="#000">-40</text>
<text x="665.9" y="114.5" font-size="11" text-anchor="end" fill="#000">-60</text>
<text x="665.9" y="198.9" font-size="11" text-anchor="end" fill="#000">100</text>
<text x="665.9" y="217.7" font-size="11" text-anchor="end" fill="#000">0</text>
<text x="665.9" y="236" font-size="11" text-anchor="end" fill="#000">-100</text>
<text x="665.9" y="254.7" font-size="11" text-anchor="end" fill="#000">-200</text>
<text x="665.9" y="343.6" font-size="11" text-anchor="end" fill="#000">10</text>
<text x="665.9" y="359.3" font-size="11" text-anchor="end" fill="#000">5</text>
<text x="665.9" y="374.9" font-size="11" text-anchor="end" fill="#000">0</text>
<text x="665.9" y="390.6" font-size="11" text-anchor="end" fill="#000">-5</text>
<text x="665.9" y="406.3" font-size="11" text-anchor="end" fill="#000">-10</text>
<text x="665.9" y="504.2" font-size="11" text-anchor="end" fill="#000">1.5</text>
<text x="665.9" y="523.8" font-size="11" text-anchor="end" fill="#000">1.0</text>
<text x="665.9" y="543.9" font-size="11" text-anchor="end" fill="#000">0.5</text>
<text x="665.9" y="641.7" font-size="11" text-anchor="end" fill="#000">2</text>
<text x="665.9" y="664.5" font-size="11" text-anchor="end" fill="#000">0</text>
<text x="665.9" y="687.2" font-size="11" text-anchor="end" fill="#000">-2</text>
<text x="665.9" y="709" font-size="11" text-anchor="end" fill="#000">-4</text>
<text x="1124.5" y="426.7" font-size="11" text-anchor="start" fill="#000">10</text>
<text x="1124.5" y="451.7" font-size="11" text-anchor="start" fill="#000">0</text>
<text x="1124.5" y="475.9" font-size="11" text-anchor="start" fill="#000">-10</text>
<text x="1124.5" y="582.6" font-size="11" text-anchor="start" fill="#000">1</text>
<text x="1124.5" y="603.5" font-size="11" text-anchor="start" fill="#000">0</text>
<text x="1124.5" y="624.3" font-size="11" text-anchor="start" fill="#000">-1</text>
<text x="1125" y="129.6" font-size="11" text-anchor="start" fill="#000">10<tspan font-size="8" dy="-4.5">4</tspan></text>
<text x="1125" y="150.5" font-size="11" text-anchor="start" fill="#000">10<tspan font-size="8" dy="-4.5">3</tspan></text>
<text x="1125" y="171.5" font-size="11" text-anchor="start" fill="#000">10<tspan font-size="8" dy="-4.5">2</tspan></text>
<text x="1125" y="191.4" font-size="11" text-anchor="start" fill="#000">10<tspan font-size="8" dy="-4.5">1</tspan></text>
<text x="639.8" y="79.2" font-size="11" text-anchor="middle" fill="#000" transform="rotate(-90 639.8 79.2)">B<tspan font-size="8.5" dy="4.3">LMN</tspan><tspan font-size="11" dy="-4.3"> [nT]</tspan></text>
<text x="1155.5" y="152.9" font-size="11" text-anchor="middle" fill="#000" transform="rotate(-90 1155.5 152.9)">Energy (eV)</text>
<text x="637.2" y="227.7" font-size="11" text-anchor="middle" fill="#000" transform="rotate(-90 637.2 227.7)">V<tspan font-size="8.5" dy="4.3">e LMN</tspan><tspan font-size="11" dy="-4.3"> [km/s]</tspan></text>
<text x="1159.2" y="300.7" font-size="11" text-anchor="middle" fill="#000" transform="rotate(-90 1159.2 300.7)">T<tspan font-size="8.5" dy="4.3">e</tspan><tspan font-size="11" dy="-4.3"> [eV]</tspan></text>
<text x="641.5" y="374.7" font-size="11" text-anchor="middle" fill="#000" transform="rotate(-90 641.5 374.7)">E<tspan font-size="8.5" dy="4.3">LMN</tspan><tspan font-size="11" dy="-4.3">  [mV m<tspan font-size="8.5" dy="-4.5">-1</tspan><tspan font-size="11" dy="4.5">]</tspan></tspan></text>
<text x="1155.4" y="448.3" font-size="11" text-anchor="middle" fill="#000" transform="rotate(-90 1155.4 448.3)">E<tspan font-size="8.5" dy="4.3">M</tspan><tspan font-size="11" dy="-4.3"> [mW m<tspan font-size="8.5" dy="-4.5">-2</tspan><tspan font-size="11" dy="4.5">]</tspan></tspan></text>
<text x="645" y="521.8" font-size="11" text-anchor="middle" fill="#000" transform="rotate(-90 645 521.8)">|J| [&#956;A m<tspan font-size="8.5" dy="-4.5">-2</tspan><tspan font-size="11" dy="4.5">]</tspan></text>
<text x="1159" y="594.9" font-size="11" text-anchor="middle" fill="#000" transform="rotate(-90 1159 594.9)">J [&#956;A m<tspan font-size="8.5" dy="-4.5">-2</tspan><tspan font-size="11" dy="4.5">]</tspan></text>
<text x="642" y="670.5" font-size="11" text-anchor="middle" fill="#000" transform="rotate(-90 642 670.5)">J*E' [nW m<tspan font-size="8.5" dy="-4.5">-3</tspan><tspan font-size="11" dy="4.5">]</tspan></text>
<line x1="674.4" y1="54.5" x2="692.2" y2="54.5" stroke="#4040ff" stroke-width="1.2"/>
<text x="693.6" y="58" font-size="10" text-anchor="start" fill="#0000ff">B<tspan font-size="7" dy="3.8">L</tspan></text>
<line x1="674.4" y1="79" x2="692.2" y2="79" stroke="#50f050" stroke-width="1.2"/>
<text x="693.6" y="82.5" font-size="10" text-anchor="start" fill="#00ee00">B<tspan font-size="7" dy="3.8">M</tspan></text>
<line x1="674.4" y1="103.7" x2="692.2" y2="103.7" stroke="#ff8080" stroke-width="1.2"/>
<text x="693.6" y="107.2" font-size="10" text-anchor="start" fill="#ff0000">B<tspan font-size="7" dy="3.8">N</tspan></text>
<line x1="674.4" y1="198.1" x2="692.2" y2="198.1" stroke="#4040ff" stroke-width="1.2"/>
<text x="693.6" y="201.6" font-size="10" text-anchor="start" fill="#0000ff">V<tspan font-size="7" dy="3.8">L</tspan></text>
<line x1="674.4" y1="214" x2="692.2" y2="214" stroke="#50f050" stroke-width="1.2"/>
<text x="693.6" y="217.5" font-size="10" text-anchor="start" fill="#00ee00">V<tspan font-size="7" dy="3.8">M</tspan></text>
<line x1="674.4" y1="230" x2="692.2" y2="230" stroke="#ff8080" stroke-width="1.2"/>
<text x="693.6" y="233.5" font-size="10" text-anchor="start" fill="#ff0000">V<tspan font-size="7" dy="3.8">N</tspan></text>
<line x1="674.4" y1="271.2" x2="692.2" y2="271.2" stroke="#ff4040" stroke-width="1.2"/>
<text x="693.3" y="274.8" font-size="9.3" text-anchor="start" fill="#ff0000">T<tspan font-size="7.5" dy="4">||</tspan></text>
<line x1="674.4" y1="286.1" x2="692.2" y2="286.1" stroke="#303030" stroke-width="2"/>
<text x="693.3" y="289.7" font-size="9.3" text-anchor="start" fill="#000">T<tspan font-size="7.5" dy="4">&#x22a5;</tspan></text>
<line x1="674.4" y1="342.3" x2="692.2" y2="342.3" stroke="#3030ff" stroke-width="1.2"/>
<text x="695.8" y="345.8" font-size="9.3" text-anchor="start" fill="#0000ff">E<tspan font-size="7" dy="3.5">L</tspan></text>
<line x1="674.4" y1="352.5" x2="692.2" y2="352.5" stroke="#50f050" stroke-width="1.2"/>
<text x="695.8" y="356" font-size="9.3" text-anchor="start" fill="#00ee00">E<tspan font-size="7" dy="3.5">M</tspan></text>
<line x1="674.4" y1="362" x2="692.2" y2="362" stroke="#ff4040" stroke-width="1.2"/>
<text x="695.8" y="365.5" font-size="9.3" text-anchor="start" fill="#ff0000">E<tspan font-size="7" dy="3.5">N</tspan></text>
<line x1="674.4" y1="417.2" x2="692.2" y2="417.2" stroke="#404040" stroke-width="1.2"/>
<text x="692.8" y="420.8" font-size="9.3" text-anchor="start" fill="#000">-(VexB)<tspan font-size="6.5" dy="2.5">M</tspan></text>
<line x1="674.4" y1="427.8" x2="692.2" y2="427.8" stroke="#50f050" stroke-width="1.2"/>
<text x="693.5" y="431.4" font-size="9.3" text-anchor="start" fill="#00ee00">E<tspan font-size="6.5" dy="3">M</tspan></text>
<line x1="674.4" y1="500.5" x2="692.2" y2="500.5" stroke="#606060" stroke-width="1.2"/>
<text x="693.7" y="504" font-size="9.3" text-anchor="start" fill="#000">|J|</text>
<line x1="674.4" y1="562.9" x2="692.2" y2="562.9" stroke="#ff00ff" stroke-width="1.5" stroke-dasharray="1.5 1"/>
<text x="693.5" y="566" font-size="9.5" text-anchor="start" fill="#ff00ff">t</text>
<text x="701.5" y="566" font-size="9.5" text-anchor="start" fill="#ff00ff">maxJ</text>
<line x1="674.4" y1="570.3" x2="692.2" y2="570.3" stroke="#3030ff" stroke-width="1.2"/>
<text x="693.5" y="573.6" font-size="9.5" text-anchor="start" fill="#0000ff">J<tspan font-size="6" dy="2.5">L</tspan></text>
<line x1="674.4" y1="577.7" x2="692.2" y2="577.7" stroke="#50f050" stroke-width="1.2"/>
<text x="693.5" y="581" font-size="9.5" text-anchor="start" fill="#00ee00">J<tspan font-size="6" dy="2.5">M</tspan></text>
<line x1="674.4" y1="585" x2="692.2" y2="585" stroke="#ff4040" stroke-width="1.2"/>
<text x="693.5" y="588.3" font-size="9.5" text-anchor="start" fill="#ff0000">J<tspan font-size="6" dy="2.5">N</tspan></text>
<line x1="674.4" y1="647.4" x2="692.2" y2="647.4" stroke="#404040" stroke-width="1.2"/>
<text x="696.2" y="651" font-size="9.3" text-anchor="start" fill="#000">J*E'</text>
<path d="M75.65 168.2v-3.3M75.65 33.4v3.3M100.9 168.2v-3.3M100.9 33.4v3.3M126.15 168.2v-3.3M126.15 33.4v3.3M151.4 168.2v-11M151.4 33.4v11M176.65 168.2v-3.3M176.65 33.4v3.3M201.9 168.2v-3.3M201.9 33.4v3.3M227.15 168.2v-3.3M227.15 33.4v3.3M252.4 168.2v-11M252.4 33.4v11M277.65 168.2v-3.3M277.65 33.4v3.3M302.9 168.2v-3.3M302.9 33.4v3.3M328.15 168.2v-3.3M328.15 33.4v3.3M353.4 168.2v-11M353.4 33.4v11M378.65 168.2v-3.3M378.65 33.4v3.3M403.9 168.2v-3.3M403.9 33.4v3.3M429.15 168.2v-3.3M429.15 33.4v3.3M454.4 168.2v-11M454.4 33.4v11M479.65 168.2v-3.3M479.65 33.4v3.3M504.9 168.2v-3.3M504.9 33.4v3.3M75.65 245v-3.3M75.65 176.6v3.3M100.9 245v-3.3M100.9 176.6v3.3M126.15 245v-3.3M126.15 176.6v3.3M151.4 245v-11M151.4 176.6v11M176.65 245v-3.3M176.65 176.6v3.3M201.9 245v-3.3M201.9 176.6v3.3M227.15 245v-3.3M227.15 176.6v3.3M252.4 245v-11M252.4 176.6v11M277.65 245v-3.3M277.65 176.6v3.3M302.9 245v-3.3M302.9 176.6v3.3M328.15 245v-3.3M328.15 176.6v3.3M353.4 245v-11M353.4 176.6v11M378.65 245v-3.3M378.65 176.6v3.3M403.9 245v-3.3M403.9 176.6v3.3M429.15 245v-3.3M429.15 176.6v3.3M454.4 245v-11M454.4 176.6v11M479.65 245v-3.3M479.65 176.6v3.3M504.9 245v-3.3M504.9 176.6v3.3M75.65 312.5v-3.3M75.65 245v3.3M100.9 312.5v-3.3M100.9 245v3.3M126.15 312.5v-3.3M126.15 245v3.3M151.4 312.5v-11M151.4 245v11M176.65 312.5v-3.3M176.65 245v3.3M201.9 312.5v-3.3M201.9 245v3.3M227.15 312.5v-3.3M227.15 245v3.3M252.4 312.5v-11M252.4 245v11M277.65 312.5v-3.3M277.65 245v3.3M302.9 312.5v-3.3M302.9 245v3.3M328.15 312.5v-3.3M328.15 245v3.3M353.4 312.5v-11M353.4 245v11M378.65 312.5v-3.3M378.65 245v3.3M403.9 312.5v-3.3M403.9 245v3.3M429.15 312.5v-3.3M429.15 245v3.3M454.4 312.5v-11M454.4 245v11M479.65 312.5v-3.3M479.65 245v3.3M504.9 312.5v-3.3M504.9 245v3.3M75.65 382v-3.3M75.65 312.5v3.3M100.9 382v-3.3M100.9 312.5v3.3M126.15 382v-3.3M126.15 312.5v3.3M151.4 382v-11M151.4 312.5v11M176.65 382v-3.3M176.65 312.5v3.3M201.9 382v-3.3M201.9 312.5v3.3M227.15 382v-3.3M227.15 312.5v3.3M252.4 382v-11M252.4 312.5v11M277.65 382v-3.3M277.65 312.5v3.3M302.9 382v-3.3M302.9 312.5v3.3M328.15 382v-3.3M328.15 312.5v3.3M353.4 382v-11M353.4 312.5v11M378.65 382v-3.3M378.65 312.5v3.3M403.9 382v-3.3M403.9 312.5v3.3M429.15 382v-3.3M429.15 312.5v3.3M454.4 382v-11M454.4 312.5v11M479.65 382v-3.3M479.65 312.5v3.3M504.9 382v-3.3M504.9 312.5v3.3M75.65 449.5v-3.3M75.65 382v3.3M100.9 449.5v-3.3M100.9 382v3.3M126.15 449.5v-3.3M126.15 382v3.3M151.4 449.5v-11M151.4 382v11M176.65 449.5v-3.3M176.65 382v3.3M201.9 449.5v-3.3M201.9 382v3.3M227.15 449.5v-3.3M227.15 382v3.3M252.4 449.5v-11M252.4 382v11M277.65 449.5v-3.3M277.65 382v3.3M302.9 449.5v-3.3M302.9 382v3.3M328.15 449.5v-3.3M328.15 382v3.3M353.4 449.5v-11M353.4 382v11M378.65 449.5v-3.3M378.65 382v3.3M403.9 449.5v-3.3M403.9 382v3.3M429.15 449.5v-3.3M429.15 382v3.3M454.4 449.5v-11M454.4 382v11M479.65 449.5v-3.3M479.65 382v3.3M504.9 449.5v-3.3M504.9 382v3.3M75.65 518v-3.3M75.65 449.5v3.3M100.9 518v-3.3M100.9 449.5v3.3M126.15 518v-3.3M126.15 449.5v3.3M151.4 518v-11M151.4 449.5v11M176.65 518v-3.3M176.65 449.5v3.3M201.9 518v-3.3M201.9 449.5v3.3M227.15 518v-3.3M227.15 449.5v3.3M252.4 518v-11M252.4 449.5v11M277.65 518v-3.3M277.65 449.5v3.3M302.9 518v-3.3M302.9 449.5v3.3M328.15 518v-3.3M328.15 449.5v3.3M353.4 518v-11M353.4 449.5v11M378.65 518v-3.3M378.65 449.5v3.3M403.9 518v-3.3M403.9 449.5v3.3M429.15 518v-3.3M429.15 449.5v3.3M454.4 518v-11M454.4 449.5v11M479.65 518v-3.3M479.65 449.5v3.3M504.9 518v-3.3M504.9 449.5v3.3M75.65 586.5v-3.3M75.65 518v3.3M100.9 586.5v-3.3M100.9 518v3.3M126.15 586.5v-3.3M126.15 518v3.3M151.4 586.5v-11M151.4 518v11M176.65 586.5v-3.3M176.65 518v3.3M201.9 586.5v-3.3M201.9 518v3.3M227.15 586.5v-3.3M227.15 518v3.3M252.4 586.5v-11M252.4 518v11M277.65 586.5v-3.3M277.65 518v3.3M302.9 586.5v-3.3M302.9 518v3.3M328.15 586.5v-3.3M328.15 518v3.3M353.4 586.5v-11M353.4 518v11M378.65 586.5v-3.3M378.65 518v3.3M403.9 586.5v-3.3M403.9 518v3.3M429.15 586.5v-3.3M429.15 518v3.3M454.4 586.5v-11M454.4 518v11M479.65 586.5v-3.3M479.65 518v3.3M504.9 586.5v-3.3M504.9 518v3.3M75.65 655v-3.3M75.65 586.5v3.3M100.9 655v-3.3M100.9 586.5v3.3M126.15 655v-3.3M126.15 586.5v3.3M151.4 655v-11M151.4 586.5v11M176.65 655v-3.3M176.65 586.5v3.3M201.9 655v-3.3M201.9 586.5v3.3M227.15 655v-3.3M227.15 586.5v3.3M252.4 655v-11M252.4 586.5v11M277.65 655v-3.3M277.65 586.5v3.3M302.9 655v-3.3M302.9 586.5v3.3M328.15 655v-3.3M328.15 586.5v3.3M353.4 655v-11M353.4 586.5v11M378.65 655v-3.3M378.65 586.5v3.3M403.9 655v-3.3M403.9 586.5v3.3M429.15 655v-3.3M429.15 586.5v3.3M454.4 655v-11M454.4 586.5v11M479.65 655v-3.3M479.65 586.5v3.3M504.9 655v-3.3M504.9 586.5v3.3M75.65 723v-3.3M75.65 655v3.3M100.9 723v-3.3M100.9 655v3.3M126.15 723v-3.3M126.15 655v3.3M151.4 723v-11M151.4 655v11M176.65 723v-3.3M176.65 655v3.3M201.9 723v-3.3M201.9 655v3.3M227.15 723v-3.3M227.15 655v3.3M252.4 723v-11M252.4 655v11M277.65 723v-3.3M277.65 655v3.3M302.9 723v-3.3M302.9 655v3.3M328.15 723v-3.3M328.15 655v3.3M353.4 723v-11M353.4 655v11M378.65 723v-3.3M378.65 655v3.3M403.9 723v-3.3M403.9 655v3.3M429.15 723v-3.3M429.15 655v3.3M454.4 723v-11M454.4 655v11M479.65 723v-3.3M479.65 655v3.3M504.9 723v-3.3M504.9 655v3.3M672.75 115.8v-3.3M672.75 42v3.3M698 115.8v-3.3M698 42v3.3M723.25 115.8v-3.3M723.25 42v3.3M748.5 115.8v-11M748.5 42v11M773.75 115.8v-3.3M773.75 42v3.3M799 115.8v-3.3M799 42v3.3M824.25 115.8v-3.3M824.25 42v3.3M849.5 115.8v-11M849.5 42v11M874.75 115.8v-3.3M874.75 42v3.3M900 115.8v-3.3M900 42v3.3M925.25 115.8v-3.3M925.25 42v3.3M950.5 115.8v-11M950.5 42v11M975.75 115.8v-3.3M975.75 42v3.3M1001 115.8v-3.3M1001 42v3.3M1026.25 115.8v-3.3M1026.25 42v3.3M1051.5 115.8v-11M1051.5 42v11M1076.75 115.8v-3.3M1076.75 42v3.3M1102 115.8v-3.3M1102 42v3.3M672.75 189.2v-3.3M672.75 115.8v3.3M698 189.2v-3.3M698 115.8v3.3M723.25 189.2v-3.3M723.25 115.8v3.3M748.5 189.2v-11M748.5 115.8v11M773.75 189.2v-3.3M773.75 115.8v3.3M799 189.2v-3.3M799 115.8v3.3M824.25 189.2v-3.3M824.25 115.8v3.3M849.5 189.2v-11M849.5 115.8v11M874.75 189.2v-3.3M874.75 115.8v3.3M900 189.2v-3.3M900 115.8v3.3M925.25 189.2v-3.3M925.25 115.8v3.3M950.5 189.2v-11M950.5 115.8v11M975.75 189.2v-3.3M975.75 115.8v3.3M1001 189.2v-3.3M1001 115.8v3.3M1026.25 189.2v-3.3M1026.25 115.8v3.3M1051.5 189.2v-11M1051.5 115.8v11M1076.75 189.2v-3.3M1076.75 115.8v3.3M1102 189.2v-3.3M1102 115.8v3.3M672.75 263.2v-3.3M672.75 189.2v3.3M698 263.2v-3.3M698 189.2v3.3M723.25 263.2v-3.3M723.25 189.2v3.3M748.5 263.2v-11M748.5 189.2v11M773.75 263.2v-3.3M773.75 189.2v3.3M799 263.2v-3.3M799 189.2v3.3M824.25 263.2v-3.3M824.25 189.2v3.3M849.5 263.2v-11M849.5 189.2v11M874.75 263.2v-3.3M874.75 189.2v3.3M900 263.2v-3.3M900 189.2v3.3M925.25 263.2v-3.3M925.25 189.2v3.3M950.5 263.2v-11M950.5 189.2v11M975.75 263.2v-3.3M975.75 189.2v3.3M1001 263.2v-3.3M1001 189.2v3.3M1026.25 263.2v-3.3M1026.25 189.2v3.3M1051.5 263.2v-11M1051.5 189.2v11M1076.75 263.2v-3.3M1076.75 189.2v3.3M1102 263.2v-3.3M1102 189.2v3.3M672.75 337.6v-3.3M672.75 263.2v3.3M698 337.6v-3.3M698 263.2v3.3M723.25 337.6v-3.3M723.25 263.2v3.3M748.5 337.6v-11M748.5 263.2v11M773.75 337.6v-3.3M773.75 263.2v3.3M799 337.6v-3.3M799 263.2v3.3M824.25 337.6v-3.3M824.25 263.2v3.3M849.5 337.6v-11M849.5 263.2v11M874.75 337.6v-3.3M874.75 263.2v3.3M900 337.6v-3.3M900 263.2v3.3M925.25 337.6v-3.3M925.25 263.2v3.3M950.5 337.6v-11M950.5 263.2v11M975.75 337.6v-3.3M975.75 263.2v3.3M1001 337.6v-3.3M1001 263.2v3.3M1026.25 337.6v-3.3M1026.25 263.2v3.3M1051.5 337.6v-11M1051.5 263.2v11M1076.75 337.6v-3.3M1076.75 263.2v3.3M1102 337.6v-3.3M1102 263.2v3.3M672.75 411.3v-3.3M672.75 337.6v3.3M698 411.3v-3.3M698 337.6v3.3M723.25 411.3v-3.3M723.25 337.6v3.3M748.5 411.3v-11M748.5 337.6v11M773.75 411.3v-3.3M773.75 337.6v3.3M799 411.3v-3.3M799 337.6v3.3M824.25 411.3v-3.3M824.25 337.6v3.3M849.5 411.3v-11M849.5 337.6v11M874.75 411.3v-3.3M874.75 337.6v3.3M900 411.3v-3.3M900 337.6v3.3M925.25 411.3v-3.3M925.25 337.6v3.3M950.5 411.3v-11M950.5 337.6v11M975.75 411.3v-3.3M975.75 337.6v3.3M1001 411.3v-3.3M1001 337.6v3.3M1026.25 411.3v-3.3M1026.25 337.6v3.3M1051.5 411.3v-11M1051.5 337.6v11M1076.75 411.3v-3.3M1076.75 337.6v3.3M1102 411.3v-3.3M1102 337.6v3.3M672.75 485v-3.3M672.75 411.3v3.3M698 485v-3.3M698 411.3v3.3M723.25 485v-3.3M723.25 411.3v3.3M748.5 485v-11M748.5 411.3v11M773.75 485v-3.3M773.75 411.3v3.3M799 485v-3.3M799 411.3v3.3M824.25 485v-3.3M824.25 411.3v3.3M849.5 485v-11M849.5 411.3v11M874.75 485v-3.3M874.75 411.3v3.3M900 485v-3.3M900 411.3v3.3M925.25 485v-3.3M925.25 411.3v3.3M950.5 485v-11M950.5 411.3v11M975.75 485v-3.3M975.75 411.3v3.3M1001 485v-3.3M1001 411.3v3.3M1026.25 485v-3.3M1026.25 411.3v3.3M1051.5 485v-11M1051.5 411.3v11M1076.75 485v-3.3M1076.75 411.3v3.3M1102 485v-3.3M1102 411.3v3.3M672.75 558.6v-3.3M672.75 485v3.3M698 558.6v-3.3M698 485v3.3M723.25 558.6v-3.3M723.25 485v3.3M748.5 558.6v-11M748.5 485v11M773.75 558.6v-3.3M773.75 485v3.3M799 558.6v-3.3M799 485v3.3M824.25 558.6v-3.3M824.25 485v3.3M849.5 558.6v-11M849.5 485v11M874.75 558.6v-3.3M874.75 485v3.3M900 558.6v-3.3M900 485v3.3M925.25 558.6v-3.3M925.25 485v3.3M950.5 558.6v-11M950.5 485v11M975.75 558.6v-3.3M975.75 485v3.3M1001 558.6v-3.3M1001 485v3.3M1026.25 558.6v-3.3M1026.25 485v3.3M1051.5 558.6v-11M1051.5 485v11M1076.75 558.6v-3.3M1076.75 485v3.3M1102 558.6v-3.3M1102 485v3.3M672.75 632.3v-3.3M672.75 558.6v3.3M698 632.3v-3.3M698 558.6v3.3M723.25 632.3v-3.3M723.25 558.6v3.3M748.5 632.3v-11M748.5 558.6v11M773.75 632.3v-3.3M773.75 558.6v3.3M799 632.3v-3.3M799 558.6v3.3M824.25 632.3v-3.3M824.25 558.6v3.3M849.5 632.3v-11M849.5 558.6v11M874.75 632.3v-3.3M874.75 558.6v3.3M900 632.3v-3.3M900 558.6v3.3M925.25 632.3v-3.3M925.25 558.6v3.3M950.5 632.3v-11M950.5 558.6v11M975.75 632.3v-3.3M975.75 558.6v3.3M1001 632.3v-3.3M1001 558.6v3.3M1026.25 632.3v-3.3M1026.25 558.6v3.3M1051.5 632.3v-11M1051.5 558.6v11M1076.75 632.3v-3.3M1076.75 558.6v3.3M1102 632.3v-3.3M1102 558.6v3.3M672.75 706.3v-3.3M672.75 632.3v3.3M698 706.3v-3.3M698 632.3v3.3M723.25 706.3v-3.3M723.25 632.3v3.3M748.5 706.3v-11M748.5 632.3v11M773.75 706.3v-3.3M773.75 632.3v3.3M799 706.3v-3.3M799 632.3v3.3M824.25 706.3v-3.3M824.25 632.3v3.3M849.5 706.3v-11M849.5 632.3v11M874.75 706.3v-3.3M874.75 632.3v3.3M900 706.3v-3.3M900 632.3v3.3M925.25 706.3v-3.3M925.25 632.3v3.3M950.5 706.3v-11M950.5 632.3v11M975.75 706.3v-3.3M975.75 632.3v3.3M1001 706.3v-3.3M1001 632.3v3.3M1026.25 706.3v-3.3M1026.25 632.3v3.3M1051.5 706.3v-11M1051.5 632.3v11M1076.75 706.3v-3.3M1076.75 632.3v3.3M1102 706.3v-3.3M1102 632.3v3.3" stroke="#000" stroke-width="0.9" fill="none"/>
<path d="M71.5 165.42h2.5M525.2 165.42h-2.5M71.5 157.18h2.5M525.2 157.18h-2.5M71.5 148.93h2.5M525.2 148.93h-2.5M71.5 140.68h2.5M525.2 140.68h-2.5M71.5 132.44h2.5M525.2 132.44h-2.5M71.5 124.19h2.5M525.2 124.19h-2.5M71.5 115.95h2.5M525.2 115.95h-2.5M71.5 107.7h2.5M525.2 107.7h-2.5M71.5 99.45h2.5M525.2 99.45h-2.5M71.5 91.21h2.5M525.2 91.21h-2.5M71.5 82.96h2.5M525.2 82.96h-2.5M71.5 74.72h2.5M525.2 74.72h-2.5M71.5 66.47h2.5M525.2 66.47h-2.5M71.5 58.22h2.5M525.2 58.22h-2.5M71.5 49.98h2.5M525.2 49.98h-2.5M71.5 41.73h2.5M525.2 41.73h-2.5M71.5 148.93h6M525.2 148.93h-6M71.5 107.7h6M525.2 107.7h-6M71.5 66.47h6M525.2 66.47h-6M71.5 242.94h2.5M525.2 242.94h-2.5M71.5 240.05h2.5M525.2 240.05h-2.5M71.5 237.16h2.5M525.2 237.16h-2.5M71.5 234.28h2.5M525.2 234.28h-2.5M71.5 231.39h2.5M525.2 231.39h-2.5M71.5 228.5h2.5M525.2 228.5h-2.5M71.5 225.61h2.5M525.2 225.61h-2.5M71.5 222.72h2.5M525.2 222.72h-2.5M71.5 219.84h2.5M525.2 219.84h-2.5M71.5 216.95h2.5M525.2 216.95h-2.5M71.5 214.06h2.5M525.2 214.06h-2.5M71.5 211.18h2.5M525.2 211.18h-2.5M71.5 208.29h2.5M525.2 208.29h-2.5M71.5 205.4h2.5M525.2 205.4h-2.5M71.5 202.51h2.5M525.2 202.51h-2.5M71.5 199.62h2.5M525.2 199.62h-2.5M71.5 196.74h2.5M525.2 196.74h-2.5M71.5 193.85h2.5M525.2 193.85h-2.5M71.5 190.96h2.5M525.2 190.96h-2.5M71.5 188.08h2.5M525.2 188.08h-2.5M71.5 185.19h2.5M525.2 185.19h-2.5M71.5 182.3h2.5M525.2 182.3h-2.5M71.5 179.41h2.5M525.2 179.41h-2.5M71.5 240.05h6M525.2 240.05h-6M71.5 228.5h6M525.2 228.5h-6M71.5 216.95h6M525.2 216.95h-6M71.5 205.4h6M525.2 205.4h-6M71.5 193.85h6M525.2 193.85h-6M71.5 182.3h6M525.2 182.3h-6M71.5 307.43h2.5M525.2 307.43h-2.5M71.5 304h2.5M525.2 304h-2.5M71.5 301.56h2.5M525.2 301.56h-2.5M71.5 299.67h2.5M525.2 299.67h-2.5M71.5 298.13h2.5M525.2 298.13h-2.5M71.5 296.82h2.5M525.2 296.82h-2.5M71.5 295.69h2.5M525.2 295.69h-2.5M71.5 294.69h2.5M525.2 294.69h-2.5M71.5 293.7h6M525.2 293.7h-6M71.5 287.83h2.5M525.2 287.83h-2.5M71.5 284.4h2.5M525.2 284.4h-2.5M71.5 281.96h2.5M525.2 281.96h-2.5M71.5 280.07h2.5M525.2 280.07h-2.5M71.5 278.53h2.5M525.2 278.53h-2.5M71.5 277.22h2.5M525.2 277.22h-2.5M71.5 276.09h2.5M525.2 276.09h-2.5M71.5 275.09h2.5M525.2 275.09h-2.5M71.5 274.2h6M525.2 274.2h-6M71.5 268.33h2.5M525.2 268.33h-2.5M71.5 264.9h2.5M525.2 264.9h-2.5M71.5 262.46h2.5M525.2 262.46h-2.5M71.5 260.57h2.5M525.2 260.57h-2.5M71.5 259.03h2.5M525.2 259.03h-2.5M71.5 257.72h2.5M525.2 257.72h-2.5M71.5 256.59h2.5M525.2 256.59h-2.5M71.5 255.59h2.5M525.2 255.59h-2.5M71.5 254.7h6M525.2 254.7h-6M71.5 248.83h2.5M525.2 248.83h-2.5M71.5 378.44h2.5M525.2 378.44h-2.5M71.5 374.39h2.5M525.2 374.39h-2.5M71.5 370.35h2.5M525.2 370.35h-2.5M71.5 366.31h2.5M525.2 366.31h-2.5M71.5 362.27h2.5M525.2 362.27h-2.5M71.5 358.23h2.5M525.2 358.23h-2.5M71.5 354.18h2.5M525.2 354.18h-2.5M71.5 350.14h2.5M525.2 350.14h-2.5M71.5 346.1h2.5M525.2 346.1h-2.5M71.5 342.06h2.5M525.2 342.06h-2.5M71.5 338.01h2.5M525.2 338.01h-2.5M71.5 333.97h2.5M525.2 333.97h-2.5M71.5 329.93h2.5M525.2 329.93h-2.5M71.5 325.88h2.5M525.2 325.88h-2.5M71.5 321.84h2.5M525.2 321.84h-2.5M71.5 317.8h2.5M525.2 317.8h-2.5M71.5 313.76h2.5M525.2 313.76h-2.5M71.5 366.31h6M525.2 366.31h-6M71.5 350.14h6M525.2 350.14h-6M71.5 333.97h6M525.2 333.97h-6M71.5 317.8h6M525.2 317.8h-6M71.5 447.45h2.5M525.2 447.45h-2.5M71.5 445h2.5M525.2 445h-2.5M71.5 442.56h2.5M525.2 442.56h-2.5M71.5 440.11h2.5M525.2 440.11h-2.5M71.5 437.66h2.5M525.2 437.66h-2.5M71.5 435.21h2.5M525.2 435.21h-2.5M71.5 432.76h2.5M525.2 432.76h-2.5M71.5 430.32h2.5M525.2 430.32h-2.5M71.5 427.87h2.5M525.2 427.87h-2.5M71.5 425.42h2.5M525.2 425.42h-2.5M71.5 422.98h2.5M525.2 422.98h-2.5M71.5 420.53h2.5M525.2 420.53h-2.5M71.5 418.08h2.5M525.2 418.08h-2.5M71.5 415.63h2.5M525.2 415.63h-2.5M71.5 413.19h2.5M525.2 413.19h-2.5M71.5 410.74h2.5M525.2 410.74h-2.5M71.5 408.29h2.5M525.2 408.29h-2.5M71.5 405.84h2.5M525.2 405.84h-2.5M71.5 403.39h2.5M525.2 403.39h-2.5M71.5 400.95h2.5M525.2 400.95h-2.5M71.5 398.5h2.5M525.2 398.5h-2.5M71.5 396.05h2.5M525.2 396.05h-2.5M71.5 393.61h2.5M525.2 393.61h-2.5M71.5 391.16h2.5M525.2 391.16h-2.5M71.5 388.71h2.5M525.2 388.71h-2.5M71.5 386.26h2.5M525.2 386.26h-2.5M71.5 383.81h2.5M525.2 383.81h-2.5M71.5 447.45h6M525.2 447.45h-6M71.5 437.66h6M525.2 437.66h-6M71.5 427.87h6M525.2 427.87h-6M71.5 418.08h6M525.2 418.08h-6M71.5 408.29h6M525.2 408.29h-6M71.5 398.5h6M525.2 398.5h-6M71.5 388.71h6M525.2 388.71h-6M71.5 514.35h2.5M525.2 514.35h-2.5M71.5 511.09h2.5M525.2 511.09h-2.5M71.5 507.84h2.5M525.2 507.84h-2.5M71.5 504.58h2.5M525.2 504.58h-2.5M71.5 501.33h2.5M525.2 501.33h-2.5M71.5 498.07h2.5M525.2 498.07h-2.5M71.5 494.81h2.5M525.2 494.81h-2.5M71.5 491.56h2.5M525.2 491.56h-2.5M71.5 488.31h2.5M525.2 488.31h-2.5M71.5 485.05h2.5M525.2 485.05h-2.5M71.5 481.8h2.5M525.2 481.8h-2.5M71.5 478.54h2.5M525.2 478.54h-2.5M71.5 475.29h2.5M525.2 475.29h-2.5M71.5 472.03h2.5M525.2 472.03h-2.5M71.5 468.78h2.5M525.2 468.78h-2.5M71.5 465.52h2.5M525.2 465.52h-2.5M71.5 462.27h2.5M525.2 462.27h-2.5M71.5 459.01h2.5M525.2 459.01h-2.5M71.5 455.75h2.5M525.2 455.75h-2.5M71.5 452.5h2.5M525.2 452.5h-2.5M71.5 517.6h6M525.2 517.6h-6M71.5 501.33h6M525.2 501.33h-6M71.5 485.05h6M525.2 485.05h-6M71.5 468.78h6M525.2 468.78h-6M71.5 452.5h6M525.2 452.5h-6M71.5 583.84h2.5M525.2 583.84h-2.5M71.5 581.28h2.5M525.2 581.28h-2.5M71.5 578.72h2.5M525.2 578.72h-2.5M71.5 576.16h2.5M525.2 576.16h-2.5M71.5 573.6h2.5M525.2 573.6h-2.5M71.5 571.04h2.5M525.2 571.04h-2.5M71.5 568.48h2.5M525.2 568.48h-2.5M71.5 565.92h2.5M525.2 565.92h-2.5M71.5 563.36h2.5M525.2 563.36h-2.5M71.5 560.8h2.5M525.2 560.8h-2.5M71.5 558.24h2.5M525.2 558.24h-2.5M71.5 555.68h2.5M525.2 555.68h-2.5M71.5 553.12h2.5M525.2 553.12h-2.5M71.5 550.56h2.5M525.2 550.56h-2.5M71.5 548h2.5M525.2 548h-2.5M71.5 545.44h2.5M525.2 545.44h-2.5M71.5 542.88h2.5M525.2 542.88h-2.5M71.5 540.32h2.5M525.2 540.32h-2.5M71.5 537.76h2.5M525.2 537.76h-2.5M71.5 535.2h2.5M525.2 535.2h-2.5M71.5 532.64h2.5M525.2 532.64h-2.5M71.5 530.08h2.5M525.2 530.08h-2.5M71.5 527.52h2.5M525.2 527.52h-2.5M71.5 524.96h2.5M525.2 524.96h-2.5M71.5 522.4h2.5M525.2 522.4h-2.5M71.5 519.84h2.5M525.2 519.84h-2.5M71.5 573.6h6M525.2 573.6h-6M71.5 560.8h6M525.2 560.8h-6M71.5 548h6M525.2 548h-6M71.5 535.2h6M525.2 535.2h-6M71.5 522.4h6M525.2 522.4h-6M71.5 614.7h2.5M525.2 614.7h-2.5M71.5 644.7h2.5M525.2 644.7h-2.5M71.5 718.7h2.5M525.2 718.7h-2.5M71.5 713.1h2.5M525.2 713.1h-2.5M71.5 707.5h2.5M525.2 707.5h-2.5M71.5 701.9h2.5M525.2 701.9h-2.5M71.5 696.3h2.5M525.2 696.3h-2.5M71.5 690.7h2.5M525.2 690.7h-2.5M71.5 685.1h2.5M525.2 685.1h-2.5M71.5 679.5h2.5M525.2 679.5h-2.5M71.5 673.9h2.5M525.2 673.9h-2.5M71.5 668.3h2.5M525.2 668.3h-2.5M71.5 662.7h2.5M525.2 662.7h-2.5M71.5 657.1h2.5M525.2 657.1h-2.5M71.5 701.9h6M525.2 701.9h-6M71.5 679.5h6M525.2 679.5h-6M71.5 657.1h6M525.2 657.1h-6M668.8 113.57h2.5M1122.3 113.57h-2.5M668.8 110.48h2.5M1122.3 110.48h-2.5M668.8 107.39h2.5M1122.3 107.39h-2.5M668.8 104.3h2.5M1122.3 104.3h-2.5M668.8 101.21h2.5M1122.3 101.21h-2.5M668.8 98.12h2.5M1122.3 98.12h-2.5M668.8 95.03h2.5M1122.3 95.03h-2.5M668.8 91.94h2.5M1122.3 91.94h-2.5M668.8 88.85h2.5M1122.3 88.85h-2.5M668.8 85.76h2.5M1122.3 85.76h-2.5M668.8 82.67h2.5M1122.3 82.67h-2.5M668.8 79.58h2.5M1122.3 79.58h-2.5M668.8 76.49h2.5M1122.3 76.49h-2.5M668.8 73.4h2.5M1122.3 73.4h-2.5M668.8 70.31h2.5M1122.3 70.31h-2.5M668.8 67.22h2.5M1122.3 67.22h-2.5M668.8 64.13h2.5M1122.3 64.13h-2.5M668.8 61.04h2.5M1122.3 61.04h-2.5M668.8 57.95h2.5M1122.3 57.95h-2.5M668.8 54.86h2.5M1122.3 54.86h-2.5M668.8 51.77h2.5M1122.3 51.77h-2.5M668.8 48.68h2.5M1122.3 48.68h-2.5M668.8 45.59h2.5M1122.3 45.59h-2.5M668.8 110.48h6M1122.3 110.48h-6M668.8 98.12h6M1122.3 98.12h-6M668.8 85.76h6M1122.3 85.76h-6M668.8 73.4h6M1122.3 73.4h-6M668.8 61.04h6M1122.3 61.04h-6M668.8 48.68h6M1122.3 48.68h-6M668.8 187.5h6M1122.3 187.5h-6M668.8 181.3h2.5M1122.3 181.3h-2.5M668.8 177.67h2.5M1122.3 177.67h-2.5M668.8 175.1h2.5M1122.3 175.1h-2.5M668.8 173.1h2.5M1122.3 173.1h-2.5M668.8 171.47h2.5M1122.3 171.47h-2.5M668.8 170.09h2.5M1122.3 170.09h-2.5M668.8 168.9h2.5M1122.3 168.9h-2.5M668.8 167.84h2.5M1122.3 167.84h-2.5M668.8 167.6h6M1122.3 167.6h-6M668.8 161.4h2.5M1122.3 161.4h-2.5M668.8 157.77h2.5M1122.3 157.77h-2.5M668.8 155.2h2.5M1122.3 155.2h-2.5M668.8 153.2h2.5M1122.3 153.2h-2.5M668.8 151.57h2.5M1122.3 151.57h-2.5M668.8 150.19h2.5M1122.3 150.19h-2.5M668.8 149h2.5M1122.3 149h-2.5M668.8 147.94h2.5M1122.3 147.94h-2.5M668.8 146.6h6M1122.3 146.6h-6M668.8 140.4h2.5M1122.3 140.4h-2.5M668.8 136.77h2.5M1122.3 136.77h-2.5M668.8 134.2h2.5M1122.3 134.2h-2.5M668.8 132.2h2.5M1122.3 132.2h-2.5M668.8 130.57h2.5M1122.3 130.57h-2.5M668.8 129.19h2.5M1122.3 129.19h-2.5M668.8 128h2.5M1122.3 128h-2.5M668.8 126.94h2.5M1122.3 126.94h-2.5M668.8 125.7h6M1122.3 125.7h-6M668.8 119.5h2.5M1122.3 119.5h-2.5M668.8 261.95h2.5M1122.3 261.95h-2.5M668.8 258.25h2.5M1122.3 258.25h-2.5M668.8 254.54h2.5M1122.3 254.54h-2.5M668.8 250.84h2.5M1122.3 250.84h-2.5M668.8 247.14h2.5M1122.3 247.14h-2.5M668.8 243.43h2.5M1122.3 243.43h-2.5M668.8 239.73h2.5M1122.3 239.73h-2.5M668.8 236.02h2.5M1122.3 236.02h-2.5M668.8 232.32h2.5M1122.3 232.32h-2.5M668.8 228.62h2.5M1122.3 228.62h-2.5M668.8 224.91h2.5M1122.3 224.91h-2.5M668.8 221.21h2.5M1122.3 221.21h-2.5M668.8 217.5h2.5M1122.3 217.5h-2.5M668.8 213.8h2.5M1122.3 213.8h-2.5M668.8 210.1h2.5M1122.3 210.1h-2.5M668.8 206.39h2.5M1122.3 206.39h-2.5M668.8 202.69h2.5M1122.3 202.69h-2.5M668.8 198.98h2.5M1122.3 198.98h-2.5M668.8 195.28h2.5M1122.3 195.28h-2.5M668.8 191.58h2.5M1122.3 191.58h-2.5M668.8 250.84h6M1122.3 250.84h-6M668.8 232.32h6M1122.3 232.32h-6M668.8 213.8h6M1122.3 213.8h-6M668.8 195.28h6M1122.3 195.28h-6M668.8 273.5h2.5M1122.3 273.5h-2.5M668.8 288.5h2.5M1122.3 288.5h-2.5M668.8 330.5h2.5M1122.3 330.5h-2.5M668.8 408.68h2.5M1122.3 408.68h-2.5M668.8 405.54h2.5M1122.3 405.54h-2.5M668.8 402.4h2.5M1122.3 402.4h-2.5M668.8 399.26h2.5M1122.3 399.26h-2.5M668.8 396.12h2.5M1122.3 396.12h-2.5M668.8 392.98h2.5M1122.3 392.98h-2.5M668.8 389.84h2.5M1122.3 389.84h-2.5M668.8 386.7h2.5M1122.3 386.7h-2.5M668.8 383.56h2.5M1122.3 383.56h-2.5M668.8 380.42h2.5M1122.3 380.42h-2.5M668.8 377.28h2.5M1122.3 377.28h-2.5M668.8 374.14h2.5M1122.3 374.14h-2.5M668.8 371h2.5M1122.3 371h-2.5M668.8 367.86h2.5M1122.3 367.86h-2.5M668.8 364.72h2.5M1122.3 364.72h-2.5M668.8 361.58h2.5M1122.3 361.58h-2.5M668.8 358.44h2.5M1122.3 358.44h-2.5M668.8 355.3h2.5M1122.3 355.3h-2.5M668.8 352.16h2.5M1122.3 352.16h-2.5M668.8 349.02h2.5M1122.3 349.02h-2.5M668.8 345.88h2.5M1122.3 345.88h-2.5M668.8 342.74h2.5M1122.3 342.74h-2.5M668.8 339.6h2.5M1122.3 339.6h-2.5M668.8 402.4h6M1122.3 402.4h-6M668.8 386.7h6M1122.3 386.7h-6M668.8 371h6M1122.3 371h-6M668.8 355.3h6M1122.3 355.3h-6M668.8 339.6h6M1122.3 339.6h-6M668.8 479.78h2.5M1122.3 479.78h-2.5M668.8 474.86h2.5M1122.3 474.86h-2.5M668.8 469.94h2.5M1122.3 469.94h-2.5M668.8 465.02h2.5M1122.3 465.02h-2.5M668.8 460.1h2.5M1122.3 460.1h-2.5M668.8 455.18h2.5M1122.3 455.18h-2.5M668.8 450.26h2.5M1122.3 450.26h-2.5M668.8 445.34h2.5M1122.3 445.34h-2.5M668.8 440.42h2.5M1122.3 440.42h-2.5M668.8 435.5h2.5M1122.3 435.5h-2.5M668.8 430.58h2.5M1122.3 430.58h-2.5M668.8 425.66h2.5M1122.3 425.66h-2.5M668.8 420.74h2.5M1122.3 420.74h-2.5M668.8 415.82h2.5M1122.3 415.82h-2.5M668.8 472.4h6M1122.3 472.4h-6M668.8 447.8h6M1122.3 447.8h-6M668.8 423.2h6M1122.3 423.2h-6M668.8 555.76h2.5M1122.3 555.76h-2.5M668.8 551.82h2.5M1122.3 551.82h-2.5M668.8 547.88h2.5M1122.3 547.88h-2.5M668.8 543.94h2.5M1122.3 543.94h-2.5M668.8 540h2.5M1122.3 540h-2.5M668.8 536.06h2.5M1122.3 536.06h-2.5M668.8 532.12h2.5M1122.3 532.12h-2.5M668.8 528.18h2.5M1122.3 528.18h-2.5M668.8 524.24h2.5M1122.3 524.24h-2.5M668.8 520.3h2.5M1122.3 520.3h-2.5M668.8 516.36h2.5M1122.3 516.36h-2.5M668.8 512.42h2.5M1122.3 512.42h-2.5M668.8 508.48h2.5M1122.3 508.48h-2.5M668.8 504.54h2.5M1122.3 504.54h-2.5M668.8 500.6h2.5M1122.3 500.6h-2.5M668.8 496.66h2.5M1122.3 496.66h-2.5M668.8 492.72h2.5M1122.3 492.72h-2.5M668.8 488.78h2.5M1122.3 488.78h-2.5M668.8 540h6M1122.3 540h-6M668.8 520.3h6M1122.3 520.3h-6M668.8 500.6h6M1122.3 500.6h-6M668.8 628.86h2.5M1122.3 628.86h-2.5M668.8 624.68h2.5M1122.3 624.68h-2.5M668.8 620.5h2.5M1122.3 620.5h-2.5M668.8 616.32h2.5M1122.3 616.32h-2.5M668.8 612.14h2.5M1122.3 612.14h-2.5M668.8 607.96h2.5M1122.3 607.96h-2.5M668.8 603.78h2.5M1122.3 603.78h-2.5M668.8 599.6h2.5M1122.3 599.6h-2.5M668.8 595.42h2.5M1122.3 595.42h-2.5M668.8 591.24h2.5M1122.3 591.24h-2.5M668.8 587.06h2.5M1122.3 587.06h-2.5M668.8 582.88h2.5M1122.3 582.88h-2.5M668.8 578.7h2.5M1122.3 578.7h-2.5M668.8 574.52h2.5M1122.3 574.52h-2.5M668.8 570.34h2.5M1122.3 570.34h-2.5M668.8 566.16h2.5M1122.3 566.16h-2.5M668.8 561.98h2.5M1122.3 561.98h-2.5M668.8 620.5h6M1122.3 620.5h-6M668.8 599.6h6M1122.3 599.6h-6M668.8 578.7h6M1122.3 578.7h-6M668.8 700.15h2.5M1122.3 700.15h-2.5M668.8 694.5h2.5M1122.3 694.5h-2.5M668.8 688.85h2.5M1122.3 688.85h-2.5M668.8 683.2h2.5M1122.3 683.2h-2.5M668.8 677.55h2.5M1122.3 677.55h-2.5M668.8 671.9h2.5M1122.3 671.9h-2.5M668.8 666.25h2.5M1122.3 666.25h-2.5M668.8 660.6h2.5M1122.3 660.6h-2.5M668.8 654.95h2.5M1122.3 654.95h-2.5M668.8 649.3h2.5M1122.3 649.3h-2.5M668.8 643.65h2.5M1122.3 643.65h-2.5M668.8 638h2.5M1122.3 638h-2.5M668.8 705.8h6M1122.3 705.8h-6M668.8 683.2h6M1122.3 683.2h-6M668.8 660.6h6M1122.3 660.6h-6M668.8 638h6M1122.3 638h-6" stroke="#000" stroke-width="0.9" fill="none"/>
<rect x="71.5" y="33.4" width="453.7" height="134.8" fill="none" stroke="#000" stroke-width="1.3"/>
<rect x="71.5" y="176.6" width="453.7" height="68.4" fill="none" stroke="#000" stroke-width="1.3"/>
<rect x="71.5" y="245" width="453.7" height="67.5" fill="none" stroke="#000" stroke-width="1.3"/>
<rect x="71.5" y="312.5" width="453.7" height="69.5" fill="none" stroke="#000" stroke-width="1.3"/>
<rect x="71.5" y="382" width="453.7" height="67.5" fill="none" stroke="#000" stroke-width="1.3"/>
<rect x="71.5" y="449.5" width="453.7" height="68.5" fill="none" stroke="#000" stroke-width="1.3"/>
<rect x="71.5" y="518" width="453.7" height="68.5" fill="none" stroke="#000" stroke-width="1.3"/>
<rect x="71.5" y="586.5" width="453.7" height="68.5" fill="none" stroke="#000" stroke-width="1.3"/>
<rect x="71.5" y="655" width="453.7" height="68" fill="none" stroke="#000" stroke-width="1.3"/>
<rect x="668.8" y="42" width="453.5" height="73.8" fill="none" stroke="#000" stroke-width="1.3"/>
<rect x="668.8" y="115.8" width="453.5" height="73.4" fill="none" stroke="#000" stroke-width="1.3"/>
<rect x="668.8" y="189.2" width="453.5" height="74" fill="none" stroke="#000" stroke-width="1.3"/>
<rect x="668.8" y="263.2" width="453.5" height="74.4" fill="none" stroke="#000" stroke-width="1.3"/>
<rect x="668.8" y="337.6" width="453.5" height="73.7" fill="none" stroke="#000" stroke-width="1.3"/>
<rect x="668.8" y="411.3" width="453.5" height="73.7" fill="none" stroke="#000" stroke-width="1.3"/>
<rect x="668.8" y="485" width="453.5" height="73.6" fill="none" stroke="#000" stroke-width="1.3"/>
<rect x="668.8" y="558.6" width="453.5" height="73.7" fill="none" stroke="#000" stroke-width="1.3"/>
<rect x="668.8" y="632.3" width="453.5" height="74" fill="none" stroke="#000" stroke-width="1.3"/>
<text x="151.4" y="739.5" font-size="11" text-anchor="middle" fill="#000" font-weight="normal">07:57:20</text>
<text x="252.4" y="739.5" font-size="11" text-anchor="middle" fill="#000" font-weight="normal">07:57:40</text>
<text x="353.4" y="739.5" font-size="11" text-anchor="middle" fill="#000" font-weight="normal">07:58:00</text>
<text x="454.4" y="739.5" font-size="11" text-anchor="middle" fill="#000" font-weight="normal">07:58:20</text>
<text x="49.8" y="760.8" font-size="11" text-anchor="start" fill="#000" font-weight="normal">X</text>
<text x="151.4" y="760.8" font-size="11" text-anchor="middle" fill="#000" font-weight="normal">8.24</text>
<text x="252.4" y="760.8" font-size="11" text-anchor="middle" fill="#000" font-weight="normal">8.24</text>
<text x="353.4" y="760.8" font-size="11" text-anchor="middle" fill="#000" font-weight="normal">8.24</text>
<text x="454.4" y="760.8" font-size="11" text-anchor="middle" fill="#000" font-weight="normal">8.23</text>
<text x="539" y="760.8" font-size="11" text-anchor="start" fill="#000" font-weight="normal">Re</text>
<text x="49.8" y="778.8" font-size="11" text-anchor="start" fill="#000" font-weight="normal">Y</text>
<text x="151.4" y="778.8" font-size="11" text-anchor="middle" fill="#000" font-weight="normal">-3.89</text>
<text x="252.4" y="778.8" font-size="11" text-anchor="middle" fill="#000" font-weight="normal">-3.89</text>
<text x="353.4" y="778.8" font-size="11" text-anchor="middle" fill="#000" font-weight="normal">-3.88</text>
<text x="454.4" y="778.8" font-size="11" text-anchor="middle" fill="#000" font-weight="normal">-3.88</text>
<text x="539" y="778.8" font-size="11" text-anchor="start" fill="#000" font-weight="normal">Re</text>
<text x="49.8" y="796.8" font-size="11" text-anchor="start" fill="#000" font-weight="normal">Z</text>
<text x="151.4" y="796.8" font-size="11" text-anchor="middle" fill="#000" font-weight="normal">-0.811</text>
<text x="252.4" y="796.8" font-size="11" text-anchor="middle" fill="#000" font-weight="normal">-0.81</text>
<text x="353.4" y="796.8" font-size="11" text-anchor="middle" fill="#000" font-weight="normal">-0.809</text>
<text x="454.4" y="796.8" font-size="11" text-anchor="middle" fill="#000" font-weight="normal">-0.809</text>
<text x="539" y="796.8" font-size="11" text-anchor="start" fill="#000" font-weight="normal">Re</text>
<text x="748.5" y="723.5" font-size="11" text-anchor="middle" fill="#000" font-weight="normal">07:57:20</text>
<text x="849.5" y="723.5" font-size="11" text-anchor="middle" fill="#000" font-weight="normal">07:57:40</text>
<text x="950.5" y="723.5" font-size="11" text-anchor="middle" fill="#000" font-weight="normal">07:58:00</text>
<text x="1051.5" y="723.5" font-size="11" text-anchor="middle" fill="#000" font-weight="normal">07:58:20</text>
<text x="646.9" y="745.5" font-size="11" text-anchor="start" fill="#000" font-weight="normal">X</text>
<text x="748.5" y="745.5" font-size="11" text-anchor="middle" fill="#000" font-weight="normal">8.24</text>
<text x="849.5" y="745.5" font-size="11" text-anchor="middle" fill="#000" font-weight="normal">8.24</text>
<text x="950.5" y="745.5" font-size="11" text-anchor="middle" fill="#000" font-weight="normal">8.24</text>
<text x="1051.5" y="745.5" font-size="11" text-anchor="middle" fill="#000" font-weight="normal">8.23</text>
<text x="1136.1" y="745.5" font-size="11" text-anchor="start" fill="#000" font-weight="normal">Re</text>
<text x="646.9" y="763.5" font-size="11" text-anchor="start" fill="#000" font-weight="normal">Y</text>
<text x="748.5" y="763.5" font-size="11" text-anchor="middle" fill="#000" font-weight="normal">-3.89</text>
<text x="849.5" y="763.5" font-size="11" text-anchor="middle" fill="#000" font-weight="normal">-3.89</text>
<text x="950.5" y="763.5" font-size="11" text-anchor="middle" fill="#000" font-weight="normal">-3.88</text>
<text x="1051.5" y="763.5" font-size="11" text-anchor="middle" fill="#000" font-weight="normal">-3.88</text>
<text x="1136.1" y="763.5" font-size="11" text-anchor="start" fill="#000" font-weight="normal">Re</text>
<text x="646.9" y="781" font-size="11" text-anchor="start" fill="#000" font-weight="normal">Z</text>
<text x="748.5" y="781" font-size="11" text-anchor="middle" fill="#000" font-weight="normal">-0.811</text>
<text x="849.5" y="781" font-size="11" text-anchor="middle" fill="#000" font-weight="normal">-0.81</text>
<text x="950.5" y="781" font-size="11" text-anchor="middle" fill="#000" font-weight="normal">-0.809</text>
<text x="1051.5" y="781" font-size="11" text-anchor="middle" fill="#000" font-weight="normal">-0.809</text>
<text x="1136.1" y="781" font-size="11" text-anchor="start" fill="#000" font-weight="normal">Re</text>
<text x="1219" y="20" font-family='"Liberation Mono", monospace' font-size="13.33" xml:space="preserve" fill="#000">:</text>
<text x="1219" y="35" font-family='"Liberation Mono", monospace' font-size="13.33" xml:space="preserve" fill="#000"> Event ID         : 20160121_075704</text>
<text x="1219" y="50" font-family='"Liberation Mono", monospace' font-size="13.33" xml:space="preserve" fill="#000"> FlagStr          : msh,udef,mon,gf,s,compl,keep</text>
<text x="1219" y="65" font-family='"Liberation Mono", monospace' font-size="13.33" xml:space="preserve" fill="#000"> GSEpos [Re]      : [ 8.25, -3.91, -0.81 ]</text>
<text x="1219" y="80" font-family='"Liberation Mono", monospace' font-size="13.33" xml:space="preserve" fill="#000">                  :</text>
<text x="1219" y="95" font-family='"Liberation Mono", monospace' font-size="13.33" xml:space="preserve" fill="#000"> LMN coords       :</text>
<text x="1219" y="110" font-family='"Liberation Mono", monospace' font-size="13.33" xml:space="preserve" fill="#000">    L             : [ -0.007, -0.526,  0.850 ]</text>
<text x="1219" y="125" font-family='"Liberation Mono", monospace' font-size="13.33" xml:space="preserve" fill="#000">    M             : [ -0.171,  0.839,  0.517 ]</text>
<text x="1219" y="140" font-family='"Liberation Mono", monospace' font-size="13.33" xml:space="preserve" fill="#000">    N             : [  0.985,  0.142,  0.096 ]</text>
<text x="1219" y="155" font-family='"Liberation Mono", monospace' font-size="13.33" xml:space="preserve" fill="#000">                  :</text>
<text x="1219" y="170" font-family='"Liberation Mono", monospace' font-size="13.33" xml:space="preserve" fill="#000">  Times           : (as indicated by red, green lines in plots)</text>
<text x="1219" y="185" font-family='"Liberation Mono", monospace' font-size="13.33" xml:space="preserve" fill="#000">    t_0           : 07:57:51  (red dotted line)</text>
<text x="1219" y="200" font-family='"Liberation Mono", monospace' font-size="13.33" xml:space="preserve" fill="#000">    t_MVAB1       : 07:57:39  (leftmost green line)</text>
<text x="1219" y="215" font-family='"Liberation Mono", monospace' font-size="13.33" xml:space="preserve" fill="#000">    t_MVAB2       : 07:58:01  (rightmost green line)</text>
<text x="1219" y="230" font-family='"Liberation Mono", monospace' font-size="13.33" xml:space="preserve" fill="#000">                  :</text>
<text x="1219" y="245" font-family='"Liberation Mono", monospace' font-size="13.33" xml:space="preserve" fill="#000">|Bmin|, |Vmax|    :</text>
<text x="1219" y="260" font-family='"Liberation Mono", monospace' font-size="13.33" xml:space="preserve" fill="#000">    Bmin          : 45.88 [nT]  at 07:58:04</text>
<text x="1219" y="275" font-family='"Liberation Mono", monospace' font-size="13.33" xml:space="preserve" fill="#000">    Vmax_tht      : 121.56 [km/s]  at 07:57:49</text>
<text x="1219" y="290" font-family='"Liberation Mono", monospace' font-size="13.33" xml:space="preserve" fill="#000">    Vmax_tburst   : 121.56 [km/s]  at 07:57:49</text>
<text x="1219" y="305" font-family='"Liberation Mono", monospace' font-size="13.33" xml:space="preserve" fill="#000">                  :</text>
<text x="1219" y="320" font-family='"Liberation Mono", monospace' font-size="13.33" xml:space="preserve" fill="#000"> Normals          :</text>
<text x="1219" y="335" font-family='"Liberation Mono", monospace' font-size="13.33" xml:space="preserve" fill="#000">    N MVAB        : [  0.994, -0.107,  0.007 ]   (L2/L1 = 4.43)</text>
<text x="1219" y="350" font-family='"Liberation Mono", monospace' font-size="13.33" xml:space="preserve" fill="#000">    N MVAB0       : [  0.857, -0.452, -0.246 ]   (L3/L2 = 75.33)</text>
<text x="1219" y="365" font-family='"Liberation Mono", monospace' font-size="13.33" xml:space="preserve" fill="#000">    N MFR         : [ -0.956,  0.245,  0.161 ]   (L2/L1 = 5.41)</text>
<text x="1219" y="380" font-family='"Liberation Mono", monospace' font-size="13.33" xml:space="preserve" fill="#000">                  :</text>
<text x="1219" y="395" font-family='"Liberation Mono", monospace' font-size="13.33" xml:space="preserve" fill="#000"> Durations [s]    : (between red, resp green lines)</text>
<text x="1219" y="410" font-family='"Liberation Mono", monospace' font-size="13.33" xml:space="preserve" fill="#000">    T_CS          : 11.16</text>
<text x="1219" y="425" font-family='"Liberation Mono", monospace' font-size="13.33" xml:space="preserve" fill="#000">    T_MFR/HT      : 22.32</text>
<text x="1219" y="440" font-family='"Liberation Mono", monospace' font-size="13.33" xml:space="preserve" fill="#000">                  :</text>
<text x="1219" y="455" font-family='"Liberation Mono", monospace' font-size="13.33" xml:space="preserve" fill="#000"> Velocity [km/s]  : (based on FPI ion data)</text>
<text x="1219" y="470" font-family='"Liberation Mono", monospace' font-size="13.33" xml:space="preserve" fill="#000">    VnMFR         : 61.9</text>
<text x="1219" y="485" font-family='"Liberation Mono", monospace' font-size="13.33" xml:space="preserve" fill="#000">    VHT.Nmvab     : 75.7  (HTcc = 0.960)</text>
<text x="1219" y="500" font-family='"Liberation Mono", monospace' font-size="13.33" xml:space="preserve" fill="#000">    VHT.Nmvab0    : 51.5</text>
<text x="1219" y="515" font-family='"Liberation Mono", monospace' font-size="13.33" xml:space="preserve" fill="#000">                  :</text>
<text x="1219" y="530" font-family='"Liberation Mono", monospace' font-size="13.33" xml:space="preserve" fill="#000"> CS thickness [km]: (D=T_CS * Vs from above)</text>
<text x="1219" y="545" font-family='"Liberation Mono", monospace' font-size="13.33" xml:space="preserve" fill="#000">    D1=TCS*Vnmfr  : 691</text>
<text x="1219" y="560" font-family='"Liberation Mono", monospace' font-size="13.33" xml:space="preserve" fill="#000">    D2=TCS*VHTn   : 845</text>
<text x="1219" y="575" font-family='"Liberation Mono", monospace' font-size="13.33" xml:space="preserve" fill="#000">    D3=TCS*VHTn0  : 575</text>
<text x="1219" y="590" font-family='"Liberation Mono", monospace' font-size="13.33" xml:space="preserve" fill="#000">                  :</text>
<text x="1219" y="605" font-family='"Liberation Mono", monospace' font-size="13.33" xml:space="preserve" fill="#000"> Currents [uA/m2] :</text>
<text x="1219" y="620" font-family='"Liberation Mono", monospace' font-size="13.33" xml:space="preserve" fill="#000">    Jave_CS       : 0.209</text>
<text x="1219" y="635" font-family='"Liberation Mono", monospace' font-size="13.33" xml:space="preserve" fill="#000">    Jmax_THT      : 1.915  at 07:57:52</text>
<text x="1219" y="650" font-family='"Liberation Mono", monospace' font-size="13.33" xml:space="preserve" fill="#000">    Jmax_brst     : 1.915  at 07:57:52</text>
<text x="1219" y="665" font-family='"Liberation Mono", monospace' font-size="13.33" xml:space="preserve" fill="#000">                  :</text>
<text x="1219" y="680" font-family='"Liberation Mono", monospace' font-size="13.33" xml:space="preserve" fill="#000"> HPCA mom [1/cm3] :   Min   -  Max    (  Ave   )  within full brst int</text>
<text x="1219" y="695" font-family='"Liberation Mono", monospace' font-size="13.33" xml:space="preserve" fill="#000">    H+            :  39.031 - 57.988  ( 52.904 )</text>
<text x="1219" y="710" font-family='"Liberation Mono", monospace' font-size="13.33" xml:space="preserve" fill="#000">    He+           :   0.002 -  0.009  (  0.003 )</text>
<text x="1219" y="725" font-family='"Liberation Mono", monospace' font-size="13.33" xml:space="preserve" fill="#000">    He++          :   3.611 -  5.413  (  4.338 )</text>
<text x="1219" y="740" font-family='"Liberation Mono", monospace' font-size="13.33" xml:space="preserve" fill="#000">    O+            :   0.008 -  0.028  (  0.008 )</text>
<text x="1219" y="755" font-family='"Liberation Mono", monospace' font-size="13.33" xml:space="preserve" fill="#000">                  :</text>
<text x="1219" y="770" font-family='"Liberation Mono", monospace' font-size="13.33" xml:space="preserve" fill="#000"> SEH date         : 2019-11-29 09:40:24</text>
<text x="1219" y="785" font-family='"Liberation Mono", monospace' font-size="13.33" xml:space="preserve" fill="#000">                  :</text>
</svg></body></html>
